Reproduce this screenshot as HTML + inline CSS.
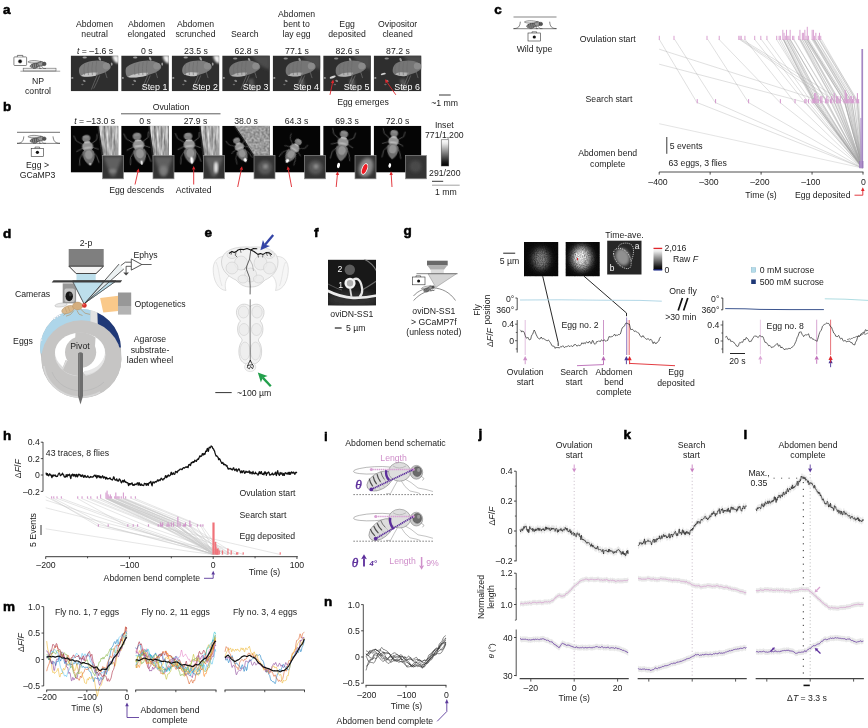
<!DOCTYPE html>
<html lang="en"><head><meta charset="utf-8"><title>Figure</title>
<style>
html,body{margin:0;padding:0;background:#fff}
svg{display:block}
text{font-family:"Liberation Sans",sans-serif;font-size:8.7px;fill:#222}
.pl{font-weight:bold;fill:#000;stroke:#000;stroke-width:0.55px}
</style></head><body>
<svg width="868" height="728" viewBox="0 0 868 728">
<rect width="868" height="728" fill="#fff"/>
<defs>
<filter id="b05" x="-20%" y="-20%" width="140%" height="140%"><feGaussianBlur stdDeviation="0.45"/></filter>
<filter id="b06" x="-20%" y="-20%" width="140%" height="140%"><feGaussianBlur stdDeviation="0.6"/></filter>
<filter id="b1" x="-20%" y="-20%" width="140%" height="140%"><feGaussianBlur stdDeviation="0.8"/></filter>
<filter id="b15" x="-30%" y="-30%" width="160%" height="160%"><feGaussianBlur stdDeviation="1.6"/></filter>
<filter id="b3" x="-50%" y="-50%" width="200%" height="200%"><feGaussianBlur stdDeviation="3"/></filter>
<filter id="noise" x="0" y="0" width="100%" height="100%" color-interpolation-filters="sRGB"><feTurbulence type="fractalNoise" baseFrequency="0.9" numOctaves="2" seed="4"/><feColorMatrix type="matrix" values="0 0 0 0 0  0 0 0 0 0  0 0 0 0 0  1.6 0 0 0 -0.45"/></filter>
<filter id="texf" x="0" y="0" width="100%" height="100%" color-interpolation-filters="sRGB"><feTurbulence type="fractalNoise" baseFrequency="0.6 0.06" numOctaves="3" seed="7"/><feColorMatrix type="matrix" values="1.0 0 0 0 0.16  1.0 0 0 0 0.16  1.0 0 0 0 0.16  0 0 0 0 1"/></filter><filter id="texf2" x="0" y="0" width="100%" height="100%" color-interpolation-filters="sRGB"><feTurbulence type="fractalNoise" baseFrequency="0.5" numOctaves="3" seed="3"/><feColorMatrix type="matrix" values="0.55 0 0 0 0.33  0.55 0 0 0 0.33  0.55 0 0 0 0.33  0 0 0 0 1"/></filter>
<pattern id="tex" patternUnits="userSpaceOnUse" x="0" y="0" width="60" height="60"><rect width="60" height="60" fill="#a8a8a8"/><rect width="60" height="60" filter="url(#texf)"/></pattern>
<pattern id="tex2" patternUnits="userSpaceOnUse" x="0" y="0" width="60" height="60"><rect width="60" height="60" fill="#999"/><rect width="60" height="60" filter="url(#texf2)"/></pattern>
<linearGradient id="gbw" x1="0" y1="0" x2="0" y2="1"><stop offset="0" stop-color="#fff"/><stop offset="0.15" stop-color="#e8e8e8"/><stop offset="0.85" stop-color="#1a1a1a"/><stop offset="1" stop-color="#000"/></linearGradient>
<clipPath id="ca"><rect x="0" y="0" width="47.7" height="35.8"/></clipPath>
<clipPath id="cb"><rect x="0" y="0" width="47.7" height="46.8"/></clipPath>
<clipPath id="ci"><rect x="0.4" y="0.4" width="20.2" height="22.5"/></clipPath>
<clipPath id="cf"><rect x="328" y="259.6" width="48" height="46"/></clipPath>
<clipPath id="cg1"><rect x="524" y="242" width="34.2" height="34.2"/></clipPath>
<clipPath id="cg2"><rect x="565.7" y="242" width="34" height="34.2"/></clipPath>
<clipPath id="cg3"><rect x="607.2" y="240.7" width="34.3" height="33.8"/></clipPath>
<clipPath id="cwL"><polygon points="30,300 90.8,300 90.2,353.6 30,353.6"/></clipPath>
<clipPath id="cwW"><polygon points="90.8,300 97,300 98,330 90.2,330"/></clipPath>
<clipPath id="cwR"><polygon points="97,300 130,300 130,347.5 110,347.5 98,330"/></clipPath>
</defs><!-- panels a,b -->
<text x="3" y="13.8" style="font-size:13.5px;" class="pl">a</text>
<text x="3" y="111" style="font-size:13.5px;" class="pl">b</text>
<text x="94.6" y="37.2" text-anchor="middle">neutral</text>
<text x="94.6" y="27.1" text-anchor="middle">Abdomen</text>
<text x="146.5" y="37.2" text-anchor="middle">elongated</text>
<text x="146.5" y="27.1" text-anchor="middle">Abdomen</text>
<text x="195.5" y="37.2" text-anchor="middle">scrunched</text>
<text x="195.5" y="27.1" text-anchor="middle">Abdomen</text>
<text x="244.8" y="37.2" text-anchor="middle">Search</text>
<text x="296.6" y="37.2" text-anchor="middle">lay egg</text>
<text x="296.6" y="27.1" text-anchor="middle">bent to</text>
<text x="296.6" y="17.0" text-anchor="middle">Abdomen</text>
<text x="347.1" y="37.2" text-anchor="middle">deposited</text>
<text x="347.1" y="27.1" text-anchor="middle">Egg</text>
<text x="397.6" y="37.2" text-anchor="middle">cleaned</text>
<text x="397.6" y="27.1" text-anchor="middle">Ovipositor</text>
<text x="95.0" y="53.6" text-anchor="middle"><tspan font-style="italic">t</tspan> = –1.6 s</text>
<text x="146.7" y="53.6" text-anchor="middle">0 s</text>
<text x="195.9" y="53.6" text-anchor="middle">23.5 s</text>
<text x="246.4" y="53.6" text-anchor="middle">62.8 s</text>
<text x="296.9" y="53.6" text-anchor="middle">77.1 s</text>
<text x="347.4" y="53.6" text-anchor="middle">82.6 s</text>
<text x="397.9" y="53.6" text-anchor="middle">87.2 s</text>
<g transform="translate(70.7 55.5)" clip-path="url(#ca)">
<rect x="0.00" y="0.00" width="47.70" height="35.80" fill="#2e2e2e"/>
<g filter="url(#b05)">
<path d="M41.5 0 H48 V8 C45 8 42 5 41.5 0 Z" fill="#f2f2f2" filter="url(#b1)"/>
<ellipse cx="14" cy="2" rx="2.2" ry="0.9" fill="#9a9a9a"/><ellipse cx="29" cy="3.4" rx="1.1" ry="2" fill="#a8a8a8" transform="rotate(-25 29 3.4)"/><ellipse cx="41" cy="8.6" rx="0.9" ry="1.6" fill="#9a9a9a"/>
<g transform="translate(0 0)">
<path d="M8.5 13 C9.3 9.5 14 6.8 21 5.4 C27 4.3 33 5 36 7 C39.6 8.6 41 11 39.4 13.2 C37 16 32 18 27 19.6 C22 21 15.3 21.599999999999998 10.3 20.4 C8.3 18.9 7.9 15.5 8.5 13 Z" fill="#7d7d7d"/>
<path d="M10.3 20.4 C13.8 17.2 20 16.8 27 17.2 L25 20.2 C20 21.4 15.3 21.7 10.3 20.4 Z" fill="#c6c6c6"/>
<path d="M14 8.2 Q12.6 13 13.7 19.6" stroke="#6b6b6b" stroke-width="0.6" fill="none"/>
<path d="M18 7.3 Q16.6 13 17.7 19.6" stroke="#6b6b6b" stroke-width="0.6" fill="none"/>
<path d="M22 6.4 Q20.6 13 21.7 19.6" stroke="#6b6b6b" stroke-width="0.6" fill="none"/>
<path d="M26 5.5 Q24.6 13 25.7 19.6" stroke="#6b6b6b" stroke-width="0.6" fill="none"/>
<ellipse cx="35.6" cy="10.6" rx="3.6" ry="3.4" fill="#8b8b8b"/>
<path d="M26.7 19.4 L23.5 27 L20.7 34 M29 20 L26 27 L23 33 M34.5 16.4 L35.6 20 L36.4 22.6" stroke="#7a7a7a" stroke-width="0.6" fill="none"/>
</g>
<ellipse cx="1.6" cy="22.4" rx="1.1" ry="0.9" fill="#9a9a9a"/><ellipse cx="13.5" cy="25.4" rx="1.5" ry="1" fill="#8a8a8a" transform="rotate(25 13.5 25.4)"/><ellipse cx="11.7" cy="29" rx="1.2" ry="0.8" fill="#6e6e6e"/>
</g>
</g>
<g transform="translate(121.2 55.5)" clip-path="url(#ca)">
<rect x="0.00" y="0.00" width="47.70" height="35.80" fill="#2e2e2e"/>
<g filter="url(#b05)">
<path d="M41.5 0 H48 V8 C45 8 42 5 41.5 0 Z" fill="#f2f2f2" filter="url(#b1)"/>
<ellipse cx="14" cy="2" rx="2.2" ry="0.9" fill="#9a9a9a"/><ellipse cx="29" cy="3.4" rx="1.1" ry="2" fill="#a8a8a8" transform="rotate(-25 29 3.4)"/><ellipse cx="41" cy="8.6" rx="0.9" ry="1.6" fill="#9a9a9a"/>
<g transform="translate(0 0)">
<path d="M4.7 13 C5.5 9.5 14 6.8 21 5.4 C27 4.3 33 5 36 7 C39.6 8.6 41 11 39.4 13.2 C37 16 32 18 27 19.6 C22 21 11.5 22.8 6.5 21.6 C4.5 20.1 4.1 15.5 4.7 13 Z" fill="#7d7d7d"/>
<path d="M6.5 21.6 C10.0 18.400000000000002 20 16.8 27 17.2 L25 20.2 C20 21.4 11.5 22.900000000000002 6.5 21.6 Z" fill="#c6c6c6"/>
<path d="M14 8.2 Q12.6 13 13.7 19.6" stroke="#6b6b6b" stroke-width="0.6" fill="none"/>
<path d="M18 7.3 Q16.6 13 17.7 19.6" stroke="#6b6b6b" stroke-width="0.6" fill="none"/>
<path d="M22 6.4 Q20.6 13 21.7 19.6" stroke="#6b6b6b" stroke-width="0.6" fill="none"/>
<path d="M26 5.5 Q24.6 13 25.7 19.6" stroke="#6b6b6b" stroke-width="0.6" fill="none"/>
<ellipse cx="35.6" cy="10.6" rx="3.6" ry="3.4" fill="#8b8b8b"/>
<path d="M26.7 19.4 L23.5 27 L20.7 34 M29 20 L26 27 L23 33 M34.5 16.4 L35.6 20 L36.4 22.6" stroke="#7a7a7a" stroke-width="0.6" fill="none"/>
</g>
<ellipse cx="1.6" cy="22.4" rx="1.1" ry="0.9" fill="#9a9a9a"/><ellipse cx="13.5" cy="25.4" rx="1.5" ry="1" fill="#8a8a8a" transform="rotate(25 13.5 25.4)"/><ellipse cx="11.7" cy="29" rx="1.2" ry="0.8" fill="#6e6e6e"/>
</g>
<text x="46.2" y="34.3" text-anchor="end" style="fill:#fff;font-size:8.9px;">Step 1</text>
</g>
<g transform="translate(171.7 55.5)" clip-path="url(#ca)">
<rect x="0.00" y="0.00" width="47.70" height="35.80" fill="#2e2e2e"/>
<g filter="url(#b05)">
<path d="M41.5 0 H48 V8 C45 8 42 5 41.5 0 Z" fill="#f2f2f2" filter="url(#b1)"/>
<ellipse cx="14" cy="2" rx="2.2" ry="0.9" fill="#9a9a9a"/><ellipse cx="29" cy="3.4" rx="1.1" ry="2" fill="#a8a8a8" transform="rotate(-25 29 3.4)"/><ellipse cx="41" cy="8.6" rx="0.9" ry="1.6" fill="#9a9a9a"/>
<g transform="translate(0 0)">
<path d="M10.7 13 C11.5 9.5 14 6.8 21 5.4 C27 4.3 33 5 36 7 C39.6 8.6 41 11 39.4 13.2 C37 16 32 18 27 19.6 C22 21 17.5 20.4 12.5 19.2 C10.5 17.7 10.1 15.5 10.7 13 Z" fill="#7d7d7d"/>
<path d="M12.5 19.2 C16.0 16.0 20 16.8 27 17.2 L25 20.2 C20 21.4 17.5 20.5 12.5 19.2 Z" fill="#c6c6c6"/>
<path d="M14 8.2 Q12.6 13 13.7 19.6" stroke="#6b6b6b" stroke-width="0.6" fill="none"/>
<path d="M18 7.3 Q16.6 13 17.7 19.6" stroke="#6b6b6b" stroke-width="0.6" fill="none"/>
<path d="M22 6.4 Q20.6 13 21.7 19.6" stroke="#6b6b6b" stroke-width="0.6" fill="none"/>
<path d="M26 5.5 Q24.6 13 25.7 19.6" stroke="#6b6b6b" stroke-width="0.6" fill="none"/>
<ellipse cx="35.6" cy="10.6" rx="3.6" ry="3.4" fill="#8b8b8b"/>
<path d="M26.7 19.4 L23.5 27 L20.7 34 M29 20 L26 27 L23 33 M34.5 16.4 L35.6 20 L36.4 22.6" stroke="#7a7a7a" stroke-width="0.6" fill="none"/>
</g>
<ellipse cx="1.6" cy="22.4" rx="1.1" ry="0.9" fill="#9a9a9a"/><ellipse cx="13.5" cy="25.4" rx="1.5" ry="1" fill="#8a8a8a" transform="rotate(25 13.5 25.4)"/><ellipse cx="11.7" cy="29" rx="1.2" ry="0.8" fill="#6e6e6e"/>
</g>
<text x="46.2" y="34.3" text-anchor="end" style="fill:#fff;font-size:8.9px;">Step 2</text>
</g>
<g transform="translate(222.2 55.5)" clip-path="url(#ca)">
<rect x="0.00" y="0.00" width="47.70" height="35.80" fill="#2e2e2e"/>
<g filter="url(#b05)">
<path d="M30 0 H48 V14 C42 13 34 8 30 0 Z" fill="#4b4b4b" filter="url(#b15)"/>
<ellipse cx="13" cy="3" rx="2.2" ry="0.9" fill="#8a8a8a"/><ellipse cx="27" cy="4.4" rx="1.1" ry="2" fill="#999" transform="rotate(-25 27 4.4)"/>
<path d="M26 24 L29 36 H33 L31 23 Z" fill="#555" filter="url(#b1)"/>
<g transform="translate(-2 0)">
<path d="M9.2 13 C10 9.5 14 6.8 21 5.4 C27 4.3 33 5 36 7 C39.6 8.6 41 11 39.4 13.2 C37 16 32 18 27 19.6 C22 21 16 21.7 11 20.5 C9 19.0 8.6 15.5 9.2 13 Z" fill="#747474"/>
<path d="M11 20.5 C14.5 17.3 20 16.8 27 17.2 L25 20.2 C20 21.4 16 21.8 11 20.5 Z" fill="#b2b2b2"/>
<path d="M14 8.2 Q12.6 13 13.7 19.6" stroke="#6b6b6b" stroke-width="0.6" fill="none"/>
<path d="M18 7.3 Q16.6 13 17.7 19.6" stroke="#6b6b6b" stroke-width="0.6" fill="none"/>
<path d="M22 6.4 Q20.6 13 21.7 19.6" stroke="#6b6b6b" stroke-width="0.6" fill="none"/>
<path d="M26 5.5 Q24.6 13 25.7 19.6" stroke="#6b6b6b" stroke-width="0.6" fill="none"/>
<ellipse cx="35.6" cy="10.6" rx="3.6" ry="3.4" fill="#8b8b8b"/>
<path d="M26.7 19.4 L23.5 27 L20.7 34 M29 20 L26 27 L23 33 M34.5 16.4 L35.6 20 L36.4 22.6" stroke="#7a7a7a" stroke-width="0.6" fill="none"/>
</g>
<ellipse cx="1.6" cy="22.4" rx="1.1" ry="0.9" fill="#9a9a9a"/><ellipse cx="13.5" cy="25.4" rx="1.5" ry="1" fill="#8a8a8a" transform="rotate(25 13.5 25.4)"/><ellipse cx="11.7" cy="29" rx="1.2" ry="0.8" fill="#6e6e6e"/>
</g>
<text x="46.2" y="34.3" text-anchor="end" style="fill:#fff;font-size:8.9px;">Step 3</text>
</g>
<g transform="translate(272.7 55.5)" clip-path="url(#ca)">
<rect x="0.00" y="0.00" width="47.70" height="35.80" fill="#2e2e2e"/>
<g filter="url(#b05)">
<path d="M30 0 H48 V14 C42 13 34 8 30 0 Z" fill="#4b4b4b" filter="url(#b15)"/>
<ellipse cx="13" cy="3" rx="2.2" ry="0.9" fill="#8a8a8a"/><ellipse cx="27" cy="4.4" rx="1.1" ry="2" fill="#999" transform="rotate(-25 27 4.4)"/>
<path d="M26 24 L29 36 H33 L31 23 Z" fill="#555" filter="url(#b1)"/>
<g transform="translate(3 0)">
<path d="M10.2 13 C11 9.5 14 6.8 21 5.4 C27 4.3 33 5 36 7 C39.6 8.6 41 11 39.4 13.2 C37 16 32 18 27 19.6 C22 21 17 21.2 12 20 C10 18.5 9.6 15.5 10.2 13 Z" fill="#747474"/>
<path d="M12 20 C15.5 16.8 20 16.8 27 17.2 L25 20.2 C20 21.4 17 21.3 12 20 Z" fill="#b2b2b2"/>
<path d="M14 8.2 Q12.6 13 13.7 19.6" stroke="#6b6b6b" stroke-width="0.6" fill="none"/>
<path d="M18 7.3 Q16.6 13 17.7 19.6" stroke="#6b6b6b" stroke-width="0.6" fill="none"/>
<path d="M22 6.4 Q20.6 13 21.7 19.6" stroke="#6b6b6b" stroke-width="0.6" fill="none"/>
<path d="M26 5.5 Q24.6 13 25.7 19.6" stroke="#6b6b6b" stroke-width="0.6" fill="none"/>
<ellipse cx="35.6" cy="10.6" rx="3.6" ry="3.4" fill="#8b8b8b"/>
<path d="M26.7 19.4 L23.5 27 L20.7 34 M29 20 L26 27 L23 33 M34.5 16.4 L35.6 20 L36.4 22.6" stroke="#7a7a7a" stroke-width="0.6" fill="none"/>
</g>
<ellipse cx="1.6" cy="22.4" rx="1.1" ry="0.9" fill="#9a9a9a"/><ellipse cx="13.5" cy="25.4" rx="1.5" ry="1" fill="#8a8a8a" transform="rotate(25 13.5 25.4)"/><ellipse cx="11.7" cy="29" rx="1.2" ry="0.8" fill="#6e6e6e"/>
</g>
<text x="46.2" y="34.3" text-anchor="end" style="fill:#fff;font-size:8.9px;">Step 4</text>
</g>
<g transform="translate(323.2 55.5)" clip-path="url(#ca)">
<rect x="0.00" y="0.00" width="47.70" height="35.80" fill="#2e2e2e"/>
<g filter="url(#b05)">
<path d="M30 0 H48 V14 C42 13 34 8 30 0 Z" fill="#4b4b4b" filter="url(#b15)"/>
<ellipse cx="13" cy="3" rx="2.2" ry="0.9" fill="#8a8a8a"/><ellipse cx="27" cy="4.4" rx="1.1" ry="2" fill="#999" transform="rotate(-25 27 4.4)"/>
<path d="M26 24 L29 36 H33 L31 23 Z" fill="#555" filter="url(#b1)"/>
<g transform="translate(3 0)">
<path d="M9.7 13 C10.5 9.5 14 6.8 21 5.4 C27 4.3 33 5 36 7 C39.6 8.6 41 11 39.4 13.2 C37 16 32 18 27 19.6 C22 21 16.5 21.7 11.5 20.5 C9.5 19.0 9.1 15.5 9.7 13 Z" fill="#747474"/>
<path d="M11.5 20.5 C15.0 17.3 20 16.8 27 17.2 L25 20.2 C20 21.4 16.5 21.8 11.5 20.5 Z" fill="#b2b2b2"/>
<path d="M14 8.2 Q12.6 13 13.7 19.6" stroke="#6b6b6b" stroke-width="0.6" fill="none"/>
<path d="M18 7.3 Q16.6 13 17.7 19.6" stroke="#6b6b6b" stroke-width="0.6" fill="none"/>
<path d="M22 6.4 Q20.6 13 21.7 19.6" stroke="#6b6b6b" stroke-width="0.6" fill="none"/>
<path d="M26 5.5 Q24.6 13 25.7 19.6" stroke="#6b6b6b" stroke-width="0.6" fill="none"/>
<ellipse cx="35.6" cy="10.6" rx="3.6" ry="3.4" fill="#8b8b8b"/>
<path d="M26.7 19.4 L23.5 27 L20.7 34 M29 20 L26 27 L23 33 M34.5 16.4 L35.6 20 L36.4 22.6" stroke="#7a7a7a" stroke-width="0.6" fill="none"/>
</g>
<ellipse cx="1.6" cy="22.4" rx="1.1" ry="0.9" fill="#9a9a9a"/><ellipse cx="13.5" cy="25.4" rx="1.5" ry="1" fill="#8a8a8a" transform="rotate(25 13.5 25.4)"/><ellipse cx="11.7" cy="29" rx="1.2" ry="0.8" fill="#6e6e6e"/>
<ellipse cx="9.5" cy="21.6" rx="3.2" ry="1.2" fill="#d4d4d4" transform="rotate(-18 9.5 21.6)"/>
</g>
<text x="46.2" y="34.3" text-anchor="end" style="fill:#fff;font-size:8.9px;">Step 5</text>
</g>
<g transform="translate(373.7 55.5)" clip-path="url(#ca)">
<rect x="0.00" y="0.00" width="47.70" height="35.80" fill="#2e2e2e"/>
<g filter="url(#b05)">
<path d="M30 0 H48 V14 C42 13 34 8 30 0 Z" fill="#4b4b4b" filter="url(#b15)"/>
<ellipse cx="13" cy="3" rx="2.2" ry="0.9" fill="#8a8a8a"/><ellipse cx="27" cy="4.4" rx="1.1" ry="2" fill="#999" transform="rotate(-25 27 4.4)"/>
<path d="M26 24 L29 36 H33 L31 23 Z" fill="#555" filter="url(#b1)"/>
<g transform="translate(8 0)">
<path d="M11.2 13 C12 9.5 14 6.8 21 5.4 C27 4.3 33 5 36 7 C39.6 8.6 41 11 39.4 13.2 C37 16 32 18 27 19.6 C22 21 18 20.2 13 19 C11 17.5 10.6 15.5 11.2 13 Z" fill="#747474"/>
<path d="M13 19 C16.5 15.8 20 16.8 27 17.2 L25 20.2 C20 21.4 18 20.3 13 19 Z" fill="#b2b2b2"/>
<path d="M14 8.2 Q12.6 13 13.7 19.6" stroke="#6b6b6b" stroke-width="0.6" fill="none"/>
<path d="M18 7.3 Q16.6 13 17.7 19.6" stroke="#6b6b6b" stroke-width="0.6" fill="none"/>
<path d="M22 6.4 Q20.6 13 21.7 19.6" stroke="#6b6b6b" stroke-width="0.6" fill="none"/>
<path d="M26 5.5 Q24.6 13 25.7 19.6" stroke="#6b6b6b" stroke-width="0.6" fill="none"/>
<ellipse cx="35.6" cy="10.6" rx="3.6" ry="3.4" fill="#8b8b8b"/>
<path d="M26.7 19.4 L23.5 27 L20.7 34 M29 20 L26 27 L23 33 M34.5 16.4 L35.6 20 L36.4 22.6" stroke="#7a7a7a" stroke-width="0.6" fill="none"/>
</g>
<ellipse cx="1.6" cy="22.4" rx="1.1" ry="0.9" fill="#9a9a9a"/><ellipse cx="13.5" cy="25.4" rx="1.5" ry="1" fill="#8a8a8a" transform="rotate(25 13.5 25.4)"/><ellipse cx="11.7" cy="29" rx="1.2" ry="0.8" fill="#6e6e6e"/>
<ellipse cx="9.6" cy="18.4" rx="2.6" ry="1" fill="#cfcfcf" transform="rotate(-15 9.6 18.4)"/>
</g>
<text x="46.2" y="34.3" text-anchor="end" style="fill:#fff;font-size:8.9px;">Step 6</text>
</g>
<line x1="330.00" y1="94.80" x2="332.46" y2="83.02" stroke="#e0262c" stroke-width="0.9"/><polygon points="333.20,79.50 334.13,83.37 332.46,83.02 330.80,82.68" fill="#e0262c"/>
<line x1="395.80" y1="94.80" x2="387.06" y2="82.25" stroke="#e0262c" stroke-width="0.9"/><polygon points="385.00,79.30 388.45,81.28 387.06,82.25 385.66,83.23" fill="#e0262c"/>
<text x="363" y="105" text-anchor="middle">Egg emerges</text>
<g stroke="#333" stroke-width="0.6" fill="none">
<rect x="13.9" y="56.9" width="12.7" height="8.6" rx="0.8" fill="#fff"/><path d="M17.4 56.9 v-1.5 h5.4 v1.5" fill="#ddd"/><circle cx="20.1" cy="61.3" r="1.9" fill="#111" stroke="#999" stroke-width="0.5"/>
<rect x="23.2" y="68.2" width="32.8" height="2.8" fill="#efefef" stroke="#666"/><path d="M20.4 71.2 H60.2" stroke="#666"/>
</g>
<g transform="translate(37.5 64.5) scale(1.0)" stroke="#333" stroke-width="0.5" fill="none"><ellipse cx="-2" cy="0.5" rx="5.6" ry="2.2" fill="#8a8a8a" transform="rotate(-10)"/><path d="M-5.5 -0.6 L-4.8 2.6 M-3.4 -1.2 L-2.8 2.600 M-1.3 -1.6 L-0.8 2.4" stroke="#333" stroke-width="0.6"/><ellipse cx="3.2" cy="-0.8" rx="2.9" ry="2.4" fill="#999"/><circle cx="6.8" cy="-0.6" r="1.8" fill="#555"/><path d="M3.5 -2.8 C-2 -4.6 -8 -4 -9.6 -2.6 C-8 -1.2 -2 -1.2 3.5 -2.4 Z" fill="#e8e8e8" fill-opacity="0.85"/><path d="M4 1.6 L6 4 H8.5 M2.5 1.8 L2 4 H4 M0.5 2 L-2 4 H-4.5"/></g>
<text x="38" y="84" text-anchor="middle">NP</text>
<text x="38" y="94.2" text-anchor="middle">control</text>
<text x="171" y="109.8" text-anchor="middle">Ovulation</text>
<line x1="121.00" y1="113.80" x2="220.50" y2="113.80" stroke="#333" stroke-width="0.8"/>
<text x="94.6" y="124.2" text-anchor="middle"><tspan font-style="italic">t</tspan> = –13.0 s</text>
<text x="145.1" y="124.2" text-anchor="middle">0 s</text>
<text x="195.5" y="124.2" text-anchor="middle">27.9 s</text>
<text x="246.0" y="124.2" text-anchor="middle">38.0 s</text>
<text x="296.6" y="124.2" text-anchor="middle">64.3 s</text>
<text x="347.1" y="124.2" text-anchor="middle">69.3 s</text>
<text x="397.6" y="124.2" text-anchor="middle">72.0 s</text>
<g transform="translate(70.7 125.8)" clip-path="url(#cb)">
<rect x="0.00" y="0.00" width="47.70" height="46.80" fill="#050505"/>
<path d="M27.3 0 H47.7 V46.8 H34 L31.5 30 Z" fill="url(#tex)"/>
<path d="M27.3 0 L31.5 30 L34 46.8" stroke="#222" stroke-width="1.6" fill="none" filter="url(#b05)"/>
<g transform="translate(17.1 22.8) rotate(-6) scale(0.9)">
<g filter="url(#b06)">
<path d="M-5 -5 L-12 -10 L-14 -16 M5 -5 L11 -9 L12 -15 M-5 -1 L-13 2 M5 -1 L12 2 M-5 3 L-10 10 L-11 18 M5 3 L9 10 L11 17" stroke="#6c6c6c" stroke-width="0.8" fill="none"/>
<ellipse cx="-0.5" cy="-11.5" rx="4.6" ry="3.8" fill="#7c7c7c"/>
<ellipse cx="-0.5" cy="-13" rx="3" ry="1.6" fill="#8a8a8a"/>
<ellipse cx="0" cy="-2.2" rx="6.2" ry="5.5" fill="#959595"/>
<path d="M-6 3 C-7.5 8 -5 15 1 19 C6 15 8 8 6 3 C3 1 -3 1 -6 3 Z" fill="#6e6e6e"/>
<ellipse cx="0.3" cy="7" rx="4.2" ry="5" fill="#949494"/>
<ellipse cx="0" cy="-7" rx="3.6" ry="1" fill="#bdbdbd"/>
<ellipse cx="0" cy="-1" rx="4.4" ry="1" fill="#b8b8b8"/>
<ellipse cx="0.8" cy="17.5" rx="1.2" ry="1.2" fill="#ddd"/>
</g>
</g>
</g>
<g transform="translate(121.2 125.8)" clip-path="url(#cb)">
<rect x="0.00" y="0.00" width="47.70" height="46.80" fill="#050505"/>
<path d="M27.7 0 H47.7 V46.8 H34 L31.5 30 Z" fill="url(#tex)"/>
<path d="M27.7 0 L31.5 30 L34 46.8" stroke="#222" stroke-width="1.6" fill="none" filter="url(#b05)"/>
<g transform="translate(17.6 21.2) rotate(-7) scale(0.95)">
<g filter="url(#b06)">
<path d="M-5 -5 L-12 -10 L-14 -16 M5 -5 L11 -9 L12 -15 M-5 -1 L-13 2 M5 -1 L12 2 M-5 3 L-10 10 L-11 18 M5 3 L9 10 L11 17" stroke="#6c6c6c" stroke-width="0.8" fill="none"/>
<ellipse cx="-0.5" cy="-11.5" rx="4.6" ry="3.8" fill="#7c7c7c"/>
<ellipse cx="-0.5" cy="-13" rx="3" ry="1.6" fill="#8a8a8a"/>
<ellipse cx="0" cy="-2.2" rx="6.2" ry="5.5" fill="#959595"/>
<path d="M-6 3 C-7.5 8 -5 15 1 19 C6 15 8 8 6 3 C3 1 -3 1 -6 3 Z" fill="#6e6e6e"/>
<ellipse cx="0.3" cy="7" rx="4.2" ry="5" fill="#949494"/>
<ellipse cx="0" cy="-7" rx="3.6" ry="1" fill="#bdbdbd"/>
<ellipse cx="0" cy="-1" rx="4.4" ry="1" fill="#b8b8b8"/>
</g>
<ellipse cx="1" cy="16.5" rx="1.1" ry="2.4" fill="#eee" filter="url(#b05)"/>
</g>
</g>
<g transform="translate(171.7 125.8)" clip-path="url(#cb)">
<rect x="0.00" y="0.00" width="47.70" height="46.80" fill="#050505"/>
<path d="M28.1 0 H47.7 V46.8 H34 L31.5 30 Z" fill="url(#tex)"/>
<path d="M28.1 0 L31.5 30 L34 46.8" stroke="#222" stroke-width="1.6" fill="none" filter="url(#b05)"/>
<g transform="translate(17.8 21) rotate(-5) scale(0.93)">
<g filter="url(#b06)">
<path d="M-5 -5 L-12 -10 L-14 -16 M5 -5 L11 -9 L12 -15 M-5 -1 L-13 2 M5 -1 L12 2 M-5 3 L-10 10 L-11 18 M5 3 L9 10 L11 17" stroke="#6c6c6c" stroke-width="0.8" fill="none"/>
<ellipse cx="-0.5" cy="-11.5" rx="4.6" ry="3.8" fill="#7c7c7c"/>
<ellipse cx="-0.5" cy="-13" rx="3" ry="1.6" fill="#8a8a8a"/>
<ellipse cx="0" cy="-2.2" rx="6.2" ry="5.5" fill="#959595"/>
<path d="M-6 3 C-7.5 8 -5 15 1 19 C6 15 8 8 6 3 C3 1 -3 1 -6 3 Z" fill="#6e6e6e"/>
<ellipse cx="0.3" cy="7" rx="4.2" ry="5" fill="#949494"/>
<ellipse cx="0" cy="-7" rx="3.6" ry="1" fill="#bdbdbd"/>
<ellipse cx="0" cy="-1" rx="4.4" ry="1" fill="#b8b8b8"/>
</g>
<ellipse cx="1.2" cy="14.5" rx="1.6" ry="3.6" fill="#fff" filter="url(#b05)"/>
</g>
</g>
<g transform="translate(222.2 125.8)" clip-path="url(#cb)">
<rect x="0.00" y="0.00" width="47.70" height="46.80" fill="#050505"/>
<path d="M12 0 H47.7 V46.8 H39 L31.4 30 Q22 14 12 0 Z" fill="url(#tex2)"/>
<path d="M12 0 Q22 14 31.4 30 L39 46.8" stroke="#222" stroke-width="1.4" fill="none" filter="url(#b05)"/>
<g transform="translate(17.9 22.8) rotate(-21) scale(0.76)">
<g filter="url(#b06)">
<path d="M-5 -5 L-12 -10 L-14 -16 M5 -5 L11 -9 L12 -15 M-5 -1 L-13 2 M5 -1 L12 2 M-5 3 L-10 10 L-11 18 M5 3 L9 10 L11 17" stroke="#6c6c6c" stroke-width="0.8" fill="none"/>
<ellipse cx="-0.5" cy="-11.5" rx="4.6" ry="3.8" fill="#7c7c7c"/>
<ellipse cx="-0.5" cy="-13" rx="3" ry="1.6" fill="#8a8a8a"/>
<ellipse cx="0" cy="-2.2" rx="6.2" ry="5.5" fill="#959595"/>
<path d="M-6 3 C-7.5 8 -5 15 1 19 C6 15 8 8 6 3 C3 1 -3 1 -6 3 Z" fill="#6e6e6e"/>
<ellipse cx="0.3" cy="7" rx="4.2" ry="5" fill="#949494"/>
<ellipse cx="0" cy="-7" rx="3.6" ry="1" fill="#bdbdbd"/>
<ellipse cx="0" cy="-1" rx="4.4" ry="1" fill="#b8b8b8"/>
</g>
<ellipse cx="1" cy="16.5" rx="2" ry="2.6" fill="#fff" filter="url(#b05)"/>
</g>
</g>
<g transform="translate(272.7 125.8)" clip-path="url(#cb)">
<rect x="0.00" y="0.00" width="47.70" height="46.80" fill="#050505"/>
<g transform="translate(21 23.9) rotate(33) scale(0.78)">
<g filter="url(#b06)">
<path d="M-5 -5 L-12 -10 L-14 -16 M5 -5 L11 -9 L12 -15 M-5 -1 L-13 2 M5 -1 L12 2 M-5 3 L-10 10 L-11 18 M5 3 L9 10 L11 17" stroke="#6c6c6c" stroke-width="0.8" fill="none"/>
<ellipse cx="-0.5" cy="-11.5" rx="4.6" ry="3.8" fill="#7c7c7c"/>
<ellipse cx="-0.5" cy="-13" rx="3" ry="1.6" fill="#8a8a8a"/>
<ellipse cx="0" cy="-2.2" rx="6.2" ry="5.5" fill="#959595"/>
<path d="M-6 3 C-7.5 8 -5 15 1 19 C6 15 8 8 6 3 C3 1 -3 1 -6 3 Z" fill="#6e6e6e"/>
<ellipse cx="0.3" cy="7" rx="4.2" ry="5" fill="#949494"/>
<ellipse cx="0" cy="-7" rx="3.6" ry="1" fill="#bdbdbd"/>
<ellipse cx="0" cy="-1" rx="4.4" ry="1" fill="#b8b8b8"/>
</g>
<ellipse cx="1" cy="16.5" rx="2" ry="2.6" fill="#fff" filter="url(#b05)"/>
</g>
</g>
<g transform="translate(323.2 125.8)" clip-path="url(#cb)">
<rect x="0.00" y="0.00" width="47.70" height="46.80" fill="#050505"/>
<g transform="translate(19.5 18.5) rotate(10) scale(0.9)">
<g filter="url(#b06)">
<path d="M-5 -5 L-12 -10 L-14 -16 M5 -5 L11 -9 L12 -15 M-5 -1 L-13 2 M5 -1 L12 2 M-5 3 L-10 10 L-11 18 M5 3 L9 10 L11 17" stroke="#6c6c6c" stroke-width="0.8" fill="none"/>
<ellipse cx="-0.5" cy="-11.5" rx="4.6" ry="3.8" fill="#7c7c7c"/>
<ellipse cx="-0.5" cy="-13" rx="3" ry="1.6" fill="#8a8a8a"/>
<ellipse cx="0" cy="-2.2" rx="6.2" ry="5.5" fill="#959595"/>
<path d="M-6 3 C-7.5 8 -5 15 1 19 C6 15 8 8 6 3 C3 1 -3 1 -6 3 Z" fill="#6e6e6e"/>
<ellipse cx="0.3" cy="7" rx="4.2" ry="5" fill="#949494"/>
<ellipse cx="0" cy="-7" rx="3.6" ry="1" fill="#bdbdbd"/>
<ellipse cx="0" cy="-1" rx="4.4" ry="1" fill="#b8b8b8"/>
</g>
</g>
<ellipse cx="15.3" cy="39.7" rx="1.5" ry="2.7" fill="#fff" transform="rotate(12 15.3 39.7)"/>
</g>
<g transform="translate(373.7 125.8)" clip-path="url(#cb)">
<rect x="0.00" y="0.00" width="47.70" height="46.80" fill="#050505"/>
<g transform="translate(19.6 17.4) rotate(7.5) scale(0.86)">
<g filter="url(#b06)">
<path d="M-5 -5 L-12 -10 L-14 -16 M5 -5 L11 -9 L12 -15 M-5 -1 L-13 2 M5 -1 L12 2 M-5 3 L-10 10 L-11 18 M5 3 L9 10 L11 17" stroke="#6c6c6c" stroke-width="0.8" fill="none"/>
<ellipse cx="-0.5" cy="-11.5" rx="4.6" ry="3.8" fill="#7c7c7c"/>
<ellipse cx="-0.5" cy="-13" rx="3" ry="1.6" fill="#8a8a8a"/>
<ellipse cx="0" cy="-2.2" rx="6.2" ry="5.5" fill="#959595"/>
<path d="M-6 3 C-7.5 8 -5 15 1 19 C6 15 8 8 6 3 C3 1 -3 1 -6 3 Z" fill="#6e6e6e"/>
<ellipse cx="0.3" cy="7" rx="4.2" ry="5" fill="#949494"/>
<ellipse cx="0" cy="-7" rx="3.6" ry="1" fill="#bdbdbd"/>
<ellipse cx="0" cy="-1" rx="4.4" ry="1" fill="#b8b8b8"/>
</g>
</g>
<ellipse cx="16.1" cy="39.7" rx="1.3" ry="2.4" fill="#fff" transform="rotate(10 16.1 39.7)"/>
</g>
<g transform="translate(102.5 155.5)">
<rect x="0.00" y="0.00" width="21.00" height="23.30" fill="#343434" stroke="#8c8c8c" stroke-width="0.7"/>
<g clip-path="url(#ci)">
<path d="M1 1 H20 L12.500 21 H8.500 Z" fill="#606060" filter="url(#b15)"/>
<ellipse cx="10.2" cy="15.500" rx="3.500" ry="2.200" fill="#7e7e7e" filter="url(#b1)"/>
</g></g>
<g transform="translate(153.0 155.5)">
<rect x="0.00" y="0.00" width="21.00" height="23.30" fill="#343434" stroke="#8c8c8c" stroke-width="0.7"/>
<g clip-path="url(#ci)">
<path d="M1 1 H20 L12.500 21 H8.500 Z" fill="#606060" filter="url(#b15)"/>
<ellipse cx="10.5" cy="15" rx="4" ry="5" fill="#7c7c7c" filter="url(#b15)"/>
</g></g>
<g transform="translate(203.5 155.5)">
<rect x="0.00" y="0.00" width="21.00" height="23.30" fill="#343434" stroke="#8c8c8c" stroke-width="0.7"/>
<g clip-path="url(#ci)">
<path d="M1 1 H20 L12.500 21 H8.500 Z" fill="#606060" filter="url(#b15)"/>
<ellipse cx="12.5" cy="12" rx="2" ry="6" fill="#e8e8e8" filter="url(#b1)"/>
</g></g>
<g transform="translate(254.0 155.5)">
<rect x="0.00" y="0.00" width="21.00" height="23.30" fill="#343434" stroke="#8c8c8c" stroke-width="0.7"/>
<g clip-path="url(#ci)">
<ellipse cx="11" cy="12" rx="7" ry="7" fill="#5a5a5a" filter="url(#b15)"/>
<ellipse cx="11.5" cy="11" rx="2.5" ry="2.5" fill="#8a8a8a" filter="url(#b1)"/>
</g></g>
<g transform="translate(304.5 155.5)">
<rect x="0.00" y="0.00" width="21.00" height="23.30" fill="#343434" stroke="#8c8c8c" stroke-width="0.7"/>
<g clip-path="url(#ci)">
<ellipse cx="11" cy="12" rx="7" ry="7" fill="#5a5a5a" filter="url(#b15)"/>
<ellipse cx="11.5" cy="11" rx="2.5" ry="2.5" fill="#8a8a8a" filter="url(#b1)"/>
</g></g>
<g transform="translate(355.0 155.5)">
<rect x="0.00" y="0.00" width="21.00" height="23.30" fill="#343434" stroke="#8c8c8c" stroke-width="0.7"/>
<g clip-path="url(#ci)">
<ellipse cx="11" cy="12" rx="7" ry="10" fill="#8a8a8a" filter="url(#b15)" transform="rotate(20 11 12)"/>
<ellipse cx="9.6" cy="13.5" rx="3" ry="6" fill="#fff" transform="rotate(22 9.6 13.5)"/>
<ellipse cx="9.6" cy="13.5" rx="2.2" ry="5.2" fill="#ee1c25" transform="rotate(22 9.6 13.5)"/>
</g></g>
<g transform="translate(405.5 155.5)">
<rect x="0.00" y="0.00" width="21.00" height="23.30" fill="#343434" stroke="#8c8c8c" stroke-width="0.7"/>
<g clip-path="url(#ci)">
<ellipse cx="10" cy="11" rx="6" ry="6" fill="#4a4a4a" filter="url(#b15)"/>
</g></g>
<line x1="135.00" y1="184.50" x2="137.89" y2="172.01" stroke="#e0262c" stroke-width="0.9"/><polygon points="138.70,168.50 139.55,172.39 137.89,172.01 136.23,171.62" fill="#e0262c"/>
<line x1="193.70" y1="184.50" x2="193.70" y2="169.60" stroke="#e0262c" stroke-width="0.9"/><polygon points="193.70,166.00 195.40,169.60 193.70,169.60 192.00,169.60" fill="#e0262c"/>
<line x1="237.70" y1="187.00" x2="241.27" y2="169.73" stroke="#e0262c" stroke-width="0.9"/><polygon points="242.00,166.20 242.94,170.07 241.27,169.73 239.61,169.38" fill="#e0262c"/>
<line x1="291.60" y1="187.00" x2="288.36" y2="169.74" stroke="#e0262c" stroke-width="0.9"/><polygon points="287.70,166.20 290.03,169.43 288.36,169.74 286.69,170.05" fill="#e0262c"/>
<line x1="336.20" y1="187.00" x2="337.36" y2="174.88" stroke="#e0262c" stroke-width="0.9"/><polygon points="337.70,171.30 339.05,175.05 337.36,174.88 335.67,174.72" fill="#e0262c"/>
<line x1="392.00" y1="187.00" x2="391.23" y2="174.89" stroke="#e0262c" stroke-width="0.9"/><polygon points="391.00,171.30 392.93,174.78 391.23,174.89 389.53,175.00" fill="#e0262c"/>
<text x="136.7" y="193" text-anchor="middle">Egg descends</text>
<text x="193.7" y="193" text-anchor="middle">Activated</text>
<line x1="17.00" y1="132.30" x2="60.00" y2="132.30" stroke="#333" stroke-width="0.7"/>
<path d="M17 143.3 C22 143.3 23.5 141 23.8 136.4 M60 143.3 C55 143.3 53.5 141 53 136.4" stroke="#333" stroke-width="0.6" fill="none"/>
<line x1="17.00" y1="143.40" x2="60.00" y2="143.40" stroke="#333" stroke-width="0.6"/>
<g transform="translate(37.5 139.3) scale(1.0)" stroke="#333" stroke-width="0.5" fill="none"><ellipse cx="-2" cy="0.5" rx="5.6" ry="2.2" fill="#8a8a8a" transform="rotate(-10)"/><path d="M-5.5 -0.6 L-4.8 2.6 M-3.4 -1.2 L-2.8 2.600 M-1.3 -1.6 L-0.8 2.4" stroke="#333" stroke-width="0.6"/><ellipse cx="3.2" cy="-0.8" rx="2.9" ry="2.4" fill="#999"/><circle cx="6.8" cy="-0.6" r="1.8" fill="#555"/><path d="M3.5 -2.8 C-2 -4.6 -8 -4 -9.6 -2.6 C-8 -1.2 -2 -1.2 3.5 -2.4 Z" fill="#e8e8e8" fill-opacity="0.85"/><path d="M4 1.6 L6 4 H8.5 M2.5 1.8 L2 4 H4 M0.5 2 L-2 4 H-4.5"/></g>
<g stroke="#333" stroke-width="0.6" fill="none"><rect x="31.2" y="148.3" width="12.4" height="8" fill="#fff"/><path d="M35 148.3 v-1.2 h4.6 v1.2"/><circle cx="37.4" cy="152.3" r="1.6" fill="#111" stroke="none"/></g>
<text x="37.5" y="168.4" text-anchor="middle">Egg &gt;</text>
<text x="37.5" y="178.4" text-anchor="middle">GCaMP3</text>
<line x1="439.00" y1="95.00" x2="450.70" y2="95.00" stroke="#222" stroke-width="0.9"/>
<text x="444.6" y="105.5" text-anchor="middle">~1 mm</text>
<text x="444.3" y="127.7" text-anchor="middle">Inset</text>
<text x="444.3" y="137.7" text-anchor="middle">771/1,200</text>
<rect x="441.20" y="139.80" width="7.60" height="26.20" fill="url(#gbw)" stroke="#444" stroke-width="0.5"/>
<text x="444.8" y="176.2" text-anchor="middle">291/200</text>
<line x1="432.00" y1="181.30" x2="443.20" y2="181.30" stroke="#222" stroke-width="0.9"/>
<line x1="432.00" y1="185.20" x2="459.70" y2="185.20" stroke="#999" stroke-width="0.9"/>
<text x="445.8" y="195" text-anchor="middle">1 mm</text>
<!-- panel c -->
<text x="494.3" y="13.8" style="font-size:13.5px;" class="pl">c</text>
<line x1="513.50" y1="17.00" x2="556.50" y2="17.00" stroke="#333" stroke-width="0.6"/>
<path d="M513.5 28.6 C518.500 28.6 520 26.300 520.300 21.700 M556.5 28.6 C551.500 28.6 550 26.300 549.700 21.700" stroke="#333" stroke-width="0.6" fill="none"/>
<line x1="513.50" y1="28.70" x2="556.50" y2="28.70" stroke="#333" stroke-width="0.6"/>
<g transform="translate(534 24.6) scale(1.0)" stroke="#333" stroke-width="0.5" fill="none"><ellipse cx="-2" cy="0.5" rx="5.6" ry="2.2" fill="#8a8a8a" transform="rotate(-10)"/><path d="M-5.5 -0.6 L-4.8 2.6 M-3.4 -1.2 L-2.8 2.600 M-1.3 -1.6 L-0.8 2.4" stroke="#333" stroke-width="0.6"/><ellipse cx="3.2" cy="-0.8" rx="2.9" ry="2.4" fill="#999"/><circle cx="6.8" cy="-0.6" r="1.8" fill="#555"/><path d="M3.5 -2.8 C-2 -4.6 -8 -4 -9.6 -2.6 C-8 -1.2 -2 -1.2 3.5 -2.4 Z" fill="#e8e8e8" fill-opacity="0.85"/><path d="M4 1.6 L6 4 H8.5 M2.5 1.8 L2 4 H4 M0.5 2 L-2 4 H-4.5"/></g>
<g stroke="#333" stroke-width="0.6" fill="none"><rect x="528" y="33" width="12.6" height="8" fill="#fff"/><path d="M532 33 v-1.2 h4.6 v1.2"/><circle cx="534.3" cy="37" r="1.6" fill="#111" stroke="none"/></g>
<text x="534.5" y="51.8" text-anchor="middle">Wild type</text>
<text x="607.7" y="42.3" text-anchor="middle">Ovulation start</text>
<text x="609" y="102.3" text-anchor="middle">Search start</text>
<text x="607.7" y="156" text-anchor="middle">Abdomen bend</text>
<text x="607.7" y="166.7" text-anchor="middle">complete</text>
<g stroke="#a0a0a0" stroke-width="0.48" fill="none" stroke-opacity="0.68">
<path d="M659.2 39.2 L696.9 102.5 L862.5 168.0"/>
<path d="M674.5 39.2 L715.2 102.5 L862.5 168.0"/>
<path d="M707.6 39.2 L748.4 102.5 L862.5 168.0"/>
<path d="M718.8 39.2 L780.0 102.5 L862.5 168.0"/>
<path d="M739.2 39.2 L831.4 102.5 L862.5 168.0"/>
<path d="M740.2 39.2 L837.5 102.5 L862.5 168.0"/>
<path d="M741.7 39.2 L844.7 102.5 L862.5 168.0"/>
<path d="M744.8 39.2 L794.7 102.5 L862.5 168.0"/>
<path d="M754.5 39.2 L804.9 102.5 L862.5 168.0"/>
<path d="M761.1 39.2 L808.5 102.5 L862.5 168.0"/>
<path d="M766.7 39.2 L812.0 102.5 L862.5 168.0"/>
<path d="M776.4 39.2 L816.1 102.5 L862.5 168.0"/>
<path d="M778.7 39.2 L813.9 102.5 L862.5 168.0"/>
<path d="M780.6 39.2 L814.2 102.5 L862.5 168.0"/>
<path d="M783.2 39.2 L814.6 102.5 L862.5 168.0"/>
<path d="M783.2 39.2 L814.3 102.5 L862.5 168.0"/>
<path d="M783.2 39.2 L815.9 102.5 L862.5 168.0"/>
<path d="M783.6 39.2 L815.6 102.5 L862.5 168.0"/>
<path d="M784.0 39.2 L817.2 102.5 L862.5 168.0"/>
<path d="M785.3 39.2 L817.3 102.5 L862.5 168.0"/>
<path d="M786.6 39.2 L818.9 102.5 L862.5 168.0"/>
<path d="M786.7 39.2 L821.0 102.5 L862.5 168.0"/>
<path d="M786.9 39.2 L820.4 102.5 L862.5 168.0"/>
<path d="M788.0 39.2 L822.0 102.5 L862.5 168.0"/>
<path d="M788.8 39.2 L821.8 102.5 L862.5 168.0"/>
<path d="M789.7 39.2 L827.2 102.5 L862.5 168.0"/>
<path d="M789.8 39.2 L827.6 102.5 L862.5 168.0"/>
<path d="M790.3 39.2 L826.5 102.5 L862.5 168.0"/>
<path d="M793.2 39.2 L832.4 102.5 L862.5 168.0"/>
<path d="M793.9 39.2 L831.0 102.5 L862.5 168.0"/>
<path d="M799.1 39.2 L834.1 102.5 L862.5 168.0"/>
<path d="M799.8 39.2 L834.7 102.5 L862.5 168.0"/>
<path d="M800.3 39.2 L834.5 102.5 L862.5 168.0"/>
<path d="M800.4 39.2 L837.2 102.5 L862.5 168.0"/>
<path d="M802.0 39.2 L836.2 102.5 L862.5 168.0"/>
<path d="M802.2 39.2 L839.5 102.5 L862.5 168.0"/>
<path d="M803.9 39.2 L840.0 102.5 L862.5 168.0"/>
<path d="M803.9 39.2 L840.5 102.5 L862.5 168.0"/>
<path d="M804.4 39.2 L838.2 102.5 L862.5 168.0"/>
<path d="M805.3 39.2 L844.5 102.5 L862.5 168.0"/>
<path d="M805.4 39.2 L845.0 102.5 L862.5 168.0"/>
<path d="M806.6 39.2 L844.8 102.5 L862.5 168.0"/>
<path d="M806.8 39.2 L845.1 102.5 L862.5 168.0"/>
<path d="M807.1 39.2 L847.0 102.5 L862.5 168.0"/>
<path d="M807.3 39.2 L847.1 102.5 L862.5 168.0"/>
<path d="M807.5 39.2 L846.4 102.5 L862.5 168.0"/>
<path d="M808.6 39.2 L848.2 102.5 L862.5 168.0"/>
<path d="M811.7 39.2 L850.0 102.5 L862.5 168.0"/>
<path d="M812.7 39.2 L850.4 102.5 L862.5 168.0"/>
<path d="M812.9 39.2 L848.9 102.5 L862.5 168.0"/>
<path d="M813.4 39.2 L851.5 102.5 L862.5 168.0"/>
<path d="M814.0 39.2 L851.9 102.5 L862.5 168.0"/>
<path d="M814.0 39.2 L852.1 102.5 L862.5 168.0"/>
<path d="M814.4 39.2 L854.1 102.5 L862.5 168.0"/>
<path d="M816.3 39.2 L854.0 102.5 L862.5 168.0"/>
<path d="M816.4 39.2 L855.9 102.5 L862.5 168.0"/>
<path d="M818.9 39.2 L857.3 102.5 L862.5 168.0"/>
<path d="M819.0 39.2 L857.2 102.5 L862.5 168.0"/>
<path d="M819.9 39.2 L858.8 102.5 L862.5 168.0"/>
<path d="M821.4 39.2 L857.9 102.5 L862.5 168.0"/>
<path d="M659.2 49.2 L825.8 102.5 L862.5 168.0"/>
<path d="M659.2 64.2 L805.9 102.5 L862.5 168.0"/>
<path d="M659.2 35 L679.6 102.5 L862.5 168.0" stroke-opacity="0"/>
<path d="M659.2 123.7 L862.5 168.0" stroke="#aaa"/>
</g>
<rect x="658.79" y="35.80" width="1.05" height="4.20" fill="#dba6d3"/><rect x="673.47" y="35.80" width="1.05" height="4.20" fill="#dba6d3"/><rect x="706.48" y="35.80" width="1.05" height="4.20" fill="#dba6d3"/><rect x="718.71" y="35.80" width="1.05" height="4.20" fill="#dba6d3"/><rect x="738.27" y="35.80" width="1.05" height="4.20" fill="#dba6d3"/><rect x="739.50" y="35.80" width="1.05" height="4.20" fill="#dba6d3"/><rect x="740.72" y="35.80" width="1.05" height="4.20" fill="#dba6d3"/><rect x="744.39" y="35.80" width="1.05" height="4.20" fill="#dba6d3"/><rect x="754.17" y="35.80" width="1.05" height="4.20" fill="#dba6d3"/><rect x="760.28" y="35.80" width="1.05" height="4.20" fill="#dba6d3"/><rect x="766.40" y="35.80" width="1.05" height="4.20" fill="#dba6d3"/><rect x="776.18" y="35.80" width="1.05" height="4.20" fill="#dba6d3"/><rect x="778.63" y="35.80" width="1.05" height="4.20" fill="#dba6d3"/><rect x="779.85" y="35.80" width="1.05" height="4.20" fill="#dba6d3"/><rect x="782.30" y="29.80" width="1.05" height="10.20" fill="#dba6d3"/><rect x="783.52" y="32.80" width="1.05" height="7.20" fill="#dba6d3"/><rect x="784.74" y="35.80" width="1.05" height="4.20" fill="#dba6d3"/><rect x="785.96" y="29.80" width="1.05" height="10.20" fill="#dba6d3"/><rect x="787.19" y="35.80" width="1.05" height="4.20" fill="#dba6d3"/><rect x="788.41" y="35.80" width="1.05" height="4.20" fill="#dba6d3"/><rect x="789.63" y="29.80" width="1.05" height="10.20" fill="#dba6d3"/><rect x="792.08" y="35.80" width="1.05" height="4.20" fill="#dba6d3"/><rect x="793.30" y="35.80" width="1.05" height="4.20" fill="#dba6d3"/><rect x="798.19" y="35.80" width="1.05" height="4.20" fill="#dba6d3"/><rect x="799.41" y="29.80" width="1.05" height="10.20" fill="#dba6d3"/><rect x="801.86" y="32.80" width="1.05" height="7.20" fill="#dba6d3"/><rect x="803.08" y="32.80" width="1.05" height="7.20" fill="#dba6d3"/><rect x="804.31" y="29.80" width="1.05" height="10.20" fill="#dba6d3"/><rect x="805.53" y="35.80" width="1.05" height="4.20" fill="#dba6d3"/><rect x="806.75" y="26.80" width="1.05" height="13.20" fill="#dba6d3"/><rect x="807.97" y="35.80" width="1.05" height="4.20" fill="#dba6d3"/><rect x="811.64" y="29.80" width="1.05" height="10.20" fill="#dba6d3"/><rect x="812.87" y="29.80" width="1.05" height="10.20" fill="#dba6d3"/><rect x="814.09" y="35.80" width="1.05" height="4.20" fill="#dba6d3"/><rect x="815.31" y="32.80" width="1.05" height="7.20" fill="#dba6d3"/><rect x="817.76" y="35.80" width="1.05" height="4.20" fill="#dba6d3"/><rect x="818.98" y="32.80" width="1.05" height="7.20" fill="#dba6d3"/><rect x="820.20" y="35.80" width="1.05" height="4.20" fill="#dba6d3"/>
<rect x="696.70" y="99.10" width="1.05" height="4.20" fill="#d59bcf"/><rect x="715.04" y="99.10" width="1.05" height="4.20" fill="#d59bcf"/><rect x="748.06" y="99.10" width="1.05" height="4.20" fill="#d59bcf"/><rect x="779.85" y="99.10" width="1.05" height="4.20" fill="#d59bcf"/><rect x="831.21" y="96.10" width="1.05" height="7.20" fill="#d59bcf"/><rect x="837.32" y="96.10" width="1.05" height="7.20" fill="#d59bcf"/><rect x="844.66" y="90.10" width="1.05" height="13.20" fill="#d59bcf"/><rect x="794.52" y="99.10" width="1.05" height="4.20" fill="#d59bcf"/><rect x="804.31" y="99.10" width="1.05" height="4.20" fill="#d59bcf"/><rect x="807.97" y="99.10" width="1.05" height="4.20" fill="#d59bcf"/><rect x="811.64" y="99.10" width="1.05" height="4.20" fill="#d59bcf"/><rect x="815.31" y="93.10" width="1.05" height="10.20" fill="#d59bcf"/><rect x="812.87" y="99.10" width="1.05" height="4.20" fill="#d59bcf"/><rect x="814.09" y="93.10" width="1.05" height="10.20" fill="#d59bcf"/><rect x="816.53" y="96.10" width="1.05" height="7.20" fill="#d59bcf"/><rect x="817.76" y="99.10" width="1.05" height="4.20" fill="#d59bcf"/><rect x="820.20" y="96.10" width="1.05" height="7.20" fill="#d59bcf"/><rect x="821.42" y="96.10" width="1.05" height="7.20" fill="#d59bcf"/><rect x="826.32" y="96.10" width="1.05" height="7.20" fill="#d59bcf"/><rect x="827.54" y="99.10" width="1.05" height="4.20" fill="#d59bcf"/><rect x="829.98" y="99.10" width="1.05" height="4.20" fill="#d59bcf"/><rect x="833.65" y="93.10" width="1.05" height="10.20" fill="#d59bcf"/><rect x="836.10" y="96.10" width="1.05" height="7.20" fill="#d59bcf"/><rect x="838.54" y="99.10" width="1.05" height="4.20" fill="#d59bcf"/><rect x="839.77" y="96.10" width="1.05" height="7.20" fill="#d59bcf"/><rect x="843.44" y="99.10" width="1.05" height="4.20" fill="#d59bcf"/><rect x="845.88" y="93.10" width="1.05" height="10.20" fill="#d59bcf"/><rect x="847.10" y="99.10" width="1.05" height="4.20" fill="#d59bcf"/><rect x="849.55" y="96.10" width="1.05" height="7.20" fill="#d59bcf"/><rect x="848.33" y="99.10" width="1.05" height="4.20" fill="#d59bcf"/><rect x="850.77" y="96.10" width="1.05" height="7.20" fill="#d59bcf"/><rect x="851.99" y="99.10" width="1.05" height="4.20" fill="#d59bcf"/><rect x="853.22" y="96.10" width="1.05" height="7.20" fill="#d59bcf"/><rect x="855.66" y="99.10" width="1.05" height="4.20" fill="#d59bcf"/><rect x="856.89" y="93.10" width="1.05" height="10.20" fill="#d59bcf"/><rect x="858.11" y="99.10" width="1.05" height="4.20" fill="#d59bcf"/><rect x="825.09" y="99.10" width="1.05" height="4.20" fill="#d59bcf"/><rect x="805.53" y="99.10" width="1.05" height="4.20" fill="#d59bcf"/>
<rect x="861.40" y="49.00" width="1.70" height="119.00" fill="#a687c4"/>
<rect x="859.20" y="161.00" width="4.20" height="7.20" fill="#9a78ba"/>
<rect x="860.40" y="118.00" width="1.20" height="50.00" fill="#b79cd0"/>
<line x1="659.20" y1="172.00" x2="863.40" y2="172.00" stroke="#222" stroke-width="0.8"/>
<line x1="659.20" y1="172.00" x2="659.20" y2="174.60" stroke="#222" stroke-width="0.8"/>
<text x="658.0" y="184.8" text-anchor="middle">–400</text>
<line x1="710.15" y1="172.00" x2="710.15" y2="174.60" stroke="#222" stroke-width="0.8"/>
<text x="708.9" y="184.8" text-anchor="middle">–300</text>
<line x1="761.10" y1="172.00" x2="761.10" y2="174.60" stroke="#222" stroke-width="0.8"/>
<text x="759.9" y="184.8" text-anchor="middle">–200</text>
<line x1="812.05" y1="172.00" x2="812.05" y2="174.60" stroke="#222" stroke-width="0.8"/>
<text x="810.8" y="184.8" text-anchor="middle">–100</text>
<line x1="863.00" y1="172.00" x2="863.00" y2="174.60" stroke="#222" stroke-width="0.8"/>
<text x="863.3" y="184.8" text-anchor="middle">0</text>
<text x="761" y="198.2" text-anchor="middle">Time (s)</text>
<text x="850.5" y="198.2" text-anchor="end">Egg deposited</text>
<path d="M854.5 195.2 H862.8 V190.5" stroke="#e0262c" stroke-width="0.9" fill="none"/><polygon points="862.8,187.3 861,191 864.6,191" fill="#e0262c"/>
<line x1="666.80" y1="137.00" x2="666.80" y2="153.80" stroke="#222" stroke-width="0.9"/>
<text x="669.8" y="148.8">5 events</text>
<text x="668.5" y="166.3">63 eggs, 3 flies</text>
<!-- panels d,e,f -->
<text x="3" y="237.6" style="font-size:13.5px;" class="pl">d</text>
<text x="86" y="245.6" text-anchor="middle">2-p</text>
<g>
<path d="M40 349 A40.5 40 0 0 1 121 349 L121.4 359 A40 39 0 0 1 41.4 359 Z" fill="#bdbdbd"/>
<g clip-path="url(#cwL)"><path d="M40 349 A40.5 40 0 0 1 121 349 L121.4 359 A40 39 0 0 1 41.4 359 Z" fill="#aed6ea"/></g>
<g clip-path="url(#cwW)"><path d="M40 349 A40.5 40 0 0 1 121 349 L121.4 359 A40 39 0 0 1 41.4 359 Z" fill="#e2e2e2"/></g>
<g clip-path="url(#cwR)"><path d="M40 349 A40.5 40 0 0 1 121 349 L121.4 359 A40 39 0 0 1 41.4 359 Z" fill="#1f3877"/></g>
<ellipse cx="81.4" cy="359.2" rx="40" ry="38.9" fill="#c6c5c4"/>
<path d="M44 366 A37 35 0 0 0 100 392" stroke="#d6d6d6" stroke-width="1.6" fill="none"/>
<path d="M52 372 A31 28 0 0 0 104 382" stroke="#b9b9b9" stroke-width="0.8" fill="none"/>
<ellipse cx="80.2" cy="354.4" rx="25.3" ry="21.9" fill="#dcdcdc"/>
<ellipse cx="80" cy="352.6" rx="25" ry="19.6" fill="#fff"/>
<path d="M84 374.5 C96 374 105 366 105.4 354 C102 364 95 370 84 371 Z" fill="#e6e6e6"/>
<circle cx="80.6" cy="352.2" r="15.6" fill="#c6c5c4"/>
<path d="M75.5 332.6 C82 331.6 90 333 95.5 337.6 L95 346 L75 341 Z" fill="#c6c5c4"/>
<path d="M65.6 360 L75 364 L86 375.8 C76 377 68 374.5 62 369.6 Z" fill="#c6c5c4"/>
<path d="M66.5 361 L62.5 369.5" stroke="#dcdcdc" stroke-width="1.2" fill="none"/>
<path d="M78 353.6 Q80.5 351 83 353.6 V396 L80.5 404.4 L78 396 Z" fill="#6d6d6d"/>
<path d="M79.2 353.6 V396" stroke="#8c8c8c" stroke-width="0.8" fill="none"/>
</g>
<ellipse cx="41.5" cy="340" rx="1.1" ry="0.8" fill="#fff" stroke="#9ab" stroke-width="0.2"/>
<ellipse cx="54.5" cy="318.5" rx="1.1" ry="0.8" fill="#fff" stroke="#9ab" stroke-width="0.2"/>
<ellipse cx="57.5" cy="316.8" rx="1.1" ry="0.8" fill="#fff" stroke="#9ab" stroke-width="0.2"/>
<ellipse cx="59.5" cy="315.5" rx="1.1" ry="0.8" fill="#fff" stroke="#9ab" stroke-width="0.2"/>
<rect x="68.70" y="249.00" width="35.00" height="17.20" fill="#7f7f7f"/>
<polygon points="68.9,266.2 103.5,266.2 96,273.6 76.2,273.6" fill="#f4f4f4" stroke="#333" stroke-width="1"/>
<rect x="76.50" y="274.00" width="19.20" height="7.00" fill="#bcdfec"/>
<polygon points="72.5,281 116,281 84,303.7" fill="#bcdfec" stroke="#333" stroke-width="0.6"/>
<rect x="62.70" y="283.40" width="13.40" height="20.00" fill="#979797"/>
<rect x="64.4" y="288.5" width="10.4" height="13.6" rx="2" fill="#c4c4c4"/>
<ellipse cx="69.2" cy="296.3" rx="3.7" ry="4.9" fill="#151515"/><ellipse cx="70.4" cy="294.6" rx="1.5" ry="2" fill="#3c3c3c"/>
<polygon points="72.5,281 116,281 84,303.7" fill="#bcdfec" fill-opacity="0.9" stroke="#333" stroke-width="0.6"/>
<polygon points="119,264.1 123.8,269 84.5,303.6" fill="#e9eef0" fill-opacity="0.85"/><path d="M119 264.1 L84.5 303.6 L123.8 269" fill="none" stroke="#2a2a2a" stroke-width="0.75" stroke-linejoin="round"/>
<line x1="105.00" y1="281.00" x2="84.50" y2="303.60" stroke="#333" stroke-width="0.5"/>
<polygon points="51.7,282.4 53.5,280.200 122.2,280.200 120.5,282.400" fill="#3e3e3e"/>
<path d="M120.8 265.6 L125.3 262.2 H131.3 M131.3 266.3 H126.1 V272.6" stroke="#2a2a2a" stroke-width="0.75" fill="none"/>
<polygon points="123.3,272.4 129,272.4 126.1,275.4" fill="#444"/>
<polygon points="131.3,258.9 131.3,270.1 141.8,264.5" fill="#fff" stroke="#2a2a2a" stroke-width="0.8"/>
<line x1="141.80" y1="264.50" x2="151.60" y2="264.50" stroke="#2a2a2a" stroke-width="0.75"/>
<text x="145.5" y="257.6" text-anchor="middle">Ephys</text>
<text x="32.5" y="296.9" text-anchor="middle">Cameras</text>
<polygon points="100.1,298.1 118.4,295.7 118.4,311 103.3,312.4" fill="#fac98a"/>
<rect x="118.00" y="292.50" width="13.20" height="13.50" fill="#989898"/>
<rect x="118.00" y="306.00" width="13.20" height="8.60" fill="#b3b3b3"/>
<text x="134.5" y="306.9">Optogenetics</text>
<g>
<ellipse cx="61" cy="305" rx="6.2" ry="1.9" fill="#e4e4e4" fill-opacity="0.85" stroke="#999" stroke-width="0.35" transform="rotate(-8 61 305)"/>
<path d="M74 310.5 L70.500 314.500 L66 316.200 M77 310.5 L79 314.2 L82.500 315.500 M80.5 309 L85 313.2 L90 314.4 M67 312.5 L63.500 315.400" stroke="#b08a58" stroke-width="0.6" fill="none"/>
<ellipse cx="68" cy="309.6" rx="6.6" ry="3.6" fill="#d9b88c" stroke="#a98558" stroke-width="0.4" transform="rotate(-22 68 309.6)"/>
<path d="M65 307.5 L67 312.6 M68 306.4 L70 311.6" stroke="#b89868" stroke-width="0.5"/>
<ellipse cx="77.6" cy="306" rx="5" ry="3.9" fill="#d4ae7e" stroke="#a98558" stroke-width="0.4"/>
<circle cx="84.4" cy="305.4" r="2.3" fill="#d8302a"/><circle cx="83.8" cy="304.800" r="0.7" fill="#f08a80"/>
</g>
<text x="80" y="348.6" text-anchor="middle">Pivot</text>
<text x="23" y="343.9" text-anchor="middle">Eggs</text>
<text x="150" y="342.2" text-anchor="middle">Agarose</text>
<text x="150" y="352.6" text-anchor="middle">substrate-</text>
<text x="150" y="362.8" text-anchor="middle">laden wheel</text>
<text x="204.5" y="237.2" style="font-size:13.5px;" class="pl">e</text>
<g filter="url(#b05)">
<path d="M229 258 C222 254 214 258 213.2 268 C212.8 280 218 290 226 290.5 C224 284 226 278 231 274 Z" fill="#f6f6f6" stroke="#d0d0d0" stroke-width="0.6"/>
<path d="M272.5 258 C279.5 254 287.5 258 288.3 268 C288.7 280 283.5 290 275.5 290.5 C277.500 284 275.500 278 270.500 274 Z" fill="#f6f6f6" stroke="#d0d0d0" stroke-width="0.6"/>
<path d="M216 262 C219 268 219 278 222 286 M285.500 262 C282.500 268 282.500 278 279.500 286" stroke="#e2e2e2" stroke-width="0.8" fill="none"/>
<path d="M221.5 262 C221.500 250 236 245.8 250.7 247.2 C265 245.8 278 250 278 262 C278 271 272 277 265 280 C260 285.500 256 287 250.7 287 C245 287 241 285.500 236 280 C229 277 221.500 271 221.500 262 Z" fill="#f2f2f2" stroke="#c2c2c2" stroke-width="0.6"/>
<ellipse cx="241" cy="263" rx="6.5" ry="7" fill="#ebebeb" fill-opacity="0.8" stroke="#c8c8c8" stroke-width="0.5"/>
<ellipse cx="260.5" cy="263" rx="6.5" ry="7" fill="#ebebeb" fill-opacity="0.8" stroke="#c8c8c8" stroke-width="0.5"/>
<ellipse cx="250.7" cy="275" rx="6" ry="7" fill="#ebebeb" fill-opacity="0.8" stroke="#c8c8c8" stroke-width="0.5"/>
<ellipse cx="232" cy="268" rx="6" ry="6" fill="#ebebeb" fill-opacity="0.8" stroke="#c8c8c8" stroke-width="0.5"/>
<ellipse cx="269.5" cy="268" rx="6" ry="6" fill="#ebebeb" fill-opacity="0.8" stroke="#c8c8c8" stroke-width="0.5"/>
<ellipse cx="232" cy="255" rx="5" ry="3.5" fill="#ebebeb" fill-opacity="0.8" stroke="#c8c8c8" stroke-width="0.5"/>
<ellipse cx="269.5" cy="255" rx="5" ry="3.5" fill="#ebebeb" fill-opacity="0.8" stroke="#c8c8c8" stroke-width="0.5"/>
<ellipse cx="243" cy="279" rx="5" ry="4" fill="#ebebeb" fill-opacity="0.8" stroke="#c8c8c8" stroke-width="0.5"/>
<ellipse cx="258.5" cy="279" rx="5" ry="4" fill="#ebebeb" fill-opacity="0.8" stroke="#c8c8c8" stroke-width="0.5"/>
<path d="M250.2 306.5 C246 302.5 238 303.500 236.6 310.500 C235.800 316 239 319.500 240.500 321 C237 324 236.600 332 239.500 336 C241 338 242.500 339 242 341 C238 346 237.800 356 241.500 361 C244 364 247.500 364.500 250.2 363.500 C253 364.500 256.500 364 259 361 C262.700 356 262.500 346 258.500 341 C258 339 259.500 338 261 336 C263.900 332 263.500 324 260 321 C261.500 319.500 264.700 316 263.900 310.500 C262.500 303.500 254.500 302.500 250.2 306.500 Z" fill="#f3f3f3" stroke="#c0c0c0" stroke-width="0.6"/>
<ellipse cx="243.5" cy="312" rx="5.2" ry="6" fill="#ececec" fill-opacity="0.8" stroke="#cacaca" stroke-width="0.5"/>
<ellipse cx="257" cy="312" rx="5.2" ry="6" fill="#ececec" fill-opacity="0.8" stroke="#cacaca" stroke-width="0.5"/>
<ellipse cx="244" cy="329.5" rx="5" ry="6" fill="#ececec" fill-opacity="0.8" stroke="#cacaca" stroke-width="0.5"/>
<ellipse cx="256.5" cy="329.5" rx="5" ry="6" fill="#ececec" fill-opacity="0.8" stroke="#cacaca" stroke-width="0.5"/>
<ellipse cx="245" cy="351" rx="5" ry="9" fill="#ececec" fill-opacity="0.8" stroke="#cacaca" stroke-width="0.5"/>
<ellipse cx="255.5" cy="351" rx="5" ry="9" fill="#ececec" fill-opacity="0.8" stroke="#cacaca" stroke-width="0.5"/>
<ellipse cx="250.2" cy="367" rx="5.6" ry="4.6" fill="#f6f6f6" stroke="#c8c8c8" stroke-width="0.5"/>
</g>
<path d="M229.4 253.2 L232 251.4 L234.2 252.6 L236.2 251.6 L238 250 L240.3 249.3 L244 249.6 L247 248.6 L250.8 250 L253.5 248.6 L256.8 248.7 M250.8 250 L254 251.5 L257.9 254.4 L260.5 253.600 L263 254.4 L266 252.600 L269.3 252.9 L271.500 254.4" stroke="#111" stroke-width="1.1" fill="none" stroke-linejoin="round" stroke-linecap="round"/>
<path d="M232 251.4 L231 254.8 M236.2 251.6 L235.200 255.200 L237.200 257.200 M240.3 249.3 L241 252.8 M263 254.400 L262.600 257.400 M266 252.600 L267.500 256 M269.3 252.9 L270.800 256.400 M257.9 254.4 L258.5 257.5" stroke="#222" stroke-width="0.6" fill="none"/>
<path d="M250.8 250 L249.6 259 L246.800 266 L246.5 269.5 L249.6 277.8 L250.2 286 L250.1 294.4" stroke="#222" stroke-width="0.7" fill="none"/>
<path d="M249.600 259 L252.500 265 L253.500 271 M246.800 266 L244 270" stroke="#666" stroke-width="0.4" fill="none"/>
<path d="M250.2 299.3 L250.1 330 L250.3 362" stroke="#333" stroke-width="0.6" fill="none"/>
<path d="M250.3 360 L248.400 364 L247.200 367.500 L249.400 368.800 L250.600 366.400 L252.500 368.800 L253.500 366 L251.800 363.500 Z M247.200 365.500 L253 364.600" stroke="#111" stroke-width="0.7" fill="none"/>
<line x1="273.20" y1="235.00" x2="265.04" y2="244.69" stroke="#3344a6" stroke-width="2.3"/><polygon points="260.40,250.20 262.94,240.05 265.04,244.69 269.97,245.97" fill="#3344a6"/>
<line x1="270.80" y1="386.20" x2="262.74" y2="377.64" stroke="#23a04c" stroke-width="2.3"/><polygon points="257.80,372.40 267.59,376.09 262.74,377.64 260.90,382.40" fill="#23a04c"/>
<line x1="215.30" y1="392.60" x2="231.70" y2="392.60" stroke="#333" stroke-width="1.0"/>
<text x="237" y="395.7">~100 µm</text>
<text x="314" y="237.2" style="font-size:13.5px;" class="pl">f</text>
<g clip-path="url(#cf)">
<rect x="328.00" y="259.60" width="48.00" height="46.00" fill="#181818"/>
<ellipse cx="352" cy="300" rx="26" ry="9" fill="#333" filter="url(#b3)"/>
<g filter="url(#b06)">
<path d="M364 259 C370 262 374 266 376.5 271" stroke="#777" stroke-width="1.2" fill="none"/>
<path d="M362 290 C368 287 372 284 376.5 281" stroke="#6a6a6a" stroke-width="1.1" fill="none"/>
<path d="M328 284 C334 287 338 289 342 290" stroke="#555" stroke-width="1" fill="none"/>
<circle cx="349.8" cy="269.8" r="5.2" fill="#5c5c5c"/>
<circle cx="350" cy="283.3" r="4.4" fill="#b0b0b0" stroke="#f4f4f4" stroke-width="2.4"/>
<path d="M353.5 279.5 C358 277 361.500 281 362.200 290 C362.400 293 361 295.500 359.500 297" stroke="#e6e6e6" stroke-width="2.2" fill="none"/>
<path d="M327 290.5 C336 295 344 297.5 353 297.8 C362 298 370 297 377 295.5" stroke="#ececec" stroke-width="2.8" fill="none"/>
<path d="M350 288 L351.5 297" stroke="#d8d8d8" stroke-width="1.8" fill="none"/>
</g></g>
<text x="339.8" y="271.8" text-anchor="middle" style="fill:#fff;">2</text>
<text x="340.6" y="288" text-anchor="middle" style="fill:#fff;">1</text>
<text x="351.8" y="316.7" text-anchor="middle">oviDN-SS1</text>
<line x1="334.80" y1="328.00" x2="341.60" y2="328.00" stroke="#222" stroke-width="1.2"/>
<text x="355.8" y="331.1" text-anchor="middle">5 µm</text>
<!-- panel g -->
<text x="403.6" y="235.4" style="font-size:13.5px;" class="pl">g</text>
<rect x="427.00" y="260.70" width="20.70" height="4.80" fill="#696969"/>
<polygon points="427.4,265.5 447.3,265.5 444,269.7 430.6,269.7" fill="#b0b0b0"/>
<rect x="430.80" y="269.70" width="13.00" height="4.00" fill="#dcdcdc"/>
<polygon points="428,273.7 456.6,273.7 435.8,287.4" fill="#d4d4d4" stroke="#888" stroke-width="0.5"/>
<line x1="416.50" y1="273.70" x2="457.60" y2="273.70" stroke="#666" stroke-width="0.8"/>
<g stroke="#333" stroke-width="0.6" fill="none"><rect x="412.6" y="277" width="12.4" height="7.8" fill="#fff"/><path d="M416 277 v-1.2 h4.6 v1.2"/><circle cx="418.6" cy="281" r="1.5" fill="#111" stroke="none"/></g>
<path d="M413.5 296 C422 285.5 444 283.5 455.5 300.5 M413.5 300.6 C421 292.5 428 290.6 434 290.4" stroke="#444" stroke-width="0.6" fill="none"/>
<g transform="rotate(-14 428.5 288.6)"><g transform="translate(428.5 288.6) scale(0.72)" stroke="#333" stroke-width="0.5" fill="none"><ellipse cx="-2" cy="0.5" rx="5.6" ry="2.2" fill="#8a8a8a" transform="rotate(-10)"/><path d="M-5.5 -0.6 L-4.8 2.6 M-3.4 -1.2 L-2.8 2.600 M-1.3 -1.6 L-0.8 2.4" stroke="#333" stroke-width="0.6"/><ellipse cx="3.2" cy="-0.8" rx="2.9" ry="2.4" fill="#999"/><circle cx="6.8" cy="-0.6" r="1.8" fill="#555"/><path d="M3.5 -2.8 C-2 -4.6 -8 -4 -9.6 -2.6 C-8 -1.2 -2 -1.2 3.5 -2.4 Z" fill="#e8e8e8" fill-opacity="0.85"/><path d="M4 1.6 L6 4 H8.5 M2.5 1.8 L2 4 H4 M0.5 2 L-2 4 H-4.5"/></g></g>
<text x="433.8" y="314.1" text-anchor="middle">oviDN-SS1</text>
<text x="433.8" y="324.5" text-anchor="middle">&gt; GCaMP7f</text>
<text x="433.8" y="334.9" text-anchor="middle">(unless noted)</text>
<line x1="503.20" y1="253.20" x2="515.20" y2="253.20" stroke="#222" stroke-width="1.0"/>
<text x="509.5" y="264.4" text-anchor="middle">5 µm</text>
<rect x="524.00" y="242.00" width="34.20" height="34.20" fill="#0b0b0b"/>
<g clip-path="url(#cg1)"><ellipse cx="541" cy="259" rx="8" ry="10.5" fill="#8a8a8a" filter="url(#b3)"/><rect x="524" y="242" width="34.2" height="34.2" filter="url(#noise)" opacity="0.55"/></g>
<rect x="565.70" y="242.00" width="34.00" height="34.20" fill="#0b0b0b"/>
<g clip-path="url(#cg2)"><ellipse cx="581.5" cy="258" rx="10" ry="12" fill="#d8d8d8" filter="url(#b3)"/><ellipse cx="580" cy="257" rx="5" ry="6" fill="#fff" filter="url(#b15)"/><rect x="565.7" y="242" width="34" height="34.2" filter="url(#noise)" opacity="0.5"/></g>
<rect x="577.00" y="258.00" width="1.00" height="2.20" fill="#e0262c"/>
<rect x="607.20" y="240.70" width="34.30" height="33.80" fill="#262626"/>
<g clip-path="url(#cg3)"><ellipse cx="622.5" cy="257" rx="7" ry="9" fill="#909090" filter="url(#b15)" transform="rotate(-20 622.5 257)"/></g>
<path d="M613.6 254 C613 248 620 246.5 625 250.5 C630 254.5 632.5 262 630.5 267 C628 271 620 267 616.5 261.5 C614.5 258.5 613.8 256 613.6 254 Z" fill="none" stroke="#fff" stroke-width="0.8" stroke-dasharray="0.9 1.1"/>
<path d="M618.5 246.5 C620 242.5 629 241.8 632.2 245.5 C634.5 249 633.5 256 631.2 261" fill="none" stroke="#fff" stroke-width="0.8" stroke-dasharray="0.9 1.1"/>
<text x="637" y="248.8" text-anchor="middle" style="fill:#fff;font-size:8.4px;">a</text>
<text x="612.2" y="271" text-anchor="middle" style="fill:#fff;font-size:8.4px;">b</text>
<text x="624.5" y="238.4" text-anchor="middle">Time-ave.</text>
<path d="M542.7 276.2 L558.2 342.5 V346" stroke="#111" stroke-width="0.9" fill="none"/>
<path d="M584 276.2 L626.5 313 V316.2" stroke="#111" stroke-width="0.9" fill="none"/>
<rect x="653.50" y="248.20" width="8.70" height="21.80" fill="url(#gbw)"/>
<line x1="653.50" y1="248.40" x2="662.20" y2="248.40" stroke="#e0262c" stroke-width="1.3"/>
<line x1="653.50" y1="269.90" x2="662.20" y2="269.90" stroke="#1c2a8a" stroke-width="1.3"/>
<text x="664.6" y="251.2">2,016</text>
<text x="673" y="261.9">Raw <tspan font-style="italic">F</tspan></text>
<text x="664.6" y="273.2">0</text>
<rect x="751.20" y="267.60" width="4.60" height="4.60" fill="#b5dcea" stroke="#7fb2c6" stroke-width="0.4"/>
<text x="759.7" y="273.1">0 mM sucrose</text>
<rect x="751.20" y="279.40" width="4.60" height="4.60" fill="#1f3877"/>
<text x="759.7" y="284.8">500 mM sucrose</text>
<text x="683" y="293.8" text-anchor="middle">One fly</text>
<text x="680.8" y="320.2" text-anchor="middle">&gt;30 min</text>
<path d="M678.2 310.6 L682.4 298 M683.6 310.6 L687.8 298" stroke="#111" stroke-width="1.7" fill="none"/>
<text x="480" y="310" text-anchor="middle" transform="rotate(-90 480 310)">Fly</text>
<text x="489.8" y="309.5" text-anchor="middle" transform="rotate(-90 489.8 309.5)">position</text>
<text x="492.6" y="337.5" text-anchor="middle" transform="rotate(-90 492.6 337.5)">Δ<tspan font-style="italic">F</tspan>/<tspan font-style="italic">F</tspan></text>
<text x="514.2" y="301.9" text-anchor="end">0°</text>
<text x="514.2" y="313.1" text-anchor="end">360°</text>
<path d="M515.4000000000001 298 H517.2 V309.8 H515.4000000000001" stroke="#222" stroke-width="0.8" fill="none"/>
<line x1="517.20" y1="320.00" x2="517.20" y2="352.60" stroke="#222" stroke-width="0.8"/>
<line x1="515.00" y1="324.20" x2="517.20" y2="324.20" stroke="#222" stroke-width="0.7"/>
<line x1="515.80" y1="332.45" x2="517.20" y2="332.45" stroke="#222" stroke-width="0.7"/>
<line x1="515.00" y1="340.70" x2="517.20" y2="340.70" stroke="#222" stroke-width="0.7"/>
<line x1="515.80" y1="348.95" x2="517.20" y2="348.95" stroke="#222" stroke-width="0.7"/>
<text x="514.2" y="327.3" text-anchor="end">0.4</text>
<text x="514.2" y="343.8" text-anchor="end">0</text>
<text x="719.4" y="301.9" text-anchor="end">0°</text>
<text x="719.4" y="313.1" text-anchor="end">360°</text>
<path d="M721.0 298 H722.8 V309.8 H721.0" stroke="#222" stroke-width="0.8" fill="none"/>
<line x1="722.80" y1="320.60" x2="722.80" y2="353.20" stroke="#222" stroke-width="0.8"/>
<line x1="720.60" y1="325.01" x2="722.80" y2="325.01" stroke="#222" stroke-width="0.7"/>
<line x1="721.40" y1="333.00" x2="722.80" y2="333.00" stroke="#222" stroke-width="0.7"/>
<line x1="720.60" y1="341.00" x2="722.80" y2="341.00" stroke="#222" stroke-width="0.7"/>
<line x1="721.40" y1="349.00" x2="722.80" y2="349.00" stroke="#222" stroke-width="0.7"/>
<text x="719.4" y="328.1" text-anchor="end">0.4</text>
<text x="719.4" y="344.1" text-anchor="end">0</text>
<path d="M520.0 300.0 L560.0 299.8 L600.0 300.2 L640.0 300.4 L661.8 301.2" stroke="#a9d3e3" stroke-width="0.9" fill="none" stroke-linejoin="round"/>
<path d="M725.2 308.6 L745.0 308.8 L760.0 309.4 L790.0 309.6 L823.9 309.6" stroke="#3d568f" stroke-width="1.0" fill="none" stroke-linejoin="round"/>
<path d="M824.8 298.8 L845.0 299.2 L868.0 300.4" stroke="#a5d8de" stroke-width="0.9" fill="none" stroke-linejoin="round"/>
<line x1="525.20" y1="320.00" x2="525.20" y2="355.00" stroke="#dfb9db" stroke-width="0.9"/>
<line x1="525.20" y1="364.20" x2="525.20" y2="360.20" stroke="#cc8ec7" stroke-width="0.9"/><polygon points="525.20,356.00 527.30,360.20 525.20,360.20 523.10,360.20" fill="#cc8ec7"/>
<line x1="603.50" y1="320.00" x2="603.50" y2="355.00" stroke="#c78ac3" stroke-width="0.9"/>
<line x1="603.50" y1="364.20" x2="603.50" y2="360.20" stroke="#b868b4" stroke-width="0.9"/><polygon points="603.50,356.00 605.60,360.20 603.50,360.20 601.40,360.20" fill="#b868b4"/>
<path d="M603.5 363.6 V364.6 L577 365.7" stroke="#b868b4" stroke-width="0.9" fill="none"/>
<rect x="626.90" y="320.00" width="2.60" height="35.00" fill="#fbe0e0"/>
<line x1="626.60" y1="317.50" x2="626.60" y2="355.00" stroke="#8e7cc4" stroke-width="0.9"/>
<line x1="629.30" y1="320.00" x2="629.30" y2="355.00" stroke="#ea7378" stroke-width="0.9"/>
<line x1="626.40" y1="364.20" x2="626.40" y2="360.20" stroke="#4a3596" stroke-width="0.9"/><polygon points="626.40,356.00 628.50,360.20 626.40,360.20 624.30,360.20" fill="#4a3596"/>
<line x1="629.60" y1="364.20" x2="629.60" y2="360.20" stroke="#e0262c" stroke-width="0.9"/><polygon points="629.60,356.00 631.70,360.20 629.60,360.20 627.50,360.20" fill="#e0262c"/>
<path d="M629.4 363.4 L675 365.7" stroke="#e0262c" stroke-width="0.9" fill="none"/>
<path d="M520.2 329.8 L520.9 330.5 L521.6 332.1 L522.3 331.1 L523.0 331.2 L523.7 331.6 L524.4 332.9 L525.1 335.3 L525.8 337.0 L526.5 338.2 L527.2 338.0 L527.9 337.3 L528.6 338.8 L529.3 339.9 L530.0 339.7 L530.7 339.3 L531.4 336.2 L532.1 334.6 L532.8 334.0 L533.5 331.7 L534.2 330.0 L534.9 331.3 L535.6 333.1 L536.3 334.9 L537.0 336.2 L537.7 337.7 L538.4 338.3 L539.1 338.5 L539.8 339.2 L540.5 338.2 L541.2 337.0 L541.9 338.1 L542.6 339.0 L543.3 338.5 L544.0 339.0 L544.7 339.3 L545.4 339.8 L546.1 340.4 L546.8 340.5 L547.5 340.8 L548.2 339.9 L548.9 340.4 L549.6 341.6 L550.3 342.5 L551.0 343.8 L551.7 345.1 L552.4 346.1 L553.1 346.2 L553.8 346.0 L554.5 347.1 L555.2 348.4 L555.9 347.2 L556.6 347.6 L557.3 347.7 L558.0 347.0 L558.7 347.9 L559.4 348.1 L560.1 347.2 L560.8 346.4 L561.5 346.8 L562.2 346.5 L562.9 345.7 L563.6 346.6 L564.3 347.6 L565.0 347.2 L565.7 346.6 L566.4 346.7 L567.1 346.4 L567.8 346.2 L568.5 345.7 L569.2 346.2 L569.9 346.6 L570.6 345.9 L571.3 345.8 L572.0 346.1 L572.7 346.6 L573.4 345.9 L574.1 344.6 L574.8 344.8 L575.5 344.5 L576.2 345.1 L576.9 346.2 L577.6 345.8 L578.3 345.1 L579.0 345.1 L579.7 345.7 L580.4 345.4 L581.1 344.4 L581.8 342.8 L582.5 343.3 L583.2 343.9 L583.9 342.6 L584.6 343.2 L585.3 343.7 L586.0 342.2 L586.7 341.8 L587.4 342.5 L588.1 343.1 L588.8 342.0 L589.5 341.2 L590.2 342.4 L590.9 343.7 L591.6 343.2 L592.3 340.6 L593.0 340.6 L593.7 342.7 L594.4 343.9 L595.1 344.4 L595.8 343.7 L596.5 341.7 L597.2 341.6 L597.9 341.6 L598.6 340.9 L599.3 340.9 L600.0 341.8 L600.7 341.2 L601.4 339.8 L602.1 340.3 L602.8 340.9 L603.5 340.4 L604.2 339.8 L604.9 340.2 L605.6 341.3 L606.3 341.1 L607.0 340.4 L607.7 340.4 L608.4 338.4 L609.1 336.4 L609.8 336.9 L610.5 336.9 L611.2 336.4 L611.9 337.0 L612.6 336.4 L613.3 335.7 L614.0 334.8 L614.7 334.1 L615.4 335.8 L616.1 335.7 L616.8 334.8 L617.5 335.4 L618.2 334.7 L618.9 334.4 L619.6 334.6 L620.3 334.0 L621.0 332.0 L621.7 329.3 L622.4 327.7 L623.1 326.9 L623.8 326.7 L624.5 325.9 L625.2 324.2 L625.9 323.1 L626.6 323.1 L627.3 323.3 L628.0 324.0 L628.7 324.0 L629.4 324.0 L630.1 327.2 L630.8 329.8 L631.5 329.5 L632.2 329.3 L632.9 329.6 L633.6 330.5 L634.3 331.5 L635.0 330.9 L635.7 331.2 L636.4 331.8 L637.1 331.9 L637.8 332.6 L638.5 332.9 L639.2 333.9 L639.9 335.3 L640.6 336.1 L641.3 337.1 L642.0 337.0 L642.7 335.7 L643.4 335.9 L644.1 337.3 L644.8 338.0 L645.5 338.5 L646.2 339.3 L646.9 339.1 L647.6 338.9 L648.3 338.6 L649.0 339.6 L649.7 340.4 L650.4 339.4 L651.1 339.4 L651.8 340.3 L652.5 342.4 L653.2 343.6 L653.9 342.0 L654.6 342.0 L655.3 343.5 L656.0 343.6 L656.7 343.2 L657.4 342.0 L658.1 341.6 L658.8 341.0 L659.5 338.4 L660.2 337.3 L660.9 337.4" stroke="#222" stroke-width="0.7" fill="none" stroke-linejoin="round"/>
<text x="580" y="328" text-anchor="middle">Egg no. 2</text>
<text x="525.2" y="374.8" text-anchor="middle">Ovulation</text>
<text x="525.2" y="384.9" text-anchor="middle">start</text>
<text x="574" y="374.8" text-anchor="middle">Search</text>
<text x="574" y="384.9" text-anchor="middle">start</text>
<text x="614" y="374.8" text-anchor="middle">Abdomen</text>
<text x="614" y="384.9" text-anchor="middle">bend</text>
<text x="614" y="395.0" text-anchor="middle">complete</text>
<text x="676" y="375.4" text-anchor="middle">Egg</text>
<text x="676" y="385.5" text-anchor="middle">deposited</text>
<line x1="760.40" y1="319.70" x2="760.40" y2="354.50" stroke="#e6c6e3" stroke-width="0.9"/>
<line x1="760.40" y1="363.80" x2="760.40" y2="359.60" stroke="#dba6d6" stroke-width="0.9"/><polygon points="760.40,355.40 762.50,359.60 760.40,359.60 758.30,359.60" fill="#dba6d6"/>
<line x1="816.70" y1="319.70" x2="816.70" y2="354.50" stroke="#d29ccd" stroke-width="0.9"/>
<line x1="816.70" y1="363.80" x2="816.70" y2="359.60" stroke="#c070ba" stroke-width="0.9"/><polygon points="816.70,355.40 818.80,359.60 816.70,359.60 814.60,359.60" fill="#c070ba"/>
<line x1="830.60" y1="319.70" x2="830.60" y2="355.00" stroke="#e4646a" stroke-width="0.9"/>
<line x1="830.60" y1="367.20" x2="830.60" y2="363.20" stroke="#4a3596" stroke-width="0.9"/><polygon points="830.60,359.00 832.70,363.20 830.60,363.20 828.50,363.20" fill="#4a3596"/>
<line x1="830.60" y1="362.50" x2="830.60" y2="360.00" stroke="#e0262c" stroke-width="0.9"/><polygon points="830.60,355.60 832.70,360.00 830.60,360.00 828.50,360.00" fill="#e0262c"/>
<path d="M725.2 337.1 L725.9 336.9 L726.6 336.3 L727.3 337.7 L728.0 339.5 L728.7 339.8 L729.4 338.8 L730.1 339.7 L730.8 341.5 L731.5 341.3 L732.2 341.5 L732.9 341.5 L733.6 342.1 L734.3 343.2 L735.0 343.6 L735.7 344.7 L736.4 346.0 L737.1 346.0 L737.8 346.6 L738.5 345.7 L739.2 343.4 L739.9 342.3 L740.6 342.8 L741.3 342.2 L742.0 341.9 L742.7 342.3 L743.4 340.5 L744.1 339.1 L744.8 340.1 L745.5 339.3 L746.2 337.4 L746.9 338.0 L747.6 338.9 L748.3 339.4 L749.0 341.4 L749.7 341.6 L750.4 341.3 L751.1 341.5 L751.8 340.1 L752.5 338.7 L753.2 337.9 L753.9 336.6 L754.6 335.9 L755.3 336.1 L756.0 336.1 L756.7 336.3 L757.4 337.1 L758.1 337.7 L758.8 336.7 L759.5 335.6 L760.2 335.9 L760.9 336.2 L761.6 336.7 L762.3 336.5 L763.0 336.8 L763.7 338.6 L764.4 340.7 L765.1 342.5 L765.8 342.4 L766.5 342.7 L767.2 343.6 L767.9 344.6 L768.6 345.8 L769.3 345.6 L770.0 345.5 L770.7 346.3 L771.4 347.6 L772.1 347.5 L772.8 346.9 L773.5 346.8 L774.2 346.3 L774.9 345.8 L775.6 345.0 L776.3 344.2 L777.0 343.4 L777.7 343.9 L778.4 346.2 L779.1 345.5 L779.8 345.1 L780.5 347.3 L781.2 348.0 L781.9 346.9 L782.6 347.9 L783.3 348.6 L784.0 349.0 L784.7 349.9 L785.4 348.9 L786.1 348.9 L786.8 349.0 L787.5 349.0 L788.2 349.0 L788.9 348.2 L789.6 348.5 L790.3 348.7 L791.0 347.9 L791.7 347.4 L792.4 347.0 L793.1 346.5 L793.8 345.6 L794.5 344.5 L795.2 342.9 L795.9 341.5 L796.6 339.4 L797.3 337.2 L798.0 336.2 L798.7 334.0 L799.4 332.1 L800.1 332.4 L800.8 331.6 L801.5 332.9 L802.2 334.5 L802.9 335.4 L803.6 336.6 L804.3 335.4 L805.0 335.3 L805.7 334.7 L806.4 334.9 L807.1 335.1 L807.8 334.4 L808.5 333.8 L809.2 335.8 L809.9 337.7 L810.6 337.9 L811.3 337.6 L812.0 338.1 L812.7 339.3 L813.4 339.2 L814.1 339.5 L814.8 340.3 L815.5 340.3 L816.2 340.6 L816.9 341.4 L817.6 339.6 L818.3 337.1 L819.0 334.6 L819.7 332.5 L820.4 331.2 L821.1 330.4 L821.8 328.7 L822.5 326.2 L823.2 325.5 L823.9 324.9 L824.6 324.2 L825.3 324.3 L826.0 323.4 L826.7 323.0 L827.4 323.4 L828.1 323.3 L828.8 323.6 L829.5 324.7 L830.2 326.3 L830.9 326.8 L831.6 327.3 L832.3 329.4 L833.0 331.1 L833.7 333.0 L834.4 333.4 L835.1 334.6 L835.8 336.3 L836.5 336.4 L837.2 336.6 L837.9 336.4 L838.6 335.4 L839.3 336.5 L840.0 338.4 L840.7 338.9 L841.4 338.4 L842.1 338.3 L842.8 340.2 L843.5 341.2 L844.2 340.8 L844.9 340.4 L845.6 340.7 L846.3 341.8 L847.0 342.0 L847.7 341.3 L848.4 341.3 L849.1 341.2 L849.8 341.3 L850.5 342.4 L851.2 342.6 L851.9 342.5 L852.6 344.1 L853.3 344.5 L854.0 344.6 L854.7 345.0 L855.4 342.7 L856.1 341.3 L856.8 340.1 L857.5 337.2 L858.2 335.7 L858.9 335.7 L859.6 336.3 L860.3 335.4 L861.0 333.7 L861.7 333.7 L862.4 333.3 L863.1 332.2 L863.8 332.4 L864.5 332.7 L865.2 330.1 L865.9 329.6 L866.6 330.9 L867.3 330.6 L868.0 330.1" stroke="#222" stroke-width="0.7" fill="none" stroke-linejoin="round"/>
<path d="M847.0 339.7 L847.7 339.4 L848.4 339.3 L849.1 338.7 L849.8 338.9 L850.5 339.2 L851.2 338.6 L851.9 338.4 L852.6 338.3 L853.3 337.6 L854.0 337.4 L854.7 337.5 L855.4 337.1 L856.1 336.8 L856.8 336.3 L857.5 336.7 L858.2 336.7 L858.9 336.3 L859.6 336.1 L860.3 335.5 L861.0 335.0 L861.7 334.7 L862.4 334.4 L863.1 333.8 L863.8 333.5 L864.5 334.0 L865.2 334.2 L865.9 334.1 L866.6 333.8 L867.3 333.1 L868.0 333.0" stroke="#222" stroke-width="0.6" fill="none" stroke-linejoin="round"/>
<text x="785.2" y="328.5" text-anchor="middle">Egg no. 8</text>
<line x1="730.00" y1="353.50" x2="745.00" y2="353.50" stroke="#222" stroke-width="1.0"/>
<text x="737.4" y="364.1" text-anchor="middle">20 s</text>
<!-- panels h,m,n -->
<text x="3" y="440.2" style="font-size:13.5px;" class="pl">h</text>
<line x1="43.00" y1="442.00" x2="43.00" y2="491.30" stroke="#222" stroke-width="0.8"/>
<line x1="40.80" y1="442.20" x2="43.00" y2="442.20" stroke="#222" stroke-width="0.8"/>
<text x="39.8" y="445.3" text-anchor="end">0.4</text>
<line x1="40.80" y1="458.60" x2="43.00" y2="458.60" stroke="#222" stroke-width="0.8"/>
<text x="39.8" y="461.7" text-anchor="end">0.2</text>
<line x1="40.80" y1="475.00" x2="43.00" y2="475.00" stroke="#222" stroke-width="0.8"/>
<text x="39.8" y="478.1" text-anchor="end">0</text>
<line x1="40.80" y1="491.40" x2="43.00" y2="491.40" stroke="#222" stroke-width="0.8"/>
<text x="39.8" y="494.5" text-anchor="end">–0.2</text>
<text x="21.2" y="468.7" text-anchor="middle" transform="rotate(-90 21.2 468.7)">Δ<tspan font-style="italic">F</tspan>/<tspan font-style="italic">F</tspan></text>
<text x="45.8" y="455.7">43 traces, 8 flies</text>
<g stroke="#cacaca" stroke-width="0.55" fill="none" stroke-opacity="0.85">
<path d="M51.6 498.5 L98.5 526.5 L237.3 554.5"/>
<path d="M54.1 498.5 L107.7 526.5 L215.1 554.5"/>
<path d="M57.4 498.5 L132.8 526.5 L213.5 554.5"/>
<path d="M61.6 498.5 L137.8 526.5 L219.0 554.5"/>
<path d="M77.5 498.5 L127.8 526.5 L213.3 554.5"/>
<path d="M81.7 498.5 L147.9 526.5 L227.6 554.5"/>
<path d="M87.6 498.5 L158.7 526.5 L280.2 554.5"/>
<path d="M90.9 498.5 L160.8 526.5 L214.3 554.5"/>
<path d="M96.8 498.5 L161.8 526.5 L215.9 554.5"/>
<path d="M100.8 498.5 L160.5 526.5 L227.7 554.5"/>
<path d="M100.9 498.5 L162.5 526.5 L243.3 554.5"/>
<path d="M105.7 498.5 L162.6 526.5 L216.5 554.5"/>
<path d="M105.9 498.5 L166.7 526.5 L218.1 554.5"/>
<path d="M105.9 498.5 L168.3 526.5 L213.6 554.5"/>
<path d="M106.9 498.5 L167.6 526.5 L214.6 554.5"/>
<path d="M107.1 498.5 L169.2 526.5 L214.0 554.5"/>
<path d="M107.3 498.5 L171.7 526.5 L213.3 554.5"/>
<path d="M107.3 498.5 L170.8 526.5 L213.9 554.5"/>
<path d="M107.6 498.5 L173.4 526.5 L217.6 554.5"/>
<path d="M108.4 498.5 L173.8 526.5 L213.7 554.5"/>
<path d="M109.4 498.5 L177.3 526.5 L222.1 554.5"/>
<path d="M110.0 498.5 L177.4 526.5 L214.0 554.5"/>
<path d="M110.0 498.5 L177.5 526.5 L218.2 554.5"/>
<path d="M111.1 498.5 L177.8 526.5 L218.9 554.5"/>
<path d="M114.4 498.5 L177.8 526.5 L214.5 554.5"/>
<path d="M115.3 498.5 L179.8 526.5 L214.2 554.5"/>
<path d="M115.3 498.5 L180.2 526.5 L214.7 554.5"/>
<path d="M116.3 498.5 L184.7 526.5 L217.1 554.5"/>
<path d="M116.4 498.5 L184.9 526.5 L213.9 554.5"/>
<path d="M118.1 498.5 L185.8 526.5 L227.4 554.5"/>
<path d="M118.6 498.5 L182.7 526.5 L231.2 554.5"/>
<path d="M120.8 498.5 L190.0 526.5 L231.2 554.5"/>
<path d="M122.9 498.5 L189.3 526.5 L216.3 554.5"/>
<path d="M123.4 498.5 L190.0 526.5 L217.4 554.5"/>
<path d="M123.9 498.5 L191.3 526.5 L236.2 554.5"/>
<path d="M125.1 498.5 L196.9 526.5 L213.8 554.5"/>
<path d="M131.5 498.5 L201.1 526.5 L216.4 554.5"/>
<path d="M135.2 498.5 L202.6 526.5 L223.0 554.5"/>
<path d="M45.7 500 L120 524 L213.5 554.5"/><path d="M45.7 507.8 L150 534 L214 554.5"/><path d="M45.7 528.8 L190 551.5 L213.5 554.5"/>
<path d="M{xs(-112):.1f} 498.5 L{xs(-26):.1f} 526.5 L297.5 548.2"/><path d="M{xs(-122):.1f} 498.5 L{xs(-41):.1f} 526.5 L297.5 551.4"/><path d="M45.7 496.5 L99 524.5 L213.8 554.5"/>
</g>
<rect x="50.98" y="496.30" width="1.19" height="2.30" fill="#d9a3d2"/><rect x="53.15" y="496.30" width="1.19" height="2.30" fill="#d9a3d2"/><rect x="56.42" y="496.30" width="1.19" height="2.30" fill="#d9a3d2"/><rect x="60.77" y="496.30" width="1.19" height="2.30" fill="#d9a3d2"/><rect x="77.11" y="496.30" width="1.19" height="2.30" fill="#d9a3d2"/><rect x="81.46" y="496.30" width="1.19" height="2.30" fill="#d9a3d2"/><rect x="86.90" y="496.30" width="1.19" height="2.30" fill="#d9a3d2"/><rect x="90.17" y="496.30" width="1.19" height="2.30" fill="#d9a3d2"/><rect x="96.70" y="496.30" width="1.19" height="2.30" fill="#d9a3d2"/><rect x="99.97" y="494.40" width="1.19" height="4.20" fill="#d9a3d2"/><rect x="105.41" y="492.50" width="1.19" height="6.10" fill="#d9a3d2"/><rect x="106.50" y="490.60" width="1.19" height="8.00" fill="#d9a3d2"/><rect x="107.59" y="494.40" width="1.19" height="4.20" fill="#d9a3d2"/><rect x="108.68" y="496.30" width="1.19" height="2.30" fill="#d9a3d2"/><rect x="109.77" y="494.40" width="1.19" height="4.20" fill="#d9a3d2"/><rect x="110.86" y="496.30" width="1.19" height="2.30" fill="#d9a3d2"/><rect x="114.12" y="496.30" width="1.19" height="2.30" fill="#d9a3d2"/><rect x="115.21" y="492.50" width="1.19" height="6.10" fill="#d9a3d2"/><rect x="116.30" y="496.30" width="1.19" height="2.30" fill="#d9a3d2"/><rect x="117.39" y="496.30" width="1.19" height="2.30" fill="#d9a3d2"/><rect x="118.48" y="496.30" width="1.19" height="2.30" fill="#d9a3d2"/><rect x="120.66" y="496.30" width="1.19" height="2.30" fill="#d9a3d2"/><rect x="122.83" y="492.50" width="1.19" height="6.10" fill="#d9a3d2"/><rect x="125.01" y="496.30" width="1.19" height="2.30" fill="#d9a3d2"/><rect x="130.45" y="496.30" width="1.19" height="2.30" fill="#d9a3d2"/><rect x="134.81" y="496.30" width="1.19" height="2.30" fill="#d9a3d2"/>
<rect x="97.79" y="524.30" width="1.19" height="2.30" fill="#d096ca"/><rect x="107.59" y="524.30" width="1.19" height="2.30" fill="#d096ca"/><rect x="132.63" y="524.30" width="1.19" height="2.30" fill="#d096ca"/><rect x="136.99" y="524.30" width="1.19" height="2.30" fill="#d096ca"/><rect x="127.19" y="524.30" width="1.19" height="2.30" fill="#d096ca"/><rect x="147.88" y="524.30" width="1.19" height="2.30" fill="#d096ca"/><rect x="157.67" y="524.30" width="1.19" height="2.30" fill="#d096ca"/><rect x="159.85" y="522.40" width="1.19" height="4.20" fill="#d096ca"/><rect x="160.94" y="524.30" width="1.19" height="2.30" fill="#d096ca"/><rect x="162.03" y="522.40" width="1.19" height="4.20" fill="#d096ca"/><rect x="166.38" y="524.30" width="1.19" height="2.30" fill="#d096ca"/><rect x="167.47" y="522.40" width="1.19" height="4.20" fill="#d096ca"/><rect x="168.56" y="524.30" width="1.19" height="2.30" fill="#d096ca"/><rect x="170.74" y="522.40" width="1.19" height="4.20" fill="#d096ca"/><rect x="172.92" y="522.40" width="1.19" height="4.20" fill="#d096ca"/><rect x="177.27" y="516.70" width="1.19" height="9.90" fill="#d096ca"/><rect x="179.45" y="522.40" width="1.19" height="4.20" fill="#d096ca"/><rect x="183.80" y="524.30" width="1.19" height="2.30" fill="#d096ca"/><rect x="184.89" y="522.40" width="1.19" height="4.20" fill="#d096ca"/><rect x="182.71" y="524.30" width="1.19" height="2.30" fill="#d096ca"/><rect x="189.25" y="520.50" width="1.19" height="6.10" fill="#d096ca"/><rect x="190.34" y="524.30" width="1.19" height="2.30" fill="#d096ca"/><rect x="196.87" y="524.30" width="1.19" height="2.30" fill="#d096ca"/><rect x="200.13" y="524.30" width="1.19" height="2.30" fill="#d096ca"/><rect x="202.31" y="524.30" width="1.19" height="2.30" fill="#d096ca"/>
<rect x="215.38" y="546.60" width="1.19" height="8.00" fill="#f0727a"/><rect x="216.47" y="550.40" width="1.19" height="4.20" fill="#f0727a"/><rect x="217.55" y="548.50" width="1.19" height="6.10" fill="#f0727a"/><rect x="218.64" y="550.40" width="1.19" height="4.20" fill="#f0727a"/><rect x="221.91" y="550.40" width="1.19" height="4.20" fill="#f0727a"/><rect x="227.35" y="548.50" width="1.19" height="6.10" fill="#f0727a"/><rect x="230.62" y="550.40" width="1.19" height="4.20" fill="#f0727a"/><rect x="236.06" y="552.30" width="1.19" height="2.30" fill="#f0727a"/><rect x="237.15" y="552.30" width="1.19" height="2.30" fill="#f0727a"/><rect x="242.60" y="552.30" width="1.19" height="2.30" fill="#f0727a"/><rect x="279.61" y="552.30" width="1.19" height="2.30" fill="#f0727a"/>
<rect x="212.40" y="522.50" width="2.20" height="32.00" fill="#f0727a"/>
<rect x="214.60" y="542.00" width="1.70" height="12.50" fill="#f0727a"/>
<rect x="216.30" y="548.50" width="1.70" height="6.00" fill="#f0727a"/>
<path d="M45.7 472.9 L46.1 473.1 L46.5 474.9 L47.0 473.8 L47.4 473.6 L47.8 475.4 L48.2 474.8 L48.6 475.9 L49.0 475.4 L49.5 473.8 L49.9 473.9 L50.3 474.8 L50.7 475.2 L51.1 475.0 L51.6 476.9 L52.0 477.6 L52.4 475.2 L52.8 476.4 L53.2 476.1 L53.7 474.9 L54.1 475.4 L54.5 475.6 L54.9 475.2 L55.3 475.0 L55.7 476.2 L56.2 476.6 L56.6 476.2 L57.0 476.0 L57.4 476.3 L57.8 475.4 L58.3 474.1 L58.7 473.6 L59.1 473.2 L59.5 473.1 L59.9 474.4 L60.4 475.7 L60.8 475.6 L61.2 474.7 L61.6 474.7 L62.0 474.3 L62.4 473.1 L62.9 474.2 L63.3 474.8 L63.7 474.9 L64.1 476.5 L64.5 477.1 L65.0 476.7 L65.4 477.1 L65.8 476.7 L66.2 474.6 L66.6 475.6 L67.1 476.8 L67.5 475.1 L67.9 474.5 L68.3 475.3 L68.7 475.5 L69.1 474.9 L69.6 474.2 L70.0 475.7 L70.4 477.4 L70.8 478.6 L71.2 476.3 L71.7 474.8 L72.1 474.6 L72.5 474.1 L72.9 475.7 L73.3 476.0 L73.8 474.4 L74.2 475.2 L74.6 475.9 L75.0 474.5 L75.4 475.1 L75.8 476.9 L76.3 475.2 L76.7 474.4 L77.1 475.7 L77.5 476.9 L77.9 476.0 L78.4 474.5 L78.8 474.1 L79.2 474.9 L79.6 474.5 L80.0 474.6 L80.5 476.2 L80.9 475.2 L81.3 475.3 L81.7 476.6 L82.1 475.8 L82.5 474.9 L83.0 475.5 L83.4 476.6 L83.8 477.4 L84.2 477.0 L84.6 475.5 L85.1 475.4 L85.5 476.5 L85.9 477.0 L86.3 476.9 L86.7 477.3 L87.2 476.8 L87.6 475.8 L88.0 476.0 L88.4 476.9 L88.8 477.1 L89.2 477.7 L89.7 477.6 L90.1 477.3 L90.5 476.5 L90.9 477.0 L91.3 477.0 L91.8 476.8 L92.2 477.2 L92.6 476.8 L93.0 477.0 L93.4 476.8 L93.9 475.9 L94.3 475.2 L94.7 475.3 L95.1 475.6 L95.5 476.6 L95.9 475.1 L96.4 476.2 L96.8 478.0 L97.2 477.4 L97.6 475.7 L98.0 476.2 L98.5 476.8 L98.9 475.6 L99.3 476.4 L99.7 477.6 L100.1 476.4 L100.6 476.6 L101.0 478.1 L101.4 477.2 L101.8 476.8 L102.2 476.5 L102.6 475.7 L103.1 477.6 L103.5 478.0 L103.9 476.9 L104.3 477.5 L104.7 476.8 L105.2 477.6 L105.6 479.2 L106.0 478.6 L106.4 477.3 L106.8 478.0 L107.3 479.0 L107.7 478.3 L108.1 478.9 L108.5 478.7 L108.9 478.6 L109.3 478.6 L109.8 477.8 L110.2 478.1 L110.6 479.1 L111.0 479.3 L111.4 479.4 L111.9 479.8 L112.3 480.1 L112.7 479.0 L113.1 479.0 L113.5 476.8 L114.0 477.0 L114.4 478.9 L114.8 479.5 L115.2 480.2 L115.6 479.8 L116.0 480.1 L116.5 478.9 L116.9 479.0 L117.3 480.9 L117.7 480.7 L118.1 480.7 L118.6 481.1 L119.0 479.5 L119.4 479.0 L119.8 479.5 L120.2 480.0 L120.7 480.9 L121.1 482.4 L121.5 482.8 L121.9 482.2 L122.3 481.3 L122.7 480.4 L123.2 480.8 L123.6 482.0 L124.0 481.2 L124.4 479.8 L124.8 481.3 L125.3 482.3 L125.7 481.8 L126.1 482.0 L126.5 482.7 L126.9 482.5 L127.4 482.6 L127.8 483.0 L128.2 484.3 L128.6 485.7 L129.0 483.5 L129.4 483.6 L129.9 484.7 L130.3 483.6 L130.7 483.6 L131.1 484.2 L131.5 483.6 L132.0 482.8 L132.4 483.9 L132.8 485.3 L133.2 485.3 L133.6 484.6 L134.1 485.3 L134.5 485.1 L134.9 484.0 L135.3 484.1 L135.7 484.3 L136.1 484.7 L136.6 484.1 L137.0 483.4 L137.4 482.8 L137.8 482.9 L138.2 485.2 L138.7 484.8 L139.1 482.7 L139.5 483.1 L139.9 484.8 L140.3 485.4 L140.8 484.2 L141.2 484.0 L141.6 485.2 L142.0 484.5 L142.4 485.2 L142.8 485.4 L143.3 485.5 L143.7 485.6 L144.1 484.3 L144.5 483.3 L144.9 483.7 L145.4 483.8 L145.8 483.7 L146.2 485.4 L146.6 484.7 L147.0 483.5 L147.5 483.6 L147.9 485.2 L148.3 485.3 L148.7 483.2 L149.1 483.1 L149.5 482.5 L150.0 482.8 L150.4 482.2 L150.8 481.4 L151.2 482.5 L151.6 484.5 L152.1 485.9 L152.5 483.3 L152.9 481.8 L153.3 482.0 L153.7 482.4 L154.2 483.0 L154.6 482.1 L155.0 482.1 L155.4 481.5 L155.8 481.6 L156.2 482.1 L156.7 481.3 L157.1 481.0 L157.5 479.9 L157.9 480.6 L158.3 481.0 L158.8 480.2 L159.2 479.8 L159.6 479.8 L160.0 480.6 L160.4 480.0 L160.9 478.7 L161.3 478.2 L161.7 478.9 L162.1 478.9 L162.5 479.8 L162.9 480.1 L163.4 479.0 L163.8 478.6 L164.2 478.9 L164.6 478.2 L165.0 477.3 L165.5 475.7 L165.9 476.2 L166.3 477.7 L166.7 476.6 L167.1 475.9 L167.6 476.9 L168.0 475.4 L168.4 474.9 L168.8 475.8 L169.2 475.8 L169.6 476.0 L170.1 475.3 L170.5 475.0 L170.9 473.1 L171.3 472.2 L171.7 474.1 L172.2 474.6 L172.6 474.3 L173.0 473.0 L173.4 472.8 L173.8 474.0 L174.3 474.2 L174.7 474.3 L175.1 473.2 L175.5 471.3 L175.9 471.9 L176.3 471.7 L176.8 472.4 L177.2 472.6 L177.6 471.2 L178.0 470.8 L178.4 470.8 L178.9 470.2 L179.3 470.1 L179.7 469.7 L180.1 469.0 L180.5 469.0 L181.0 469.1 L181.4 469.1 L181.8 469.6 L182.2 469.6 L182.6 468.5 L183.0 468.1 L183.5 467.6 L183.9 467.8 L184.3 468.2 L184.7 468.0 L185.1 467.4 L185.6 467.0 L186.0 467.1 L186.4 466.8 L186.8 467.4 L187.2 466.7 L187.7 467.2 L188.1 467.7 L188.5 465.4 L188.9 464.6 L189.3 464.6 L189.8 464.3 L190.2 465.6 L190.6 465.3 L191.0 463.2 L191.4 462.7 L191.8 463.0 L192.3 462.0 L192.7 462.3 L193.1 462.5 L193.5 461.6 L193.9 462.3 L194.4 461.6 L194.8 460.1 L195.2 460.6 L195.6 461.2 L196.0 460.9 L196.4 461.4 L196.9 460.0 L197.3 459.5 L197.7 459.6 L198.1 458.7 L198.5 459.3 L199.0 458.1 L199.4 456.9 L199.8 455.9 L200.2 455.8 L200.6 456.6 L201.1 456.2 L201.5 456.2 L201.9 455.1 L202.3 453.6 L202.7 453.6 L203.1 455.1 L203.6 454.6 L204.0 453.5 L204.4 453.8 L204.8 454.5 L205.2 453.3 L205.7 451.2 L206.1 451.1 L206.5 451.4 L206.9 449.6 L207.3 448.4 L207.8 449.0 L208.2 451.4 L208.6 450.4 L209.0 447.8 L209.4 447.2 L209.8 447.4 L210.3 447.9 L210.7 447.0 L211.1 445.9 L211.5 446.5 L211.9 446.5 L212.4 447.1 L212.8 448.6 L213.2 448.7 L213.6 449.0 L214.0 450.4 L214.5 450.8 L214.9 452.5 L215.3 453.8 L215.7 455.0 L216.1 456.1 L216.5 455.7 L217.0 456.0 L217.4 456.8 L217.8 457.1 L218.2 457.7 L218.6 459.7 L219.1 459.3 L219.5 458.7 L219.9 459.3 L220.3 460.1 L220.7 461.3 L221.2 461.9 L221.6 463.2 L222.0 463.4 L222.4 463.2 L222.8 462.3 L223.2 463.4 L223.7 464.7 L224.1 464.0 L224.5 464.3 L224.9 464.8 L225.3 464.8 L225.8 464.7 L226.2 465.9 L226.6 466.2 L227.0 465.6 L227.4 467.0 L227.9 468.5 L228.3 469.2 L228.7 468.3 L229.1 468.3 L229.5 468.8 L229.9 468.9 L230.4 468.4 L230.8 468.6 L231.2 469.5 L231.6 469.6 L232.0 469.2 L232.5 469.9 L232.9 469.1 L233.3 467.9 L233.7 467.8 L234.1 468.9 L234.6 470.1 L235.0 470.6 L235.4 469.7 L235.8 469.6 L236.2 468.9 L236.6 470.0 L237.1 471.6 L237.5 469.8 L237.9 469.9 L238.3 470.0 L238.7 468.8 L239.2 469.3 L239.6 470.3 L240.0 470.8 L240.4 472.3 L240.8 472.9 L241.3 471.6 L241.7 470.9 L242.1 472.4 L242.5 472.6 L242.9 471.3 L243.3 471.1 L243.8 470.6 L244.2 472.1 L244.6 473.3 L245.0 473.1 L245.4 472.6 L245.9 471.1 L246.3 471.6 L246.7 472.3 L247.1 471.6 L247.5 472.1 L248.0 472.3 L248.4 472.2 L248.8 471.8 L249.2 470.8 L249.6 472.4 L250.0 473.6 L250.5 472.0 L250.9 472.1 L251.3 472.9 L251.7 472.6 L252.1 474.0 L252.6 472.6 L253.0 471.4 L253.4 473.1 L253.8 473.6 L254.2 473.3 L254.7 473.9 L255.1 473.4 L255.5 472.2 L255.9 473.2 L256.3 473.6 L256.8 473.7 L257.2 474.0 L257.6 474.1 L258.0 475.2 L258.4 474.5 L258.8 473.0 L259.3 471.7 L259.7 472.7 L260.1 473.7 L260.5 473.6 L260.9 471.8 L261.4 471.6 L261.8 473.5 L262.2 474.2 L262.6 474.4 L263.0 473.9 L263.4 473.2 L263.9 474.8 L264.3 473.8 L264.7 471.8 L265.1 473.3 L265.5 472.0 L266.0 473.0 L266.4 475.4 L266.8 473.8 L267.2 473.0 L267.6 473.2 L268.1 472.4 L268.5 472.0 L268.9 472.2 L269.3 473.6 L269.7 475.2 L270.1 474.8 L270.6 474.7 L271.0 474.8 L271.4 474.1 L271.8 474.2 L272.2 473.1 L272.7 473.4 L273.1 474.9 L273.5 474.8 L273.9 474.4 L274.3 474.2 L274.8 473.8 L275.2 472.7 L275.6 472.2 L276.0 474.9 L276.4 475.5 L276.8 474.1 L277.3 471.7 L277.7 470.7 L278.1 473.0 L278.5 474.0 L278.9 474.4 L279.4 475.4 L279.8 474.0 L280.2 472.5 L280.6 473.3 L281.0 474.2 L281.5 473.6 L281.9 472.7 L282.3 473.9 L282.7 475.3 L283.1 474.4 L283.6 473.5 L284.0 475.4 L284.4 475.3 L284.8 473.7 L285.2 472.7 L285.6 472.9 L286.1 473.1 L286.5 473.8 L286.9 473.5 L287.3 474.0 L287.7 473.7 L288.2 472.3 L288.6 473.8 L289.0 474.3 L289.4 472.4 L289.8 472.4 L290.2 474.4 L290.7 473.9 L291.1 472.7 L291.5 471.9 L291.9 472.2 L292.3 473.0 L292.8 473.2 L293.2 472.1 L293.6 472.1 L294.0 472.5 L294.4 473.7 L294.9 474.3 L295.3 473.3 L295.7 472.4 L296.1 472.2 L296.5 472.7 L296.9 472.2" stroke="#111" stroke-width="1.25" fill="none" stroke-linejoin="round"/>
<line x1="45.50" y1="556.70" x2="297.80" y2="556.70" stroke="#222" stroke-width="0.9"/>
<line x1="45.70" y1="556.70" x2="45.70" y2="559.00" stroke="#222" stroke-width="0.8"/>
<line x1="87.57" y1="556.70" x2="87.57" y2="558.30" stroke="#222" stroke-width="0.8"/>
<line x1="129.45" y1="556.70" x2="129.45" y2="559.00" stroke="#222" stroke-width="0.8"/>
<line x1="171.32" y1="556.70" x2="171.32" y2="558.30" stroke="#222" stroke-width="0.8"/>
<line x1="213.20" y1="556.70" x2="213.20" y2="559.00" stroke="#222" stroke-width="0.8"/>
<line x1="255.07" y1="556.70" x2="255.07" y2="558.30" stroke="#222" stroke-width="0.8"/>
<line x1="296.95" y1="556.70" x2="296.95" y2="559.00" stroke="#222" stroke-width="0.8"/>
<text x="46.0" y="568.1" text-anchor="middle">–200</text>
<text x="129.8" y="568.1" text-anchor="middle">–100</text>
<text x="213.2" y="568.1" text-anchor="middle">0</text>
<text x="296.9" y="568.1" text-anchor="middle">100</text>
<text x="264.5" y="574.9" text-anchor="middle">Time (s)</text>
<text x="200.2" y="580.7" text-anchor="end">Abdomen bend complete</text>
<path d="M204 578.3 H213.2 V574.2" stroke="#5b3a9b" stroke-width="0.9" fill="none"/><polygon points="213.2,570.8 211.4,574.6 215,574.6" fill="#5b3a9b"/>
<text x="35.6" y="530" text-anchor="middle" transform="rotate(-90 35.6 530)">5 Events</text>
<line x1="41.00" y1="525.00" x2="41.00" y2="535.00" stroke="#222" stroke-width="0.9"/>
<text x="239.5" y="495.7">Ovulation start</text>
<text x="239.5" y="517.7">Search start</text>
<text x="239.5" y="539.4">Egg deposited</text>
<text x="3" y="611.2" style="font-size:13.5px;" class="pl">m</text>
<line x1="43.70" y1="606.70" x2="43.70" y2="686.00" stroke="#222" stroke-width="0.8"/>
<line x1="41.50" y1="606.60" x2="43.70" y2="606.60" stroke="#222" stroke-width="0.8"/>
<text x="40.2" y="609.7" text-anchor="end">1.0</text>
<line x1="41.50" y1="633.05" x2="43.70" y2="633.05" stroke="#222" stroke-width="0.8"/>
<text x="40.2" y="636.1" text-anchor="end">0.5</text>
<line x1="41.50" y1="659.50" x2="43.70" y2="659.50" stroke="#222" stroke-width="0.8"/>
<text x="40.2" y="662.6" text-anchor="end">0</text>
<line x1="41.50" y1="685.95" x2="43.70" y2="685.95" stroke="#222" stroke-width="0.8"/>
<text x="40.2" y="689.1" text-anchor="end">–0.5</text>
<text x="24.2" y="642.5" text-anchor="middle" transform="rotate(-90 24.2 642.5)">Δ<tspan font-style="italic">F</tspan>/<tspan font-style="italic">F</tspan></text>
<path d="M46.7 656.3 L47.3 656.8 L47.9 657.6 L48.5 659.5 L49.1 660.1 L49.7 658.5 L50.3 659.7 L50.9 661.4 L51.5 662.3 L52.1 664.1 L52.7 663.9 L53.3 661.9 L53.9 661.5 L54.5 662.4 L55.1 663.8 L55.7 665.6 L56.3 663.9 L56.9 661.0 L57.5 661.2 L58.1 661.8 L58.7 658.5 L59.3 656.1 L59.9 659.2 L60.6 661.1 L61.2 659.3 L61.8 658.3 L62.4 658.6 L63.0 656.9 L63.6 657.5 L64.2 661.6 L64.8 663.6 L65.4 661.5 L66.0 661.3 L66.6 664.0 L67.2 665.0 L67.8 664.8 L68.4 665.2 L69.0 664.4 L69.6 663.5 L70.2 664.5 L70.8 664.1 L71.4 664.0 L72.0 665.2 L72.6 665.3 L73.2 663.4 L73.8 663.0 L74.4 663.5 L75.0 662.1 L75.6 661.7 L76.2 663.5 L76.8 665.2 L77.4 664.0 L78.0 662.4 L78.6 662.5 L79.2 664.3 L79.8 665.1 L80.4 664.6 L81.0 664.3 L81.6 665.5 L82.2 667.5 L82.8 666.8 L83.4 666.1 L84.0 667.1 L84.6 668.0 L85.2 667.8 L85.8 666.9 L86.4 667.2 L87.1 667.9 L87.7 666.8 L88.3 668.2 L88.9 670.5 L89.5 671.4 L90.1 671.7 L90.7 672.0 L91.3 674.2 L91.9 676.5 L92.5 677.6 L93.1 679.7 L93.7 681.6 L94.3 679.8 L94.9 677.5 L95.5 677.9 L96.1 678.2 L96.7 678.6 L97.3 678.6 L97.9 677.7 L98.5 678.0 L99.1 680.3 L99.7 680.7 L100.3 678.7 L100.9 677.3 L101.5 678.2 L102.1 679.5 L102.7 679.4 L103.3 679.0 L103.9 677.2 L104.5 673.8 L105.1 671.5 L105.7 672.5 L106.3 674.4 L106.9 671.9 L107.5 667.3 L108.1 664.5 L108.7 660.2 L109.3 657.3 L109.9 655.6 L110.5 652.2 L111.1 649.4 L111.7 647.4 L112.3 646.9 L112.9 646.0 L113.5 644.2 L114.2 642.2 L114.8 641.5 L115.4 643.6 L116.0 643.5 L116.6 640.5 L117.2 639.5 L117.8 641.1 L118.4 643.2 L119.0 644.4 L119.6 643.4 L120.2 641.8 L120.8 641.7 L121.4 641.0 L122.0 638.0 L122.6 634.4 L123.2 633.7 L123.8 633.8 L124.4 632.9 L125.0 632.1 L125.6 631.8 L126.2 631.4 L126.8 634.1" stroke="#0072bd" stroke-width="0.6" fill="none" stroke-linejoin="round" stroke-opacity="0.9"/>
<path d="M46.7 671.2 L47.3 668.6 L47.9 666.8 L48.5 665.0 L49.1 663.9 L49.7 661.1 L50.3 657.6 L50.9 655.0 L51.5 653.5 L52.1 654.0 L52.7 652.9 L53.3 650.9 L53.9 648.8 L54.5 647.6 L55.1 647.6 L55.7 647.1 L56.3 645.9 L56.9 645.9 L57.5 647.3 L58.1 649.6 L58.7 652.3 L59.3 655.4 L59.9 656.7 L60.6 655.6 L61.2 654.2 L61.8 654.0 L62.4 655.0 L63.0 656.1 L63.6 657.2 L64.2 657.5 L64.8 657.2 L65.4 659.0 L66.0 659.7 L66.6 657.8 L67.2 656.6 L67.8 655.0 L68.4 655.5 L69.0 658.1 L69.6 661.4 L70.2 663.9 L70.8 664.5 L71.4 663.9 L72.0 665.4 L72.6 667.5 L73.2 669.7 L73.8 671.4 L74.4 672.0 L75.0 673.7 L75.6 676.1 L76.2 678.3 L76.8 678.2 L77.4 678.5 L78.0 678.8 L78.6 678.9 L79.2 680.4 L79.8 678.8 L80.4 676.0 L81.0 677.3 L81.6 677.4 L82.2 674.5 L82.8 672.8 L83.4 672.9 L84.0 672.3 L84.6 670.2 L85.2 669.0 L85.8 668.7 L86.4 669.2 L87.1 670.0 L87.7 668.8 L88.3 668.4 L88.9 668.0 L89.5 667.4 L90.1 668.5 L90.7 668.2 L91.3 667.0 L91.9 665.0 L92.5 664.4 L93.1 665.6 L93.7 667.9 L94.3 668.3 L94.9 666.4 L95.5 668.5 L96.1 670.7 L96.7 668.0 L97.3 667.4 L97.9 670.2 L98.5 671.9 L99.1 671.0 L99.7 670.0 L100.3 671.0 L100.9 672.1 L101.5 671.1 L102.1 668.9 L102.7 666.5 L103.3 666.9 L103.9 668.3 L104.5 667.6 L105.1 667.4 L105.7 669.0 L106.3 669.2 L106.9 665.6 L107.5 662.9 L108.1 661.4 L108.7 659.8 L109.3 659.2 L109.9 657.7 L110.5 656.1 L111.1 656.6 L111.7 657.7 L112.3 656.2 L112.9 652.6 L113.5 650.9 L114.2 649.6 L114.8 647.7 L115.4 646.3 L116.0 645.4 L116.6 645.8 L117.2 645.1 L117.8 644.7 L118.4 646.4 L119.0 645.5 L119.6 643.4 L120.2 641.2 L120.8 638.9 L121.4 639.9 L122.0 640.9 L122.6 639.8 L123.2 637.5 L123.8 636.2 L124.4 634.3 L125.0 629.6 L125.6 626.7 L126.2 628.2 L126.8 631.6" stroke="#d95319" stroke-width="0.6" fill="none" stroke-linejoin="round" stroke-opacity="0.9"/>
<path d="M46.7 641.1 L47.3 646.1 L47.9 650.0 L48.5 651.0 L49.1 653.9 L49.7 656.6 L50.3 658.1 L50.9 661.0 L51.5 664.0 L52.1 669.2 L52.7 672.4 L53.3 672.5 L53.9 671.7 L54.5 673.5 L55.1 672.8 L55.7 672.1 L56.3 671.5 L56.9 671.2 L57.5 669.2 L58.1 668.3 L58.7 671.8 L59.3 675.6 L59.9 677.1 L60.6 674.5 L61.2 673.0 L61.8 674.0 L62.4 673.4 L63.0 668.9 L63.6 668.4 L64.2 669.8 L64.8 669.6 L65.4 667.2 L66.0 665.5 L66.6 664.1 L67.2 664.0 L67.8 664.0 L68.4 663.0 L69.0 661.1 L69.6 659.2 L70.2 658.5 L70.8 659.2 L71.4 660.3 L72.0 662.4 L72.6 664.7 L73.2 666.2 L73.8 668.5 L74.4 670.4 L75.0 670.6 L75.6 669.3 L76.2 666.3 L76.8 663.6 L77.4 666.9 L78.0 670.1 L78.6 672.0 L79.2 672.9 L79.8 673.8 L80.4 672.5 L81.0 671.7 L81.6 671.9 L82.2 673.3 L82.8 676.8 L83.4 678.2 L84.0 679.2 L84.6 682.6 L85.2 683.0 L85.8 683.4 L86.4 683.6 L87.1 679.5 L87.7 678.7 L88.3 680.1 L88.9 678.2 L89.5 677.1 L90.1 678.5 L90.7 679.1 L91.3 678.4 L91.9 676.5 L92.5 676.8 L93.1 677.3 L93.7 679.2 L94.3 679.8 L94.9 683.1 L95.5 687.6 L96.1 689.9 L96.7 693.2 L97.3 696.3 L97.9 694.1 L98.5 689.8 L99.1 688.6 L99.7 686.9 L100.3 686.3 L100.9 685.6 L101.5 684.6 L102.1 681.8 L102.7 680.4 L103.3 678.6 L103.9 676.8 L104.5 675.4 L105.1 673.4 L105.7 671.0 L106.3 668.7 L106.9 668.4 L107.5 667.8 L108.1 669.6 L108.7 670.7 L109.3 667.6 L109.9 663.3 L110.5 662.7 L111.1 663.4 L111.7 662.8 L112.3 664.1 L112.9 663.7 L113.5 662.0 L114.2 664.2 L114.8 666.3 L115.4 664.9 L116.0 661.8 L116.6 658.4 L117.2 655.2 L117.8 653.1 L118.4 651.7 L119.0 652.0 L119.6 651.1 L120.2 649.9 L120.8 650.8 L121.4 650.2 L122.0 645.8 L122.6 639.8 L123.2 636.1 L123.8 633.1 L124.4 632.3 L125.0 633.1 L125.6 633.7 L126.2 633.2 L126.8 634.3" stroke="#edb120" stroke-width="0.6" fill="none" stroke-linejoin="round" stroke-opacity="0.9"/>
<path d="M46.7 650.5 L47.3 652.0 L47.9 651.9 L48.5 654.4 L49.1 658.9 L49.7 659.4 L50.3 659.3 L50.9 662.1 L51.5 663.7 L52.1 661.2 L52.7 661.0 L53.3 665.9 L53.9 670.4 L54.5 670.3 L55.1 666.8 L55.7 663.1 L56.3 660.4 L56.9 658.9 L57.5 659.3 L58.1 659.3 L58.7 657.7 L59.3 657.7 L59.9 657.1 L60.6 654.1 L61.2 652.2 L61.8 652.2 L62.4 652.1 L63.0 652.9 L63.6 656.0 L64.2 658.9 L64.8 660.8 L65.4 662.4 L66.0 664.2 L66.6 667.0 L67.2 667.6 L67.8 667.5 L68.4 671.9 L69.0 673.6 L69.6 672.4 L70.2 673.5 L70.8 677.3 L71.4 680.7 L72.0 680.6 L72.6 677.5 L73.2 677.7 L73.8 680.0 L74.4 679.5 L75.0 677.9 L75.6 677.5 L76.2 677.7 L76.8 678.3 L77.4 677.2 L78.0 672.5 L78.6 670.6 L79.2 668.4 L79.8 665.2 L80.4 664.4 L81.0 663.0 L81.6 659.6 L82.2 658.2 L82.8 658.2 L83.4 660.0 L84.0 660.2 L84.6 658.4 L85.2 656.7 L85.8 655.7 L86.4 656.1 L87.1 655.7 L87.7 655.7 L88.3 655.2 L88.9 655.8 L89.5 656.7 L90.1 656.8 L90.7 656.7 L91.3 658.7 L91.9 661.0 L92.5 662.8 L93.1 665.8 L93.7 668.6 L94.3 669.7 L94.9 672.3 L95.5 673.3 L96.1 672.9 L96.7 673.9 L97.3 676.7 L97.9 679.5 L98.5 680.9 L99.1 683.9 L99.7 685.3 L100.3 684.0 L100.9 682.2 L101.5 680.7 L102.1 678.7 L102.7 677.8 L103.3 676.6 L103.9 674.5 L104.5 671.5 L105.1 670.8 L105.7 671.7 L106.3 672.4 L106.9 671.8 L107.5 668.1 L108.1 665.5 L108.7 663.7 L109.3 662.3 L109.9 661.7 L110.5 661.4 L111.1 663.3 L111.7 664.1 L112.3 663.0 L112.9 660.6 L113.5 656.7 L114.2 654.6 L114.8 655.1 L115.4 655.0 L116.0 655.5 L116.6 655.8 L117.2 655.4 L117.8 656.0 L118.4 656.8 L119.0 655.2 L119.6 652.8 L120.2 651.2 L120.8 649.0 L121.4 648.1 L122.0 648.6 L122.6 645.8 L123.2 644.0 L123.8 644.3 L124.4 642.5 L125.0 640.0 L125.6 636.9 L126.2 635.3 L126.8 635.6" stroke="#7e2f8e" stroke-width="0.6" fill="none" stroke-linejoin="round" stroke-opacity="0.9"/>
<path d="M46.7 654.5 L47.3 654.5 L47.9 655.9 L48.5 659.3 L49.1 659.4 L49.7 657.5 L50.3 657.3 L50.9 656.5 L51.5 654.9 L52.1 653.3 L52.7 652.1 L53.3 652.0 L53.9 652.8 L54.5 652.7 L55.1 653.4 L55.7 654.2 L56.3 652.5 L56.9 650.6 L57.5 650.6 L58.1 650.7 L58.7 650.3 L59.3 651.1 L59.9 652.2 L60.6 651.6 L61.2 652.0 L61.8 655.5 L62.4 656.8 L63.0 654.6 L63.6 652.9 L64.2 652.6 L64.8 653.1 L65.4 654.7 L66.0 654.7 L66.6 654.5 L67.2 656.6 L67.8 660.1 L68.4 662.0 L69.0 662.5 L69.6 663.5 L70.2 666.4 L70.8 668.0 L71.4 666.8 L72.0 666.1 L72.6 667.6 L73.2 671.5 L73.8 673.5 L74.4 674.3 L75.0 676.5 L75.6 677.7 L76.2 675.8 L76.8 673.0 L77.4 672.4 L78.0 673.6 L78.6 673.5 L79.2 671.0 L79.8 668.4 L80.4 666.5 L81.0 665.7 L81.6 664.5 L82.2 663.2 L82.8 664.0 L83.4 663.3 L84.0 662.2 L84.6 662.3 L85.2 661.8 L85.8 661.4 L86.4 660.8 L87.1 659.7 L87.7 661.4 L88.3 664.5 L88.9 666.2 L89.5 667.1 L90.1 667.8 L90.7 667.0 L91.3 667.2 L91.9 670.0 L92.5 671.6 L93.1 673.2 L93.7 673.6 L94.3 674.8 L94.9 675.8 L95.5 673.0 L96.1 671.0 L96.7 670.4 L97.3 667.9 L97.9 666.3 L98.5 664.8 L99.1 661.9 L99.7 661.9 L100.3 661.6 L100.9 658.7 L101.5 658.0 L102.1 659.2 L102.7 657.4 L103.3 657.3 L103.9 659.1 L104.5 657.1 L105.1 656.6 L105.7 656.4 L106.3 654.5 L106.9 655.6 L107.5 655.8 L108.1 653.2 L108.7 652.3 L109.3 650.9 L109.9 649.0 L110.5 648.6 L111.1 649.2 L111.7 650.1 L112.3 649.4 L112.9 648.7 L113.5 648.7 L114.2 650.1 L114.8 651.9 L115.4 653.0 L116.0 653.1 L116.6 651.8 L117.2 650.0 L117.8 650.9 L118.4 651.6 L119.0 650.0 L119.6 648.0 L120.2 647.1 L120.8 647.3 L121.4 647.3 L122.0 646.3 L122.6 644.5 L123.2 644.6 L123.8 644.9 L124.4 641.3 L125.0 636.6 L125.6 634.9 L126.2 635.2 L126.8 636.5" stroke="#77ac30" stroke-width="0.6" fill="none" stroke-linejoin="round" stroke-opacity="0.9"/>
<path d="M46.7 657.7 L47.3 656.1 L47.9 657.6 L48.5 656.9 L49.1 655.1 L49.7 654.4 L50.3 654.0 L50.9 653.0 L51.5 651.1 L52.1 650.7 L52.7 652.1 L53.3 652.4 L53.9 650.2 L54.5 649.2 L55.1 649.9 L55.7 650.5 L56.3 651.9 L56.9 652.8 L57.5 652.6 L58.1 653.7 L58.7 657.0 L59.3 660.9 L59.9 664.6 L60.6 667.6 L61.2 668.9 L61.8 670.6 L62.4 672.0 L63.0 672.0 L63.6 673.2 L64.2 675.6 L64.8 676.1 L65.4 675.1 L66.0 676.1 L66.6 676.8 L67.2 674.4 L67.8 672.2 L68.4 671.2 L69.0 670.1 L69.6 668.9 L70.2 667.7 L70.8 664.6 L71.4 661.3 L72.0 660.7 L72.6 659.5 L73.2 657.9 L73.8 657.6 L74.4 657.7 L75.0 657.0 L75.6 655.1 L76.2 653.6 L76.8 653.3 L77.4 653.9 L78.0 654.9 L78.6 655.6 L79.2 658.2 L79.8 659.7 L80.4 659.0 L81.0 658.2 L81.6 655.2 L82.2 653.4 L82.8 654.8 L83.4 656.5 L84.0 655.7 L84.6 654.2 L85.2 653.8 L85.8 654.9 L86.4 656.0 L87.1 655.5 L87.7 653.8 L88.3 653.4 L88.9 654.8 L89.5 657.2 L90.1 660.3 L90.7 662.1 L91.3 662.5 L91.9 663.5 L92.5 664.6 L93.1 663.9 L93.7 664.5 L94.3 666.2 L94.9 667.3 L95.5 670.8 L96.1 673.3 L96.7 671.6 L97.3 672.1 L97.9 674.3 L98.5 674.4 L99.1 675.7 L99.7 675.8 L100.3 674.7 L100.9 674.1 L101.5 672.2 L102.1 672.4 L102.7 673.2 L103.3 672.1 L103.9 670.8 L104.5 670.7 L105.1 669.1 L105.7 668.2 L106.3 669.1 L106.9 670.3 L107.5 670.7 L108.1 669.7 L108.7 668.7 L109.3 666.6 L109.9 663.7 L110.5 662.9 L111.1 664.4 L111.7 663.6 L112.3 660.9 L112.9 658.8 L113.5 658.8 L114.2 657.9 L114.8 653.4 L115.4 651.1 L116.0 649.5 L116.6 645.7 L117.2 644.2 L117.8 643.2 L118.4 640.0 L119.0 637.7 L119.6 637.0 L120.2 636.4 L120.8 635.7 L121.4 635.2 L122.0 634.6 L122.6 633.6 L123.2 634.9 L123.8 637.5 L124.4 637.2 L125.0 636.3 L125.6 635.5 L126.2 633.7 L126.8 634.1" stroke="#4dbeee" stroke-width="0.6" fill="none" stroke-linejoin="round" stroke-opacity="0.9"/>
<path d="M46.7 658.2 L47.3 656.7 L47.9 656.5 L48.5 656.4 L49.1 655.5 L49.7 655.0 L50.3 652.7 L50.9 649.9 L51.5 650.5 L52.1 647.9 L52.7 644.5 L53.3 644.5 L53.9 644.9 L54.5 646.4 L55.1 647.6 L55.7 645.2 L56.3 643.5 L56.9 643.9 L57.5 646.8 L58.1 648.8 L58.7 649.2 L59.3 649.8 L59.9 649.5 L60.6 651.5 L61.2 654.8 L61.8 657.6 L62.4 657.4 L63.0 655.3 L63.6 653.8 L64.2 656.3 L64.8 658.3 L65.4 660.0 L66.0 662.2 L66.6 661.8 L67.2 658.9 L67.8 658.7 L68.4 659.1 L69.0 658.0 L69.6 659.0 L70.2 660.8 L70.8 659.7 L71.4 657.6 L72.0 658.1 L72.6 657.0 L73.2 655.1 L73.8 655.0 L74.4 656.6 L75.0 657.7 L75.6 657.4 L76.2 656.7 L76.8 656.0 L77.4 656.3 L78.0 656.9 L78.6 655.2 L79.2 657.0 L79.8 659.3 L80.4 657.8 L81.0 657.7 L81.6 659.4 L82.2 658.9 L82.8 656.4 L83.4 655.8 L84.0 658.5 L84.6 660.7 L85.2 661.1 L85.8 660.0 L86.4 657.8 L87.1 655.8 L87.7 654.1 L88.3 653.1 L88.9 651.9 L89.5 651.3 L90.1 653.9 L90.7 656.4 L91.3 654.9 L91.9 654.2 L92.5 658.0 L93.1 661.4 L93.7 663.0 L94.3 664.5 L94.9 666.9 L95.5 669.9 L96.1 672.1 L96.7 673.0 L97.3 672.2 L97.9 672.9 L98.5 675.5 L99.1 674.4 L99.7 672.6 L100.3 673.3 L100.9 673.9 L101.5 675.2 L102.1 676.8 L102.7 676.3 L103.3 675.4 L103.9 675.1 L104.5 675.4 L105.1 675.8 L105.7 675.9 L106.3 677.2 L106.9 680.1 L107.5 681.2 L108.1 678.6 L108.7 679.4 L109.3 681.4 L109.9 680.6 L110.5 679.4 L111.1 677.9 L111.7 675.1 L112.3 672.1 L112.9 670.6 L113.5 669.5 L114.2 667.5 L114.8 662.7 L115.4 659.5 L116.0 657.6 L116.6 655.5 L117.2 653.6 L117.8 649.5 L118.4 645.5 L119.0 644.9 L119.6 644.8 L120.2 643.3 L120.8 640.9 L121.4 638.3 L122.0 636.3 L122.6 634.9 L123.2 634.8 L123.8 633.2 L124.4 633.1 L125.0 632.9 L125.6 629.5 L126.2 627.2 L126.8 628.8" stroke="#a2142f" stroke-width="0.6" fill="none" stroke-linejoin="round" stroke-opacity="0.9"/>
<path d="M46.7 656.6 L47.3 656.8 L47.9 656.9 L48.5 656.7 L49.1 656.4 L49.7 656.5 L50.3 656.6 L50.9 656.7 L51.5 656.9 L52.1 656.7 L52.7 656.3 L53.3 656.5 L53.9 656.8 L54.5 656.8 L55.1 657.3 L55.7 657.0 L56.3 656.7 L56.9 656.7 L57.5 656.3 L58.1 656.4 L58.7 656.2 L59.3 656.2 L59.9 656.5 L60.6 656.8 L61.2 657.4 L61.8 657.8 L62.4 658.0 L63.0 658.0 L63.6 657.8 L64.2 657.9 L64.8 658.4 L65.4 658.5 L66.0 658.5 L66.6 658.3 L67.2 657.9 L67.8 658.3 L68.4 658.8 L69.0 659.4 L69.6 660.0 L70.2 660.2 L70.8 660.2 L71.4 660.2 L72.0 659.9 L72.6 659.9 L73.2 660.1 L73.8 660.5 L74.4 661.1 L75.0 661.2 L75.6 661.2 L76.2 660.9 L76.8 660.8 L77.4 661.0 L78.0 661.1 L78.6 661.3 L79.2 661.7 L79.8 662.1 L80.4 662.6 L81.0 663.1 L81.6 663.3 L82.2 662.9 L82.8 662.6 L83.4 662.5 L84.0 662.6 L84.6 662.9 L85.2 663.3 L85.8 663.5 L86.4 663.5 L87.1 663.7 L87.7 663.8 L88.3 663.9 L88.9 664.2 L89.5 664.7 L90.1 665.0 L90.7 665.6 L91.3 666.1 L91.9 666.2 L92.5 666.7 L93.1 667.1 L93.7 667.6 L94.3 667.9 L94.9 667.7 L95.5 667.3 L96.1 666.9 L96.7 667.0 L97.3 667.6 L97.9 668.5 L98.5 669.5 L99.1 670.2 L99.7 670.4 L100.3 670.3 L100.9 670.2 L101.5 669.6 L102.1 669.2 L102.7 669.2 L103.3 669.1 L103.9 669.1 L104.5 669.3 L105.1 669.4 L105.7 669.6 L106.3 669.4 L106.9 668.4 L107.5 667.6 L108.1 666.5 L108.7 665.7 L109.3 665.3 L109.9 664.5 L110.5 664.1 L111.1 663.3 L111.7 662.0 L112.3 660.9 L112.9 659.2 L113.5 658.2 L114.2 657.5 L114.8 656.7 L115.4 656.2 L116.0 655.5 L116.6 654.7 L117.2 654.0 L117.8 653.1 L118.4 652.1 L119.0 650.9 L119.6 649.7 L120.2 648.8 L120.8 647.7 L121.4 646.8 L122.0 645.8 L122.6 644.6 L123.2 643.4 L123.8 642.0 L124.4 640.9 L125.0 639.9 L125.6 638.8 L126.2 637.4 L126.8 638.3" stroke="#111" stroke-width="1.2" fill="none" stroke-linejoin="round"/>
<line x1="46.30" y1="690.00" x2="127.40" y2="690.00" stroke="#222" stroke-width="0.9"/>
<line x1="46.70" y1="690.00" x2="46.70" y2="692.20" stroke="#222" stroke-width="0.8"/>
<line x1="86.85" y1="690.00" x2="86.85" y2="692.20" stroke="#222" stroke-width="0.8"/>
<line x1="127.00" y1="690.00" x2="127.00" y2="692.20" stroke="#222" stroke-width="0.8"/>
<text x="87" y="614.8" text-anchor="middle">Fly no. 1, 7 eggs</text>
<path d="M135.7 647.5 L136.3 648.9 L136.9 649.0 L137.5 647.8 L138.1 646.2 L138.7 645.2 L139.3 645.3 L139.9 644.6 L140.5 645.6 L141.1 649.1 L141.7 652.5 L142.3 654.5 L142.9 654.5 L143.5 653.9 L144.1 654.0 L144.7 653.3 L145.3 654.3 L145.9 656.1 L146.5 656.4 L147.1 656.9 L147.7 656.7 L148.3 656.6 L148.9 655.8 L149.6 653.8 L150.2 654.2 L150.8 656.3 L151.4 655.4 L152.0 655.6 L152.6 658.0 L153.2 657.3 L153.8 655.0 L154.4 654.9 L155.0 654.1 L155.6 652.9 L156.2 654.7 L156.8 655.6 L157.4 655.9 L158.0 656.6 L158.6 656.3 L159.2 658.7 L159.8 662.6 L160.4 661.6 L161.0 661.3 L161.6 664.7 L162.2 667.3 L162.8 667.2 L163.4 667.1 L164.0 668.1 L164.6 669.0 L165.2 670.5 L165.8 671.6 L166.4 671.4 L167.0 670.0 L167.6 668.8 L168.2 667.6 L168.8 668.4 L169.4 669.9 L170.0 669.3 L170.6 666.8 L171.2 666.8 L171.8 666.9 L172.4 665.5 L173.0 663.8 L173.6 660.4 L174.2 658.5 L174.8 658.0 L175.4 658.9 L176.1 660.1 L176.7 660.8 L177.3 660.7 L177.9 662.1 L178.5 663.1 L179.1 662.5 L179.7 663.6 L180.3 666.7 L180.9 665.8 L181.5 664.2 L182.1 665.1 L182.7 665.7 L183.3 667.9 L183.9 669.5 L184.5 668.4 L185.1 667.2 L185.7 667.1 L186.3 668.1 L186.9 668.6 L187.5 667.2 L188.1 667.9 L188.7 670.0 L189.3 672.0 L189.9 672.0 L190.5 669.0 L191.1 667.3 L191.7 669.8 L192.3 672.1 L192.9 673.2 L193.5 673.3 L194.1 673.1 L194.7 674.2 L195.3 675.4 L195.9 674.7 L196.5 672.7 L197.1 673.3 L197.7 674.5 L198.3 673.8 L198.9 673.3 L199.5 674.1 L200.1 672.4 L200.7 670.1 L201.3 669.5 L201.9 669.7 L202.5 668.1 L203.2 665.0 L203.8 663.1 L204.4 662.2 L205.0 661.8 L205.6 659.4 L206.2 657.4 L206.8 657.2 L207.4 656.9 L208.0 655.9 L208.6 653.6 L209.2 652.1 L209.8 653.2 L210.4 651.4 L211.0 647.5 L211.6 645.0 L212.2 642.4 L212.8 639.9 L213.4 639.8 L214.0 641.0 L214.6 640.0 L215.2 636.2 L215.8 635.7" stroke="#0072bd" stroke-width="0.6" fill="none" stroke-linejoin="round" stroke-opacity="0.9"/>
<path d="M135.7 665.3 L136.3 664.7 L136.9 665.0 L137.5 663.8 L138.1 662.7 L138.7 661.9 L139.3 659.3 L139.9 655.9 L140.5 653.7 L141.1 650.6 L141.7 650.1 L142.3 650.1 L142.9 649.7 L143.5 652.5 L144.1 655.0 L144.7 654.4 L145.3 652.2 L145.9 652.3 L146.5 655.9 L147.1 657.8 L147.7 656.3 L148.3 655.3 L148.9 657.7 L149.6 660.5 L150.2 660.8 L150.8 661.2 L151.4 662.4 L152.0 663.7 L152.6 664.4 L153.2 663.8 L153.8 662.3 L154.4 661.3 L155.0 662.1 L155.6 661.7 L156.2 659.4 L156.8 661.5 L157.4 663.5 L158.0 664.6 L158.6 668.2 L159.2 668.9 L159.8 666.7 L160.4 670.3 L161.0 673.7 L161.6 673.0 L162.2 673.0 L162.8 673.7 L163.4 673.8 L164.0 673.8 L164.6 672.6 L165.2 668.8 L165.8 669.0 L166.4 670.5 L167.0 669.1 L167.6 667.3 L168.2 667.3 L168.8 666.3 L169.4 666.5 L170.0 668.3 L170.6 667.0 L171.2 664.1 L171.8 664.5 L172.4 666.3 L173.0 665.8 L173.6 665.1 L174.2 665.2 L174.8 666.1 L175.4 668.3 L176.1 669.5 L176.7 666.8 L177.3 665.1 L177.9 666.0 L178.5 667.1 L179.1 668.1 L179.7 667.7 L180.3 667.8 L180.9 668.8 L181.5 669.5 L182.1 671.2 L182.7 671.3 L183.3 671.0 L183.9 671.2 L184.5 671.2 L185.1 672.5 L185.7 675.0 L186.3 675.8 L186.9 676.2 L187.5 678.4 L188.1 680.1 L188.7 682.7 L189.3 684.0 L189.9 682.3 L190.5 681.2 L191.1 680.1 L191.7 679.6 L192.3 682.1 L192.9 683.1 L193.5 680.5 L194.1 680.6 L194.7 680.8 L195.3 677.9 L195.9 674.6 L196.5 673.3 L197.1 671.8 L197.7 670.7 L198.3 670.9 L198.9 670.7 L199.5 670.6 L200.1 668.8 L200.7 666.2 L201.3 664.3 L201.9 662.8 L202.5 660.6 L203.2 660.8 L203.8 662.2 L204.4 662.5 L205.0 663.3 L205.6 664.1 L206.2 661.3 L206.8 657.8 L207.4 659.8 L208.0 661.4 L208.6 658.5 L209.2 656.5 L209.8 656.6 L210.4 655.3 L211.0 652.9 L211.6 649.5 L212.2 647.8 L212.8 649.3 L213.4 646.8 L214.0 642.3 L214.6 641.6 L215.2 641.0 L215.8 641.4" stroke="#d95319" stroke-width="0.6" fill="none" stroke-linejoin="round" stroke-opacity="0.9"/>
<path d="M135.7 661.5 L136.3 662.5 L136.9 661.4 L137.5 658.0 L138.1 656.2 L138.7 653.9 L139.3 650.6 L139.9 651.1 L140.5 653.5 L141.1 653.8 L141.7 652.0 L142.3 649.4 L142.9 649.0 L143.5 649.7 L144.1 650.6 L144.7 650.8 L145.3 650.1 L145.9 649.9 L146.5 651.4 L147.1 652.3 L147.7 652.7 L148.3 654.0 L148.9 654.9 L149.6 655.9 L150.2 657.5 L150.8 659.4 L151.4 659.7 L152.0 660.3 L152.6 662.7 L153.2 663.4 L153.8 664.5 L154.4 666.5 L155.0 667.8 L155.6 667.1 L156.2 665.6 L156.8 665.5 L157.4 666.9 L158.0 668.8 L158.6 669.1 L159.2 667.4 L159.8 667.0 L160.4 668.9 L161.0 667.6 L161.6 665.2 L162.2 665.0 L162.8 664.6 L163.4 662.0 L164.0 659.6 L164.6 660.0 L165.2 659.9 L165.8 657.4 L166.4 656.9 L167.0 657.5 L167.6 658.7 L168.2 658.8 L168.8 656.9 L169.4 655.5 L170.0 655.1 L170.6 657.0 L171.2 657.7 L171.8 656.5 L172.4 657.8 L173.0 659.5 L173.6 659.6 L174.2 659.9 L174.8 658.8 L175.4 659.3 L176.1 661.8 L176.7 663.4 L177.3 664.2 L177.9 665.2 L178.5 665.6 L179.1 667.0 L179.7 669.0 L180.3 668.1 L180.9 668.2 L181.5 669.2 L182.1 669.5 L182.7 668.1 L183.3 668.4 L183.9 674.1 L184.5 676.4 L185.1 673.9 L185.7 673.8 L186.3 673.8 L186.9 673.0 L187.5 674.2 L188.1 673.8 L188.7 671.9 L189.3 670.9 L189.9 668.8 L190.5 667.7 L191.1 668.1 L191.7 667.4 L192.3 667.2 L192.9 669.0 L193.5 670.8 L194.1 672.4 L194.7 672.0 L195.3 669.5 L195.9 670.3 L196.5 673.8 L197.1 673.9 L197.7 674.0 L198.3 675.4 L198.9 674.2 L199.5 670.8 L200.1 668.4 L200.7 667.3 L201.3 666.2 L201.9 666.1 L202.5 664.8 L203.2 660.9 L203.8 657.9 L204.4 657.1 L205.0 656.7 L205.6 654.6 L206.2 651.5 L206.8 649.2 L207.4 648.1 L208.0 646.2 L208.6 644.7 L209.2 645.8 L209.8 648.0 L210.4 647.9 L211.0 645.1 L211.6 643.0 L212.2 642.2 L212.8 643.1 L213.4 643.2 L214.0 641.7 L214.6 641.1 L215.2 638.0 L215.8 637.3" stroke="#edb120" stroke-width="0.6" fill="none" stroke-linejoin="round" stroke-opacity="0.9"/>
<path d="M135.7 653.0 L136.3 653.2 L136.9 651.5 L137.5 652.7 L138.1 653.6 L138.7 654.3 L139.3 656.8 L139.9 658.1 L140.5 657.3 L141.1 655.7 L141.7 654.1 L142.3 651.8 L142.9 652.4 L143.5 655.4 L144.1 656.4 L144.7 655.4 L145.3 655.0 L145.9 658.1 L146.5 661.4 L147.1 659.6 L147.7 658.4 L148.3 662.1 L148.9 667.8 L149.6 671.0 L150.2 670.9 L150.8 670.2 L151.4 671.1 L152.0 669.8 L152.6 667.2 L153.2 668.0 L153.8 669.3 L154.4 668.2 L155.0 667.2 L155.6 667.0 L156.2 663.4 L156.8 658.9 L157.4 656.7 L158.0 656.1 L158.6 655.7 L159.2 654.7 L159.8 655.7 L160.4 656.4 L161.0 654.2 L161.6 653.6 L162.2 655.6 L162.8 659.1 L163.4 660.5 L164.0 659.6 L164.6 658.8 L165.2 660.3 L165.8 662.3 L166.4 661.9 L167.0 662.6 L167.6 662.7 L168.2 661.7 L168.8 660.8 L169.4 660.3 L170.0 661.6 L170.6 662.3 L171.2 661.0 L171.8 661.7 L172.4 661.5 L173.0 658.5 L173.6 657.8 L174.2 659.7 L174.8 659.7 L175.4 656.6 L176.1 656.0 L176.7 657.7 L177.3 658.5 L177.9 660.0 L178.5 660.4 L179.1 659.4 L179.7 660.1 L180.3 661.7 L180.9 664.0 L181.5 665.4 L182.1 665.8 L182.7 668.7 L183.3 669.6 L183.9 669.4 L184.5 672.2 L185.1 674.9 L185.7 675.3 L186.3 674.9 L186.9 674.6 L187.5 673.9 L188.1 673.2 L188.7 674.7 L189.3 675.6 L189.9 675.5 L190.5 675.8 L191.1 675.6 L191.7 676.4 L192.3 677.6 L192.9 674.9 L193.5 670.9 L194.1 669.3 L194.7 668.3 L195.3 668.0 L195.9 667.2 L196.5 665.6 L197.1 662.3 L197.7 659.6 L198.3 657.1 L198.9 655.7 L199.5 659.0 L200.1 659.7 L200.7 657.7 L201.3 657.3 L201.9 655.7 L202.5 655.4 L203.2 657.6 L203.8 658.7 L204.4 657.9 L205.0 657.6 L205.6 657.7 L206.2 659.0 L206.8 661.6 L207.4 662.4 L208.0 661.0 L208.6 659.1 L209.2 658.5 L209.8 658.8 L210.4 658.7 L211.0 659.5 L211.6 658.4 L212.2 655.9 L212.8 656.4 L213.4 656.6 L214.0 652.8 L214.6 646.9 L215.2 644.5 L215.8 646.0" stroke="#7e2f8e" stroke-width="0.6" fill="none" stroke-linejoin="round" stroke-opacity="0.9"/>
<path d="M135.7 668.0 L136.3 667.3 L136.9 663.7 L137.5 661.1 L138.1 660.6 L138.7 660.4 L139.3 661.3 L139.9 660.1 L140.5 658.3 L141.1 660.7 L141.7 664.0 L142.3 663.5 L142.9 662.1 L143.5 662.4 L144.1 661.1 L144.7 659.1 L145.3 657.8 L145.9 658.2 L146.5 659.5 L147.1 661.1 L147.7 662.7 L148.3 662.9 L148.9 661.3 L149.6 660.4 L150.2 659.2 L150.8 657.0 L151.4 656.1 L152.0 657.9 L152.6 659.3 L153.2 659.1 L153.8 658.2 L154.4 656.1 L155.0 654.8 L155.6 654.2 L156.2 654.9 L156.8 656.8 L157.4 658.3 L158.0 660.8 L158.6 663.2 L159.2 666.0 L159.8 667.7 L160.4 667.1 L161.0 667.3 L161.6 668.5 L162.2 668.5 L162.8 668.8 L163.4 669.9 L164.0 669.5 L164.6 669.7 L165.2 669.9 L165.8 669.1 L166.4 666.4 L167.0 663.7 L167.6 662.5 L168.2 661.1 L168.8 661.6 L169.4 663.4 L170.0 661.9 L170.6 659.6 L171.2 659.9 L171.8 659.7 L172.4 658.9 L173.0 657.8 L173.6 659.6 L174.2 662.4 L174.8 663.7 L175.4 664.5 L176.1 663.7 L176.7 663.9 L177.3 665.4 L177.9 667.0 L178.5 669.4 L179.1 671.1 L179.7 672.6 L180.3 675.4 L180.9 675.8 L181.5 674.6 L182.1 674.1 L182.7 675.1 L183.3 675.6 L183.9 674.9 L184.5 672.9 L185.1 672.4 L185.7 672.0 L186.3 669.7 L186.9 669.3 L187.5 669.4 L188.1 668.9 L188.7 667.0 L189.3 665.3 L189.9 665.3 L190.5 665.5 L191.1 664.1 L191.7 662.2 L192.3 661.1 L192.9 659.8 L193.5 659.5 L194.1 660.7 L194.7 659.4 L195.3 658.5 L195.9 658.5 L196.5 657.6 L197.1 658.4 L197.7 660.5 L198.3 661.4 L198.9 660.8 L199.5 661.1 L200.1 664.1 L200.7 666.0 L201.3 665.4 L201.9 665.2 L202.5 665.0 L203.2 666.7 L203.8 669.9 L204.4 671.3 L205.0 671.4 L205.6 671.4 L206.2 670.9 L206.8 670.5 L207.4 669.8 L208.0 667.8 L208.6 667.6 L209.2 667.6 L209.8 664.7 L210.4 659.9 L211.0 654.9 L211.6 651.8 L212.2 649.3 L212.8 647.9 L213.4 645.3 L214.0 639.8 L214.6 636.5 L215.2 635.0 L215.8 635.2" stroke="#77ac30" stroke-width="0.6" fill="none" stroke-linejoin="round" stroke-opacity="0.9"/>
<path d="M135.7 664.8 L136.3 663.8 L136.9 661.1 L137.5 660.5 L138.1 661.4 L138.7 661.0 L139.3 659.5 L139.9 657.7 L140.5 655.3 L141.1 653.1 L141.7 653.1 L142.3 653.4 L142.9 652.2 L143.5 650.8 L144.1 650.3 L144.7 649.0 L145.3 650.6 L145.9 652.1 L146.5 650.8 L147.1 650.1 L147.7 651.2 L148.3 654.1 L148.9 657.5 L149.6 657.2 L150.2 654.1 L150.8 656.4 L151.4 661.8 L152.0 663.8 L152.6 663.8 L153.2 663.4 L153.8 662.9 L154.4 662.9 L155.0 661.8 L155.6 660.1 L156.2 658.8 L156.8 659.4 L157.4 658.8 L158.0 656.6 L158.6 655.7 L159.2 655.6 L159.8 654.3 L160.4 654.0 L161.0 655.2 L161.6 654.4 L162.2 653.1 L162.8 655.4 L163.4 658.5 L164.0 659.4 L164.6 658.8 L165.2 660.1 L165.8 664.2 L166.4 666.5 L167.0 666.8 L167.6 667.0 L168.2 667.8 L168.8 669.4 L169.4 669.5 L170.0 667.4 L170.6 664.3 L171.2 662.8 L171.8 661.7 L172.4 658.4 L173.0 657.6 L173.6 658.8 L174.2 658.3 L174.8 658.2 L175.4 657.5 L176.1 656.8 L176.7 657.6 L177.3 656.8 L177.9 657.5 L178.5 658.9 L179.1 659.7 L179.7 661.6 L180.3 663.9 L180.9 665.8 L181.5 666.6 L182.1 667.1 L182.7 666.8 L183.3 667.4 L183.9 670.0 L184.5 670.2 L185.1 668.2 L185.7 668.5 L186.3 670.6 L186.9 671.1 L187.5 672.3 L188.1 674.2 L188.7 673.6 L189.3 671.1 L189.9 670.1 L190.5 670.6 L191.1 669.6 L191.7 670.4 L192.3 672.2 L192.9 671.7 L193.5 671.9 L194.1 671.3 L194.7 668.5 L195.3 667.8 L195.9 666.9 L196.5 666.3 L197.1 667.9 L197.7 669.3 L198.3 669.3 L198.9 669.8 L199.5 669.9 L200.1 667.9 L200.7 666.9 L201.3 667.1 L201.9 666.4 L202.5 666.2 L203.2 666.8 L203.8 664.8 L204.4 664.9 L205.0 668.4 L205.6 670.4 L206.2 667.2 L206.8 664.4 L207.4 666.4 L208.0 666.6 L208.6 665.3 L209.2 662.2 L209.8 658.9 L210.4 660.4 L211.0 663.0 L211.6 664.0 L212.2 664.1 L212.8 660.6 L213.4 658.7 L214.0 657.7 L214.6 652.5 L215.2 649.3 L215.8 651.6" stroke="#4dbeee" stroke-width="0.6" fill="none" stroke-linejoin="round" stroke-opacity="0.9"/>
<path d="M135.7 651.2 L136.3 651.5 L136.9 650.6 L137.5 648.5 L138.1 645.2 L138.7 642.9 L139.3 641.7 L139.9 643.6 L140.5 644.9 L141.1 643.7 L141.7 645.1 L142.3 648.4 L142.9 650.7 L143.5 653.2 L144.1 655.2 L144.7 656.3 L145.3 658.0 L145.9 661.0 L146.5 662.8 L147.1 664.3 L147.7 667.0 L148.3 668.2 L148.9 668.5 L149.6 667.3 L150.2 666.5 L150.8 665.4 L151.4 662.4 L152.0 661.3 L152.6 662.5 L153.2 661.3 L153.8 658.6 L154.4 658.2 L155.0 658.9 L155.6 658.8 L156.2 657.8 L156.8 657.8 L157.4 657.8 L158.0 656.9 L158.6 655.4 L159.2 654.3 L159.8 654.4 L160.4 654.1 L161.0 654.2 L161.6 655.9 L162.2 654.2 L162.8 651.6 L163.4 652.4 L164.0 653.9 L164.6 655.2 L165.2 653.8 L165.8 651.2 L166.4 652.1 L167.0 656.0 L167.6 656.5 L168.2 654.9 L168.8 655.0 L169.4 655.7 L170.0 655.7 L170.6 655.7 L171.2 655.8 L171.8 657.1 L172.4 658.7 L173.0 658.8 L173.6 658.7 L174.2 659.6 L174.8 661.5 L175.4 663.4 L176.1 665.1 L176.7 666.6 L177.3 668.5 L177.9 667.9 L178.5 667.4 L179.1 669.0 L179.7 668.4 L180.3 666.1 L180.9 666.9 L181.5 667.3 L182.1 666.7 L182.7 666.2 L183.3 666.6 L183.9 667.1 L184.5 666.0 L185.1 664.7 L185.7 662.5 L186.3 661.2 L186.9 663.8 L187.5 666.1 L188.1 665.2 L188.7 665.0 L189.3 664.7 L189.9 665.6 L190.5 666.4 L191.1 666.5 L191.7 666.7 L192.3 666.9 L192.9 665.8 L193.5 664.9 L194.1 665.7 L194.7 664.2 L195.3 663.4 L195.9 664.7 L196.5 661.7 L197.1 656.3 L197.7 656.0 L198.3 656.0 L198.9 652.7 L199.5 651.4 L200.1 652.9 L200.7 654.1 L201.3 653.9 L201.9 654.0 L202.5 653.2 L203.2 651.0 L203.8 650.2 L204.4 651.5 L205.0 652.5 L205.6 653.8 L206.2 657.6 L206.8 659.8 L207.4 657.5 L208.0 656.3 L208.6 657.6 L209.2 657.4 L209.8 656.2 L210.4 656.4 L211.0 656.0 L211.6 654.6 L212.2 654.7 L212.8 652.8 L213.4 649.4 L214.0 645.2 L214.6 643.3 L215.2 643.3 L215.8 643.5" stroke="#a2142f" stroke-width="0.6" fill="none" stroke-linejoin="round" stroke-opacity="0.9"/>
<path d="M135.7 647.9 L136.3 648.5 L136.9 651.4 L137.5 652.5 L138.1 652.3 L138.7 653.8 L139.3 654.4 L139.9 654.1 L140.5 653.9 L141.1 653.3 L141.7 652.1 L142.3 650.1 L142.9 648.4 L143.5 648.9 L144.1 649.6 L144.7 650.8 L145.3 652.2 L145.9 651.1 L146.5 648.7 L147.1 650.8 L147.7 655.4 L148.3 656.8 L148.9 656.0 L149.6 656.4 L150.2 658.1 L150.8 659.9 L151.4 661.9 L152.0 663.5 L152.6 663.6 L153.2 664.7 L153.8 666.0 L154.4 665.6 L155.0 666.3 L155.6 667.5 L156.2 667.4 L156.8 667.7 L157.4 669.1 L158.0 670.1 L158.6 670.0 L159.2 670.6 L159.8 671.4 L160.4 670.6 L161.0 670.5 L161.6 670.2 L162.2 670.4 L162.8 672.3 L163.4 672.8 L164.0 673.1 L164.6 673.6 L165.2 671.9 L165.8 671.2 L166.4 669.6 L167.0 667.2 L167.6 666.6 L168.2 665.5 L168.8 665.3 L169.4 664.6 L170.0 662.0 L170.6 659.6 L171.2 658.6 L171.8 660.4 L172.4 662.3 L173.0 660.5 L173.6 659.0 L174.2 659.2 L174.8 658.3 L175.4 657.8 L176.1 658.2 L176.7 658.4 L177.3 658.9 L177.9 658.0 L178.5 657.5 L179.1 657.4 L179.7 657.0 L180.3 655.6 L180.9 652.3 L181.5 650.0 L182.1 652.0 L182.7 655.9 L183.3 656.8 L183.9 655.7 L184.5 655.3 L185.1 654.5 L185.7 654.2 L186.3 655.5 L186.9 656.5 L187.5 657.5 L188.1 659.1 L188.7 659.6 L189.3 659.1 L189.9 660.9 L190.5 662.0 L191.1 660.9 L191.7 660.0 L192.3 659.4 L192.9 660.3 L193.5 662.0 L194.1 662.0 L194.7 661.6 L195.3 661.1 L195.9 660.5 L196.5 660.9 L197.1 660.3 L197.7 660.4 L198.3 661.1 L198.9 660.2 L199.5 658.5 L200.1 658.3 L200.7 659.2 L201.3 658.2 L201.9 657.7 L202.5 658.4 L203.2 657.0 L203.8 655.4 L204.4 656.5 L205.0 658.4 L205.6 657.9 L206.2 656.4 L206.8 656.3 L207.4 655.7 L208.0 654.6 L208.6 652.6 L209.2 649.7 L209.8 649.4 L210.4 650.4 L211.0 649.4 L211.6 647.4 L212.2 645.7 L212.8 643.9 L213.4 642.2 L214.0 640.9 L214.6 641.4 L215.2 641.7 L215.8 641.7" stroke="#e377c2" stroke-width="0.6" fill="none" stroke-linejoin="round" stroke-opacity="0.9"/>
<path d="M135.7 655.6 L136.3 655.3 L136.9 656.4 L137.5 655.8 L138.1 656.3 L138.7 656.1 L139.3 654.2 L139.9 654.9 L140.5 657.0 L141.1 656.1 L141.7 654.0 L142.3 653.2 L142.9 652.5 L143.5 652.2 L144.1 651.5 L144.7 651.3 L145.3 651.2 L145.9 650.4 L146.5 651.6 L147.1 651.0 L147.7 649.1 L148.3 649.3 L148.9 651.3 L149.6 653.8 L150.2 655.4 L150.8 655.8 L151.4 658.4 L152.0 661.0 L152.6 661.4 L153.2 662.1 L153.8 662.8 L154.4 663.2 L155.0 664.1 L155.6 666.1 L156.2 666.5 L156.8 667.1 L157.4 669.1 L158.0 668.7 L158.6 668.0 L159.2 669.4 L159.8 669.9 L160.4 671.0 L161.0 671.1 L161.6 671.2 L162.2 670.7 L162.8 670.7 L163.4 672.9 L164.0 672.5 L164.6 670.7 L165.2 669.4 L165.8 669.4 L166.4 669.9 L167.0 671.5 L167.6 670.9 L168.2 667.9 L168.8 668.8 L169.4 671.2 L170.0 669.2 L170.6 667.5 L171.2 667.3 L171.8 666.8 L172.4 666.1 L173.0 665.2 L173.6 664.7 L174.2 664.2 L174.8 665.8 L175.4 666.7 L176.1 665.7 L176.7 666.6 L177.3 668.5 L177.9 667.9 L178.5 666.1 L179.1 665.0 L179.7 663.4 L180.3 662.6 L180.9 663.9 L181.5 666.2 L182.1 666.3 L182.7 666.0 L183.3 668.3 L183.9 670.5 L184.5 671.0 L185.1 670.9 L185.7 671.7 L186.3 671.4 L186.9 669.6 L187.5 668.9 L188.1 669.4 L188.7 670.7 L189.3 671.3 L189.9 673.5 L190.5 675.5 L191.1 673.7 L191.7 672.3 L192.3 671.7 L192.9 670.9 L193.5 670.7 L194.1 669.7 L194.7 668.4 L195.3 668.4 L195.9 669.2 L196.5 669.6 L197.1 670.4 L197.7 671.9 L198.3 670.4 L198.9 667.5 L199.5 664.9 L200.1 664.1 L200.7 665.8 L201.3 665.3 L201.9 663.5 L202.5 662.9 L203.2 660.1 L203.8 655.8 L204.4 653.8 L205.0 654.3 L205.6 654.9 L206.2 653.6 L206.8 649.7 L207.4 647.7 L208.0 648.3 L208.6 647.3 L209.2 645.6 L209.8 644.8 L210.4 644.1 L211.0 643.3 L211.6 642.7 L212.2 642.1 L212.8 640.1 L213.4 636.8 L214.0 633.4 L214.6 631.9 L215.2 632.8 L215.8 634.2" stroke="#17becf" stroke-width="0.6" fill="none" stroke-linejoin="round" stroke-opacity="0.9"/>
<path d="M135.7 660.2 L136.3 661.9 L136.9 659.6 L137.5 656.8 L138.1 656.3 L138.7 657.0 L139.3 657.4 L139.9 657.3 L140.5 656.7 L141.1 654.7 L141.7 654.1 L142.3 655.8 L142.9 653.8 L143.5 650.5 L144.1 651.4 L144.7 653.1 L145.3 653.7 L145.9 653.3 L146.5 654.6 L147.1 657.3 L147.7 658.0 L148.3 659.3 L148.9 660.5 L149.6 660.2 L150.2 662.2 L150.8 664.0 L151.4 663.2 L152.0 663.4 L152.6 664.1 L153.2 665.0 L153.8 666.0 L154.4 665.6 L155.0 664.6 L155.6 662.9 L156.2 662.3 L156.8 662.9 L157.4 661.9 L158.0 661.7 L158.6 666.6 L159.2 670.6 L159.8 670.2 L160.4 669.9 L161.0 669.7 L161.6 669.1 L162.2 671.7 L162.8 674.4 L163.4 673.3 L164.0 673.4 L164.6 673.9 L165.2 674.7 L165.8 677.5 L166.4 679.3 L167.0 677.1 L167.6 674.2 L168.2 673.8 L168.8 674.0 L169.4 673.0 L170.0 671.7 L170.6 671.4 L171.2 669.5 L171.8 667.3 L172.4 665.8 L173.0 664.3 L173.6 664.1 L174.2 664.6 L174.8 663.6 L175.4 661.7 L176.1 661.6 L176.7 662.2 L177.3 663.2 L177.9 664.6 L178.5 665.3 L179.1 664.9 L179.7 664.4 L180.3 665.3 L180.9 667.9 L181.5 669.6 L182.1 669.2 L182.7 670.4 L183.3 670.3 L183.9 670.0 L184.5 670.5 L185.1 669.7 L185.7 669.2 L186.3 670.5 L186.9 670.1 L187.5 666.1 L188.1 665.1 L188.7 665.5 L189.3 664.6 L189.9 664.5 L190.5 665.0 L191.1 663.1 L191.7 660.7 L192.3 659.8 L192.9 656.7 L193.5 654.3 L194.1 656.6 L194.7 659.8 L195.3 661.1 L195.9 660.4 L196.5 659.8 L197.1 661.1 L197.7 659.4 L198.3 657.4 L198.9 659.2 L199.5 661.9 L200.1 662.9 L200.7 662.3 L201.3 661.2 L201.9 660.6 L202.5 660.7 L203.2 661.7 L203.8 662.9 L204.4 662.6 L205.0 661.1 L205.6 660.6 L206.2 660.1 L206.8 659.3 L207.4 660.4 L208.0 660.0 L208.6 656.5 L209.2 653.4 L209.8 651.6 L210.4 649.9 L211.0 648.9 L211.6 649.8 L212.2 649.1 L212.8 646.4 L213.4 645.7 L214.0 645.1 L214.6 641.5 L215.2 637.8 L215.8 638.4" stroke="#bcbd22" stroke-width="0.6" fill="none" stroke-linejoin="round" stroke-opacity="0.9"/>
<path d="M135.7 665.5 L136.3 667.0 L136.9 668.0 L137.5 666.4 L138.1 664.8 L138.7 666.5 L139.3 667.5 L139.9 665.5 L140.5 660.8 L141.1 656.9 L141.7 657.8 L142.3 660.0 L142.9 660.1 L143.5 659.8 L144.1 659.2 L144.7 658.7 L145.3 659.4 L145.9 661.1 L146.5 663.3 L147.1 664.0 L147.7 662.6 L148.3 662.6 L148.9 663.8 L149.6 663.2 L150.2 662.2 L150.8 661.1 L151.4 661.2 L152.0 661.4 L152.6 658.8 L153.2 658.8 L153.8 660.2 L154.4 659.6 L155.0 659.0 L155.6 659.3 L156.2 660.1 L156.8 658.4 L157.4 656.0 L158.0 656.7 L158.6 658.3 L159.2 658.0 L159.8 656.3 L160.4 655.2 L161.0 655.1 L161.6 654.6 L162.2 652.9 L162.8 652.3 L163.4 651.9 L164.0 651.4 L164.6 652.4 L165.2 651.7 L165.8 650.8 L166.4 653.0 L167.0 654.6 L167.6 652.9 L168.2 655.0 L168.8 657.9 L169.4 660.0 L170.0 662.2 L170.6 663.5 L171.2 664.1 L171.8 664.4 L172.4 664.7 L173.0 666.2 L173.6 667.0 L174.2 664.9 L174.8 665.4 L175.4 665.8 L176.1 664.9 L176.7 665.0 L177.3 664.8 L177.9 662.7 L178.5 660.4 L179.1 659.8 L179.7 660.8 L180.3 662.4 L180.9 662.7 L181.5 663.5 L182.1 665.9 L182.7 665.9 L183.3 666.3 L183.9 668.4 L184.5 669.7 L185.1 670.0 L185.7 670.5 L186.3 671.7 L186.9 672.7 L187.5 672.1 L188.1 670.6 L188.7 671.5 L189.3 673.4 L189.9 673.3 L190.5 671.5 L191.1 671.1 L191.7 670.3 L192.3 669.8 L192.9 670.2 L193.5 669.3 L194.1 667.8 L194.7 667.1 L195.3 665.0 L195.9 663.8 L196.5 665.8 L197.1 669.0 L197.7 669.7 L198.3 668.2 L198.9 666.8 L199.5 665.2 L200.1 665.4 L200.7 667.0 L201.3 669.3 L201.9 669.9 L202.5 668.7 L203.2 670.0 L203.8 675.3 L204.4 676.5 L205.0 673.7 L205.6 673.6 L206.2 673.7 L206.8 671.0 L207.4 667.6 L208.0 666.1 L208.6 663.7 L209.2 662.3 L209.8 661.0 L210.4 658.2 L211.0 655.0 L211.6 653.3 L212.2 653.0 L212.8 650.7 L213.4 646.8 L214.0 644.5 L214.6 642.3 L215.2 639.6 L215.8 641.6" stroke="#ff7f0e" stroke-width="0.6" fill="none" stroke-linejoin="round" stroke-opacity="0.9"/>
<path d="M135.7 660.1 L136.3 660.0 L136.9 659.7 L137.5 659.9 L138.1 660.3 L138.7 660.3 L139.3 660.5 L139.9 660.2 L140.5 659.8 L141.1 659.5 L141.7 659.1 L142.3 659.0 L142.9 658.6 L143.5 658.2 L144.1 658.2 L144.7 658.1 L145.3 658.3 L145.9 658.6 L146.5 658.7 L147.1 659.0 L147.7 659.2 L148.3 659.5 L148.9 659.7 L149.6 659.6 L150.2 659.4 L150.8 659.3 L151.4 659.5 L152.0 659.8 L152.6 660.2 L153.2 660.3 L153.8 660.0 L154.4 659.7 L155.0 659.4 L155.6 659.4 L156.2 659.7 L156.8 659.6 L157.4 659.9 L158.0 660.1 L158.6 660.1 L159.2 660.5 L159.8 660.7 L160.4 660.9 L161.0 661.1 L161.6 661.4 L162.2 661.4 L162.8 661.4 L163.4 661.4 L164.0 661.2 L164.6 661.2 L165.2 661.3 L165.8 661.5 L166.4 661.8 L167.0 662.0 L167.6 662.0 L168.2 661.9 L168.8 662.0 L169.4 662.3 L170.0 662.6 L170.6 663.2 L171.2 663.3 L171.8 663.1 L172.4 663.0 L173.0 662.5 L173.6 662.5 L174.2 662.3 L174.8 662.2 L175.4 662.1 L176.1 661.9 L176.7 662.0 L177.3 662.1 L177.9 662.4 L178.5 662.8 L179.1 663.2 L179.7 663.8 L180.3 664.3 L180.9 664.8 L181.5 665.0 L182.1 665.0 L182.7 664.9 L183.3 664.8 L183.9 664.7 L184.5 664.6 L185.1 664.6 L185.7 664.7 L186.3 664.9 L186.9 665.3 L187.5 665.4 L188.1 665.6 L188.7 665.7 L189.3 665.7 L189.9 665.9 L190.5 665.9 L191.1 666.0 L191.7 666.4 L192.3 666.5 L192.9 666.6 L193.5 666.4 L194.1 665.8 L194.7 665.3 L195.3 664.7 L195.9 664.5 L196.5 664.7 L197.1 664.7 L197.7 665.0 L198.3 664.9 L198.9 664.4 L199.5 663.8 L200.1 663.2 L200.7 662.2 L201.3 661.4 L201.9 660.8 L202.5 660.3 L203.2 659.7 L203.8 659.2 L204.4 658.8 L205.0 658.3 L205.6 658.4 L206.2 657.9 L206.8 657.1 L207.4 656.3 L208.0 655.3 L208.6 654.4 L209.2 653.4 L209.8 652.2 L210.4 651.0 L211.0 649.5 L211.6 647.9 L212.2 646.5 L212.8 645.0 L213.4 644.0 L214.0 643.1 L214.6 642.0 L215.2 641.2 L215.8 642.2" stroke="#111" stroke-width="1.2" fill="none" stroke-linejoin="round"/>
<line x1="135.30" y1="690.00" x2="216.40" y2="690.00" stroke="#222" stroke-width="0.9"/>
<line x1="135.70" y1="690.00" x2="135.70" y2="692.20" stroke="#222" stroke-width="0.8"/>
<line x1="175.85" y1="690.00" x2="175.85" y2="692.20" stroke="#222" stroke-width="0.8"/>
<line x1="216.00" y1="690.00" x2="216.00" y2="692.20" stroke="#222" stroke-width="0.8"/>
<text x="175.7" y="614.8" text-anchor="middle">Fly no. 2, 11 eggs</text>
<path d="M225.0 656.3 L225.6 657.9 L226.2 660.3 L226.8 659.7 L227.4 658.8 L228.0 660.8 L228.6 662.7 L229.2 661.6 L229.8 658.9 L230.4 658.0 L231.0 658.0 L231.6 656.6 L232.2 655.7 L232.8 658.2 L233.3 661.2 L233.9 662.3 L234.5 663.1 L235.1 664.3 L235.7 663.9 L236.3 662.8 L236.9 663.1 L237.5 664.2 L238.1 665.3 L238.7 665.3 L239.3 665.7 L239.9 667.0 L240.5 668.9 L241.1 668.4 L241.7 666.0 L242.3 664.7 L242.9 666.0 L243.5 669.0 L244.1 671.4 L244.7 670.1 L245.3 666.6 L245.9 667.2 L246.5 670.6 L247.1 669.0 L247.7 664.6 L248.3 662.3 L248.8 662.2 L249.4 661.9 L250.0 660.0 L250.6 660.3 L251.2 660.5 L251.8 659.4 L252.4 658.8 L253.0 658.0 L253.6 658.2 L254.2 658.2 L254.8 657.9 L255.4 657.5 L256.0 655.1 L256.6 654.7 L257.2 655.0 L257.8 655.2 L258.4 655.3 L259.0 655.0 L259.6 654.5 L260.2 655.2 L260.8 657.2 L261.4 659.6 L262.0 660.0 L262.6 660.2 L263.2 661.2 L263.8 663.0 L264.4 666.2 L264.9 666.6 L265.5 667.6 L266.1 670.5 L266.7 672.4 L267.3 671.0 L267.9 671.0 L268.5 673.5 L269.1 674.9 L269.7 675.5 L270.3 678.2 L270.9 680.4 L271.5 680.5 L272.1 681.1 L272.7 681.8 L273.3 682.0 L273.9 681.6 L274.5 682.7 L275.1 683.7 L275.7 682.3 L276.3 678.5 L276.9 675.7 L277.5 673.8 L278.1 673.5 L278.7 672.7 L279.3 669.6 L279.9 669.2 L280.5 670.7 L281.0 670.0 L281.6 668.2 L282.2 667.0 L282.8 664.7 L283.4 664.4 L284.0 665.7 L284.6 667.1 L285.2 667.4 L285.8 667.3 L286.4 666.5 L287.0 667.3 L287.6 669.9 L288.2 669.9 L288.8 669.8 L289.4 669.1 L290.0 666.1 L290.6 663.4 L291.2 661.7 L291.8 659.0 L292.4 657.1 L293.0 656.1 L293.6 656.1 L294.2 655.8 L294.8 654.9 L295.4 653.0 L296.0 651.2 L296.6 651.2 L297.1 651.5 L297.7 651.6 L298.3 652.6 L298.9 650.8 L299.5 649.0 L300.1 649.6 L300.7 651.8 L301.3 651.0 L301.9 647.7 L302.5 646.6 L303.1 645.1 L303.7 643.1 L304.3 640.0" stroke="#0072bd" stroke-width="0.6" fill="none" stroke-linejoin="round" stroke-opacity="0.9"/>
<path d="M225.0 651.8 L225.6 648.8 L226.2 646.6 L226.8 647.5 L227.4 648.3 L228.0 647.7 L228.6 649.8 L229.2 652.8 L229.8 653.5 L230.4 654.1 L231.0 656.8 L231.6 658.0 L232.2 657.2 L232.8 658.7 L233.3 660.3 L233.9 660.8 L234.5 662.2 L235.1 664.3 L235.7 666.2 L236.3 667.4 L236.9 667.1 L237.5 667.6 L238.1 669.7 L238.7 668.8 L239.3 664.2 L239.9 661.9 L240.5 661.2 L241.1 660.3 L241.7 659.5 L242.3 659.6 L242.9 660.5 L243.5 661.1 L244.1 660.1 L244.7 659.1 L245.3 659.1 L245.9 659.3 L246.5 658.6 L247.1 656.5 L247.7 654.4 L248.3 653.3 L248.8 653.2 L249.4 653.4 L250.0 653.4 L250.6 655.2 L251.2 656.7 L251.8 655.7 L252.4 653.8 L253.0 653.6 L253.6 656.8 L254.2 658.2 L254.8 655.9 L255.4 655.5 L256.0 657.9 L256.6 659.2 L257.2 659.4 L257.8 659.6 L258.4 660.3 L259.0 661.4 L259.6 662.5 L260.2 663.2 L260.8 664.8 L261.4 666.0 L262.0 666.3 L262.6 667.3 L263.2 668.5 L263.8 668.1 L264.4 668.3 L264.9 667.3 L265.5 666.9 L266.1 669.8 L266.7 670.1 L267.3 668.6 L267.9 668.9 L268.5 672.3 L269.1 673.7 L269.7 672.6 L270.3 671.9 L270.9 672.1 L271.5 671.8 L272.1 671.9 L272.7 672.9 L273.3 674.8 L273.9 676.5 L274.5 676.0 L275.1 674.8 L275.7 676.1 L276.3 678.5 L276.9 678.8 L277.5 678.9 L278.1 680.7 L278.7 681.5 L279.3 680.1 L279.9 680.6 L280.5 681.4 L281.0 680.8 L281.6 680.1 L282.2 679.6 L282.8 678.4 L283.4 675.8 L284.0 672.6 L284.6 671.5 L285.2 670.0 L285.8 670.8 L286.4 671.1 L287.0 667.3 L287.6 664.8 L288.2 663.0 L288.8 660.9 L289.4 660.1 L290.0 660.8 L290.6 660.7 L291.2 659.0 L291.8 655.5 L292.4 653.1 L293.0 652.8 L293.6 652.7 L294.2 652.1 L294.8 651.9 L295.4 649.3 L296.0 643.8 L296.6 640.6 L297.1 640.6 L297.7 639.9 L298.3 639.1 L298.9 638.9 L299.5 636.2 L300.1 633.8 L300.7 635.5 L301.3 638.1 L301.9 636.5 L302.5 634.0 L303.1 633.1 L303.7 632.5 L304.3 632.2" stroke="#d95319" stroke-width="0.6" fill="none" stroke-linejoin="round" stroke-opacity="0.9"/>
<path d="M225.0 656.9 L225.6 654.8 L226.2 653.0 L226.8 651.8 L227.4 650.5 L228.0 648.7 L228.6 648.9 L229.2 649.8 L229.8 649.3 L230.4 647.9 L231.0 649.1 L231.6 651.8 L232.2 650.9 L232.8 648.8 L233.3 649.5 L233.9 650.8 L234.5 651.3 L235.1 650.2 L235.7 649.0 L236.3 650.2 L236.9 650.4 L237.5 649.1 L238.1 649.4 L238.7 650.7 L239.3 651.2 L239.9 651.4 L240.5 650.0 L241.1 647.8 L241.7 648.6 L242.3 649.8 L242.9 648.0 L243.5 648.6 L244.1 651.4 L244.7 651.8 L245.3 649.0 L245.9 647.8 L246.5 649.0 L247.1 649.7 L247.7 648.6 L248.3 648.0 L248.8 647.0 L249.4 646.3 L250.0 648.7 L250.6 651.4 L251.2 652.5 L251.8 653.6 L252.4 654.8 L253.0 653.7 L253.6 652.7 L254.2 651.8 L254.8 653.7 L255.4 656.6 L256.0 656.2 L256.6 654.7 L257.2 655.3 L257.8 658.2 L258.4 661.0 L259.0 661.7 L259.6 661.3 L260.2 662.2 L260.8 663.6 L261.4 665.3 L262.0 665.4 L262.6 664.5 L263.2 666.6 L263.8 670.2 L264.4 669.8 L264.9 668.7 L265.5 669.8 L266.1 671.1 L266.7 671.8 L267.3 671.6 L267.9 671.4 L268.5 670.9 L269.1 669.9 L269.7 669.0 L270.3 670.2 L270.9 671.3 L271.5 669.5 L272.1 667.4 L272.7 667.1 L273.3 666.0 L273.9 665.7 L274.5 667.7 L275.1 668.0 L275.7 667.3 L276.3 666.9 L276.9 668.6 L277.5 671.6 L278.1 673.1 L278.7 674.2 L279.3 675.1 L279.9 675.3 L280.5 674.3 L281.0 674.8 L281.6 679.0 L282.2 683.0 L282.8 682.5 L283.4 680.3 L284.0 680.4 L284.6 681.0 L285.2 680.5 L285.8 680.6 L286.4 680.0 L287.0 676.2 L287.6 675.5 L288.2 675.8 L288.8 671.6 L289.4 668.6 L290.0 666.4 L290.6 661.6 L291.2 658.2 L291.8 656.1 L292.4 654.5 L293.0 654.4 L293.6 652.8 L294.2 650.9 L294.8 649.2 L295.4 649.0 L296.0 649.0 L296.6 647.0 L297.1 645.3 L297.7 643.6 L298.3 642.6 L298.9 642.1 L299.5 640.6 L300.1 640.6 L300.7 641.5 L301.3 642.4 L301.9 644.8 L302.5 644.9 L303.1 641.0 L303.7 638.4 L304.3 639.1" stroke="#edb120" stroke-width="0.6" fill="none" stroke-linejoin="round" stroke-opacity="0.9"/>
<path d="M225.0 659.5 L225.6 659.4 L226.2 656.7 L226.8 655.9 L227.4 658.1 L228.0 658.2 L228.6 656.9 L229.2 658.1 L229.8 659.6 L230.4 660.4 L231.0 662.2 L231.6 665.8 L232.2 667.5 L232.8 666.0 L233.3 665.2 L233.9 665.6 L234.5 665.8 L235.1 668.1 L235.7 672.1 L236.3 674.8 L236.9 674.2 L237.5 672.1 L238.1 671.5 L238.7 670.9 L239.3 670.1 L239.9 670.3 L240.5 670.8 L241.1 670.1 L241.7 668.2 L242.3 667.7 L242.9 668.5 L243.5 667.9 L244.1 667.2 L244.7 665.9 L245.3 662.5 L245.9 660.8 L246.5 661.1 L247.1 661.7 L247.7 662.0 L248.3 662.2 L248.8 661.8 L249.4 660.1 L250.0 659.5 L250.6 660.5 L251.2 662.0 L251.8 664.4 L252.4 665.4 L253.0 665.0 L253.6 663.3 L254.2 662.2 L254.8 662.4 L255.4 663.9 L256.0 665.2 L256.6 664.6 L257.2 663.5 L257.8 662.4 L258.4 662.5 L259.0 664.2 L259.6 664.3 L260.2 663.9 L260.8 665.5 L261.4 666.0 L262.0 665.2 L262.6 665.6 L263.2 666.6 L263.8 666.8 L264.4 666.5 L264.9 668.5 L265.5 671.7 L266.1 671.8 L266.7 670.3 L267.3 670.7 L267.9 670.1 L268.5 668.8 L269.1 670.4 L269.7 672.2 L270.3 671.8 L270.9 670.9 L271.5 668.6 L272.1 666.0 L272.7 665.4 L273.3 664.2 L273.9 663.4 L274.5 664.6 L275.1 663.8 L275.7 662.4 L276.3 664.1 L276.9 665.4 L277.5 666.2 L278.1 666.4 L278.7 664.8 L279.3 663.3 L279.9 663.5 L280.5 665.4 L281.0 666.3 L281.6 665.3 L282.2 665.2 L282.8 666.7 L283.4 667.5 L284.0 667.1 L284.6 666.1 L285.2 664.1 L285.8 662.5 L286.4 664.2 L287.0 664.7 L287.6 664.6 L288.2 664.4 L288.8 663.7 L289.4 664.2 L290.0 663.8 L290.6 662.5 L291.2 660.8 L291.8 659.9 L292.4 659.4 L293.0 657.7 L293.6 656.9 L294.2 657.1 L294.8 655.6 L295.4 653.3 L296.0 652.3 L296.6 650.5 L297.1 648.1 L297.7 647.4 L298.3 648.7 L298.9 649.3 L299.5 646.6 L300.1 642.3 L300.7 640.0 L301.3 640.9 L301.9 640.3 L302.5 637.8 L303.1 637.0 L303.7 637.8 L304.3 637.2" stroke="#7e2f8e" stroke-width="0.6" fill="none" stroke-linejoin="round" stroke-opacity="0.9"/>
<path d="M225.0 657.9 L225.6 657.2 L226.2 656.5 L226.8 656.0 L227.4 655.6 L228.0 655.1 L228.6 655.5 L229.2 656.3 L229.8 656.9 L230.4 657.8 L231.0 658.6 L231.6 659.2 L232.2 659.8 L232.8 660.0 L233.3 660.5 L233.9 660.7 L234.5 661.4 L235.1 661.7 L235.7 661.1 L236.3 660.9 L236.9 660.4 L237.5 660.1 L238.1 659.9 L238.7 659.5 L239.3 659.2 L239.9 658.6 L240.5 658.1 L241.1 657.5 L241.7 656.8 L242.3 656.6 L242.9 656.3 L243.5 656.1 L244.1 655.9 L244.7 655.8 L245.3 656.0 L245.9 656.2 L246.5 656.4 L247.1 656.5 L247.7 656.4 L248.3 655.9 L248.8 655.4 L249.4 655.4 L250.0 655.5 L250.6 656.0 L251.2 656.3 L251.8 656.7 L252.4 657.0 L253.0 657.1 L253.6 657.4 L254.2 657.7 L254.8 658.1 L255.4 658.7 L256.0 659.3 L256.6 660.1 L257.2 661.1 L257.8 661.9 L258.4 662.8 L259.0 663.3 L259.6 663.5 L260.2 663.8 L260.8 664.2 L261.4 664.8 L262.0 665.7 L262.6 666.4 L263.2 666.9 L263.8 667.2 L264.4 667.3 L264.9 667.4 L265.5 667.5 L266.1 667.9 L266.7 668.2 L267.3 668.4 L267.9 668.4 L268.5 668.5 L269.1 668.7 L269.7 669.1 L270.3 669.4 L270.9 669.8 L271.5 670.0 L272.1 670.4 L272.7 670.6 L273.3 670.8 L273.9 670.8 L274.5 670.7 L275.1 670.9 L275.7 670.8 L276.3 670.8 L276.9 670.9 L277.5 670.7 L278.1 670.8 L278.7 670.9 L279.3 671.3 L279.9 671.6 L280.5 671.8 L281.0 671.5 L281.6 670.9 L282.2 670.6 L282.8 670.5 L283.4 670.6 L284.0 670.6 L284.6 670.2 L285.2 669.5 L285.8 669.0 L286.4 668.5 L287.0 668.0 L287.6 667.3 L288.2 666.5 L288.8 665.8 L289.4 664.7 L290.0 663.6 L290.6 662.6 L291.2 661.4 L291.8 660.4 L292.4 659.6 L293.0 658.4 L293.6 657.4 L294.2 656.5 L294.8 655.6 L295.4 654.9 L296.0 654.0 L296.6 653.1 L297.1 652.0 L297.7 650.7 L298.3 649.6 L298.9 648.7 L299.5 647.6 L300.1 646.7 L300.7 645.8 L301.3 644.9 L301.9 644.3 L302.5 643.5 L303.1 642.4 L303.7 640.6 L304.3 638.8" stroke="#111" stroke-width="1.2" fill="none" stroke-linejoin="round"/>
<line x1="224.60" y1="690.00" x2="304.90" y2="690.00" stroke="#222" stroke-width="0.9"/>
<line x1="225.00" y1="690.00" x2="225.00" y2="692.20" stroke="#222" stroke-width="0.8"/>
<line x1="264.75" y1="690.00" x2="264.75" y2="692.20" stroke="#222" stroke-width="0.8"/>
<line x1="304.50" y1="690.00" x2="304.50" y2="692.20" stroke="#222" stroke-width="0.8"/>
<text x="265" y="614.8" text-anchor="middle">Fly no. 3, 4 eggs</text>
<text x="47.2" y="699.9" text-anchor="middle">–200</text>
<text x="87.3" y="699.9" text-anchor="middle">–100</text>
<text x="127.0" y="699.9" text-anchor="middle">0</text>
<text x="87" y="710.7" text-anchor="middle">Time (s)</text>
<path d="M127 706 V717.5 H139" stroke="#5b3a9b" stroke-width="0.9" fill="none"/><polygon points="127,702.4 125.2,706.2 128.8,706.2" fill="#5b3a9b"/>
<text x="170" y="712.6" text-anchor="middle">Abdomen bend</text>
<text x="170" y="722.6" text-anchor="middle">complete</text>
<text x="324" y="605.8" style="font-size:13.5px;" class="pl">n</text>
<line x1="363.30" y1="604.50" x2="363.30" y2="683.40" stroke="#222" stroke-width="0.8"/>
<line x1="361.10" y1="604.60" x2="363.30" y2="604.60" stroke="#222" stroke-width="0.8"/>
<text x="359.8" y="607.7" text-anchor="end">1.0</text>
<line x1="361.10" y1="630.80" x2="363.30" y2="630.80" stroke="#222" stroke-width="0.8"/>
<text x="359.8" y="633.9" text-anchor="end">0.5</text>
<line x1="361.10" y1="657.00" x2="363.30" y2="657.00" stroke="#222" stroke-width="0.8"/>
<text x="359.8" y="660.1" text-anchor="end">0</text>
<line x1="361.10" y1="683.20" x2="363.30" y2="683.20" stroke="#222" stroke-width="0.8"/>
<text x="359.8" y="686.3" text-anchor="end">–0.5</text>
<path d="M366.0 665.6 L366.6 666.1 L367.2 665.8 L367.8 665.0 L368.4 664.0 L369.0 663.6 L369.6 662.4 L370.2 660.9 L370.8 659.9 L371.4 659.4 L372.0 658.8 L372.6 657.4 L373.2 656.1 L373.8 654.6 L374.4 653.9 L375.0 653.4 L375.6 653.3 L376.2 653.3 L376.8 653.2 L377.4 653.4 L378.0 653.4 L378.6 653.6 L379.2 654.6 L379.8 654.9 L380.4 654.8 L381.0 653.8 L381.6 653.0 L382.2 652.6 L382.8 652.5 L383.4 652.3 L384.0 652.7 L384.6 652.8 L385.2 653.1 L385.8 652.7 L386.4 652.5 L387.0 652.6 L387.6 652.8 L388.2 653.1 L388.8 653.2 L389.4 653.5 L390.0 654.3 L390.6 656.0 L391.2 657.1 L391.8 657.9 L392.4 657.9 L393.0 658.5 L393.6 659.5 L394.2 660.0 L394.8 660.5 L395.4 660.4 L396.0 660.4 L396.6 660.1 L397.2 660.5 L397.8 660.7 L398.4 660.8 L399.0 660.2 L399.6 659.8 L400.2 659.4 L400.8 659.1 L401.4 659.4 L402.0 659.5 L402.6 659.5 L403.2 659.2 L403.8 658.5 L404.4 658.1 L405.0 657.2 L405.6 657.4 L406.2 657.8 L406.8 658.0 L407.4 657.3 L408.0 656.4 L408.6 656.1 L409.2 656.4 L409.8 657.6 L410.4 658.4 L411.0 659.5 L411.6 659.7 L412.2 660.2 L412.8 660.3 L413.4 660.9 L414.0 661.6 L414.6 662.2 L415.2 662.3 L415.8 662.2 L416.4 662.4 L417.0 662.8 L417.6 663.4 L418.2 663.7 L418.8 664.0 L419.4 664.1 L420.0 664.4 L420.6 665.1 L421.2 666.0 L421.8 666.8 L422.4 666.6 L423.0 666.6 L423.6 666.8 L424.2 666.9 L424.8 666.6 L425.4 665.7 L426.0 664.8 L426.6 663.9 L427.2 663.3 L427.8 662.6 L428.4 661.8 L429.0 660.8 L429.6 659.4 L430.2 657.9 L430.8 656.6 L431.4 655.7 L432.0 655.0 L432.6 653.6 L433.2 652.4 L433.8 651.1 L434.4 650.1 L435.0 649.4 L435.6 648.7 L436.2 648.0 L436.8 647.9 L437.4 648.4 L438.0 648.5 L438.6 648.0 L439.2 646.8 L439.8 645.4 L440.4 644.3 L441.0 643.5 L441.6 643.6 L442.2 643.6 L442.8 644.0 L443.4 643.8 L444.0 643.2 L444.6 641.8 L445.2 640.9 L445.8 640.1" stroke="#222" stroke-width="0.55" fill="none" stroke-linejoin="round"/>
<path d="M366.0 656.3 L366.6 657.2 L367.2 658.4 L367.8 660.0 L368.4 661.0 L369.0 661.4 L369.6 662.0 L370.2 662.3 L370.8 662.4 L371.4 662.5 L372.0 662.5 L372.6 662.7 L373.2 663.0 L373.8 662.9 L374.4 662.4 L375.0 661.3 L375.6 659.9 L376.2 658.1 L376.8 656.7 L377.4 655.5 L378.0 654.4 L378.6 653.5 L379.2 652.6 L379.8 651.4 L380.4 649.7 L381.0 648.2 L381.6 647.5 L382.2 647.8 L382.8 648.7 L383.4 649.5 L384.0 649.7 L384.6 649.7 L385.2 650.0 L385.8 650.6 L386.4 650.7 L387.0 651.1 L387.6 651.5 L388.2 652.7 L388.8 653.3 L389.4 654.0 L390.0 654.4 L390.6 655.1 L391.2 655.8 L391.8 656.7 L392.4 657.2 L393.0 657.1 L393.6 657.2 L394.2 657.4 L394.8 657.2 L395.4 657.4 L396.0 657.4 L396.6 657.9 L397.2 657.9 L397.8 657.9 L398.4 657.5 L399.0 656.9 L399.6 655.7 L400.2 655.0 L400.8 654.6 L401.4 654.8 L402.0 655.5 L402.6 656.5 L403.2 657.2 L403.8 657.5 L404.4 658.1 L405.0 659.0 L405.6 659.9 L406.2 660.3 L406.8 661.2 L407.4 662.0 L408.0 662.9 L408.6 663.3 L409.2 663.8 L409.8 664.3 L410.4 664.7 L411.0 665.3 L411.6 665.9 L412.2 666.3 L412.8 666.3 L413.4 666.0 L414.0 665.5 L414.6 664.4 L415.2 663.3 L415.8 662.7 L416.4 662.1 L417.0 661.6 L417.6 660.8 L418.2 659.9 L418.8 659.5 L419.4 659.5 L420.0 659.9 L420.6 660.3 L421.2 661.1 L421.8 661.3 L422.4 661.6 L423.0 661.1 L423.6 660.6 L424.2 660.1 L424.8 660.1 L425.4 660.5 L426.0 660.4 L426.6 660.3 L427.2 660.1 L427.8 659.6 L428.4 658.4 L429.0 657.5 L429.6 656.4 L430.2 655.7 L430.8 655.0 L431.4 654.0 L432.0 653.0 L432.6 652.0 L433.2 651.3 L433.8 651.0 L434.4 650.2 L435.0 649.6 L435.6 649.0 L436.2 648.7 L436.8 648.7 L437.4 648.8 L438.0 647.8 L438.6 646.3 L439.2 644.3 L439.8 643.3 L440.4 642.8 L441.0 642.5 L441.6 641.8 L442.2 640.7 L442.8 639.1 L443.4 637.8 L444.0 636.9 L444.6 636.3 L445.2 635.9 L445.8 635.6" stroke="#222" stroke-width="0.55" fill="none" stroke-linejoin="round"/>
<path d="M366.0 670.4 L366.6 668.4 L367.2 666.2 L367.8 664.1 L368.4 662.1 L369.0 661.0 L369.6 660.0 L370.2 659.4 L370.8 659.3 L371.4 660.0 L372.0 659.7 L372.6 659.5 L373.2 658.9 L373.8 658.2 L374.4 657.8 L375.0 658.0 L375.6 658.5 L376.2 658.8 L376.8 658.0 L377.4 657.5 L378.0 656.6 L378.6 655.8 L379.2 655.5 L379.8 655.3 L380.4 655.8 L381.0 656.0 L381.6 655.7 L382.2 655.1 L382.8 654.7 L383.4 653.0 L384.0 652.8 L384.6 652.6 L385.2 653.1 L385.8 653.3 L386.4 653.7 L387.0 653.8 L387.6 653.5 L388.2 652.8 L388.8 653.4 L389.4 653.6 L390.0 654.4 L390.6 655.9 L391.2 656.6 L391.8 656.8 L392.4 657.8 L393.0 659.2 L393.6 660.4 L394.2 660.7 L394.8 661.1 L395.4 661.0 L396.0 660.8 L396.6 660.8 L397.2 660.7 L397.8 660.1 L398.4 660.3 L399.0 661.1 L399.6 661.1 L400.2 661.4 L400.8 661.7 L401.4 661.9 L402.0 661.7 L402.6 662.5 L403.2 662.7 L403.8 663.3 L404.4 664.1 L405.0 664.7 L405.6 665.3 L406.2 665.6 L406.8 666.9 L407.4 667.0 L408.0 666.7 L408.6 666.9 L409.2 666.7 L409.8 666.7 L410.4 666.4 L411.0 666.5 L411.6 665.8 L412.2 666.1 L412.8 666.5 L413.4 667.2 L414.0 666.9 L414.6 666.5 L415.2 665.8 L415.8 665.0 L416.4 665.3 L417.0 666.2 L417.6 666.8 L418.2 666.4 L418.8 666.3 L419.4 666.5 L420.0 666.4 L420.6 666.8 L421.2 667.3 L421.8 668.0 L422.4 668.0 L423.0 667.6 L423.6 666.8 L424.2 665.4 L424.8 664.1 L425.4 663.6 L426.0 662.6 L426.6 661.9 L427.2 661.6 L427.8 661.1 L428.4 660.6 L429.0 659.9 L429.6 659.2 L430.2 658.8 L430.8 658.1 L431.4 657.9 L432.0 657.6 L432.6 657.2 L433.2 656.3 L433.8 654.9 L434.4 653.3 L435.0 652.0 L435.6 651.2 L436.2 650.4 L436.8 650.2 L437.4 649.4 L438.0 648.9 L438.6 648.5 L439.2 648.1 L439.8 648.6 L440.4 649.3 L441.0 649.9 L441.6 649.9 L442.2 649.9 L442.8 649.2 L443.4 648.7 L444.0 647.4 L444.6 646.6 L445.2 645.0 L445.8 642.7" stroke="#222" stroke-width="0.55" fill="none" stroke-linejoin="round"/>
<path d="M366.0 656.0 L366.6 655.9 L367.2 655.8 L367.8 655.2 L368.4 655.4 L369.0 654.9 L369.6 654.3 L370.2 653.0 L370.8 652.0 L371.4 651.3 L372.0 650.6 L372.6 650.2 L373.2 649.8 L373.8 649.8 L374.4 649.8 L375.0 649.8 L375.6 649.5 L376.2 649.6 L376.8 650.0 L377.4 650.5 L378.0 651.0 L378.6 651.4 L379.2 652.2 L379.8 653.1 L380.4 653.7 L381.0 654.7 L381.6 655.7 L382.2 656.7 L382.8 657.0 L383.4 657.4 L384.0 658.5 L384.6 659.6 L385.2 660.5 L385.8 661.3 L386.4 661.9 L387.0 662.4 L387.6 663.0 L388.2 663.3 L388.8 663.4 L389.4 662.8 L390.0 662.6 L390.6 662.1 L391.2 661.3 L391.8 660.3 L392.4 659.1 L393.0 657.9 L393.6 656.6 L394.2 655.9 L394.8 655.4 L395.4 655.2 L396.0 654.7 L396.6 654.6 L397.2 654.8 L397.8 655.1 L398.4 655.6 L399.0 655.8 L399.6 655.7 L400.2 656.1 L400.8 656.9 L401.4 659.0 L402.0 660.5 L402.6 661.5 L403.2 661.9 L403.8 662.0 L404.4 662.5 L405.0 663.4 L405.6 664.7 L406.2 665.6 L406.8 666.2 L407.4 666.1 L408.0 665.8 L408.6 665.1 L409.2 664.5 L409.8 664.3 L410.4 664.4 L411.0 665.4 L411.6 665.7 L412.2 665.5 L412.8 664.4 L413.4 663.6 L414.0 662.8 L414.6 662.2 L415.2 661.8 L415.8 662.1 L416.4 662.4 L417.0 662.8 L417.6 663.0 L418.2 663.1 L418.8 662.6 L419.4 662.3 L420.0 662.7 L420.6 663.0 L421.2 663.8 L421.8 664.5 L422.4 664.7 L423.0 664.8 L423.6 664.6 L424.2 664.7 L424.8 664.1 L425.4 663.7 L426.0 663.5 L426.6 663.5 L427.2 662.7 L427.8 661.3 L428.4 660.1 L429.0 659.3 L429.6 659.1 L430.2 659.1 L430.8 658.8 L431.4 658.3 L432.0 657.2 L432.6 656.0 L433.2 655.0 L433.8 654.5 L434.4 654.0 L435.0 652.7 L435.6 651.5 L436.2 651.1 L436.8 651.1 L437.4 651.0 L438.0 649.8 L438.6 648.6 L439.2 647.0 L439.8 646.0 L440.4 645.4 L441.0 645.2 L441.6 644.7 L442.2 644.1 L442.8 643.4 L443.4 642.5 L444.0 641.8 L444.6 640.5 L445.2 639.5 L445.8 638.1" stroke="#222" stroke-width="0.55" fill="none" stroke-linejoin="round"/>
<path d="M366.0 654.9 L366.6 654.6 L367.2 654.3 L367.8 654.0 L368.4 653.5 L369.0 652.3 L369.6 651.4 L370.2 651.7 L370.8 651.8 L371.4 651.7 L372.0 651.8 L372.6 651.7 L373.2 651.5 L373.8 650.9 L374.4 650.3 L375.0 649.8 L375.6 649.3 L376.2 649.8 L376.8 650.6 L377.4 650.5 L378.0 650.3 L378.6 650.2 L379.2 649.9 L379.8 649.9 L380.4 650.1 L381.0 650.6 L381.6 651.3 L382.2 651.7 L382.8 652.0 L383.4 652.2 L384.0 652.5 L384.6 653.9 L385.2 655.7 L385.8 657.4 L386.4 659.0 L387.0 659.4 L387.6 659.7 L388.2 659.6 L388.8 660.0 L389.4 660.7 L390.0 661.7 L390.6 662.0 L391.2 662.1 L391.8 662.0 L392.4 661.6 L393.0 661.3 L393.6 660.8 L394.2 660.5 L394.8 659.6 L395.4 659.5 L396.0 659.4 L396.6 659.6 L397.2 659.4 L397.8 659.4 L398.4 659.3 L399.0 659.5 L399.6 659.5 L400.2 658.7 L400.8 657.4 L401.4 656.2 L402.0 656.2 L402.6 656.5 L403.2 657.5 L403.8 658.5 L404.4 659.3 L405.0 659.7 L405.6 659.7 L406.2 659.9 L406.8 660.0 L407.4 660.5 L408.0 661.2 L408.6 661.7 L409.2 662.4 L409.8 663.3 L410.4 664.6 L411.0 665.3 L411.6 665.1 L412.2 664.7 L412.8 665.1 L413.4 665.3 L414.0 666.1 L414.6 666.4 L415.2 666.6 L415.8 666.4 L416.4 665.9 L417.0 665.7 L417.6 665.6 L418.2 665.7 L418.8 665.7 L419.4 665.7 L420.0 665.7 L420.6 666.2 L421.2 666.4 L421.8 666.2 L422.4 665.4 L423.0 664.4 L423.6 663.8 L424.2 663.1 L424.8 662.3 L425.4 661.6 L426.0 661.3 L426.6 660.8 L427.2 659.6 L427.8 657.9 L428.4 656.0 L429.0 654.8 L429.6 654.5 L430.2 654.4 L430.8 653.9 L431.4 653.0 L432.0 652.4 L432.6 652.0 L433.2 651.7 L433.8 650.9 L434.4 650.3 L435.0 649.9 L435.6 649.9 L436.2 650.0 L436.8 649.9 L437.4 649.7 L438.0 649.1 L438.6 648.6 L439.2 647.9 L439.8 647.9 L440.4 647.0 L441.0 646.0 L441.6 644.6 L442.2 643.4 L442.8 642.6 L443.4 642.3 L444.0 642.8 L444.6 643.1 L445.2 642.8 L445.8 642.0" stroke="#222" stroke-width="0.55" fill="none" stroke-linejoin="round"/>
<path d="M366.0 653.6 L366.6 654.6 L367.2 655.0 L367.8 654.8 L368.4 655.1 L369.0 656.3 L369.6 657.3 L370.2 657.7 L370.8 657.7 L371.4 657.8 L372.0 658.6 L372.6 658.8 L373.2 658.2 L373.8 656.3 L374.4 654.8 L375.0 654.6 L375.6 655.0 L376.2 655.2 L376.8 655.4 L377.4 654.8 L378.0 654.3 L378.6 654.0 L379.2 654.4 L379.8 655.1 L380.4 655.9 L381.0 656.8 L381.6 657.9 L382.2 658.7 L382.8 659.2 L383.4 659.0 L384.0 658.3 L384.6 658.0 L385.2 658.4 L385.8 659.0 L386.4 659.4 L387.0 659.2 L387.6 658.5 L388.2 657.8 L388.8 657.2 L389.4 657.1 L390.0 657.0 L390.6 656.9 L391.2 656.8 L391.8 656.8 L392.4 656.1 L393.0 655.6 L393.6 655.4 L394.2 656.0 L394.8 656.8 L395.4 657.0 L396.0 656.7 L396.6 656.4 L397.2 656.4 L397.8 656.7 L398.4 656.9 L399.0 657.0 L399.6 656.9 L400.2 656.5 L400.8 656.4 L401.4 656.8 L402.0 656.9 L402.6 656.9 L403.2 657.2 L403.8 657.0 L404.4 656.9 L405.0 656.6 L405.6 657.6 L406.2 658.7 L406.8 659.5 L407.4 659.4 L408.0 659.2 L408.6 658.9 L409.2 658.8 L409.8 658.1 L410.4 657.5 L411.0 657.7 L411.6 659.0 L412.2 660.2 L412.8 661.1 L413.4 660.8 L414.0 660.6 L414.6 659.7 L415.2 660.1 L415.8 659.8 L416.4 659.5 L417.0 659.2 L417.6 659.6 L418.2 660.7 L418.8 660.8 L419.4 660.9 L420.0 660.7 L420.6 661.1 L421.2 661.2 L421.8 661.4 L422.4 661.1 L423.0 660.8 L423.6 660.5 L424.2 660.6 L424.8 660.2 L425.4 660.3 L426.0 660.1 L426.6 659.6 L427.2 658.7 L427.8 658.4 L428.4 658.1 L429.0 658.0 L429.6 657.5 L430.2 657.0 L430.8 656.1 L431.4 655.3 L432.0 654.6 L432.6 654.3 L433.2 654.0 L433.8 654.1 L434.4 654.1 L435.0 654.0 L435.6 654.1 L436.2 653.9 L436.8 653.8 L437.4 653.5 L438.0 653.7 L438.6 653.7 L439.2 653.7 L439.8 653.5 L440.4 653.3 L441.0 653.1 L441.6 652.4 L442.2 651.5 L442.8 650.4 L443.4 649.4 L444.0 648.4 L444.6 646.9 L445.2 645.5 L445.8 644.0" stroke="#222" stroke-width="0.55" fill="none" stroke-linejoin="round"/>
<path d="M366.0 655.1 L366.6 654.3 L367.2 654.0 L367.8 654.0 L368.4 653.3 L369.0 652.0 L369.6 650.7 L370.2 650.5 L370.8 650.7 L371.4 650.5 L372.0 650.6 L372.6 650.3 L373.2 650.3 L373.8 649.9 L374.4 649.5 L375.0 649.3 L375.6 649.4 L376.2 650.2 L376.8 650.4 L377.4 650.8 L378.0 650.9 L378.6 651.6 L379.2 652.1 L379.8 652.7 L380.4 653.3 L381.0 653.6 L381.6 654.4 L382.2 654.9 L382.8 655.6 L383.4 655.9 L384.0 656.4 L384.6 656.8 L385.2 657.1 L385.8 657.2 L386.4 657.5 L387.0 657.8 L387.6 658.5 L388.2 659.0 L388.8 659.5 L389.4 659.8 L390.0 660.4 L390.6 660.0 L391.2 660.0 L391.8 659.1 L392.4 658.5 L393.0 658.1 L393.6 658.3 L394.2 659.2 L394.8 659.9 L395.4 660.5 L396.0 661.2 L396.6 661.3 L397.2 661.4 L397.8 661.6 L398.4 662.1 L399.0 662.1 L399.6 662.0 L400.2 661.7 L400.8 661.5 L401.4 661.4 L402.0 661.5 L402.6 661.9 L403.2 661.8 L403.8 661.5 L404.4 661.5 L405.0 661.6 L405.6 661.9 L406.2 662.3 L406.8 662.4 L407.4 662.7 L408.0 662.9 L408.6 663.5 L409.2 663.3 L409.8 664.1 L410.4 665.0 L411.0 666.3 L411.6 667.0 L412.2 667.0 L412.8 666.4 L413.4 665.6 L414.0 665.4 L414.6 665.0 L415.2 664.4 L415.8 663.9 L416.4 664.2 L417.0 664.5 L417.6 664.9 L418.2 664.9 L418.8 665.0 L419.4 664.8 L420.0 664.6 L420.6 664.7 L421.2 665.6 L421.8 666.8 L422.4 667.7 L423.0 667.5 L423.6 666.6 L424.2 665.5 L424.8 664.7 L425.4 663.9 L426.0 663.2 L426.6 663.0 L427.2 663.0 L427.8 663.3 L428.4 662.7 L429.0 661.7 L429.6 660.8 L430.2 660.4 L430.8 660.0 L431.4 659.8 L432.0 659.0 L432.6 658.1 L433.2 656.5 L433.8 655.9 L434.4 655.2 L435.0 655.4 L435.6 655.1 L436.2 654.5 L436.8 653.0 L437.4 651.2 L438.0 649.9 L438.6 648.7 L439.2 647.6 L439.8 646.5 L440.4 645.1 L441.0 644.1 L441.6 643.1 L442.2 642.5 L442.8 641.6 L443.4 640.6 L444.0 639.7 L444.6 639.0 L445.2 638.4 L445.8 637.9" stroke="#222" stroke-width="0.55" fill="none" stroke-linejoin="round"/>
<path d="M366.0 650.7 L366.6 651.0 L367.2 651.3 L367.8 651.6 L368.4 652.1 L369.0 652.7 L369.6 653.2 L370.2 653.1 L370.8 652.7 L371.4 652.6 L372.0 653.1 L372.6 653.1 L373.2 652.9 L373.8 652.5 L374.4 652.0 L375.0 651.6 L375.6 651.7 L376.2 652.5 L376.8 653.5 L377.4 654.6 L378.0 656.2 L378.6 656.8 L379.2 657.6 L379.8 658.3 L380.4 659.1 L381.0 659.4 L381.6 660.2 L382.2 660.8 L382.8 661.5 L383.4 661.2 L384.0 660.9 L384.6 660.3 L385.2 659.9 L385.8 659.8 L386.4 660.1 L387.0 659.6 L387.6 659.4 L388.2 658.7 L388.8 657.9 L389.4 656.8 L390.0 655.9 L390.6 655.4 L391.2 655.0 L391.8 654.5 L392.4 653.9 L393.0 653.2 L393.6 653.1 L394.2 652.8 L394.8 652.9 L395.4 653.1 L396.0 653.7 L396.6 654.1 L397.2 654.5 L397.8 654.6 L398.4 655.1 L399.0 655.8 L399.6 657.1 L400.2 658.0 L400.8 658.7 L401.4 659.0 L402.0 659.0 L402.6 659.6 L403.2 660.4 L403.8 660.8 L404.4 660.7 L405.0 660.4 L405.6 660.3 L406.2 660.2 L406.8 660.1 L407.4 659.8 L408.0 659.7 L408.6 659.6 L409.2 659.9 L409.8 659.5 L410.4 659.3 L411.0 659.0 L411.6 659.3 L412.2 659.3 L412.8 659.3 L413.4 659.0 L414.0 658.7 L414.6 658.3 L415.2 658.0 L415.8 657.5 L416.4 657.4 L417.0 657.8 L417.6 658.8 L418.2 659.6 L418.8 660.3 L419.4 660.2 L420.0 660.2 L420.6 660.6 L421.2 661.4 L421.8 662.4 L422.4 662.6 L423.0 662.7 L423.6 662.7 L424.2 662.9 L424.8 663.1 L425.4 663.2 L426.0 663.0 L426.6 662.6 L427.2 662.0 L427.8 661.2 L428.4 660.6 L429.0 660.3 L429.6 660.1 L430.2 659.4 L430.8 658.4 L431.4 657.5 L432.0 656.7 L432.6 655.5 L433.2 654.9 L433.8 654.7 L434.4 655.0 L435.0 654.8 L435.6 654.0 L436.2 652.7 L436.8 651.8 L437.4 652.0 L438.0 652.0 L438.6 651.5 L439.2 650.6 L439.8 650.2 L440.4 649.9 L441.0 649.7 L441.6 649.2 L442.2 648.4 L442.8 647.5 L443.4 646.9 L444.0 646.1 L444.6 644.7 L445.2 643.3 L445.8 642.0" stroke="#222" stroke-width="0.55" fill="none" stroke-linejoin="round"/>
<line x1="365.60" y1="685.30" x2="446.40" y2="685.30" stroke="#222" stroke-width="0.9"/>
<line x1="366.00" y1="685.30" x2="366.00" y2="687.50" stroke="#222" stroke-width="0.8"/>
<line x1="406.00" y1="685.30" x2="406.00" y2="687.50" stroke="#222" stroke-width="0.8"/>
<line x1="446.00" y1="685.30" x2="446.00" y2="687.50" stroke="#222" stroke-width="0.8"/>
<text x="366.8" y="698.2" text-anchor="middle">–200</text>
<text x="406.8" y="698.2" text-anchor="middle">–100</text>
<text x="446.4" y="698.2" text-anchor="middle">0</text>
<text x="406.5" y="708.9" text-anchor="middle">Time (s)</text>
<text x="336.6" y="723.6">Abdomen bend complete</text>
<path d="M437.2 721.3 L446.8 711.5 V703" stroke="#5b3a9b" stroke-width="0.9" fill="none"/><polygon points="446.8,699 445,703.2 448.6,703.2" fill="#5b3a9b"/>
<!-- panel i -->
<text x="324" y="441" style="font-size:13.5px;stroke-width:0.4px;" class="pl">i</text>
<text x="395.5" y="446.3" text-anchor="middle">Abdomen bend schematic</text>
<text x="393.6" y="461.2" text-anchor="middle" style="fill:#cf8fca;">Length</text>
<g transform="translate(0 0)" stroke="#6f6f6f" stroke-width="0.5" fill="none"><path d="M398 480 L394 487 L390.5 493.6 H386 M401 480.5 L405 486.5 L410 491 L417 492.5 L420 493.6 M404 478.5 L411 482.5 L418 488 L426 489.5 L433 491.5" stroke="#8a8a8a"/><ellipse cx="374.5" cy="470.3" rx="21" ry="3.6" fill="#fdfdfd" fill-opacity="0.7" stroke="#777" transform="rotate(-3 374.5 470.3)"/><g transform="rotate(-30 392 474)"><ellipse cx="378" cy="474" rx="14.2" ry="8.2" fill="#dddddd"/><path d="M370 466.6 Q368.6 470.5 369.2 475" stroke="#4f4f4f" stroke-width="1.2"/><path d="M369.2 475 Q369.4 478.5 370 481.4" stroke="#a4a4a4" stroke-width="0.5"/><path d="M374.5 466.6 Q373.1 470.5 373.7 475" stroke="#4f4f4f" stroke-width="1.2"/><path d="M373.7 475 Q373.9 478.5 374.5 481.4" stroke="#a4a4a4" stroke-width="0.5"/><path d="M379 466.6 Q377.6 470.5 378.2 475" stroke="#4f4f4f" stroke-width="1.2"/><path d="M378.2 475 Q378.4 478.5 379 481.4" stroke="#a4a4a4" stroke-width="0.5"/><path d="M383.5 466.6 Q382.1 470.5 382.7 475" stroke="#4f4f4f" stroke-width="0.7"/><path d="M382.7 475 Q382.9 478.5 383.5 481.4" stroke="#a4a4a4" stroke-width="0.5"/></g><ellipse cx="399.6" cy="471.8" rx="11" ry="9.4" fill="#dedede"/><path d="M393 466 Q399 470 406 466" stroke="#999"/><ellipse cx="416.4" cy="472.3" rx="6.3" ry="6.9" fill="#c9c9c9"/><ellipse cx="417.2" cy="471.6" rx="4.3" ry="4.9" fill="#6b6b6b" stroke="#444"/><ellipse cx="418.6" cy="470" rx="1.6" ry="2" fill="#999" stroke="none"/><path d="M421 476 L424 478.5 L422.5 480.5" stroke="#777"/></g>
<g transform="translate(0 46.8)" stroke="#6f6f6f" stroke-width="0.5" fill="none"><path d="M398 480 L394 487 L390.5 493.6 H386 M401 480.5 L405 486.5 L410 491 L417 492.5 L420 493.6 M404 478.5 L411 482.5 L418 488 L426 489.5 L433 491.5" stroke="#8a8a8a"/><ellipse cx="374.5" cy="470.3" rx="21" ry="3.6" fill="#fdfdfd" fill-opacity="0.7" stroke="#777" transform="rotate(-3 374.5 470.3)"/><g transform="rotate(-39 392 474)"><ellipse cx="378" cy="474" rx="14.2" ry="8.2" fill="#dddddd"/><path d="M370 466.6 Q368.6 470.5 369.2 475" stroke="#4f4f4f" stroke-width="1.2"/><path d="M369.2 475 Q369.4 478.5 370 481.4" stroke="#a4a4a4" stroke-width="0.5"/><path d="M374.5 466.6 Q373.1 470.5 373.7 475" stroke="#4f4f4f" stroke-width="1.2"/><path d="M373.7 475 Q373.9 478.5 374.5 481.4" stroke="#a4a4a4" stroke-width="0.5"/><path d="M379 466.6 Q377.6 470.5 378.2 475" stroke="#4f4f4f" stroke-width="1.2"/><path d="M378.2 475 Q378.4 478.5 379 481.4" stroke="#a4a4a4" stroke-width="0.5"/><path d="M383.5 466.6 Q382.1 470.5 382.7 475" stroke="#4f4f4f" stroke-width="0.7"/><path d="M382.7 475 Q382.9 478.5 383.5 481.4" stroke="#a4a4a4" stroke-width="0.5"/></g><ellipse cx="399.6" cy="471.8" rx="11" ry="9.4" fill="#dedede"/><path d="M393 466 Q399 470 406 466" stroke="#999"/><ellipse cx="416.4" cy="472.3" rx="6.3" ry="6.9" fill="#c9c9c9"/><ellipse cx="417.2" cy="471.6" rx="4.3" ry="4.9" fill="#6b6b6b" stroke="#444"/><ellipse cx="418.6" cy="470" rx="1.6" ry="2" fill="#999" stroke="none"/><path d="M421 476 L424 478.5 L422.5 480.5" stroke="#777"/></g>
<line x1="371.30" y1="469.60" x2="413.20" y2="469.60" stroke="#d89fd3" stroke-width="1.5" stroke-dasharray="1.3 0.6"/>
<circle cx="371.3" cy="469.6" r="1.5" fill="#d89fd3"/><circle cx="413.2" cy="469.6" r="1.5" fill="#d89fd3"/>
<line x1="371.30" y1="489.40" x2="413.20" y2="469.60" stroke="#5b2d9b" stroke-width="1.7" stroke-dasharray="1.3 0.6"/>
<circle cx="371.3" cy="489.4" r="1.9" fill="#5b2d9b"/>
<line x1="375.70" y1="516.60" x2="413.20" y2="516.60" stroke="#d89fd3" stroke-width="1.5" stroke-dasharray="1.3 0.6"/>
<circle cx="375.7" cy="516.6" r="1.5" fill="#d89fd3"/><circle cx="413.2" cy="516.6" r="1.5" fill="#d89fd3"/>
<line x1="375.70" y1="538.60" x2="413.20" y2="516.60" stroke="#5b2d9b" stroke-width="1.7" stroke-dasharray="1.3 0.6"/>
<circle cx="375.7" cy="538.6" r="1.9" fill="#5b2d9b"/>
<path d="M386.3 470.2 Q385.2 476 389.2 480.2" stroke="#5b2d9b" stroke-width="2.4" fill="none"/>
<path d="M390.2 517.8 Q389.2 524 393.6 529.2" stroke="#5b2d9b" stroke-width="2.4" fill="none"/>
<line x1="353.40" y1="494.60" x2="434.00" y2="494.60" stroke="#444" stroke-width="0.7" stroke-dasharray="1.5 1.5"/>
<line x1="353.40" y1="541.20" x2="434.00" y2="541.20" stroke="#444" stroke-width="0.7" stroke-dasharray="1.5 1.5"/>
<text x="358.6" y="489" text-anchor="middle" style="fill:#5b2d9b;font-size:13.5px;font-family:'Liberation Serif',serif;font-style:italic;stroke:#5b2d9b;stroke-width:0.35px;">θ</text>
<text x="355" y="566.6" text-anchor="middle" style="fill:#5b2d9b;font-size:13.5px;font-family:'Liberation Serif',serif;font-style:italic;stroke:#5b2d9b;stroke-width:0.35px;">θ</text>
<line x1="364.00" y1="566.40" x2="364.00" y2="558.20" stroke="#5b2d9b" stroke-width="1.8"/><polygon points="364.00,554.20 366.90,559.20 364.00,558.20 361.10,559.20" fill="#5b2d9b"/>
<text x="373.2" y="566.3" text-anchor="middle" style="fill:#5b2d9b;font-size:7.6px;font-weight:bold;font-style:italic;">4°</text>
<text x="402.6" y="563.8" text-anchor="middle" style="fill:#cf8fca;">Length</text>
<line x1="421.60" y1="557.00" x2="421.60" y2="566.20" stroke="#cf8fca" stroke-width="1.5"/><polygon points="421.60,569.80 419.00,565.20 421.60,566.20 424.20,565.20" fill="#cf8fca"/>
<text x="432.5" y="565.6" text-anchor="middle" style="fill:#cf8fca;">9%</text>
<!-- panels j,k,l -->
<text x="478.6" y="437.6" style="font-size:13.5px;" class="pl">j</text>
<text x="623.6" y="438.8" style="font-size:13.5px;" class="pl">k</text>
<text x="743.6" y="438.8" style="font-size:13.5px;" class="pl">l</text>
<line x1="516.20" y1="471.20" x2="516.20" y2="561.30" stroke="#222" stroke-width="0.8"/>
<line x1="514.00" y1="471.20" x2="516.20" y2="471.20" stroke="#222" stroke-width="0.8"/>
<text x="512.6" y="474.3" text-anchor="end">0.4</text>
<line x1="514.00" y1="501.10" x2="516.20" y2="501.10" stroke="#222" stroke-width="0.8"/>
<text x="512.6" y="504.2" text-anchor="end">0.2</text>
<line x1="514.00" y1="531.00" x2="516.20" y2="531.00" stroke="#222" stroke-width="0.8"/>
<text x="512.6" y="534.1" text-anchor="end">0</text>
<line x1="514.00" y1="560.90" x2="516.20" y2="560.90" stroke="#222" stroke-width="0.8"/>
<text x="512.6" y="564.0" text-anchor="end">–0.2</text>
<line x1="514.90" y1="486.15" x2="516.20" y2="486.15" stroke="#222" stroke-width="0.7"/>
<line x1="514.90" y1="516.05" x2="516.20" y2="516.05" stroke="#222" stroke-width="0.7"/>
<line x1="514.90" y1="545.95" x2="516.20" y2="545.95" stroke="#222" stroke-width="0.7"/>
<text x="495" y="516" text-anchor="middle" transform="rotate(-90 495 516)">Δ<tspan font-style="italic">F</tspan>/<tspan font-style="italic">F</tspan></text>
<line x1="516.20" y1="573.20" x2="516.20" y2="620.00" stroke="#222" stroke-width="0.8"/>
<line x1="514.00" y1="573.20" x2="516.20" y2="573.20" stroke="#222" stroke-width="0.8"/>
<text x="512.6" y="576.3" text-anchor="end">1.2</text>
<line x1="514.00" y1="604.50" x2="516.20" y2="604.50" stroke="#222" stroke-width="0.8"/>
<text x="512.6" y="607.6" text-anchor="end">1.0</text>
<line x1="514.90" y1="588.85" x2="516.20" y2="588.85" stroke="#222" stroke-width="0.7"/>
<line x1="514.90" y1="620.15" x2="516.20" y2="620.15" stroke="#222" stroke-width="0.7"/>
<text x="484" y="597" text-anchor="middle" transform="rotate(-90 484 597)">Normalized</text>
<text x="494" y="597" text-anchor="middle" transform="rotate(-90 494 597)">length</text>
<line x1="516.20" y1="629.50" x2="516.20" y2="676.20" stroke="#222" stroke-width="0.8"/>
<line x1="514.00" y1="637.50" x2="516.20" y2="637.50" stroke="#222" stroke-width="0.8"/>
<text x="512.6" y="640.6" text-anchor="end">40</text>
<line x1="514.00" y1="675.50" x2="516.20" y2="675.50" stroke="#222" stroke-width="0.8"/>
<text x="512.6" y="678.6" text-anchor="end">30</text>
<text x="494" y="651" text-anchor="middle" transform="rotate(-90 494 651)" style="font-size:8px;"><tspan font-style="italic">θ</tspan> (°)</text>
<line x1="574.20" y1="474.00" x2="574.20" y2="678.00" stroke="#b9a9b9" stroke-width="0.8" stroke-dasharray="1 2.4"/>
<path d="M520.0 526.1 L520.3 527.3 L520.6 528.6 L520.9 527.4 L521.3 526.3 L521.6 526.9 L521.9 526.2 L522.2 525.4 L522.6 527.4 L522.9 526.6 L523.2 526.3 L523.5 525.7 L523.9 523.1 L524.2 525.1 L524.5 524.0 L524.8 523.1 L525.2 523.4 L525.5 523.4 L525.8 523.2 L526.1 522.6 L526.5 524.8 L526.8 527.0 L527.1 526.3 L527.4 526.1 L527.8 528.5 L528.1 526.2 L528.4 526.0 L528.7 529.5 L529.1 528.3 L529.4 525.9 L529.7 523.2 L530.0 523.7 L530.4 525.7 L530.7 525.7 L531.0 525.7 L531.3 525.7 L531.7 526.3 L532.0 525.8 L532.3 524.9 L532.6 527.6 L533.0 528.1 L533.3 525.7 L533.6 525.6 L533.9 526.3 L534.3 528.3 L534.6 528.1 L534.9 526.5 L535.2 526.0 L535.6 527.6 L535.9 525.5 L536.2 525.8 L536.6 527.1 L536.9 526.6 L537.2 525.6 L537.5 524.6 L537.9 525.0 L538.2 527.2 L538.5 526.4 L538.8 524.6 L539.2 526.0 L539.5 527.2 L539.8 525.3 L540.1 525.1 L540.5 525.6 L540.8 526.4 L541.1 527.4 L541.4 527.8 L541.8 525.9 L542.1 526.6 L542.4 526.2 L542.7 526.3 L543.1 525.0 L543.4 525.5 L543.7 526.8 L544.0 526.1 L544.4 527.4 L544.7 526.6 L545.0 527.1 L545.3 524.6 L545.7 523.6 L546.0 526.4 L546.3 525.9 L546.6 523.8 L547.0 525.9 L547.3 525.8 L547.6 524.6 L547.9 524.7 L548.3 524.5 L548.6 525.2 L548.9 526.3 L549.2 525.0 L549.6 524.6 L549.9 526.9 L550.2 527.5 L550.5 526.8 L550.9 526.6 L551.2 524.5 L551.5 524.9 L551.8 526.5 L552.2 524.7 L552.5 525.0 L552.8 525.7 L553.2 524.9 L553.5 525.0 L553.8 526.0 L554.1 525.7 L554.5 525.5 L554.8 526.2 L555.1 528.1 L555.4 527.4 L555.8 525.2 L556.1 525.1 L556.4 525.4 L556.7 525.1 L557.1 526.5 L557.4 529.1 L557.7 528.7 L558.0 526.5 L558.4 528.6 L558.7 527.9 L559.0 526.2 L559.3 526.4 L559.7 526.8 L560.0 526.9 L560.3 527.0 L560.6 525.7 L561.0 525.1 L561.3 527.3 L561.6 527.4 L561.9 526.4 L562.3 526.9 L562.6 528.1 L562.9 527.2 L563.2 526.3 L563.6 525.8 L563.9 525.6 L564.2 527.0 L564.5 526.5 L564.9 526.5 L565.2 524.0 L565.5 525.0 L565.8 525.6 L566.2 524.8 L566.5 526.9 L566.8 526.1 L567.1 525.0 L567.5 525.6 L567.8 527.7 L568.1 528.3 L568.4 527.6 L568.8 528.5 L569.1 528.4 L569.4 528.0 L569.8 526.2 L570.1 526.2 L570.4 529.8 L570.7 528.9 L571.1 527.5 L571.4 528.9 L571.7 531.1 L572.0 531.3 L572.4 530.0 L572.7 529.5 L573.0 529.1 L573.3 529.1 L573.7 529.8 L574.0 532.4 L574.3 531.6 L574.6 529.8 L575.0 530.8 L575.3 531.3 L575.6 532.0 L575.9 533.3 L576.3 533.5 L576.6 531.9 L576.9 529.7 L577.2 529.4 L577.6 529.9 L577.9 531.3 L578.2 531.9 L578.5 531.7 L578.9 531.7 L579.2 530.2 L579.5 531.8 L579.8 533.3 L580.2 532.5 L580.5 533.6 L580.8 536.5 L581.1 535.3 L581.5 531.9 L581.8 534.5 L582.1 536.3 L582.4 535.9 L582.8 536.5 L583.1 536.7 L583.4 536.1 L583.7 535.8 L584.1 537.2 L584.4 537.5 L584.7 537.2 L585.0 536.9 L585.4 538.4 L585.7 538.0 L586.0 539.2 L586.4 539.1 L586.7 539.7 L587.0 540.2 L587.3 538.9 L587.7 539.1 L588.0 539.2 L588.3 539.7 L588.6 539.4 L589.0 539.2 L589.3 540.1 L589.6 540.9 L589.9 541.5 L590.3 541.8 L590.6 541.6 L590.9 543.3 L591.2 541.6 L591.6 540.4 L591.9 542.6 L592.2 541.8 L592.5 543.3 L592.9 544.0 L593.2 542.1 L593.5 542.7 L593.8 543.4 L594.2 543.9 L594.5 544.8 L594.8 544.6 L595.1 544.5 L595.5 545.5 L595.8 545.4 L596.1 544.3 L596.4 545.0 L596.8 545.8 L597.1 545.1 L597.4 543.8 L597.7 542.8 L598.1 544.7 L598.4 546.5 L598.7 546.6 L599.0 546.3 L599.4 546.2 L599.7 546.4 L600.0 546.0 L600.3 546.1 L600.7 546.5 L601.0 546.4 L601.3 547.4 L601.7 548.1 L602.0 547.7 L602.3 548.1 L602.6 546.6 L603.0 546.0 L603.3 549.7 L603.6 550.7 L603.9 548.2 L604.3 547.4 L604.6 547.6 L604.9 547.8 L605.2 547.4 L605.6 547.5 L605.9 546.7 L606.2 546.5 L606.5 547.6 L606.9 548.1 L607.2 547.7 L607.5 548.2 L607.8 548.8 L608.2 547.5 L608.5 546.0 L608.8 548.9 L609.1 547.6 L609.5 546.0 L609.8 547.5 L610.1 548.0 L610.4 548.1 L610.8 546.8 L611.1 547.5 L611.4 547.7 L611.7 548.1 L612.1 547.5 L612.4 548.1 L612.7 549.1 L613.0 548.9 L613.4 550.2 L613.7 549.6 L614.0 548.0 L614.3 548.4 L614.7 549.6 L615.0 549.4 L615.3 548.5 L615.6 548.2 L616.0 548.1 L616.3 549.3 L616.6 548.3 L616.9 546.7 L617.3 546.9 L617.6 547.0 L617.9 546.4 L618.3 546.2 L618.6 546.2 L618.9 546.5 L619.2 547.4 L619.6 547.0 L619.9 547.9 L620.2 548.9 L620.5 548.2 L620.9 548.6 L621.2 551.0 L621.5 551.1 L621.8 550.0 L622.2 548.5 L622.5 549.4 L622.8 550.8 L623.1 548.1 L623.5 549.7 L623.8 551.1 L624.1 549.7 L624.4 551.5 L624.8 551.0 L625.1 550.2 L625.4 552.6 L625.7 552.4 L626.1 551.0 L626.4 549.1 L626.7 547.6 L627.0 550.0 L627.4 549.9 L627.7 546.9 L628.0 547.8 L628.3 550.5 L628.3 557.0 L628.0 554.3 L627.7 553.5 L627.4 556.5 L627.0 556.6 L626.7 554.2 L626.4 555.7 L626.1 557.6 L625.7 559.0 L625.4 559.2 L625.1 556.7 L624.8 557.5 L624.4 558.1 L624.1 556.3 L623.8 557.7 L623.5 556.2 L623.1 554.7 L622.8 557.4 L622.5 556.0 L622.2 555.0 L621.8 556.5 L621.5 557.7 L621.2 557.6 L620.9 555.1 L620.5 554.7 L620.2 555.5 L619.9 554.5 L619.6 553.6 L619.2 554.0 L618.9 553.1 L618.6 552.8 L618.3 552.8 L617.9 552.9 L617.6 553.6 L617.3 553.5 L616.9 553.3 L616.6 554.9 L616.3 555.9 L616.0 554.7 L615.6 554.8 L615.3 555.1 L615.0 556.0 L614.7 556.2 L614.3 555.0 L614.0 554.5 L613.7 556.1 L613.4 556.8 L613.0 555.5 L612.7 555.7 L612.4 554.7 L612.1 554.1 L611.7 554.7 L611.4 554.3 L611.1 554.1 L610.8 553.4 L610.4 554.7 L610.1 554.6 L609.8 554.0 L609.5 552.6 L609.1 554.2 L608.8 555.5 L608.5 552.6 L608.2 554.0 L607.8 555.4 L607.5 554.8 L607.2 554.3 L606.9 554.7 L606.5 554.1 L606.2 553.1 L605.9 553.3 L605.6 554.1 L605.2 553.9 L604.9 554.4 L604.6 554.2 L604.3 553.9 L603.9 554.8 L603.6 557.3 L603.3 556.3 L603.0 552.6 L602.6 553.2 L602.3 554.7 L602.0 554.3 L601.7 554.7 L601.3 553.9 L601.0 553.0 L600.7 553.0 L600.3 552.7 L600.0 552.6 L599.7 553.0 L599.4 552.8 L599.0 552.9 L598.7 553.2 L598.4 553.1 L598.1 551.3 L597.7 549.4 L597.4 550.3 L597.1 551.7 L596.8 552.4 L596.4 551.6 L596.1 550.9 L595.8 552.0 L595.5 552.1 L595.1 551.1 L594.8 551.2 L594.5 551.3 L594.2 550.5 L593.8 549.9 L593.5 549.3 L593.2 548.7 L592.9 550.5 L592.5 549.8 L592.2 548.3 L591.9 549.2 L591.6 547.0 L591.2 548.2 L590.9 549.9 L590.6 548.2 L590.3 548.4 L589.9 548.1 L589.6 547.5 L589.3 546.7 L589.0 545.8 L588.6 546.0 L588.3 546.3 L588.0 545.7 L587.7 545.7 L587.3 545.5 L587.0 546.8 L586.7 546.3 L586.4 545.7 L586.0 545.8 L585.7 544.6 L585.4 545.0 L585.0 543.5 L584.7 543.8 L584.4 544.1 L584.1 543.8 L583.7 542.4 L583.4 542.7 L583.1 543.3 L582.8 543.1 L582.4 542.4 L582.1 542.9 L581.8 541.0 L581.5 538.5 L581.1 541.9 L580.8 543.1 L580.5 540.2 L580.2 539.1 L579.8 539.9 L579.5 538.4 L579.2 536.8 L578.9 538.3 L578.5 538.3 L578.2 538.5 L577.9 537.9 L577.6 536.5 L577.2 536.0 L576.9 536.3 L576.6 538.5 L576.3 540.1 L575.9 539.9 L575.6 538.6 L575.3 537.9 L575.0 537.4 L574.6 536.4 L574.3 538.2 L574.0 539.0 L573.7 536.3 L573.3 535.7 L573.0 535.7 L572.7 536.1 L572.4 536.5 L572.0 537.9 L571.7 537.7 L571.4 535.5 L571.1 534.1 L570.7 535.5 L570.4 536.4 L570.1 532.8 L569.8 532.8 L569.4 534.6 L569.1 535.0 L568.8 535.0 L568.4 534.1 L568.1 534.8 L567.8 534.3 L567.5 532.2 L567.1 531.5 L566.8 532.7 L566.5 533.5 L566.2 531.4 L565.8 532.1 L565.5 531.6 L565.2 530.6 L564.9 533.0 L564.5 533.1 L564.2 533.6 L563.9 532.1 L563.6 532.3 L563.2 532.9 L562.9 533.8 L562.6 534.7 L562.3 533.5 L561.9 533.0 L561.6 534.0 L561.3 533.9 L561.0 531.7 L560.6 532.3 L560.3 533.6 L560.0 533.5 L559.7 533.4 L559.3 533.0 L559.0 532.8 L558.7 534.4 L558.4 535.2 L558.0 533.1 L557.7 535.3 L557.4 535.7 L557.1 533.1 L556.7 531.7 L556.4 532.0 L556.1 531.7 L555.8 531.8 L555.4 534.0 L555.1 534.7 L554.8 532.8 L554.5 532.1 L554.1 532.3 L553.8 532.6 L553.5 531.5 L553.2 531.5 L552.8 532.3 L552.5 531.6 L552.2 531.2 L551.8 533.1 L551.5 531.4 L551.2 531.1 L550.9 533.2 L550.5 533.3 L550.2 534.1 L549.9 533.5 L549.6 531.2 L549.2 531.6 L548.9 532.8 L548.6 531.8 L548.3 531.1 L547.9 531.3 L547.6 531.2 L547.3 532.3 L547.0 532.5 L546.6 530.4 L546.3 532.5 L546.0 533.0 L545.7 530.1 L545.3 531.2 L545.0 533.7 L544.7 533.2 L544.4 534.0 L544.0 532.7 L543.7 533.4 L543.4 532.1 L543.1 531.6 L542.7 532.9 L542.4 532.8 L542.1 533.2 L541.8 532.5 L541.4 534.4 L541.1 534.0 L540.8 533.0 L540.5 532.2 L540.1 531.7 L539.8 531.9 L539.5 533.7 L539.2 532.5 L538.8 531.2 L538.5 533.0 L538.2 533.8 L537.9 531.6 L537.5 531.2 L537.2 532.2 L536.9 533.1 L536.6 533.7 L536.2 532.4 L535.9 532.1 L535.6 534.2 L535.2 532.6 L534.9 533.1 L534.6 534.7 L534.3 534.9 L533.9 532.9 L533.6 532.1 L533.3 532.3 L533.0 534.7 L532.6 534.2 L532.3 531.5 L532.0 532.4 L531.7 532.9 L531.3 532.3 L531.0 532.3 L530.7 532.2 L530.4 532.2 L530.0 530.3 L529.7 529.8 L529.4 532.5 L529.1 534.9 L528.7 536.1 L528.4 532.5 L528.1 532.7 L527.8 535.0 L527.4 532.7 L527.1 532.9 L526.8 533.6 L526.5 531.4 L526.1 529.2 L525.8 529.8 L525.5 529.9 L525.2 530.0 L524.8 529.7 L524.5 530.6 L524.2 531.6 L523.9 529.7 L523.5 532.3 L523.2 532.9 L522.9 533.2 L522.6 534.0 L522.2 531.9 L521.9 532.8 L521.6 533.5 L521.3 532.8 L520.9 534.0 L520.6 535.1 L520.3 533.9 L520.0 532.7 Z" fill="#e9e9e9" stroke="none"/>
<path d="M520.0 529.4 L520.3 530.6 L520.6 531.9 L520.9 530.7 L521.3 529.6 L521.6 530.2 L521.9 529.5 L522.2 528.6 L522.6 530.7 L522.9 529.9 L523.2 529.6 L523.5 529.0 L523.9 526.4 L524.2 528.4 L524.5 527.3 L524.8 526.4 L525.2 526.7 L525.5 526.7 L525.8 526.5 L526.1 525.9 L526.5 528.1 L526.8 530.3 L527.1 529.6 L527.4 529.4 L527.8 531.8 L528.1 529.5 L528.4 529.2 L528.7 532.8 L529.1 531.6 L529.4 529.2 L529.7 526.5 L530.0 527.0 L530.4 528.9 L530.7 528.9 L531.0 529.0 L531.3 529.0 L531.7 529.6 L532.0 529.1 L532.3 528.2 L532.6 530.9 L533.0 531.4 L533.3 529.0 L533.6 528.8 L533.9 529.6 L534.3 531.6 L534.6 531.4 L534.9 529.8 L535.2 529.3 L535.6 530.9 L535.9 528.8 L536.2 529.1 L536.6 530.4 L536.9 529.9 L537.2 528.9 L537.5 527.9 L537.9 528.3 L538.2 530.5 L538.5 529.7 L538.8 527.9 L539.2 529.2 L539.5 530.5 L539.8 528.6 L540.1 528.4 L540.5 528.9 L540.8 529.7 L541.1 530.7 L541.4 531.1 L541.8 529.2 L542.1 529.9 L542.4 529.5 L542.7 529.6 L543.1 528.3 L543.4 528.8 L543.7 530.1 L544.0 529.4 L544.4 530.7 L544.7 529.9 L545.0 530.4 L545.3 527.9 L545.7 526.8 L546.0 529.7 L546.3 529.2 L546.6 527.1 L547.0 529.2 L547.3 529.1 L547.6 527.9 L547.9 528.0 L548.3 527.8 L548.6 528.5 L548.9 529.5 L549.2 528.3 L549.6 527.9 L549.9 530.2 L550.2 530.8 L550.5 530.1 L550.9 529.9 L551.2 527.8 L551.5 528.2 L551.8 529.8 L552.2 528.0 L552.5 528.3 L552.8 529.0 L553.2 528.2 L553.5 528.2 L553.8 529.3 L554.1 529.0 L554.5 528.8 L554.8 529.5 L555.1 531.4 L555.4 530.7 L555.8 528.5 L556.1 528.4 L556.4 528.7 L556.7 528.4 L557.1 529.8 L557.4 532.4 L557.7 532.0 L558.0 529.8 L558.4 531.9 L558.7 531.2 L559.0 529.5 L559.3 529.7 L559.7 530.1 L560.0 530.2 L560.3 530.3 L560.6 529.0 L561.0 528.4 L561.3 530.6 L561.6 530.7 L561.9 529.7 L562.3 530.2 L562.6 531.4 L562.9 530.5 L563.2 529.6 L563.6 529.0 L563.9 528.9 L564.2 530.3 L564.5 529.8 L564.9 529.7 L565.2 527.3 L565.5 528.3 L565.8 528.8 L566.2 528.1 L566.5 530.2 L566.8 529.4 L567.1 528.2 L567.5 528.9 L567.8 531.0 L568.1 531.6 L568.4 530.9 L568.8 531.8 L569.1 531.7 L569.4 531.3 L569.8 529.5 L570.1 529.5 L570.4 533.1 L570.7 532.2 L571.1 530.8 L571.4 532.2 L571.7 534.4 L572.0 534.6 L572.4 533.3 L572.7 532.8 L573.0 532.4 L573.3 532.4 L573.7 533.1 L574.0 535.7 L574.3 534.9 L574.6 533.1 L575.0 534.1 L575.3 534.6 L575.6 535.3 L575.9 536.6 L576.3 536.8 L576.6 535.2 L576.9 533.0 L577.2 532.7 L577.6 533.2 L577.9 534.6 L578.2 535.2 L578.5 535.0 L578.9 535.0 L579.2 533.5 L579.5 535.1 L579.8 536.6 L580.2 535.8 L580.5 536.9 L580.8 539.8 L581.1 538.6 L581.5 535.2 L581.8 537.7 L582.1 539.6 L582.4 539.1 L582.8 539.8 L583.1 540.0 L583.4 539.4 L583.7 539.1 L584.1 540.5 L584.4 540.8 L584.7 540.5 L585.0 540.2 L585.4 541.7 L585.7 541.3 L586.0 542.5 L586.4 542.4 L586.7 543.0 L587.0 543.5 L587.3 542.2 L587.7 542.4 L588.0 542.5 L588.3 543.0 L588.6 542.7 L589.0 542.5 L589.3 543.4 L589.6 544.2 L589.9 544.8 L590.3 545.1 L590.6 544.9 L590.9 546.6 L591.2 544.9 L591.6 543.7 L591.9 545.9 L592.2 545.0 L592.5 546.5 L592.9 547.2 L593.2 545.4 L593.5 546.0 L593.8 546.7 L594.2 547.2 L594.5 548.0 L594.8 547.9 L595.1 547.8 L595.5 548.8 L595.8 548.7 L596.1 547.6 L596.4 548.3 L596.8 549.1 L597.1 548.4 L597.4 547.1 L597.7 546.1 L598.1 548.0 L598.4 549.8 L598.7 549.9 L599.0 549.6 L599.4 549.5 L599.7 549.7 L600.0 549.3 L600.3 549.4 L600.7 549.8 L601.0 549.7 L601.3 550.7 L601.7 551.4 L602.0 551.0 L602.3 551.4 L602.6 549.9 L603.0 549.3 L603.3 553.0 L603.6 554.0 L603.9 551.5 L604.3 550.6 L604.6 550.9 L604.9 551.1 L605.2 550.7 L605.6 550.8 L605.9 550.0 L606.2 549.8 L606.5 550.8 L606.9 551.4 L607.2 551.0 L607.5 551.5 L607.8 552.1 L608.2 550.7 L608.5 549.3 L608.8 552.2 L609.1 550.9 L609.5 549.3 L609.8 550.7 L610.1 551.3 L610.4 551.4 L610.8 550.1 L611.1 550.8 L611.4 551.0 L611.7 551.4 L612.1 550.8 L612.4 551.4 L612.7 552.4 L613.0 552.2 L613.4 553.5 L613.7 552.8 L614.0 551.3 L614.3 551.7 L614.7 552.9 L615.0 552.7 L615.3 551.8 L615.6 551.5 L616.0 551.4 L616.3 552.6 L616.6 551.6 L616.9 550.0 L617.3 550.2 L617.6 550.3 L617.9 549.7 L618.3 549.5 L618.6 549.5 L618.9 549.8 L619.2 550.7 L619.6 550.3 L619.9 551.2 L620.2 552.2 L620.5 551.5 L620.9 551.8 L621.2 554.3 L621.5 554.4 L621.8 553.3 L622.2 551.7 L622.5 552.7 L622.8 554.1 L623.1 551.4 L623.5 552.9 L623.8 554.4 L624.1 553.0 L624.4 554.8 L624.8 554.3 L625.1 553.4 L625.4 555.9 L625.7 555.7 L626.1 554.3 L626.4 552.4 L626.7 550.9 L627.0 553.3 L627.4 553.2 L627.7 550.2 L628.0 551.1 L628.3 553.8" stroke="#222" stroke-width="0.7" fill="none" stroke-linejoin="round"/>
<path d="M520.0 601.4 L520.3 601.6 L520.6 601.4 L520.9 600.9 L521.3 600.6 L521.6 601.0 L521.9 601.0 L522.2 601.3 L522.6 601.3 L522.9 601.4 L523.2 601.6 L523.5 601.4 L523.9 601.3 L524.2 601.0 L524.5 600.8 L524.8 600.7 L525.2 600.7 L525.5 600.5 L525.8 600.7 L526.1 600.7 L526.5 601.0 L526.8 601.0 L527.1 600.9 L527.4 600.7 L527.8 600.2 L528.1 600.4 L528.4 600.6 L528.7 600.9 L529.1 600.6 L529.4 600.0 L529.7 600.2 L530.0 600.4 L530.4 600.8 L530.7 600.6 L531.0 600.8 L531.3 600.7 L531.7 600.7 L532.0 600.4 L532.3 600.1 L532.6 599.7 L533.0 599.9 L533.3 599.9 L533.6 599.8 L533.9 599.8 L534.3 599.7 L534.6 599.9 L534.9 599.7 L535.2 599.8 L535.6 599.9 L535.9 599.8 L536.2 600.3 L536.6 600.5 L536.9 600.3 L537.2 600.1 L537.5 599.9 L537.9 600.3 L538.2 600.1 L538.5 600.1 L538.8 599.6 L539.2 599.6 L539.5 599.7 L539.8 600.0 L540.1 599.9 L540.5 599.5 L540.8 599.7 L541.1 599.8 L541.4 600.5 L541.8 600.4 L542.1 600.3 L542.4 599.8 L542.7 600.3 L543.1 600.4 L543.4 600.2 L543.7 599.6 L544.0 599.2 L544.4 599.5 L544.7 599.3 L545.0 599.5 L545.3 599.4 L545.7 599.4 L546.0 599.1 L546.3 599.2 L546.6 599.5 L547.0 599.9 L547.3 599.8 L547.6 599.6 L547.9 599.3 L548.3 599.2 L548.6 599.0 L548.9 599.3 L549.2 599.4 L549.6 599.6 L549.9 599.5 L550.2 599.3 L550.5 599.2 L550.9 598.7 L551.2 598.5 L551.5 598.3 L551.8 598.0 L552.2 597.8 L552.5 598.2 L552.8 598.4 L553.2 598.1 L553.5 597.4 L553.8 596.9 L554.1 596.6 L554.5 596.4 L554.8 596.0 L555.1 595.9 L555.4 595.0 L555.8 594.5 L556.1 594.6 L556.4 594.7 L556.7 594.6 L557.1 594.0 L557.4 593.4 L557.7 593.3 L558.0 593.0 L558.4 593.3 L558.7 593.0 L559.0 592.8 L559.3 592.7 L559.7 592.6 L560.0 592.9 L560.3 593.1 L560.6 593.6 L561.0 593.5 L561.3 593.6 L561.6 593.6 L561.9 593.7 L562.3 593.7 L562.6 593.6 L562.9 593.4 L563.2 593.5 L563.6 593.2 L563.9 593.3 L564.2 593.0 L564.5 593.3 L564.9 593.0 L565.2 592.8 L565.5 591.9 L565.8 591.2 L566.2 590.8 L566.5 591.0 L566.8 591.0 L567.1 591.0 L567.5 590.7 L567.8 590.4 L568.1 590.1 L568.4 589.7 L568.8 589.6 L569.1 589.1 L569.4 588.7 L569.8 588.3 L570.1 588.4 L570.4 587.9 L570.7 587.5 L571.1 587.0 L571.4 586.9 L571.7 586.2 L572.0 586.2 L572.4 585.9 L572.7 585.5 L573.0 584.8 L573.3 584.4 L573.7 584.2 L574.0 583.7 L574.3 583.5 L574.6 583.4 L575.0 583.2 L575.3 582.9 L575.6 582.6 L575.9 582.3 L576.3 581.9 L576.6 582.0 L576.9 581.5 L577.2 581.3 L577.6 580.8 L577.9 581.1 L578.2 580.9 L578.5 580.6 L578.9 579.8 L579.2 579.1 L579.5 578.9 L579.8 579.0 L580.2 578.9 L580.5 578.3 L580.8 578.1 L581.1 578.2 L581.5 578.0 L581.8 577.8 L582.1 577.5 L582.4 577.6 L582.8 577.5 L583.1 577.6 L583.4 577.4 L583.7 577.4 L584.1 577.1 L584.4 577.2 L584.7 577.0 L585.0 576.7 L585.4 576.7 L585.7 576.5 L586.0 576.6 L586.4 576.3 L586.7 576.8 L587.0 576.7 L587.3 576.9 L587.7 576.6 L588.0 577.4 L588.3 577.4 L588.6 577.6 L589.0 577.3 L589.3 577.3 L589.6 577.1 L589.9 577.1 L590.3 576.8 L590.6 577.1 L590.9 576.6 L591.2 576.8 L591.6 576.7 L591.9 576.9 L592.2 576.6 L592.5 576.5 L592.9 576.9 L593.2 577.4 L593.5 577.2 L593.8 577.1 L594.2 577.0 L594.5 577.2 L594.8 577.3 L595.1 577.2 L595.5 577.3 L595.8 577.0 L596.1 576.7 L596.4 577.1 L596.8 577.0 L597.1 577.1 L597.4 576.5 L597.7 576.5 L598.1 576.4 L598.4 576.4 L598.7 576.7 L599.0 577.0 L599.4 577.4 L599.7 577.4 L600.0 577.4 L600.3 577.5 L600.7 577.6 L601.0 577.2 L601.3 577.2 L601.7 577.4 L602.0 577.8 L602.3 577.7 L602.6 577.7 L603.0 577.6 L603.3 577.4 L603.6 577.5 L603.9 577.9 L604.3 577.7 L604.6 577.2 L604.9 577.0 L605.2 577.5 L605.6 577.8 L605.9 577.3 L606.2 577.0 L606.5 576.8 L606.9 577.0 L607.2 577.0 L607.5 577.2 L607.8 577.9 L608.2 577.7 L608.5 578.3 L608.8 578.2 L609.1 578.5 L609.5 578.3 L609.8 578.2 L610.1 577.7 L610.4 577.4 L610.8 577.6 L611.1 578.0 L611.4 578.2 L611.7 578.4 L612.1 577.9 L612.4 577.8 L612.7 577.3 L613.0 577.9 L613.4 578.1 L613.7 578.5 L614.0 578.2 L614.3 578.0 L614.7 578.2 L615.0 578.7 L615.3 579.1 L615.6 578.7 L616.0 578.4 L616.3 578.7 L616.6 578.5 L616.9 578.6 L617.3 578.2 L617.6 578.3 L617.9 578.3 L618.3 578.2 L618.6 578.1 L618.9 578.0 L619.2 578.3 L619.6 578.6 L619.9 578.7 L620.2 578.6 L620.5 578.3 L620.9 578.4 L621.2 578.4 L621.5 578.4 L621.8 578.3 L622.2 578.3 L622.5 578.4 L622.8 578.4 L623.1 578.4 L623.5 578.1 L623.8 578.2 L624.1 577.9 L624.4 578.0 L624.8 577.8 L625.1 577.9 L625.4 578.1 L625.7 578.1 L626.1 578.2 L626.4 577.9 L626.7 577.9 L627.0 577.7 L627.4 577.8 L627.7 577.6 L628.0 577.6 L628.3 577.2 L628.3 582.2 L628.0 582.6 L627.7 582.7 L627.4 582.8 L627.0 582.7 L626.7 582.9 L626.4 582.9 L626.1 583.2 L625.7 583.1 L625.4 583.1 L625.1 582.9 L624.8 582.8 L624.4 583.0 L624.1 582.9 L623.8 583.2 L623.5 583.1 L623.1 583.4 L622.8 583.4 L622.5 583.4 L622.2 583.3 L621.8 583.3 L621.5 583.4 L621.2 583.4 L620.9 583.4 L620.5 583.3 L620.2 583.6 L619.9 583.7 L619.6 583.6 L619.2 583.3 L618.9 583.0 L618.6 583.2 L618.3 583.2 L617.9 583.3 L617.6 583.3 L617.3 583.2 L616.9 583.6 L616.6 583.5 L616.3 583.7 L616.0 583.4 L615.6 583.7 L615.3 584.2 L615.0 583.7 L614.7 583.2 L614.3 583.0 L614.0 583.2 L613.7 583.5 L613.4 583.1 L613.0 582.9 L612.7 582.3 L612.4 582.8 L612.1 582.9 L611.7 583.4 L611.4 583.2 L611.1 583.1 L610.8 582.6 L610.4 582.4 L610.1 582.7 L609.8 583.2 L609.5 583.3 L609.1 583.5 L608.8 583.2 L608.5 583.3 L608.2 582.7 L607.8 582.9 L607.5 582.2 L607.2 582.0 L606.9 582.0 L606.5 581.8 L606.2 582.0 L605.9 582.3 L605.6 582.8 L605.2 582.5 L604.9 582.0 L604.6 582.2 L604.3 582.7 L603.9 582.9 L603.6 582.5 L603.3 582.4 L603.0 582.6 L602.6 582.7 L602.3 582.8 L602.0 582.8 L601.7 582.4 L601.3 582.2 L601.0 582.2 L600.7 582.6 L600.3 582.6 L600.0 582.4 L599.7 582.4 L599.4 582.5 L599.0 582.1 L598.7 581.7 L598.4 581.4 L598.1 581.4 L597.7 581.5 L597.4 581.5 L597.1 582.1 L596.8 582.0 L596.4 582.1 L596.1 581.7 L595.8 582.0 L595.5 582.3 L595.1 582.3 L594.8 582.3 L594.5 582.2 L594.2 582.0 L593.8 582.1 L593.5 582.2 L593.2 582.4 L592.9 581.9 L592.5 581.5 L592.2 581.7 L591.9 581.9 L591.6 581.7 L591.2 581.8 L590.9 581.6 L590.6 582.1 L590.3 581.8 L589.9 582.1 L589.6 582.1 L589.3 582.3 L589.0 582.3 L588.6 582.6 L588.3 582.4 L588.0 582.4 L587.7 581.6 L587.3 581.9 L587.0 581.7 L586.7 581.8 L586.4 581.4 L586.0 581.6 L585.7 581.5 L585.4 581.7 L585.0 581.7 L584.7 582.0 L584.4 582.2 L584.1 582.1 L583.7 582.4 L583.4 582.4 L583.1 582.6 L582.8 582.5 L582.4 582.6 L582.1 582.5 L581.8 582.8 L581.5 583.0 L581.1 583.2 L580.8 583.1 L580.5 583.3 L580.2 584.0 L579.8 584.0 L579.5 583.9 L579.2 584.1 L578.9 584.8 L578.5 585.6 L578.2 585.9 L577.9 586.1 L577.6 585.8 L577.2 586.3 L576.9 586.5 L576.6 587.0 L576.3 586.9 L575.9 587.3 L575.6 587.6 L575.3 587.9 L575.0 588.2 L574.6 588.4 L574.3 588.5 L574.0 588.7 L573.7 589.2 L573.3 589.4 L573.0 589.8 L572.7 590.5 L572.4 590.9 L572.0 591.2 L571.7 591.2 L571.4 591.9 L571.1 592.0 L570.7 592.5 L570.4 592.9 L570.1 593.4 L569.8 593.3 L569.4 593.7 L569.1 594.1 L568.8 594.6 L568.4 594.7 L568.1 595.1 L567.8 595.4 L567.5 595.7 L567.1 596.0 L566.8 596.0 L566.5 596.0 L566.2 595.8 L565.8 596.3 L565.5 596.9 L565.2 597.8 L564.9 598.0 L564.5 598.3 L564.2 598.0 L563.9 598.3 L563.6 598.3 L563.2 598.5 L562.9 598.4 L562.6 598.6 L562.3 598.8 L561.9 598.7 L561.6 598.6 L561.3 598.6 L561.0 598.5 L560.6 598.6 L560.3 598.1 L560.0 597.9 L559.7 597.6 L559.3 597.7 L559.0 597.8 L558.7 598.0 L558.4 598.3 L558.0 598.0 L557.7 598.3 L557.4 598.4 L557.1 599.0 L556.7 599.6 L556.4 599.7 L556.1 599.6 L555.8 599.6 L555.4 600.0 L555.1 600.9 L554.8 601.0 L554.5 601.4 L554.1 601.6 L553.8 601.9 L553.5 602.4 L553.2 603.1 L552.8 603.4 L552.5 603.2 L552.2 602.8 L551.8 603.0 L551.5 603.3 L551.2 603.6 L550.9 603.7 L550.5 604.2 L550.2 604.3 L549.9 604.5 L549.6 604.6 L549.2 604.4 L548.9 604.3 L548.6 604.0 L548.3 604.2 L547.9 604.3 L547.6 604.6 L547.3 604.8 L547.0 604.9 L546.6 604.5 L546.3 604.2 L546.0 604.2 L545.7 604.5 L545.3 604.4 L545.0 604.5 L544.7 604.3 L544.4 604.5 L544.0 604.2 L543.7 604.6 L543.4 605.2 L543.1 605.4 L542.7 605.3 L542.4 604.8 L542.1 605.3 L541.8 605.4 L541.4 605.5 L541.1 604.8 L540.8 604.7 L540.5 604.5 L540.1 604.9 L539.8 605.0 L539.5 604.7 L539.2 604.6 L538.8 604.6 L538.5 605.1 L538.2 605.1 L537.9 605.3 L537.5 604.9 L537.2 605.1 L536.9 605.3 L536.6 605.5 L536.2 605.3 L535.9 604.8 L535.6 604.9 L535.2 604.8 L534.9 604.7 L534.6 604.9 L534.3 604.7 L533.9 604.8 L533.6 604.8 L533.3 604.9 L533.0 605.0 L532.6 604.7 L532.3 605.2 L532.0 605.4 L531.7 605.7 L531.3 605.7 L531.0 605.8 L530.7 605.6 L530.4 605.8 L530.0 605.4 L529.7 605.2 L529.4 605.0 L529.1 605.6 L528.7 605.9 L528.4 605.6 L528.1 605.4 L527.8 605.2 L527.4 605.7 L527.1 605.9 L526.8 606.0 L526.5 606.0 L526.1 605.7 L525.8 605.7 L525.5 605.5 L525.2 605.7 L524.8 605.7 L524.5 605.8 L524.2 606.0 L523.9 606.3 L523.5 606.4 L523.2 606.6 L522.9 606.4 L522.6 606.3 L522.2 606.3 L521.9 606.0 L521.6 606.0 L521.3 605.6 L520.9 605.9 L520.6 606.4 L520.3 606.6 L520.0 606.4 Z" fill="#e9e9e9" stroke="none"/>
<path d="M520.0 603.9 L520.3 604.1 L520.6 603.9 L520.9 603.4 L521.3 603.1 L521.6 603.5 L521.9 603.5 L522.2 603.8 L522.6 603.8 L522.9 603.9 L523.2 604.1 L523.5 603.9 L523.9 603.8 L524.2 603.5 L524.5 603.3 L524.8 603.2 L525.2 603.2 L525.5 603.0 L525.8 603.2 L526.1 603.2 L526.5 603.5 L526.8 603.5 L527.1 603.4 L527.4 603.2 L527.8 602.7 L528.1 602.9 L528.4 603.1 L528.7 603.4 L529.1 603.1 L529.4 602.5 L529.7 602.7 L530.0 602.9 L530.4 603.3 L530.7 603.1 L531.0 603.3 L531.3 603.2 L531.7 603.2 L532.0 602.9 L532.3 602.7 L532.6 602.2 L533.0 602.4 L533.3 602.4 L533.6 602.3 L533.9 602.3 L534.3 602.2 L534.6 602.4 L534.9 602.2 L535.2 602.3 L535.6 602.4 L535.9 602.3 L536.2 602.8 L536.6 603.0 L536.9 602.8 L537.2 602.6 L537.5 602.4 L537.9 602.8 L538.2 602.6 L538.5 602.6 L538.8 602.1 L539.2 602.1 L539.5 602.2 L539.8 602.5 L540.1 602.4 L540.5 602.0 L540.8 602.2 L541.1 602.3 L541.4 603.0 L541.8 602.9 L542.1 602.8 L542.4 602.3 L542.7 602.8 L543.1 602.9 L543.4 602.7 L543.7 602.1 L544.0 601.7 L544.4 602.0 L544.7 601.8 L545.0 602.0 L545.3 601.9 L545.7 602.0 L546.0 601.7 L546.3 601.7 L546.6 602.0 L547.0 602.4 L547.3 602.3 L547.6 602.1 L547.9 601.8 L548.3 601.7 L548.6 601.5 L548.9 601.8 L549.2 601.9 L549.6 602.1 L549.9 602.0 L550.2 601.8 L550.5 601.7 L550.9 601.2 L551.2 601.0 L551.5 600.8 L551.8 600.5 L552.2 600.3 L552.5 600.7 L552.8 600.9 L553.2 600.6 L553.5 599.9 L553.8 599.4 L554.1 599.1 L554.5 598.9 L554.8 598.5 L555.1 598.4 L555.4 597.5 L555.8 597.0 L556.1 597.1 L556.4 597.2 L556.7 597.1 L557.1 596.5 L557.4 595.9 L557.7 595.8 L558.0 595.5 L558.4 595.8 L558.7 595.5 L559.0 595.3 L559.3 595.2 L559.7 595.1 L560.0 595.4 L560.3 595.6 L560.6 596.1 L561.0 596.0 L561.3 596.1 L561.6 596.1 L561.9 596.2 L562.3 596.3 L562.6 596.1 L562.9 595.9 L563.2 596.0 L563.6 595.7 L563.9 595.8 L564.2 595.5 L564.5 595.8 L564.9 595.5 L565.2 595.3 L565.5 594.4 L565.8 593.8 L566.2 593.3 L566.5 593.5 L566.8 593.5 L567.1 593.5 L567.5 593.2 L567.8 592.9 L568.1 592.6 L568.4 592.2 L568.8 592.1 L569.1 591.6 L569.4 591.2 L569.8 590.8 L570.1 590.9 L570.4 590.4 L570.7 590.0 L571.1 589.5 L571.4 589.4 L571.7 588.7 L572.0 588.7 L572.4 588.4 L572.7 588.0 L573.0 587.3 L573.3 586.9 L573.7 586.7 L574.0 586.2 L574.3 586.0 L574.6 585.9 L575.0 585.7 L575.3 585.4 L575.6 585.1 L575.9 584.8 L576.3 584.4 L576.6 584.5 L576.9 584.0 L577.2 583.8 L577.6 583.3 L577.9 583.6 L578.2 583.4 L578.5 583.1 L578.9 582.3 L579.2 581.6 L579.5 581.4 L579.8 581.5 L580.2 581.4 L580.5 580.8 L580.8 580.6 L581.1 580.7 L581.5 580.5 L581.8 580.3 L582.1 580.0 L582.4 580.1 L582.8 580.0 L583.1 580.1 L583.4 579.9 L583.7 579.9 L584.1 579.6 L584.4 579.7 L584.7 579.5 L585.0 579.2 L585.4 579.2 L585.7 579.0 L586.0 579.1 L586.4 578.9 L586.7 579.3 L587.0 579.2 L587.3 579.4 L587.7 579.1 L588.0 579.9 L588.3 579.9 L588.6 580.1 L589.0 579.8 L589.3 579.8 L589.6 579.6 L589.9 579.6 L590.3 579.3 L590.6 579.6 L590.9 579.1 L591.2 579.3 L591.6 579.2 L591.9 579.4 L592.2 579.1 L592.5 579.0 L592.9 579.4 L593.2 579.9 L593.5 579.7 L593.8 579.6 L594.2 579.5 L594.5 579.7 L594.8 579.8 L595.1 579.7 L595.5 579.8 L595.8 579.5 L596.1 579.2 L596.4 579.6 L596.8 579.5 L597.1 579.6 L597.4 579.0 L597.7 579.0 L598.1 578.9 L598.4 578.9 L598.7 579.2 L599.0 579.6 L599.4 579.9 L599.7 579.9 L600.0 579.9 L600.3 580.1 L600.7 580.1 L601.0 579.7 L601.3 579.7 L601.7 579.9 L602.0 580.3 L602.3 580.3 L602.6 580.2 L603.0 580.1 L603.3 579.9 L603.6 580.0 L603.9 580.4 L604.3 580.2 L604.6 579.7 L604.9 579.5 L605.2 580.0 L605.6 580.3 L605.9 579.8 L606.2 579.5 L606.5 579.3 L606.9 579.5 L607.2 579.5 L607.5 579.7 L607.8 580.4 L608.2 580.2 L608.5 580.8 L608.8 580.7 L609.1 581.0 L609.5 580.8 L609.8 580.7 L610.1 580.2 L610.4 579.9 L610.8 580.1 L611.1 580.5 L611.4 580.7 L611.7 580.9 L612.1 580.4 L612.4 580.3 L612.7 579.8 L613.0 580.4 L613.4 580.6 L613.7 581.0 L614.0 580.7 L614.3 580.5 L614.7 580.7 L615.0 581.2 L615.3 581.6 L615.6 581.2 L616.0 580.9 L616.3 581.2 L616.6 581.0 L616.9 581.1 L617.3 580.7 L617.6 580.8 L617.9 580.8 L618.3 580.7 L618.6 580.7 L618.9 580.5 L619.2 580.8 L619.6 581.1 L619.9 581.2 L620.2 581.1 L620.5 580.8 L620.9 580.9 L621.2 580.9 L621.5 580.9 L621.8 580.8 L622.2 580.8 L622.5 580.9 L622.8 580.9 L623.1 580.9 L623.5 580.6 L623.8 580.7 L624.1 580.4 L624.4 580.5 L624.8 580.3 L625.1 580.4 L625.4 580.6 L625.7 580.6 L626.1 580.7 L626.4 580.4 L626.7 580.4 L627.0 580.2 L627.4 580.3 L627.7 580.2 L628.0 580.1 L628.3 579.7" stroke="#d6a3cf" stroke-width="0.9" fill="none" stroke-linejoin="round"/>
<path d="M520.0 636.0 L520.3 635.9 L520.6 635.9 L520.9 635.9 L521.3 636.6 L521.6 637.0 L521.9 636.7 L522.2 636.6 L522.6 636.3 L522.9 636.5 L523.2 636.3 L523.5 636.5 L523.9 636.4 L524.2 636.4 L524.5 636.3 L524.8 636.6 L525.2 636.3 L525.5 636.4 L525.8 636.6 L526.1 636.7 L526.5 636.3 L526.8 636.6 L527.1 636.6 L527.4 636.8 L527.8 636.6 L528.1 636.9 L528.4 637.2 L528.7 637.1 L529.1 637.0 L529.4 636.9 L529.7 636.7 L530.0 637.0 L530.4 637.2 L530.7 637.0 L531.0 637.0 L531.3 636.9 L531.7 636.9 L532.0 636.9 L532.3 636.9 L532.6 636.9 L533.0 636.3 L533.3 636.3 L533.6 636.4 L533.9 636.9 L534.3 637.0 L534.6 636.8 L534.9 636.3 L535.2 636.3 L535.6 636.3 L535.9 636.4 L536.2 636.4 L536.6 636.7 L536.9 636.6 L537.2 636.2 L537.5 636.3 L537.9 636.4 L538.2 636.6 L538.5 636.6 L538.8 636.8 L539.2 636.8 L539.5 636.9 L539.8 636.4 L540.1 636.2 L540.5 636.1 L540.8 636.6 L541.1 636.5 L541.4 636.3 L541.8 636.0 L542.1 636.0 L542.4 635.9 L542.7 635.8 L543.1 636.0 L543.4 636.0 L543.7 636.0 L544.0 636.1 L544.4 636.2 L544.7 636.7 L545.0 636.7 L545.3 637.0 L545.7 636.9 L546.0 637.1 L546.3 637.4 L546.6 637.5 L547.0 637.3 L547.3 637.0 L547.6 637.2 L547.9 637.7 L548.3 637.6 L548.6 637.7 L548.9 637.8 L549.2 638.4 L549.6 638.9 L549.9 638.8 L550.2 639.1 L550.5 638.8 L550.9 639.4 L551.2 639.3 L551.5 639.0 L551.8 638.7 L552.2 639.1 L552.5 639.8 L552.8 640.0 L553.2 640.4 L553.5 640.5 L553.8 641.1 L554.1 641.1 L554.5 641.7 L554.8 641.7 L555.1 641.7 L555.4 641.9 L555.8 642.1 L556.1 642.6 L556.4 642.7 L556.7 643.3 L557.1 643.2 L557.4 643.6 L557.7 643.7 L558.0 643.9 L558.4 644.2 L558.7 644.5 L559.0 645.0 L559.3 644.5 L559.7 644.1 L560.0 643.6 L560.3 643.1 L560.6 642.6 L561.0 642.1 L561.3 641.7 L561.6 641.3 L561.9 640.8 L562.3 640.3 L562.6 640.2 L562.9 640.5 L563.2 640.7 L563.6 641.0 L563.9 641.4 L564.2 641.4 L564.5 641.3 L564.9 641.1 L565.2 641.4 L565.5 641.9 L565.8 642.3 L566.2 642.6 L566.5 642.6 L566.8 642.6 L567.1 642.4 L567.5 642.2 L567.8 642.1 L568.1 642.4 L568.4 642.2 L568.8 642.0 L569.1 642.0 L569.4 642.4 L569.8 642.9 L570.1 643.2 L570.4 643.1 L570.7 642.9 L571.1 643.1 L571.4 643.5 L571.7 643.5 L572.0 643.5 L572.4 643.7 L572.7 644.1 L573.0 644.2 L573.3 644.1 L573.7 644.3 L574.0 644.5 L574.3 644.7 L574.6 644.9 L575.0 644.6 L575.3 644.6 L575.6 644.5 L575.9 644.6 L576.3 644.4 L576.6 643.9 L576.9 644.2 L577.2 644.7 L577.6 644.9 L577.9 644.9 L578.2 644.5 L578.5 644.8 L578.9 644.8 L579.2 644.9 L579.5 645.1 L579.8 644.9 L580.2 645.1 L580.5 644.8 L580.8 644.6 L581.1 644.6 L581.5 644.8 L581.8 644.8 L582.1 644.5 L582.4 644.4 L582.8 644.6 L583.1 644.8 L583.4 644.8 L583.7 645.0 L584.1 645.0 L584.4 645.1 L584.7 644.7 L585.0 644.4 L585.4 644.5 L585.7 644.8 L586.0 645.2 L586.4 645.0 L586.7 644.8 L587.0 644.7 L587.3 645.0 L587.7 644.8 L588.0 644.6 L588.3 644.4 L588.6 644.7 L589.0 644.6 L589.3 644.6 L589.6 644.4 L589.9 644.4 L590.3 644.6 L590.6 644.8 L590.9 644.9 L591.2 644.9 L591.6 644.7 L591.9 644.8 L592.2 644.6 L592.5 645.0 L592.9 644.8 L593.2 644.7 L593.5 644.4 L593.8 644.4 L594.2 644.5 L594.5 644.4 L594.8 644.5 L595.1 644.3 L595.5 644.1 L595.8 643.8 L596.1 643.8 L596.4 643.7 L596.8 643.7 L597.1 643.6 L597.4 643.7 L597.7 644.1 L598.1 644.5 L598.4 644.6 L598.7 644.3 L599.0 644.4 L599.4 644.2 L599.7 644.4 L600.0 644.4 L600.3 644.6 L600.7 644.8 L601.0 644.1 L601.3 644.0 L601.7 643.7 L602.0 644.0 L602.3 644.0 L602.6 644.1 L603.0 644.5 L603.3 644.7 L603.6 645.1 L603.9 644.8 L604.3 644.6 L604.6 644.6 L604.9 644.9 L605.2 645.0 L605.6 644.7 L605.9 644.4 L606.2 644.6 L606.5 644.8 L606.9 644.8 L607.2 644.8 L607.5 644.3 L607.8 644.1 L608.2 644.1 L608.5 644.5 L608.8 644.7 L609.1 645.0 L609.5 645.4 L609.8 645.1 L610.1 645.0 L610.4 645.0 L610.8 645.3 L611.1 645.2 L611.4 645.0 L611.7 644.8 L612.1 645.1 L612.4 645.0 L612.7 645.0 L613.0 644.9 L613.4 645.0 L613.7 645.1 L614.0 645.4 L614.3 645.4 L614.7 645.7 L615.0 645.2 L615.3 645.1 L615.6 644.8 L616.0 645.0 L616.3 645.0 L616.6 645.3 L616.9 645.7 L617.3 646.0 L617.6 645.5 L617.9 645.2 L618.3 645.5 L618.6 645.8 L618.9 646.0 L619.2 645.8 L619.6 646.1 L619.9 646.4 L620.2 646.3 L620.5 646.6 L620.9 646.6 L621.2 646.8 L621.5 646.7 L621.8 647.1 L622.2 647.4 L622.5 647.5 L622.8 647.3 L623.1 647.7 L623.5 647.5 L623.8 647.4 L624.1 647.6 L624.4 647.9 L624.8 648.2 L625.1 648.2 L625.4 648.2 L625.7 648.6 L626.1 649.0 L626.4 648.8 L626.7 649.0 L627.0 649.0 L627.4 649.8 L627.7 649.7 L628.0 649.8 L628.3 650.2 L628.3 655.9 L628.0 655.5 L627.7 655.4 L627.4 655.5 L627.0 654.7 L626.7 654.7 L626.4 654.5 L626.1 654.7 L625.7 654.3 L625.4 653.9 L625.1 653.9 L624.8 653.9 L624.4 653.6 L624.1 653.3 L623.8 653.1 L623.5 653.2 L623.1 653.4 L622.8 653.0 L622.5 653.2 L622.2 653.1 L621.8 652.8 L621.5 652.4 L621.2 652.5 L620.9 652.3 L620.5 652.3 L620.2 652.0 L619.9 652.1 L619.6 651.8 L619.2 651.5 L618.9 651.7 L618.6 651.5 L618.3 651.2 L617.9 650.9 L617.6 651.2 L617.3 651.7 L616.9 651.4 L616.6 651.0 L616.3 650.7 L616.0 650.7 L615.6 650.5 L615.3 650.8 L615.0 650.9 L614.7 651.4 L614.3 651.1 L614.0 651.1 L613.7 650.8 L613.4 650.7 L613.0 650.6 L612.7 650.7 L612.4 650.7 L612.1 650.8 L611.7 650.5 L611.4 650.7 L611.1 650.9 L610.8 651.0 L610.4 650.7 L610.1 650.7 L609.8 650.8 L609.5 651.1 L609.1 650.7 L608.8 650.4 L608.5 650.2 L608.2 649.8 L607.8 649.8 L607.5 650.0 L607.2 650.5 L606.9 650.5 L606.5 650.5 L606.2 650.3 L605.9 650.1 L605.6 650.4 L605.2 650.7 L604.9 650.6 L604.6 650.3 L604.3 650.3 L603.9 650.5 L603.6 650.8 L603.3 650.4 L603.0 650.2 L602.6 649.8 L602.3 649.7 L602.0 649.7 L601.7 649.4 L601.3 649.7 L601.0 649.8 L600.7 650.5 L600.3 650.3 L600.0 650.1 L599.7 650.1 L599.4 649.9 L599.0 650.1 L598.7 650.0 L598.4 650.3 L598.1 650.2 L597.7 649.8 L597.4 649.4 L597.1 649.3 L596.8 649.4 L596.4 649.4 L596.1 649.5 L595.8 649.5 L595.5 649.8 L595.1 650.0 L594.8 650.2 L594.5 650.1 L594.2 650.2 L593.8 650.1 L593.5 650.1 L593.2 650.4 L592.9 650.5 L592.5 650.7 L592.2 650.3 L591.9 650.5 L591.6 650.4 L591.2 650.6 L590.9 650.6 L590.6 650.5 L590.3 650.3 L589.9 650.1 L589.6 650.1 L589.3 650.3 L589.0 650.3 L588.6 650.4 L588.3 650.1 L588.0 650.3 L587.7 650.5 L587.3 650.7 L587.0 650.4 L586.7 650.5 L586.4 650.7 L586.0 650.9 L585.7 650.5 L585.4 650.2 L585.0 650.1 L584.7 650.4 L584.4 650.8 L584.1 650.7 L583.7 650.7 L583.4 650.5 L583.1 650.5 L582.8 650.3 L582.4 650.1 L582.1 650.2 L581.8 650.5 L581.5 650.5 L581.1 650.3 L580.8 650.3 L580.5 650.5 L580.2 650.8 L579.8 650.6 L579.5 650.8 L579.2 650.6 L578.9 650.5 L578.5 650.5 L578.2 650.2 L577.9 650.6 L577.6 650.6 L577.2 650.4 L576.9 649.9 L576.6 649.6 L576.3 650.1 L575.9 650.3 L575.6 650.2 L575.3 650.3 L575.0 650.3 L574.6 650.6 L574.3 650.4 L574.0 650.2 L573.7 650.0 L573.3 649.8 L573.0 649.9 L572.7 649.8 L572.4 649.4 L572.0 649.2 L571.7 649.2 L571.4 649.2 L571.1 648.8 L570.7 648.6 L570.4 648.8 L570.1 648.9 L569.8 648.6 L569.4 648.1 L569.1 647.7 L568.8 647.7 L568.4 647.9 L568.1 648.1 L567.8 647.8 L567.5 647.9 L567.1 648.1 L566.8 648.3 L566.5 648.3 L566.2 648.3 L565.8 648.0 L565.5 647.6 L565.2 647.1 L564.9 646.8 L564.5 647.0 L564.2 647.1 L563.9 647.1 L563.6 646.7 L563.2 646.4 L562.9 646.2 L562.6 645.9 L562.3 646.0 L561.9 646.5 L561.6 647.0 L561.3 647.4 L561.0 647.8 L560.6 648.3 L560.3 648.8 L560.0 649.3 L559.7 649.8 L559.3 650.2 L559.0 650.7 L558.7 650.2 L558.4 649.9 L558.0 649.6 L557.7 649.4 L557.4 649.3 L557.1 648.9 L556.7 649.0 L556.4 648.4 L556.1 648.3 L555.8 647.8 L555.4 647.6 L555.1 647.4 L554.8 647.4 L554.5 647.4 L554.1 646.8 L553.8 646.8 L553.5 646.2 L553.2 646.1 L552.8 645.7 L552.5 645.5 L552.2 644.8 L551.8 644.4 L551.5 644.7 L551.2 645.0 L550.9 645.1 L550.5 644.5 L550.2 644.8 L549.9 644.5 L549.6 644.6 L549.2 644.1 L548.9 643.5 L548.6 643.4 L548.3 643.3 L547.9 643.4 L547.6 642.9 L547.3 642.7 L547.0 643.0 L546.6 643.2 L546.3 643.1 L546.0 642.8 L545.7 642.6 L545.3 642.7 L545.0 642.4 L544.7 642.4 L544.4 641.9 L544.0 641.8 L543.7 641.7 L543.4 641.7 L543.1 641.7 L542.7 641.5 L542.4 641.6 L542.1 641.7 L541.8 641.7 L541.4 642.0 L541.1 642.2 L540.8 642.3 L540.5 641.8 L540.1 641.9 L539.8 642.1 L539.5 642.6 L539.2 642.5 L538.8 642.5 L538.5 642.3 L538.2 642.3 L537.9 642.1 L537.5 642.0 L537.2 641.9 L536.9 642.3 L536.6 642.4 L536.2 642.1 L535.9 642.1 L535.6 642.0 L535.2 642.0 L534.9 642.0 L534.6 642.5 L534.3 642.7 L533.9 642.6 L533.6 642.1 L533.3 642.0 L533.0 642.0 L532.6 642.6 L532.3 642.6 L532.0 642.6 L531.7 642.6 L531.3 642.6 L531.0 642.7 L530.7 642.7 L530.4 642.9 L530.0 642.7 L529.7 642.4 L529.4 642.6 L529.1 642.7 L528.7 642.8 L528.4 642.9 L528.1 642.6 L527.8 642.3 L527.4 642.5 L527.1 642.3 L526.8 642.3 L526.5 642.0 L526.1 642.4 L525.8 642.3 L525.5 642.1 L525.2 642.0 L524.8 642.3 L524.5 642.0 L524.2 642.1 L523.9 642.1 L523.5 642.2 L523.2 642.0 L522.9 642.2 L522.6 642.0 L522.2 642.3 L521.9 642.4 L521.6 642.7 L521.3 642.3 L520.9 641.6 L520.6 641.6 L520.3 641.6 L520.0 641.7 Z" fill="#e9e9e9" stroke="none"/>
<path d="M520.0 638.8 L520.3 638.7 L520.6 638.7 L520.9 638.7 L521.3 639.4 L521.6 639.9 L521.9 639.6 L522.2 639.4 L522.6 639.2 L522.9 639.4 L523.2 639.2 L523.5 639.4 L523.9 639.2 L524.2 639.3 L524.5 639.2 L524.8 639.4 L525.2 639.2 L525.5 639.2 L525.8 639.4 L526.1 639.6 L526.5 639.2 L526.8 639.5 L527.1 639.5 L527.4 639.7 L527.8 639.5 L528.1 639.7 L528.4 640.0 L528.7 640.0 L529.1 639.9 L529.4 639.8 L529.7 639.6 L530.0 639.8 L530.4 640.1 L530.7 639.8 L531.0 639.8 L531.3 639.8 L531.7 639.8 L532.0 639.8 L532.3 639.7 L532.6 639.8 L533.0 639.2 L533.3 639.1 L533.6 639.3 L533.9 639.8 L534.3 639.9 L534.6 639.7 L534.9 639.2 L535.2 639.2 L535.6 639.1 L535.9 639.2 L536.2 639.3 L536.6 639.5 L536.9 639.4 L537.2 639.1 L537.5 639.1 L537.9 639.3 L538.2 639.5 L538.5 639.5 L538.8 639.6 L539.2 639.7 L539.5 639.7 L539.8 639.3 L540.1 639.1 L540.5 638.9 L540.8 639.4 L541.1 639.4 L541.4 639.2 L541.8 638.8 L542.1 638.8 L542.4 638.8 L542.7 638.7 L543.1 638.8 L543.4 638.9 L543.7 638.8 L544.0 639.0 L544.4 639.1 L544.7 639.6 L545.0 639.5 L545.3 639.8 L545.7 639.7 L546.0 640.0 L546.3 640.2 L546.6 640.3 L547.0 640.2 L547.3 639.9 L547.6 640.1 L547.9 640.5 L548.3 640.5 L548.6 640.6 L548.9 640.7 L549.2 641.3 L549.6 641.7 L549.9 641.7 L550.2 642.0 L550.5 641.7 L550.9 642.2 L551.2 642.1 L551.5 641.9 L551.8 641.6 L552.2 641.9 L552.5 642.6 L552.8 642.8 L553.2 643.2 L553.5 643.4 L553.8 644.0 L554.1 643.9 L554.5 644.5 L554.8 644.5 L555.1 644.6 L555.4 644.7 L555.8 645.0 L556.1 645.5 L556.4 645.5 L556.7 646.1 L557.1 646.0 L557.4 646.4 L557.7 646.5 L558.0 646.8 L558.4 647.1 L558.7 647.3 L559.0 647.8 L559.3 647.3 L559.7 647.0 L560.0 646.4 L560.3 645.9 L560.6 645.5 L561.0 644.9 L561.3 644.5 L561.6 644.2 L561.9 643.7 L562.3 643.2 L562.6 643.0 L562.9 643.4 L563.2 643.5 L563.6 643.9 L563.9 644.2 L564.2 644.3 L564.5 644.2 L564.9 644.0 L565.2 644.2 L565.5 644.8 L565.8 645.2 L566.2 645.4 L566.5 645.4 L566.8 645.5 L567.1 645.2 L567.5 645.0 L567.8 644.9 L568.1 645.3 L568.4 645.0 L568.8 644.9 L569.1 644.8 L569.4 645.3 L569.8 645.8 L570.1 646.0 L570.4 646.0 L570.7 645.8 L571.1 646.0 L571.4 646.3 L571.7 646.3 L572.0 646.4 L572.4 646.5 L572.7 647.0 L573.0 647.0 L573.3 647.0 L573.7 647.1 L574.0 647.3 L574.3 647.5 L574.6 647.8 L575.0 647.4 L575.3 647.4 L575.6 647.4 L575.9 647.5 L576.3 647.2 L576.6 646.7 L576.9 647.1 L577.2 647.6 L577.6 647.7 L577.9 647.7 L578.2 647.4 L578.5 647.7 L578.9 647.7 L579.2 647.7 L579.5 647.9 L579.8 647.8 L580.2 647.9 L580.5 647.6 L580.8 647.4 L581.1 647.5 L581.5 647.7 L581.8 647.6 L582.1 647.4 L582.4 647.2 L582.8 647.5 L583.1 647.7 L583.4 647.7 L583.7 647.9 L584.1 647.9 L584.4 648.0 L584.7 647.6 L585.0 647.3 L585.4 647.3 L585.7 647.7 L586.0 648.1 L586.4 647.8 L586.7 647.7 L587.0 647.6 L587.3 647.8 L587.7 647.6 L588.0 647.5 L588.3 647.2 L588.6 647.6 L589.0 647.5 L589.3 647.5 L589.6 647.3 L589.9 647.3 L590.3 647.5 L590.6 647.7 L590.9 647.7 L591.2 647.8 L591.6 647.6 L591.9 647.6 L592.2 647.4 L592.5 647.9 L592.9 647.7 L593.2 647.5 L593.5 647.2 L593.8 647.3 L594.2 647.3 L594.5 647.3 L594.8 647.4 L595.1 647.2 L595.5 647.0 L595.8 646.6 L596.1 646.7 L596.4 646.6 L596.8 646.6 L597.1 646.5 L597.4 646.6 L597.7 646.9 L598.1 647.3 L598.4 647.4 L598.7 647.1 L599.0 647.2 L599.4 647.1 L599.7 647.3 L600.0 647.3 L600.3 647.4 L600.7 647.6 L601.0 647.0 L601.3 646.9 L601.7 646.5 L602.0 646.9 L602.3 646.9 L602.6 647.0 L603.0 647.4 L603.3 647.5 L603.6 647.9 L603.9 647.7 L604.3 647.4 L604.6 647.5 L604.9 647.8 L605.2 647.9 L605.6 647.6 L605.9 647.3 L606.2 647.5 L606.5 647.6 L606.9 647.7 L607.2 647.6 L607.5 647.1 L607.8 647.0 L608.2 646.9 L608.5 647.4 L608.8 647.5 L609.1 647.8 L609.5 648.3 L609.8 648.0 L610.1 647.8 L610.4 647.8 L610.8 648.2 L611.1 648.0 L611.4 647.8 L611.7 647.6 L612.1 648.0 L612.4 647.8 L612.7 647.8 L613.0 647.8 L613.4 647.9 L613.7 647.9 L614.0 648.2 L614.3 648.3 L614.7 648.6 L615.0 648.1 L615.3 647.9 L615.6 647.7 L616.0 647.8 L616.3 647.8 L616.6 648.2 L616.9 648.5 L617.3 648.8 L617.6 648.3 L617.9 648.1 L618.3 648.3 L618.6 648.7 L618.9 648.8 L619.2 648.6 L619.6 648.9 L619.9 649.2 L620.2 649.2 L620.5 649.5 L620.9 649.5 L621.2 649.6 L621.5 649.6 L621.8 650.0 L622.2 650.3 L622.5 650.3 L622.8 650.1 L623.1 650.5 L623.5 650.4 L623.8 650.2 L624.1 650.4 L624.4 650.7 L624.8 651.1 L625.1 651.0 L625.4 651.0 L625.7 651.5 L626.1 651.9 L626.4 651.6 L626.7 651.9 L627.0 651.8 L627.4 652.6 L627.7 652.5 L628.0 652.7 L628.3 653.0" stroke="#6a3fa0" stroke-width="0.9" fill="none" stroke-linejoin="round"/>
<line x1="519.65" y1="678.70" x2="628.75" y2="678.70" stroke="#444" stroke-width="1.3"/>
<line x1="530.80" y1="678.70" x2="530.80" y2="681.60" stroke="#444" stroke-width="0.9"/>
<line x1="574.20" y1="678.70" x2="574.20" y2="681.60" stroke="#444" stroke-width="0.9"/>
<line x1="617.60" y1="678.70" x2="617.60" y2="681.60" stroke="#444" stroke-width="0.9"/>
<text x="574.2" y="448.2" text-anchor="middle">Ovulation</text>
<text x="574.2" y="458.2" text-anchor="middle">start</text>
<line x1="574.20" y1="464.50" x2="574.20" y2="468.40" stroke="#cf8fca" stroke-width="0.9"/><polygon points="574.20,472.40 572.10,468.40 574.20,468.40 576.30,468.40" fill="#cf8fca"/>
<line x1="692.20" y1="474.00" x2="692.20" y2="678.00" stroke="#b9a9b9" stroke-width="0.8" stroke-dasharray="1 2.4"/>
<path d="M638.0 541.9 L638.3 542.3 L638.6 542.1 L638.9 541.9 L639.3 541.5 L639.6 539.5 L639.9 539.1 L640.2 540.2 L640.6 539.9 L640.9 539.2 L641.2 539.3 L641.5 539.6 L641.9 541.2 L642.2 540.8 L642.5 539.7 L642.8 540.5 L643.2 539.3 L643.5 538.3 L643.8 539.4 L644.1 537.9 L644.5 535.6 L644.8 537.9 L645.1 541.1 L645.4 539.9 L645.8 537.9 L646.1 538.5 L646.4 538.4 L646.7 538.5 L647.1 538.4 L647.4 538.2 L647.7 537.6 L648.0 536.5 L648.4 537.6 L648.7 538.4 L649.0 537.8 L649.3 538.1 L649.7 537.8 L650.0 538.0 L650.3 537.8 L650.6 538.5 L651.0 539.4 L651.3 540.6 L651.6 541.7 L651.9 539.4 L652.3 538.3 L652.6 538.2 L652.9 536.8 L653.2 536.5 L653.6 535.7 L653.9 537.3 L654.2 539.3 L654.6 536.2 L654.9 536.2 L655.2 535.9 L655.5 537.2 L655.9 538.9 L656.2 538.1 L656.5 535.8 L656.8 535.2 L657.2 536.8 L657.5 536.5 L657.8 535.2 L658.1 535.7 L658.5 535.1 L658.8 535.8 L659.1 535.2 L659.4 532.5 L659.8 534.5 L660.1 535.7 L660.4 535.9 L660.7 535.8 L661.1 533.9 L661.4 532.3 L661.7 533.4 L662.0 535.3 L662.4 534.0 L662.7 533.2 L663.0 533.0 L663.3 531.4 L663.7 531.0 L664.0 533.6 L664.3 532.3 L664.6 532.2 L665.0 533.4 L665.3 532.1 L665.6 532.2 L665.9 532.3 L666.3 532.5 L666.6 534.5 L666.9 534.6 L667.2 533.5 L667.6 534.4 L667.9 533.7 L668.2 532.9 L668.5 533.2 L668.9 531.5 L669.2 530.3 L669.5 533.8 L669.8 534.9 L670.2 533.8 L670.5 534.0 L670.8 531.5 L671.2 530.8 L671.5 531.4 L671.8 530.7 L672.1 532.5 L672.5 533.8 L672.8 532.3 L673.1 530.9 L673.4 531.2 L673.8 531.1 L674.1 530.0 L674.4 530.0 L674.7 529.0 L675.1 528.7 L675.4 528.0 L675.7 529.2 L676.0 530.8 L676.4 532.3 L676.7 532.5 L677.0 530.1 L677.3 530.9 L677.7 532.4 L678.0 530.1 L678.3 529.6 L678.6 529.3 L679.0 526.8 L679.3 525.6 L679.6 529.1 L679.9 530.2 L680.3 528.9 L680.6 529.1 L680.9 529.7 L681.2 529.5 L681.6 531.4 L681.9 529.9 L682.2 527.5 L682.5 526.4 L682.9 528.9 L683.2 529.9 L683.5 527.3 L683.8 527.4 L684.2 529.7 L684.5 531.1 L684.8 529.3 L685.1 529.3 L685.5 531.3 L685.8 528.6 L686.1 529.2 L686.4 530.0 L686.8 527.8 L687.1 528.7 L687.4 528.7 L687.8 529.9 L688.1 530.6 L688.4 529.0 L688.7 529.0 L689.1 529.6 L689.4 531.3 L689.7 531.5 L690.0 528.5 L690.4 526.6 L690.7 526.7 L691.0 527.2 L691.3 526.7 L691.7 525.7 L692.0 527.3 L692.3 527.1 L692.6 524.7 L693.0 526.1 L693.3 525.0 L693.6 524.2 L693.9 523.7 L694.3 521.8 L694.6 521.9 L694.9 523.0 L695.2 521.8 L695.6 520.9 L695.9 521.7 L696.2 520.0 L696.5 520.0 L696.9 520.3 L697.2 518.0 L697.5 518.4 L697.8 520.2 L698.2 518.9 L698.5 518.1 L698.8 517.9 L699.1 518.2 L699.5 518.8 L699.8 519.9 L700.1 520.2 L700.4 518.2 L700.8 517.1 L701.1 516.8 L701.4 515.7 L701.7 516.5 L702.1 517.1 L702.4 516.4 L702.7 515.9 L703.0 515.8 L703.4 515.5 L703.7 515.3 L704.0 515.4 L704.4 513.9 L704.7 513.3 L705.0 512.9 L705.3 513.0 L705.7 513.3 L706.0 514.9 L706.3 515.6 L706.6 514.7 L707.0 514.5 L707.3 515.4 L707.6 516.7 L707.9 516.3 L708.3 515.1 L708.6 515.5 L708.9 514.0 L709.2 513.9 L709.6 514.3 L709.9 512.3 L710.2 513.0 L710.5 513.8 L710.9 513.4 L711.2 511.4 L711.5 510.2 L711.8 510.9 L712.2 511.6 L712.5 509.5 L712.8 509.9 L713.1 510.7 L713.5 509.2 L713.8 508.1 L714.1 509.8 L714.4 510.4 L714.8 510.0 L715.1 511.7 L715.4 512.9 L715.7 510.5 L716.1 509.9 L716.4 510.5 L716.7 511.3 L717.0 511.0 L717.4 509.2 L717.7 507.6 L718.0 507.3 L718.3 507.4 L718.7 507.9 L719.0 506.4 L719.3 505.3 L719.7 509.2 L720.0 510.5 L720.3 508.5 L720.6 508.4 L721.0 507.3 L721.3 505.8 L721.6 506.4 L721.9 507.0 L722.3 505.3 L722.6 505.3 L722.9 507.9 L723.2 509.7 L723.6 508.2 L723.9 506.9 L724.2 508.1 L724.5 507.7 L724.9 506.7 L725.2 508.0 L725.5 507.2 L725.8 507.3 L726.2 507.2 L726.5 507.5 L726.8 508.3 L727.1 505.9 L727.5 506.3 L727.8 508.2 L728.1 504.8 L728.4 504.8 L728.8 507.4 L729.1 508.4 L729.4 506.9 L729.7 507.4 L730.1 509.3 L730.4 507.9 L730.7 505.5 L731.0 503.5 L731.4 503.7 L731.7 505.2 L732.0 506.3 L732.3 506.0 L732.7 503.8 L733.0 504.3 L733.3 504.4 L733.6 505.7 L734.0 506.5 L734.3 506.1 L734.6 505.5 L734.9 505.8 L735.3 506.5 L735.6 506.2 L735.9 506.0 L736.3 506.8 L736.6 508.1 L736.9 505.9 L737.2 505.4 L737.6 507.1 L737.9 505.2 L738.2 503.4 L738.5 503.8 L738.9 505.1 L739.2 504.5 L739.5 503.8 L739.8 502.7 L740.2 503.8 L740.5 505.2 L740.8 506.3 L741.1 507.5 L741.5 507.5 L741.8 507.9 L742.1 506.1 L742.4 504.7 L742.8 505.7 L743.1 503.4 L743.4 502.5 L743.7 503.3 L744.1 502.9 L744.4 504.4 L744.7 505.6 L745.0 504.3 L745.4 503.8 L745.7 503.0 L746.0 502.3 L746.3 503.2 L746.3 509.8 L746.0 508.9 L745.7 509.5 L745.4 510.4 L745.0 510.9 L744.7 512.2 L744.4 511.0 L744.1 509.5 L743.7 509.9 L743.4 509.1 L743.1 510.0 L742.8 512.3 L742.4 511.3 L742.1 512.7 L741.8 514.5 L741.5 514.1 L741.1 514.1 L740.8 512.9 L740.5 511.8 L740.2 510.4 L739.8 509.3 L739.5 510.4 L739.2 511.1 L738.9 511.7 L738.5 510.3 L738.2 509.9 L737.9 511.8 L737.6 513.7 L737.2 511.9 L736.9 512.5 L736.6 514.6 L736.3 513.4 L735.9 512.6 L735.6 512.8 L735.3 513.1 L734.9 512.4 L734.6 512.0 L734.3 512.7 L734.0 513.1 L733.6 512.3 L733.3 510.9 L733.0 510.9 L732.7 510.4 L732.3 512.6 L732.0 512.9 L731.7 511.7 L731.4 510.2 L731.0 510.1 L730.7 512.0 L730.4 514.5 L730.1 515.9 L729.7 514.0 L729.4 513.5 L729.1 515.0 L728.8 514.0 L728.4 511.4 L728.1 511.4 L727.8 514.8 L727.5 512.9 L727.1 512.4 L726.8 514.8 L726.5 514.1 L726.2 513.8 L725.8 513.9 L725.5 513.8 L725.2 514.6 L724.9 513.3 L724.5 514.3 L724.2 514.7 L723.9 513.5 L723.6 514.8 L723.2 516.3 L722.9 514.4 L722.6 511.9 L722.3 511.9 L721.9 513.6 L721.6 513.0 L721.3 512.4 L721.0 513.9 L720.6 514.9 L720.3 515.1 L720.0 517.0 L719.7 515.7 L719.3 511.9 L719.0 513.0 L718.7 514.5 L718.3 514.0 L718.0 513.9 L717.7 514.2 L717.4 515.8 L717.0 517.5 L716.7 517.9 L716.4 517.1 L716.1 516.5 L715.7 517.1 L715.4 519.5 L715.1 518.2 L714.8 516.6 L714.4 517.0 L714.1 516.4 L713.8 514.7 L713.5 515.8 L713.1 517.3 L712.8 516.5 L712.5 516.1 L712.2 518.2 L711.8 517.5 L711.5 516.8 L711.2 518.0 L710.9 520.0 L710.5 520.4 L710.2 519.6 L709.9 518.9 L709.6 520.9 L709.2 520.4 L708.9 520.6 L708.6 522.1 L708.3 521.7 L707.9 522.9 L707.6 523.3 L707.3 522.0 L707.0 521.1 L706.6 521.3 L706.3 522.2 L706.0 521.5 L705.7 519.9 L705.3 519.6 L705.0 519.5 L704.7 519.8 L704.4 520.5 L704.0 522.0 L703.7 521.8 L703.4 522.1 L703.0 522.3 L702.7 522.5 L702.4 523.0 L702.1 523.7 L701.7 523.0 L701.4 522.3 L701.1 523.3 L700.8 523.7 L700.4 524.8 L700.1 526.8 L699.8 526.5 L699.5 525.4 L699.1 524.7 L698.8 524.4 L698.5 524.6 L698.2 525.5 L697.8 526.8 L697.5 524.9 L697.2 524.5 L696.9 526.9 L696.5 526.6 L696.2 526.6 L695.9 528.3 L695.6 527.5 L695.2 528.4 L694.9 529.6 L694.6 528.5 L694.3 528.4 L693.9 530.2 L693.6 530.7 L693.3 531.5 L693.0 532.6 L692.6 531.3 L692.3 533.6 L692.0 533.9 L691.7 532.3 L691.3 533.3 L691.0 533.7 L690.7 533.3 L690.4 533.1 L690.0 535.1 L689.7 538.1 L689.4 537.9 L689.1 536.2 L688.7 535.5 L688.4 535.6 L688.1 537.2 L687.8 536.5 L687.4 535.3 L687.1 535.2 L686.8 534.4 L686.4 536.6 L686.1 535.8 L685.8 535.2 L685.5 537.9 L685.1 535.9 L684.8 535.9 L684.5 537.7 L684.2 536.3 L683.8 534.0 L683.5 533.9 L683.2 536.5 L682.9 535.5 L682.5 533.0 L682.2 534.1 L681.9 536.4 L681.6 537.9 L681.2 536.0 L680.9 536.3 L680.6 535.7 L680.3 535.5 L679.9 536.8 L679.6 535.6 L679.3 532.2 L679.0 533.4 L678.6 535.9 L678.3 536.1 L678.0 536.7 L677.7 539.0 L677.3 537.4 L677.0 536.7 L676.7 539.1 L676.4 538.9 L676.0 537.3 L675.7 535.8 L675.4 534.6 L675.1 535.3 L674.7 535.6 L674.4 536.6 L674.1 536.6 L673.8 537.7 L673.4 537.8 L673.1 537.5 L672.8 538.9 L672.5 540.4 L672.1 539.1 L671.8 537.3 L671.5 538.0 L671.2 537.4 L670.8 538.0 L670.5 540.6 L670.2 540.3 L669.8 541.5 L669.5 540.4 L669.2 536.9 L668.9 538.0 L668.5 539.8 L668.2 539.4 L667.9 540.3 L667.6 541.0 L667.2 540.0 L666.9 541.2 L666.6 541.1 L666.3 539.1 L665.9 538.9 L665.6 538.8 L665.3 538.7 L665.0 540.0 L664.6 538.8 L664.3 538.9 L664.0 540.2 L663.7 537.6 L663.3 538.0 L663.0 539.6 L662.7 539.7 L662.4 540.6 L662.0 541.9 L661.7 540.0 L661.4 538.9 L661.1 540.4 L660.7 542.4 L660.4 542.5 L660.1 542.3 L659.8 541.1 L659.4 539.0 L659.1 541.8 L658.8 542.3 L658.5 541.7 L658.1 542.3 L657.8 541.8 L657.5 543.1 L657.2 543.3 L656.8 541.8 L656.5 542.4 L656.2 544.7 L655.9 545.5 L655.5 543.8 L655.2 542.5 L654.9 542.7 L654.6 542.8 L654.2 545.9 L653.9 543.8 L653.6 542.3 L653.2 543.1 L652.9 543.4 L652.6 544.8 L652.3 544.9 L651.9 546.0 L651.6 548.2 L651.3 547.1 L651.0 546.0 L650.6 545.1 L650.3 544.4 L650.0 544.6 L649.7 544.4 L649.3 544.6 L649.0 544.4 L648.7 544.9 L648.4 544.2 L648.0 543.1 L647.7 544.2 L647.4 544.8 L647.1 545.0 L646.7 545.0 L646.4 545.0 L646.1 545.0 L645.8 544.5 L645.4 546.5 L645.1 547.7 L644.8 544.5 L644.5 542.2 L644.1 544.5 L643.8 546.0 L643.5 544.9 L643.2 545.9 L642.8 547.1 L642.5 546.3 L642.2 547.3 L641.9 547.8 L641.5 546.2 L641.2 545.9 L640.9 545.8 L640.6 546.5 L640.2 546.8 L639.9 545.7 L639.6 546.1 L639.3 548.1 L638.9 548.5 L638.6 548.7 L638.3 548.9 L638.0 548.5 Z" fill="#e9e9e9" stroke="none"/>
<path d="M638.0 545.2 L638.3 545.6 L638.6 545.4 L638.9 545.2 L639.3 544.8 L639.6 542.8 L639.9 542.4 L640.2 543.5 L640.6 543.2 L640.9 542.5 L641.2 542.6 L641.5 542.9 L641.9 544.5 L642.2 544.0 L642.5 543.0 L642.8 543.8 L643.2 542.6 L643.5 541.6 L643.8 542.7 L644.1 541.2 L644.5 538.9 L644.8 541.2 L645.1 544.4 L645.4 543.2 L645.8 541.2 L646.1 541.8 L646.4 541.7 L646.7 541.8 L647.1 541.7 L647.4 541.5 L647.7 540.9 L648.0 539.8 L648.4 540.9 L648.7 541.6 L649.0 541.1 L649.3 541.4 L649.7 541.1 L650.0 541.3 L650.3 541.1 L650.6 541.8 L651.0 542.7 L651.3 543.9 L651.6 544.9 L651.9 542.7 L652.3 541.6 L652.6 541.5 L652.9 540.1 L653.2 539.8 L653.6 539.0 L653.9 540.6 L654.2 542.6 L654.6 539.5 L654.9 539.5 L655.2 539.2 L655.5 540.5 L655.9 542.2 L656.2 541.4 L656.5 539.1 L656.8 538.5 L657.2 540.1 L657.5 539.8 L657.8 538.5 L658.1 539.0 L658.5 538.4 L658.8 539.0 L659.1 538.5 L659.4 535.8 L659.8 537.8 L660.1 539.0 L660.4 539.2 L660.7 539.1 L661.1 537.1 L661.4 535.6 L661.7 536.7 L662.0 538.6 L662.4 537.3 L662.7 536.4 L663.0 536.3 L663.3 534.7 L663.7 534.3 L664.0 536.9 L664.3 535.6 L664.6 535.5 L665.0 536.7 L665.3 535.4 L665.6 535.5 L665.9 535.6 L666.3 535.8 L666.6 537.8 L666.9 537.9 L667.2 536.8 L667.6 537.7 L667.9 537.0 L668.2 536.2 L668.5 536.5 L668.9 534.7 L669.2 533.6 L669.5 537.1 L669.8 538.2 L670.2 537.0 L670.5 537.3 L670.8 534.7 L671.2 534.1 L671.5 534.7 L671.8 534.0 L672.1 535.8 L672.5 537.1 L672.8 535.6 L673.1 534.2 L673.4 534.5 L673.8 534.4 L674.1 533.3 L674.4 533.3 L674.7 532.3 L675.1 532.0 L675.4 531.3 L675.7 532.5 L676.0 534.1 L676.4 535.6 L676.7 535.8 L677.0 533.4 L677.3 534.2 L677.7 535.7 L678.0 533.4 L678.3 532.8 L678.6 532.6 L679.0 530.1 L679.3 528.9 L679.6 532.3 L679.9 533.5 L680.3 532.2 L680.6 532.4 L680.9 533.0 L681.2 532.7 L681.6 534.7 L681.9 533.1 L682.2 530.8 L682.5 529.7 L682.9 532.2 L683.2 533.2 L683.5 530.6 L683.8 530.7 L684.2 533.0 L684.5 534.4 L684.8 532.6 L685.1 532.6 L685.5 534.6 L685.8 531.9 L686.1 532.5 L686.4 533.3 L686.8 531.1 L687.1 531.9 L687.4 532.0 L687.8 533.2 L688.1 533.9 L688.4 532.3 L688.7 532.2 L689.1 532.9 L689.4 534.6 L689.7 534.8 L690.0 531.8 L690.4 529.9 L690.7 530.0 L691.0 530.4 L691.3 530.0 L691.7 529.0 L692.0 530.6 L692.3 530.3 L692.6 528.0 L693.0 529.3 L693.3 528.2 L693.6 527.4 L693.9 526.9 L694.3 525.1 L694.6 525.2 L694.9 526.3 L695.2 525.1 L695.6 524.2 L695.9 525.0 L696.2 523.3 L696.5 523.3 L696.9 523.6 L697.2 521.3 L697.5 521.6 L697.8 523.5 L698.2 522.2 L698.5 521.4 L698.8 521.1 L699.1 521.4 L699.5 522.1 L699.8 523.2 L700.1 523.5 L700.4 521.5 L700.8 520.4 L701.1 520.1 L701.4 519.0 L701.7 519.8 L702.1 520.4 L702.4 519.7 L702.7 519.2 L703.0 519.0 L703.4 518.8 L703.7 518.6 L704.0 518.7 L704.4 517.2 L704.7 516.5 L705.0 516.2 L705.3 516.3 L705.7 516.6 L706.0 518.2 L706.3 518.9 L706.6 518.0 L707.0 517.8 L707.3 518.7 L707.6 520.0 L707.9 519.6 L708.3 518.4 L708.6 518.8 L708.9 517.3 L709.2 517.2 L709.6 517.6 L709.9 515.6 L710.2 516.3 L710.5 517.1 L710.9 516.7 L711.2 514.7 L711.5 513.5 L711.8 514.2 L712.2 514.9 L712.5 512.8 L712.8 513.2 L713.1 514.0 L713.5 512.5 L713.8 511.4 L714.1 513.1 L714.4 513.7 L714.8 513.3 L715.1 514.9 L715.4 516.2 L715.7 513.8 L716.1 513.2 L716.4 513.8 L716.7 514.6 L717.0 514.2 L717.4 512.5 L717.7 510.9 L718.0 510.6 L718.3 510.7 L718.7 511.2 L719.0 509.7 L719.3 508.6 L719.7 512.5 L720.0 513.8 L720.3 511.8 L720.6 511.6 L721.0 510.6 L721.3 509.1 L721.6 509.7 L721.9 510.3 L722.3 508.6 L722.6 508.6 L722.9 511.2 L723.2 513.0 L723.6 511.5 L723.9 510.2 L724.2 511.4 L724.5 511.0 L724.9 510.0 L725.2 511.3 L725.5 510.5 L725.8 510.6 L726.2 510.5 L726.5 510.8 L726.8 511.5 L727.1 509.2 L727.5 509.6 L727.8 511.5 L728.1 508.1 L728.4 508.1 L728.8 510.7 L729.1 511.7 L729.4 510.2 L729.7 510.7 L730.1 512.6 L730.4 511.2 L730.7 508.8 L731.0 506.8 L731.4 507.0 L731.7 508.5 L732.0 509.6 L732.3 509.3 L732.7 507.1 L733.0 507.6 L733.3 507.7 L733.6 509.0 L734.0 509.8 L734.3 509.4 L734.6 508.7 L734.9 509.1 L735.3 509.8 L735.6 509.5 L735.9 509.3 L736.3 510.1 L736.6 511.4 L736.9 509.2 L737.2 508.7 L737.6 510.4 L737.9 508.5 L738.2 506.6 L738.5 507.0 L738.9 508.4 L739.2 507.8 L739.5 507.1 L739.8 506.0 L740.2 507.1 L740.5 508.5 L740.8 509.6 L741.1 510.8 L741.5 510.8 L741.8 511.2 L742.1 509.4 L742.4 508.0 L742.8 509.0 L743.1 506.7 L743.4 505.8 L743.7 506.6 L744.1 506.2 L744.4 507.7 L744.7 508.9 L745.0 507.6 L745.4 507.1 L745.7 506.3 L746.0 505.6 L746.3 506.5" stroke="#222" stroke-width="0.7" fill="none" stroke-linejoin="round"/>
<path d="M638.0 575.9 L638.3 575.8 L638.6 575.8 L638.9 576.2 L639.3 576.2 L639.6 576.3 L639.9 576.6 L640.2 576.1 L640.6 576.3 L640.9 576.4 L641.2 576.5 L641.5 576.7 L641.9 576.7 L642.2 576.9 L642.5 576.4 L642.8 576.5 L643.2 576.9 L643.5 576.7 L643.8 576.3 L644.1 576.4 L644.5 576.6 L644.8 576.9 L645.1 576.4 L645.4 576.6 L645.8 576.6 L646.1 576.9 L646.4 576.6 L646.7 576.3 L647.1 576.1 L647.4 575.9 L647.7 575.5 L648.0 575.7 L648.4 575.8 L648.7 575.9 L649.0 575.6 L649.3 575.9 L649.7 576.5 L650.0 576.6 L650.3 576.6 L650.6 576.5 L651.0 576.7 L651.3 576.7 L651.6 576.4 L651.9 577.0 L652.3 576.8 L652.6 576.7 L652.9 576.2 L653.2 576.3 L653.6 576.2 L653.9 576.4 L654.2 576.8 L654.6 577.3 L654.9 577.1 L655.2 576.6 L655.5 576.7 L655.9 576.9 L656.2 577.4 L656.5 577.3 L656.8 577.1 L657.2 577.0 L657.5 577.2 L657.8 577.4 L658.1 577.2 L658.5 576.8 L658.8 577.1 L659.1 577.3 L659.4 577.2 L659.8 576.6 L660.1 576.1 L660.4 576.2 L660.7 576.2 L661.1 576.5 L661.4 576.3 L661.7 576.2 L662.0 576.3 L662.4 576.5 L662.7 576.6 L663.0 576.5 L663.3 576.4 L663.7 576.6 L664.0 576.8 L664.3 576.9 L664.6 576.6 L665.0 576.1 L665.3 576.3 L665.6 576.7 L665.9 577.2 L666.3 577.0 L666.6 576.9 L666.9 576.8 L667.2 576.9 L667.6 577.0 L667.9 577.1 L668.2 577.3 L668.5 577.4 L668.9 577.6 L669.2 577.5 L669.5 577.3 L669.8 577.1 L670.2 577.2 L670.5 577.6 L670.8 577.8 L671.2 577.7 L671.5 577.6 L671.8 577.6 L672.1 577.9 L672.5 578.4 L672.8 578.2 L673.1 578.2 L673.4 577.3 L673.8 577.4 L674.1 577.4 L674.4 577.7 L674.7 577.9 L675.1 577.9 L675.4 577.6 L675.7 577.6 L676.0 577.7 L676.4 577.8 L676.7 577.9 L677.0 578.2 L677.3 578.3 L677.7 578.0 L678.0 577.8 L678.3 577.7 L678.6 577.9 L679.0 577.9 L679.3 577.8 L679.6 578.1 L679.9 578.2 L680.3 578.5 L680.6 578.8 L680.9 578.9 L681.2 579.1 L681.6 578.8 L681.9 578.7 L682.2 578.9 L682.5 578.8 L682.9 578.9 L683.2 578.7 L683.5 579.0 L683.8 579.2 L684.2 579.0 L684.5 579.2 L684.8 579.2 L685.1 579.8 L685.5 579.6 L685.8 579.4 L686.1 578.7 L686.4 578.9 L686.8 579.4 L687.1 579.9 L687.4 580.2 L687.8 580.2 L688.1 580.3 L688.4 580.4 L688.7 580.5 L689.1 580.6 L689.4 580.5 L689.7 580.6 L690.0 580.6 L690.4 581.1 L690.7 581.2 L691.0 581.8 L691.3 581.8 L691.7 582.3 L692.0 582.2 L692.3 582.4 L692.6 582.4 L693.0 582.5 L693.3 582.5 L693.6 582.9 L693.9 582.7 L694.3 583.0 L694.6 582.8 L694.9 583.3 L695.2 583.2 L695.6 583.7 L695.9 583.5 L696.2 583.5 L696.5 583.2 L696.9 583.4 L697.2 583.6 L697.5 583.4 L697.8 583.5 L698.2 583.3 L698.5 583.2 L698.8 582.9 L699.1 583.4 L699.5 583.3 L699.8 583.9 L700.1 583.9 L700.4 584.4 L700.8 584.6 L701.1 584.7 L701.4 584.6 L701.7 584.2 L702.1 584.0 L702.4 584.1 L702.7 584.1 L703.0 583.8 L703.4 583.8 L703.7 583.7 L704.0 584.0 L704.4 583.6 L704.7 583.5 L705.0 583.7 L705.3 583.8 L705.7 583.8 L706.0 583.4 L706.3 583.5 L706.6 583.5 L707.0 583.3 L707.3 583.1 L707.6 582.9 L707.9 583.0 L708.3 583.1 L708.6 583.1 L708.9 583.2 L709.2 583.3 L709.6 583.3 L709.9 583.1 L710.2 583.2 L710.5 583.4 L710.9 583.2 L711.2 583.3 L711.5 583.4 L711.8 584.0 L712.2 584.1 L712.5 583.9 L712.8 583.6 L713.1 583.4 L713.5 583.6 L713.8 583.6 L714.1 583.9 L714.4 583.7 L714.8 583.4 L715.1 583.3 L715.4 583.4 L715.7 583.9 L716.1 583.5 L716.4 583.1 L716.7 583.0 L717.0 583.0 L717.4 583.3 L717.7 583.1 L718.0 583.4 L718.3 583.3 L718.7 583.9 L719.0 584.1 L719.3 584.4 L719.7 584.3 L720.0 584.4 L720.3 583.9 L720.6 583.7 L721.0 583.7 L721.3 584.1 L721.6 584.1 L721.9 584.3 L722.3 584.4 L722.6 584.3 L722.9 584.4 L723.2 584.6 L723.6 585.0 L723.9 585.1 L724.2 585.0 L724.5 585.0 L724.9 584.9 L725.2 585.0 L725.5 584.5 L725.8 584.5 L726.2 584.3 L726.5 584.7 L726.8 584.7 L727.1 585.0 L727.5 584.7 L727.8 585.1 L728.1 585.1 L728.4 585.9 L728.8 585.8 L729.1 585.9 L729.4 585.7 L729.7 585.4 L730.1 585.4 L730.4 585.6 L730.7 586.1 L731.0 586.6 L731.4 586.8 L731.7 586.5 L732.0 586.4 L732.3 586.3 L732.7 586.7 L733.0 586.7 L733.3 586.9 L733.6 586.9 L734.0 586.7 L734.3 586.4 L734.6 586.7 L734.9 587.0 L735.3 587.0 L735.6 587.1 L735.9 587.2 L736.3 587.2 L736.6 587.4 L736.9 587.5 L737.2 587.8 L737.6 587.5 L737.9 587.6 L738.2 587.9 L738.5 588.0 L738.9 588.4 L739.2 588.7 L739.5 588.6 L739.8 588.4 L740.2 588.4 L740.5 589.0 L740.8 589.3 L741.1 589.2 L741.5 589.0 L741.8 588.7 L742.1 588.9 L742.4 589.1 L742.8 589.3 L743.1 589.2 L743.4 589.6 L743.7 589.3 L744.1 589.9 L744.4 590.0 L744.7 590.5 L745.0 590.5 L745.4 590.3 L745.7 590.2 L746.0 590.1 L746.3 590.5 L746.3 595.5 L746.0 595.1 L745.7 595.2 L745.4 595.3 L745.0 595.5 L744.7 595.5 L744.4 595.0 L744.1 594.9 L743.7 594.4 L743.4 594.6 L743.1 594.2 L742.8 594.3 L742.4 594.1 L742.1 593.9 L741.8 593.7 L741.5 594.0 L741.1 594.2 L740.8 594.3 L740.5 594.0 L740.2 593.4 L739.8 593.4 L739.5 593.6 L739.2 593.7 L738.9 593.4 L738.5 593.0 L738.2 592.9 L737.9 592.6 L737.6 592.5 L737.2 592.8 L736.9 592.5 L736.6 592.4 L736.3 592.2 L735.9 592.2 L735.6 592.1 L735.3 592.0 L734.9 592.0 L734.6 591.8 L734.3 591.5 L734.0 591.7 L733.6 591.9 L733.3 591.9 L733.0 591.7 L732.7 591.7 L732.3 591.3 L732.0 591.4 L731.7 591.5 L731.4 591.8 L731.0 591.6 L730.7 591.1 L730.4 590.6 L730.1 590.4 L729.7 590.4 L729.4 590.7 L729.1 590.9 L728.8 590.8 L728.4 590.9 L728.1 590.1 L727.8 590.1 L727.5 589.7 L727.1 590.0 L726.8 589.7 L726.5 589.7 L726.2 589.4 L725.8 589.5 L725.5 589.5 L725.2 590.0 L724.9 590.0 L724.5 590.0 L724.2 590.0 L723.9 590.1 L723.6 590.0 L723.2 589.6 L722.9 589.4 L722.6 589.4 L722.3 589.5 L721.9 589.3 L721.6 589.1 L721.3 589.1 L721.0 588.8 L720.6 588.7 L720.3 589.0 L720.0 589.4 L719.7 589.3 L719.3 589.5 L719.0 589.1 L718.7 588.9 L718.3 588.3 L718.0 588.4 L717.7 588.1 L717.4 588.3 L717.0 588.0 L716.7 588.0 L716.4 588.1 L716.1 588.5 L715.7 588.9 L715.4 588.4 L715.1 588.3 L714.8 588.4 L714.4 588.7 L714.1 588.9 L713.8 588.6 L713.5 588.6 L713.1 588.4 L712.8 588.7 L712.5 588.9 L712.2 589.1 L711.8 589.0 L711.5 588.5 L711.2 588.3 L710.9 588.3 L710.5 588.4 L710.2 588.2 L709.9 588.2 L709.6 588.3 L709.2 588.3 L708.9 588.2 L708.6 588.1 L708.3 588.1 L707.9 588.0 L707.6 587.9 L707.3 588.1 L707.0 588.3 L706.6 588.5 L706.3 588.5 L706.0 588.4 L705.7 588.8 L705.3 588.8 L705.0 588.7 L704.7 588.5 L704.4 588.6 L704.0 589.0 L703.7 588.7 L703.4 588.8 L703.0 588.8 L702.7 589.1 L702.4 589.1 L702.1 589.0 L701.7 589.2 L701.4 589.6 L701.1 589.8 L700.8 589.6 L700.4 589.4 L700.1 588.9 L699.8 588.9 L699.5 588.3 L699.1 588.4 L698.8 587.9 L698.5 588.2 L698.2 588.3 L697.8 588.5 L697.5 588.4 L697.2 588.6 L696.9 588.5 L696.5 588.2 L696.2 588.5 L695.9 588.5 L695.6 588.7 L695.2 588.2 L694.9 588.3 L694.6 587.8 L694.3 588.0 L693.9 587.8 L693.6 587.9 L693.3 587.5 L693.0 587.5 L692.6 587.4 L692.3 587.4 L692.0 587.2 L691.7 587.3 L691.3 586.8 L691.0 586.8 L690.7 586.3 L690.4 586.1 L690.0 585.6 L689.7 585.6 L689.4 585.5 L689.1 585.6 L688.7 585.5 L688.4 585.4 L688.1 585.3 L687.8 585.2 L687.4 585.2 L687.1 584.9 L686.8 584.4 L686.4 583.9 L686.1 583.7 L685.8 584.4 L685.5 584.6 L685.1 584.9 L684.8 584.2 L684.5 584.2 L684.2 584.0 L683.8 584.2 L683.5 584.0 L683.2 583.7 L682.9 583.9 L682.5 583.8 L682.2 583.9 L681.9 583.7 L681.6 583.8 L681.2 584.1 L680.9 583.9 L680.6 583.8 L680.3 583.5 L679.9 583.2 L679.6 583.1 L679.3 582.8 L679.0 582.9 L678.6 582.9 L678.3 582.8 L678.0 582.8 L677.7 583.0 L677.3 583.4 L677.0 583.2 L676.7 582.9 L676.4 582.8 L676.0 582.7 L675.7 582.6 L675.4 582.6 L675.1 582.9 L674.7 582.9 L674.4 582.7 L674.1 582.4 L673.8 582.4 L673.4 582.3 L673.1 583.2 L672.8 583.2 L672.5 583.4 L672.1 582.9 L671.8 582.6 L671.5 582.6 L671.2 582.7 L670.8 582.8 L670.5 582.6 L670.2 582.2 L669.8 582.1 L669.5 582.3 L669.2 582.5 L668.9 582.6 L668.5 582.4 L668.2 582.3 L667.9 582.1 L667.6 582.0 L667.2 581.9 L666.9 581.8 L666.6 581.9 L666.3 582.0 L665.9 582.2 L665.6 581.7 L665.3 581.3 L665.0 581.1 L664.6 581.6 L664.3 581.9 L664.0 581.8 L663.7 581.6 L663.3 581.4 L663.0 581.5 L662.7 581.6 L662.4 581.5 L662.0 581.3 L661.7 581.2 L661.4 581.3 L661.1 581.5 L660.7 581.2 L660.4 581.2 L660.1 581.1 L659.8 581.6 L659.4 582.2 L659.1 582.3 L658.8 582.1 L658.5 581.8 L658.1 582.2 L657.8 582.4 L657.5 582.2 L657.2 582.0 L656.8 582.1 L656.5 582.3 L656.2 582.5 L655.9 581.9 L655.5 581.7 L655.2 581.6 L654.9 582.1 L654.6 582.3 L654.2 581.8 L653.9 581.4 L653.6 581.2 L653.2 581.3 L652.9 581.2 L652.6 581.7 L652.3 581.8 L651.9 582.0 L651.6 581.4 L651.3 581.7 L651.0 581.7 L650.6 581.5 L650.3 581.6 L650.0 581.6 L649.7 581.5 L649.3 580.9 L649.0 580.6 L648.7 580.9 L648.4 580.8 L648.0 580.7 L647.7 580.6 L647.4 580.9 L647.1 581.1 L646.7 581.3 L646.4 581.6 L646.1 581.9 L645.8 581.6 L645.4 581.6 L645.1 581.4 L644.8 581.9 L644.5 581.6 L644.1 581.4 L643.8 581.3 L643.5 581.7 L643.2 581.9 L642.8 581.5 L642.5 581.5 L642.2 581.9 L641.9 581.7 L641.5 581.7 L641.2 581.5 L640.9 581.4 L640.6 581.3 L640.2 581.1 L639.9 581.6 L639.6 581.3 L639.3 581.2 L638.9 581.2 L638.6 580.8 L638.3 580.8 L638.0 580.9 Z" fill="#e9e9e9" stroke="none"/>
<path d="M638.0 578.4 L638.3 578.3 L638.6 578.3 L638.9 578.7 L639.3 578.7 L639.6 578.8 L639.9 579.1 L640.2 578.6 L640.6 578.8 L640.9 578.9 L641.2 579.0 L641.5 579.2 L641.9 579.2 L642.2 579.4 L642.5 578.9 L642.8 579.0 L643.2 579.4 L643.5 579.2 L643.8 578.8 L644.1 578.9 L644.5 579.1 L644.8 579.4 L645.1 578.9 L645.4 579.1 L645.8 579.1 L646.1 579.4 L646.4 579.1 L646.7 578.8 L647.1 578.6 L647.4 578.4 L647.7 578.0 L648.0 578.2 L648.4 578.3 L648.7 578.4 L649.0 578.1 L649.3 578.4 L649.7 579.0 L650.0 579.1 L650.3 579.1 L650.6 579.0 L651.0 579.2 L651.3 579.2 L651.6 578.9 L651.9 579.5 L652.3 579.3 L652.6 579.2 L652.9 578.7 L653.2 578.8 L653.6 578.7 L653.9 578.9 L654.2 579.3 L654.6 579.8 L654.9 579.6 L655.2 579.1 L655.5 579.2 L655.9 579.4 L656.2 579.9 L656.5 579.8 L656.8 579.6 L657.2 579.5 L657.5 579.7 L657.8 579.9 L658.1 579.7 L658.5 579.3 L658.8 579.6 L659.1 579.8 L659.4 579.7 L659.8 579.1 L660.1 578.6 L660.4 578.7 L660.7 578.7 L661.1 579.0 L661.4 578.8 L661.7 578.7 L662.0 578.8 L662.4 579.0 L662.7 579.1 L663.0 579.0 L663.3 578.9 L663.7 579.1 L664.0 579.3 L664.3 579.4 L664.6 579.1 L665.0 578.6 L665.3 578.8 L665.6 579.2 L665.9 579.7 L666.3 579.5 L666.6 579.4 L666.9 579.3 L667.2 579.4 L667.6 579.5 L667.9 579.6 L668.2 579.8 L668.5 579.9 L668.9 580.1 L669.2 580.0 L669.5 579.8 L669.8 579.6 L670.2 579.7 L670.5 580.1 L670.8 580.3 L671.2 580.2 L671.5 580.1 L671.8 580.1 L672.1 580.4 L672.5 580.9 L672.8 580.7 L673.1 580.7 L673.4 579.8 L673.8 579.9 L674.1 579.9 L674.4 580.2 L674.7 580.4 L675.1 580.4 L675.4 580.1 L675.7 580.1 L676.0 580.2 L676.4 580.3 L676.7 580.4 L677.0 580.7 L677.3 580.8 L677.7 580.5 L678.0 580.3 L678.3 580.2 L678.6 580.4 L679.0 580.4 L679.3 580.3 L679.6 580.6 L679.9 580.7 L680.3 581.0 L680.6 581.3 L680.9 581.4 L681.2 581.6 L681.6 581.3 L681.9 581.2 L682.2 581.4 L682.5 581.3 L682.9 581.4 L683.2 581.2 L683.5 581.5 L683.8 581.7 L684.2 581.5 L684.5 581.7 L684.8 581.7 L685.1 582.4 L685.5 582.1 L685.8 581.9 L686.1 581.2 L686.4 581.4 L686.8 581.9 L687.1 582.4 L687.4 582.7 L687.8 582.7 L688.1 582.8 L688.4 582.9 L688.7 583.0 L689.1 583.1 L689.4 583.0 L689.7 583.1 L690.0 583.1 L690.4 583.6 L690.7 583.7 L691.0 584.3 L691.3 584.3 L691.7 584.8 L692.0 584.7 L692.3 584.9 L692.6 584.9 L693.0 585.0 L693.3 585.0 L693.6 585.4 L693.9 585.2 L694.3 585.5 L694.6 585.3 L694.9 585.8 L695.2 585.7 L695.6 586.2 L695.9 586.0 L696.2 586.0 L696.5 585.7 L696.9 586.0 L697.2 586.1 L697.5 585.9 L697.8 586.0 L698.2 585.8 L698.5 585.7 L698.8 585.4 L699.1 585.9 L699.5 585.8 L699.8 586.4 L700.1 586.4 L700.4 586.9 L700.8 587.1 L701.1 587.3 L701.4 587.1 L701.7 586.7 L702.1 586.5 L702.4 586.6 L702.7 586.6 L703.0 586.3 L703.4 586.3 L703.7 586.2 L704.0 586.5 L704.4 586.1 L704.7 586.0 L705.0 586.2 L705.3 586.3 L705.7 586.3 L706.0 585.9 L706.3 586.0 L706.6 586.0 L707.0 585.8 L707.3 585.6 L707.6 585.4 L707.9 585.5 L708.3 585.6 L708.6 585.6 L708.9 585.7 L709.2 585.8 L709.6 585.8 L709.9 585.7 L710.2 585.7 L710.5 585.9 L710.9 585.8 L711.2 585.8 L711.5 586.0 L711.8 586.5 L712.2 586.6 L712.5 586.4 L712.8 586.1 L713.1 585.9 L713.5 586.1 L713.8 586.1 L714.1 586.4 L714.4 586.2 L714.8 585.9 L715.1 585.8 L715.4 585.9 L715.7 586.4 L716.1 586.0 L716.4 585.6 L716.7 585.5 L717.0 585.5 L717.4 585.8 L717.7 585.6 L718.0 585.9 L718.3 585.8 L718.7 586.4 L719.0 586.6 L719.3 587.0 L719.7 586.8 L720.0 586.9 L720.3 586.5 L720.6 586.2 L721.0 586.2 L721.3 586.6 L721.6 586.6 L721.9 586.8 L722.3 586.9 L722.6 586.9 L722.9 586.9 L723.2 587.1 L723.6 587.5 L723.9 587.6 L724.2 587.5 L724.5 587.5 L724.9 587.4 L725.2 587.5 L725.5 587.0 L725.8 587.0 L726.2 586.8 L726.5 587.2 L726.8 587.2 L727.1 587.5 L727.5 587.2 L727.8 587.6 L728.1 587.6 L728.4 588.4 L728.8 588.3 L729.1 588.4 L729.4 588.2 L729.7 587.9 L730.1 587.9 L730.4 588.1 L730.7 588.6 L731.0 589.1 L731.4 589.3 L731.7 589.0 L732.0 588.9 L732.3 588.8 L732.7 589.2 L733.0 589.2 L733.3 589.4 L733.6 589.4 L734.0 589.2 L734.3 588.9 L734.6 589.3 L734.9 589.5 L735.3 589.5 L735.6 589.6 L735.9 589.7 L736.3 589.7 L736.6 589.9 L736.9 590.0 L737.2 590.3 L737.6 590.0 L737.9 590.1 L738.2 590.4 L738.5 590.5 L738.9 590.9 L739.2 591.2 L739.5 591.1 L739.8 590.9 L740.2 590.9 L740.5 591.5 L740.8 591.8 L741.1 591.7 L741.5 591.5 L741.8 591.2 L742.1 591.4 L742.4 591.6 L742.8 591.8 L743.1 591.7 L743.4 592.1 L743.7 591.9 L744.1 592.4 L744.4 592.5 L744.7 593.0 L745.0 593.0 L745.4 592.8 L745.7 592.7 L746.0 592.6 L746.3 593.0" stroke="#d6a3cf" stroke-width="0.9" fill="none" stroke-linejoin="round"/>
<path d="M638.0 665.6 L638.3 665.7 L638.6 666.0 L638.9 666.2 L639.3 666.2 L639.6 666.4 L639.9 666.4 L640.2 666.3 L640.6 666.3 L640.9 666.2 L641.2 666.5 L641.5 666.6 L641.9 666.8 L642.2 666.5 L642.5 666.2 L642.8 666.3 L643.2 666.4 L643.5 666.2 L643.8 666.0 L644.1 665.9 L644.5 666.1 L644.8 666.1 L645.1 666.3 L645.4 666.6 L645.8 666.9 L646.1 666.7 L646.4 666.6 L646.7 666.7 L647.1 667.0 L647.4 666.8 L647.7 667.2 L648.0 666.8 L648.4 666.9 L648.7 666.7 L649.0 666.6 L649.3 667.0 L649.7 666.8 L650.0 667.4 L650.3 667.4 L650.6 667.5 L651.0 667.6 L651.3 667.3 L651.6 667.3 L651.9 667.1 L652.3 666.9 L652.6 667.0 L652.9 666.8 L653.2 666.8 L653.6 666.7 L653.9 666.5 L654.2 666.2 L654.6 665.9 L654.9 665.5 L655.2 665.4 L655.5 664.9 L655.9 665.4 L656.2 665.4 L656.5 665.6 L656.8 665.7 L657.2 665.8 L657.5 665.9 L657.8 665.7 L658.1 665.3 L658.5 665.1 L658.8 664.6 L659.1 664.7 L659.4 664.9 L659.8 665.1 L660.1 664.9 L660.4 664.4 L660.7 664.4 L661.1 664.5 L661.4 664.4 L661.7 664.3 L662.0 663.9 L662.4 663.7 L662.7 663.5 L663.0 663.5 L663.3 663.6 L663.7 663.6 L664.0 663.1 L664.3 663.0 L664.6 663.0 L665.0 663.3 L665.3 663.2 L665.6 662.7 L665.9 662.8 L666.3 662.8 L666.6 662.9 L666.9 663.1 L667.2 662.8 L667.6 662.5 L667.9 662.3 L668.2 662.3 L668.5 662.4 L668.9 661.9 L669.2 661.6 L669.5 661.7 L669.8 661.7 L670.2 661.5 L670.5 661.3 L670.8 661.1 L671.2 660.9 L671.5 660.6 L671.8 660.8 L672.1 660.9 L672.5 660.9 L672.8 660.6 L673.1 660.4 L673.4 660.2 L673.8 660.5 L674.1 660.6 L674.4 660.6 L674.7 660.1 L675.1 660.2 L675.4 660.2 L675.7 660.5 L676.0 660.0 L676.4 659.7 L676.7 659.5 L677.0 659.3 L677.3 659.4 L677.7 659.2 L678.0 659.4 L678.3 659.1 L678.6 659.1 L679.0 659.1 L679.3 659.0 L679.6 659.1 L679.9 658.8 L680.3 658.8 L680.6 658.3 L680.9 658.3 L681.2 658.3 L681.6 658.5 L681.9 658.3 L682.2 658.1 L682.5 657.9 L682.9 658.0 L683.2 657.6 L683.5 657.6 L683.8 657.2 L684.2 657.4 L684.5 657.0 L684.8 656.9 L685.1 656.6 L685.5 656.9 L685.8 656.8 L686.1 656.1 L686.4 656.1 L686.8 655.9 L687.1 656.1 L687.4 655.9 L687.8 655.5 L688.1 655.3 L688.4 655.5 L688.7 655.5 L689.1 655.5 L689.4 655.2 L689.7 655.4 L690.0 655.3 L690.4 654.7 L690.7 654.5 L691.0 654.6 L691.3 654.3 L691.7 654.0 L692.0 653.8 L692.3 653.7 L692.6 653.5 L693.0 653.4 L693.3 653.3 L693.6 653.3 L693.9 653.1 L694.3 652.9 L694.6 652.8 L694.9 652.2 L695.2 651.9 L695.6 651.4 L695.9 651.5 L696.2 651.8 L696.5 652.1 L696.9 652.2 L697.2 651.9 L697.5 651.8 L697.8 651.5 L698.2 651.7 L698.5 651.6 L698.8 652.1 L699.1 652.3 L699.5 652.7 L699.8 652.5 L700.1 652.3 L700.4 652.1 L700.8 652.4 L701.1 652.1 L701.4 652.4 L701.7 652.3 L702.1 652.1 L702.4 651.6 L702.7 651.7 L703.0 651.8 L703.4 652.1 L703.7 652.0 L704.0 652.1 L704.4 652.1 L704.7 651.5 L705.0 651.3 L705.3 651.2 L705.7 651.6 L706.0 651.4 L706.3 651.6 L706.6 651.2 L707.0 651.2 L707.3 651.3 L707.6 651.7 L707.9 652.0 L708.3 651.9 L708.6 651.7 L708.9 651.7 L709.2 651.5 L709.6 651.5 L709.9 651.4 L710.2 651.3 L710.5 651.3 L710.9 651.3 L711.2 651.6 L711.5 651.8 L711.8 651.9 L712.2 651.8 L712.5 651.6 L712.8 651.4 L713.1 651.2 L713.5 650.8 L713.8 650.8 L714.1 651.0 L714.4 651.1 L714.8 650.9 L715.1 650.7 L715.4 650.6 L715.7 650.6 L716.1 650.6 L716.4 650.9 L716.7 650.8 L717.0 650.7 L717.4 650.9 L717.7 651.1 L718.0 651.1 L718.3 650.6 L718.7 650.1 L719.0 649.9 L719.3 649.8 L719.7 650.0 L720.0 650.2 L720.3 650.4 L720.6 650.3 L721.0 650.1 L721.3 650.0 L721.6 650.5 L721.9 650.5 L722.3 650.5 L722.6 650.3 L722.9 650.2 L723.2 650.1 L723.6 650.1 L723.9 650.0 L724.2 650.3 L724.5 649.9 L724.9 649.7 L725.2 649.4 L725.5 649.1 L725.8 649.1 L726.2 649.1 L726.5 649.3 L726.8 649.0 L727.1 648.7 L727.5 648.5 L727.8 648.8 L728.1 648.6 L728.4 648.6 L728.8 648.2 L729.1 648.0 L729.4 647.8 L729.7 648.0 L730.1 647.8 L730.4 648.2 L730.7 648.0 L731.0 647.7 L731.4 647.5 L731.7 647.7 L732.0 647.9 L732.3 647.5 L732.7 647.4 L733.0 647.2 L733.3 647.1 L733.6 646.7 L734.0 646.7 L734.3 646.7 L734.6 646.7 L734.9 646.4 L735.3 646.4 L735.6 646.2 L735.9 646.5 L736.3 646.5 L736.6 646.3 L736.9 646.0 L737.2 646.1 L737.6 646.1 L737.9 646.3 L738.2 646.1 L738.5 646.1 L738.9 646.2 L739.2 645.8 L739.5 646.0 L739.8 645.6 L740.2 645.2 L740.5 645.3 L740.8 645.4 L741.1 645.7 L741.5 645.5 L741.8 645.6 L742.1 645.8 L742.4 645.6 L742.8 645.5 L743.1 645.1 L743.4 645.0 L743.7 644.8 L744.1 644.7 L744.4 644.6 L744.7 644.9 L745.0 645.2 L745.4 645.4 L745.7 645.3 L746.0 644.7 L746.3 644.3 L746.3 650.0 L746.0 650.4 L745.7 651.0 L745.4 651.1 L745.0 650.9 L744.7 650.6 L744.4 650.3 L744.1 650.4 L743.7 650.5 L743.4 650.7 L743.1 650.8 L742.8 651.2 L742.4 651.3 L742.1 651.5 L741.8 651.3 L741.5 651.2 L741.1 651.4 L740.8 651.1 L740.5 651.0 L740.2 650.9 L739.8 651.3 L739.5 651.7 L739.2 651.5 L738.9 651.9 L738.5 651.8 L738.2 651.8 L737.9 652.0 L737.6 651.8 L737.2 651.8 L736.9 651.7 L736.6 652.0 L736.3 652.2 L735.9 652.2 L735.6 651.9 L735.3 652.1 L734.9 652.1 L734.6 652.4 L734.3 652.4 L734.0 652.4 L733.6 652.4 L733.3 652.8 L733.0 652.9 L732.7 653.1 L732.3 653.2 L732.0 653.6 L731.7 653.4 L731.4 653.2 L731.0 653.4 L730.7 653.7 L730.4 653.9 L730.1 653.5 L729.7 653.7 L729.4 653.5 L729.1 653.7 L728.8 653.9 L728.4 654.3 L728.1 654.3 L727.8 654.5 L727.5 654.2 L727.1 654.4 L726.8 654.7 L726.5 655.0 L726.2 654.8 L725.8 654.8 L725.5 654.8 L725.2 655.1 L724.9 655.4 L724.5 655.6 L724.2 656.0 L723.9 655.7 L723.6 655.8 L723.2 655.8 L722.9 655.9 L722.6 656.0 L722.3 656.2 L721.9 656.2 L721.6 656.2 L721.3 655.7 L721.0 655.8 L720.6 656.0 L720.3 656.1 L720.0 655.9 L719.7 655.7 L719.3 655.5 L719.0 655.6 L718.7 655.8 L718.3 656.3 L718.0 656.8 L717.7 656.8 L717.4 656.6 L717.0 656.4 L716.7 656.5 L716.4 656.6 L716.1 656.3 L715.7 656.3 L715.4 656.3 L715.1 656.4 L714.8 656.6 L714.4 656.8 L714.1 656.7 L713.8 656.5 L713.5 656.5 L713.1 656.9 L712.8 657.1 L712.5 657.3 L712.2 657.5 L711.8 657.6 L711.5 657.5 L711.2 657.3 L710.9 657.0 L710.5 657.0 L710.2 657.0 L709.9 657.1 L709.6 657.2 L709.2 657.2 L708.9 657.4 L708.6 657.4 L708.3 657.6 L707.9 657.7 L707.6 657.4 L707.3 657.0 L707.0 656.9 L706.6 656.9 L706.3 657.3 L706.0 657.1 L705.7 657.3 L705.3 656.9 L705.0 657.0 L704.7 657.2 L704.4 657.8 L704.0 657.8 L703.7 657.7 L703.4 657.8 L703.0 657.5 L702.7 657.4 L702.4 657.3 L702.1 657.8 L701.7 658.0 L701.4 658.1 L701.1 657.8 L700.8 658.1 L700.4 657.8 L700.1 658.0 L699.8 658.2 L699.5 658.4 L699.1 658.0 L698.8 657.8 L698.5 657.3 L698.2 657.4 L697.8 657.2 L697.5 657.5 L697.2 657.6 L696.9 657.9 L696.5 657.8 L696.2 657.5 L695.9 657.2 L695.6 657.1 L695.2 657.6 L694.9 657.9 L694.6 658.5 L694.3 658.6 L693.9 658.8 L693.6 659.0 L693.3 659.0 L693.0 659.1 L692.6 659.2 L692.3 659.4 L692.0 659.5 L691.7 659.7 L691.3 660.0 L691.0 660.3 L690.7 660.2 L690.4 660.4 L690.0 661.0 L689.7 661.1 L689.4 660.9 L689.1 661.2 L688.7 661.2 L688.4 661.2 L688.1 661.0 L687.8 661.2 L687.4 661.6 L687.1 661.8 L686.8 661.6 L686.4 661.8 L686.1 661.8 L685.8 662.5 L685.5 662.6 L685.1 662.3 L684.8 662.6 L684.5 662.7 L684.2 663.1 L683.8 662.9 L683.5 663.3 L683.2 663.3 L682.9 663.7 L682.5 663.6 L682.2 663.8 L681.9 664.0 L681.6 664.2 L681.2 664.0 L680.9 664.0 L680.6 664.0 L680.3 664.5 L679.9 664.5 L679.6 664.8 L679.3 664.7 L679.0 664.8 L678.6 664.8 L678.3 664.8 L678.0 665.1 L677.7 664.9 L677.3 665.1 L677.0 665.0 L676.7 665.2 L676.4 665.4 L676.0 665.7 L675.7 666.2 L675.4 665.9 L675.1 665.9 L674.7 665.8 L674.4 666.3 L674.1 666.3 L673.8 666.2 L673.4 665.9 L673.1 666.1 L672.8 666.3 L672.5 666.6 L672.1 666.6 L671.8 666.5 L671.5 666.3 L671.2 666.6 L670.8 666.8 L670.5 667.0 L670.2 667.2 L669.8 667.4 L669.5 667.4 L669.2 667.3 L668.9 667.6 L668.5 668.1 L668.2 668.0 L667.9 668.0 L667.6 668.2 L667.2 668.5 L666.9 668.8 L666.6 668.6 L666.3 668.5 L665.9 668.5 L665.6 668.4 L665.3 668.9 L665.0 669.0 L664.6 668.7 L664.3 668.7 L664.0 668.8 L663.7 669.3 L663.3 669.3 L663.0 669.2 L662.7 669.2 L662.4 669.4 L662.0 669.6 L661.7 670.0 L661.4 670.1 L661.1 670.2 L660.7 670.1 L660.4 670.1 L660.1 670.6 L659.8 670.8 L659.4 670.6 L659.1 670.4 L658.8 670.3 L658.5 670.8 L658.1 671.0 L657.8 671.4 L657.5 671.6 L657.2 671.5 L656.8 671.4 L656.5 671.3 L656.2 671.1 L655.9 671.1 L655.5 670.6 L655.2 671.1 L654.9 671.2 L654.6 671.6 L654.2 671.9 L653.9 672.2 L653.6 672.4 L653.2 672.5 L652.9 672.5 L652.6 672.7 L652.3 672.6 L651.9 672.8 L651.6 673.0 L651.3 673.0 L651.0 673.3 L650.6 673.2 L650.3 673.1 L650.0 673.1 L649.7 672.5 L649.3 672.7 L649.0 672.3 L648.7 672.4 L648.4 672.6 L648.0 672.5 L647.7 672.9 L647.4 672.5 L647.1 672.7 L646.7 672.4 L646.4 672.3 L646.1 672.4 L645.8 672.6 L645.4 672.3 L645.1 672.0 L644.8 671.8 L644.5 671.8 L644.1 671.6 L643.8 671.7 L643.5 671.9 L643.2 672.1 L642.8 672.0 L642.5 671.9 L642.2 672.2 L641.9 672.5 L641.5 672.3 L641.2 672.2 L640.9 671.9 L640.6 672.0 L640.2 672.0 L639.9 672.1 L639.6 672.1 L639.3 671.9 L638.9 671.9 L638.6 671.7 L638.3 671.4 L638.0 671.3 Z" fill="#e9e9e9" stroke="none"/>
<path d="M638.0 668.5 L638.3 668.6 L638.6 668.9 L638.9 669.1 L639.3 669.0 L639.6 669.3 L639.9 669.3 L640.2 669.2 L640.6 669.1 L640.9 669.0 L641.2 669.4 L641.5 669.4 L641.9 669.6 L642.2 669.4 L642.5 669.1 L642.8 669.2 L643.2 669.3 L643.5 669.1 L643.8 668.9 L644.1 668.8 L644.5 669.0 L644.8 669.0 L645.1 669.1 L645.4 669.5 L645.8 669.8 L646.1 669.6 L646.4 669.4 L646.7 669.5 L647.1 669.8 L647.4 669.6 L647.7 670.0 L648.0 669.6 L648.4 669.8 L648.7 669.5 L649.0 669.4 L649.3 669.9 L649.7 669.7 L650.0 670.2 L650.3 670.3 L650.6 670.4 L651.0 670.5 L651.3 670.2 L651.6 670.1 L651.9 669.9 L652.3 669.7 L652.6 669.8 L652.9 669.7 L653.2 669.7 L653.6 669.5 L653.9 669.3 L654.2 669.0 L654.6 668.8 L654.9 668.3 L655.2 668.3 L655.5 667.7 L655.9 668.2 L656.2 668.2 L656.5 668.5 L656.8 668.6 L657.2 668.7 L657.5 668.7 L657.8 668.5 L658.1 668.2 L658.5 667.9 L658.8 667.4 L659.1 667.5 L659.4 667.7 L659.8 668.0 L660.1 667.8 L660.4 667.3 L660.7 667.3 L661.1 667.3 L661.4 667.2 L661.7 667.1 L662.0 666.7 L662.4 666.6 L662.7 666.3 L663.0 666.3 L663.3 666.5 L663.7 666.4 L664.0 666.0 L664.3 665.9 L664.6 665.9 L665.0 666.1 L665.3 666.0 L665.6 665.6 L665.9 665.6 L666.3 665.7 L666.6 665.7 L666.9 665.9 L667.2 665.6 L667.6 665.4 L667.9 665.1 L668.2 665.2 L668.5 665.2 L668.9 664.8 L669.2 664.5 L669.5 664.6 L669.8 664.5 L670.2 664.3 L670.5 664.1 L670.8 664.0 L671.2 663.7 L671.5 663.5 L671.8 663.6 L672.1 663.7 L672.5 663.8 L672.8 663.5 L673.1 663.3 L673.4 663.1 L673.8 663.4 L674.1 663.5 L674.4 663.4 L674.7 662.9 L675.1 663.0 L675.4 663.1 L675.7 663.3 L676.0 662.9 L676.4 662.5 L676.7 662.3 L677.0 662.1 L677.3 662.2 L677.7 662.0 L678.0 662.3 L678.3 662.0 L678.6 662.0 L679.0 662.0 L679.3 661.9 L679.6 662.0 L679.9 661.6 L680.3 661.6 L680.6 661.1 L680.9 661.2 L681.2 661.2 L681.6 661.3 L681.9 661.1 L682.2 660.9 L682.5 660.8 L682.9 660.8 L683.2 660.5 L683.5 660.4 L683.8 660.1 L684.2 660.2 L684.5 659.8 L684.8 659.7 L685.1 659.5 L685.5 659.8 L685.8 659.6 L686.1 659.0 L686.4 658.9 L686.8 658.8 L687.1 659.0 L687.4 658.8 L687.8 658.4 L688.1 658.1 L688.4 658.4 L688.7 658.4 L689.1 658.4 L689.4 658.1 L689.7 658.2 L690.0 658.2 L690.4 657.6 L690.7 657.4 L691.0 657.5 L691.3 657.1 L691.7 656.8 L692.0 656.6 L692.3 656.6 L692.6 656.3 L693.0 656.3 L693.3 656.1 L693.6 656.1 L693.9 656.0 L694.3 655.8 L694.6 655.7 L694.9 655.0 L695.2 654.8 L695.6 654.3 L695.9 654.3 L696.2 654.6 L696.5 654.9 L696.9 655.0 L697.2 654.8 L697.5 654.6 L697.8 654.4 L698.2 654.6 L698.5 654.5 L698.8 655.0 L699.1 655.2 L699.5 655.5 L699.8 655.3 L700.1 655.2 L700.4 655.0 L700.8 655.2 L701.1 655.0 L701.4 655.2 L701.7 655.2 L702.1 655.0 L702.4 654.5 L702.7 654.5 L703.0 654.7 L703.4 654.9 L703.7 654.8 L704.0 655.0 L704.4 654.9 L704.7 654.3 L705.0 654.1 L705.3 654.1 L705.7 654.4 L706.0 654.3 L706.3 654.4 L706.6 654.1 L707.0 654.0 L707.3 654.2 L707.6 654.6 L707.9 654.8 L708.3 654.7 L708.6 654.6 L708.9 654.6 L709.2 654.4 L709.6 654.4 L709.9 654.2 L710.2 654.2 L710.5 654.2 L710.9 654.1 L711.2 654.5 L711.5 654.6 L711.8 654.8 L712.2 654.7 L712.5 654.5 L712.8 654.3 L713.1 654.0 L713.5 653.7 L713.8 653.7 L714.1 653.8 L714.4 653.9 L714.8 653.8 L715.1 653.6 L715.4 653.4 L715.7 653.4 L716.1 653.5 L716.4 653.8 L716.7 653.6 L717.0 653.6 L717.4 653.7 L717.7 653.9 L718.0 654.0 L718.3 653.5 L718.7 652.9 L719.0 652.7 L719.3 652.7 L719.7 652.9 L720.0 653.1 L720.3 653.3 L720.6 653.2 L721.0 653.0 L721.3 652.8 L721.6 653.3 L721.9 653.3 L722.3 653.3 L722.6 653.2 L722.9 653.1 L723.2 653.0 L723.6 652.9 L723.9 652.9 L724.2 653.1 L724.5 652.8 L724.9 652.5 L725.2 652.2 L725.5 652.0 L725.8 652.0 L726.2 651.9 L726.5 652.1 L726.8 651.9 L727.1 651.6 L727.5 651.3 L727.8 651.6 L728.1 651.5 L728.4 651.4 L728.8 651.0 L729.1 650.9 L729.4 650.6 L729.7 650.8 L730.1 650.7 L730.4 651.1 L730.7 650.8 L731.0 650.6 L731.4 650.4 L731.7 650.5 L732.0 650.8 L732.3 650.3 L732.7 650.2 L733.0 650.0 L733.3 650.0 L733.6 649.6 L734.0 649.5 L734.3 649.5 L734.6 649.5 L734.9 649.3 L735.3 649.2 L735.6 649.0 L735.9 649.3 L736.3 649.4 L736.6 649.1 L736.9 648.8 L737.2 648.9 L737.6 648.9 L737.9 649.1 L738.2 648.9 L738.5 649.0 L738.9 649.0 L739.2 648.7 L739.5 648.9 L739.8 648.4 L740.2 648.0 L740.5 648.1 L740.8 648.2 L741.1 648.6 L741.5 648.3 L741.8 648.4 L742.1 648.7 L742.4 648.4 L742.8 648.3 L743.1 647.9 L743.4 647.9 L743.7 647.7 L744.1 647.6 L744.4 647.5 L744.7 647.7 L745.0 648.1 L745.4 648.3 L745.7 648.1 L746.0 647.6 L746.3 647.2" stroke="#6a3fa0" stroke-width="0.9" fill="none" stroke-linejoin="round"/>
<line x1="637.65" y1="678.70" x2="746.75" y2="678.70" stroke="#444" stroke-width="1.3"/>
<line x1="648.80" y1="678.70" x2="648.80" y2="681.60" stroke="#444" stroke-width="0.9"/>
<line x1="692.20" y1="678.70" x2="692.20" y2="681.60" stroke="#444" stroke-width="0.9"/>
<line x1="735.60" y1="678.70" x2="735.60" y2="681.60" stroke="#444" stroke-width="0.9"/>
<text x="691.5" y="448.2" text-anchor="middle">Search</text>
<text x="691.5" y="458.2" text-anchor="middle">start</text>
<line x1="692.20" y1="464.50" x2="692.20" y2="468.40" stroke="#c77dc0" stroke-width="0.9"/><polygon points="692.20,472.40 690.10,468.40 692.20,468.40 694.30,468.40" fill="#c77dc0"/>
<line x1="803.30" y1="482.00" x2="803.30" y2="678.00" stroke="#333" stroke-width="1.0" stroke-dasharray="1.2 5.6"/>
<line x1="810.20" y1="474.00" x2="810.20" y2="678.00" stroke="#aaa" stroke-width="0.8" stroke-dasharray="1 2.4"/>
<path d="M756.0 505.5 L756.3 506.5 L756.6 507.4 L756.9 506.5 L757.3 504.5 L757.6 504.4 L757.9 505.7 L758.2 504.5 L758.6 504.6 L758.9 504.0 L759.2 504.1 L759.5 504.2 L759.9 504.0 L760.2 504.4 L760.5 505.5 L760.8 505.5 L761.2 503.4 L761.5 500.9 L761.8 500.5 L762.1 500.5 L762.5 502.3 L762.8 502.9 L763.1 502.1 L763.4 503.6 L763.8 503.6 L764.1 500.3 L764.4 501.0 L764.7 502.2 L765.1 500.0 L765.4 498.5 L765.7 498.9 L766.0 499.7 L766.4 500.8 L766.7 500.5 L767.0 500.7 L767.3 499.9 L767.7 497.8 L768.0 497.8 L768.3 499.4 L768.6 500.3 L769.0 498.8 L769.3 497.5 L769.6 498.4 L769.9 499.6 L770.3 500.0 L770.6 499.5 L770.9 498.5 L771.2 498.9 L771.6 497.8 L771.9 497.4 L772.2 498.8 L772.6 498.0 L772.9 497.0 L773.2 496.7 L773.5 498.0 L773.9 496.9 L774.2 493.4 L774.5 493.5 L774.8 496.3 L775.2 496.3 L775.5 494.0 L775.8 497.1 L776.1 499.2 L776.5 496.0 L776.8 495.4 L777.1 497.1 L777.4 495.2 L777.8 493.8 L778.1 494.6 L778.4 492.5 L778.7 492.1 L779.1 492.1 L779.4 491.8 L779.7 493.8 L780.0 494.4 L780.4 494.6 L780.7 492.4 L781.0 491.5 L781.3 492.1 L781.7 492.0 L782.0 491.6 L782.3 493.4 L782.6 492.2 L783.0 489.9 L783.3 488.9 L783.6 488.7 L783.9 491.4 L784.3 491.8 L784.6 491.1 L784.9 491.1 L785.2 489.3 L785.6 488.4 L785.9 489.1 L786.2 490.6 L786.5 489.4 L786.9 487.1 L787.2 486.0 L787.5 485.1 L787.8 486.8 L788.2 488.7 L788.5 487.5 L788.8 486.6 L789.2 486.3 L789.5 485.0 L789.8 485.8 L790.1 486.7 L790.5 486.4 L790.8 485.9 L791.1 485.3 L791.4 483.4 L791.8 484.7 L792.1 485.7 L792.4 481.7 L792.7 482.4 L793.1 485.1 L793.4 483.8 L793.7 483.8 L794.0 484.7 L794.4 483.2 L794.7 483.2 L795.0 483.6 L795.3 482.9 L795.7 482.3 L796.0 482.3 L796.3 481.3 L796.6 480.4 L797.0 479.6 L797.3 477.9 L797.6 479.4 L797.9 482.4 L798.3 481.0 L798.6 479.4 L798.9 477.6 L799.2 478.0 L799.6 478.9 L799.9 477.6 L800.2 476.3 L800.5 477.4 L800.9 475.7 L801.2 472.7 L801.5 473.4 L801.8 474.0 L802.2 473.7 L802.5 473.6 L802.8 473.5 L803.1 475.6 L803.5 474.9 L803.8 473.5 L804.1 473.9 L804.4 475.0 L804.8 475.8 L805.1 474.2 L805.4 475.8 L805.8 477.2 L806.1 476.2 L806.4 476.0 L806.7 476.3 L807.1 477.0 L807.4 477.4 L807.7 479.1 L808.0 478.9 L808.4 477.5 L808.7 479.9 L809.0 481.5 L809.3 480.5 L809.7 479.5 L810.0 479.8 L810.3 479.2 L810.6 479.6 L811.0 480.8 L811.3 480.4 L811.6 479.6 L811.9 479.7 L812.3 480.4 L812.6 481.9 L812.9 482.1 L813.2 482.3 L813.6 482.6 L813.9 484.8 L814.2 484.8 L814.5 481.9 L814.9 482.6 L815.2 484.1 L815.5 485.3 L815.8 485.7 L816.2 486.7 L816.5 486.8 L816.8 487.0 L817.1 488.4 L817.5 487.9 L817.8 488.2 L818.1 489.9 L818.4 488.8 L818.8 490.0 L819.1 490.6 L819.4 489.1 L819.7 489.4 L820.1 491.8 L820.4 492.7 L820.7 491.5 L821.0 491.9 L821.4 493.9 L821.7 494.0 L822.0 495.3 L822.4 496.9 L822.7 496.4 L823.0 495.4 L823.3 495.6 L823.7 497.5 L824.0 497.5 L824.3 498.6 L824.6 500.1 L825.0 500.6 L825.3 499.8 L825.6 499.8 L825.9 501.1 L826.3 500.4 L826.6 500.4 L826.9 499.6 L827.2 498.0 L827.6 498.2 L827.9 499.1 L828.2 502.0 L828.5 503.8 L828.9 501.7 L829.2 501.2 L829.5 501.6 L829.8 503.6 L830.2 503.2 L830.5 499.9 L830.8 501.4 L831.1 504.5 L831.5 504.1 L831.8 503.7 L832.1 504.4 L832.4 504.0 L832.8 505.2 L833.1 505.0 L833.4 505.1 L833.7 507.3 L834.1 504.8 L834.4 502.4 L834.7 503.4 L835.0 503.9 L835.4 503.4 L835.7 503.3 L836.0 505.3 L836.3 505.7 L836.7 506.3 L837.0 506.9 L837.3 508.2 L837.7 508.2 L838.0 506.5 L838.3 506.9 L838.6 508.4 L839.0 510.1 L839.3 508.5 L839.6 507.4 L839.9 508.0 L840.3 507.6 L840.6 509.2 L840.9 511.0 L841.2 510.1 L841.6 507.9 L841.9 509.3 L842.2 510.3 L842.5 511.5 L842.9 511.6 L843.2 509.2 L843.5 508.1 L843.8 508.2 L844.2 507.9 L844.5 509.9 L844.8 510.1 L845.1 511.3 L845.5 510.6 L845.8 509.4 L846.1 510.8 L846.4 510.7 L846.8 510.5 L847.1 511.1 L847.4 511.4 L847.7 512.0 L848.1 512.1 L848.4 513.0 L848.7 512.4 L849.0 512.6 L849.4 512.4 L849.7 512.0 L850.0 513.5 L850.3 515.1 L850.7 515.0 L851.0 514.1 L851.3 514.0 L851.6 513.1 L852.0 513.6 L852.3 513.2 L852.6 513.7 L852.9 514.9 L853.3 515.4 L853.6 515.6 L853.9 515.6 L854.3 514.8 L854.6 514.4 L854.9 515.6 L855.2 516.9 L855.6 516.9 L855.9 515.4 L856.2 515.3 L856.5 516.0 L856.9 516.6 L857.2 515.3 L857.5 514.4 L857.8 515.8 L858.2 514.5 L858.5 516.2 L858.8 517.7 L859.1 515.6 L859.5 516.4 L859.8 518.3 L860.1 517.1 L860.4 516.8 L860.8 517.3 L861.1 517.1 L861.4 517.7 L861.7 518.5 L862.1 517.6 L862.4 517.6 L862.7 516.5 L863.0 516.1 L863.4 517.4 L863.4 524.0 L863.0 522.6 L862.7 523.1 L862.4 524.2 L862.1 524.2 L861.7 525.1 L861.4 524.3 L861.1 523.7 L860.8 523.9 L860.4 523.4 L860.1 523.6 L859.8 524.8 L859.5 523.0 L859.1 522.1 L858.8 524.2 L858.5 522.7 L858.2 521.0 L857.8 522.3 L857.5 520.9 L857.2 521.9 L856.9 523.2 L856.5 522.6 L856.2 521.9 L855.9 522.0 L855.6 523.5 L855.2 523.5 L854.9 522.1 L854.6 520.9 L854.3 521.3 L853.9 522.2 L853.6 522.2 L853.3 522.0 L852.9 521.5 L852.6 520.3 L852.3 519.7 L852.0 520.2 L851.6 519.7 L851.3 520.6 L851.0 520.6 L850.7 521.6 L850.3 521.7 L850.0 520.0 L849.7 518.6 L849.4 518.9 L849.0 519.1 L848.7 519.0 L848.4 519.6 L848.1 518.7 L847.7 518.6 L847.4 517.9 L847.1 517.7 L846.8 517.0 L846.4 517.3 L846.1 517.4 L845.8 516.0 L845.5 517.2 L845.1 517.9 L844.8 516.7 L844.5 516.4 L844.2 514.5 L843.8 514.8 L843.5 514.7 L843.2 515.7 L842.9 518.1 L842.5 518.1 L842.2 516.8 L841.9 515.9 L841.6 514.5 L841.2 516.7 L840.9 517.6 L840.6 515.8 L840.3 514.2 L839.9 514.6 L839.6 514.0 L839.3 515.1 L839.0 516.7 L838.6 515.0 L838.3 513.5 L838.0 513.1 L837.7 514.8 L837.3 514.7 L837.0 513.5 L836.7 512.9 L836.3 512.3 L836.0 511.8 L835.7 509.9 L835.4 510.0 L835.0 510.5 L834.7 510.0 L834.4 508.9 L834.1 511.3 L833.7 513.9 L833.4 511.7 L833.1 511.5 L832.8 511.8 L832.4 510.6 L832.1 511.0 L831.8 510.2 L831.5 510.7 L831.1 511.1 L830.8 508.0 L830.5 506.5 L830.2 509.7 L829.8 510.2 L829.5 508.2 L829.2 507.7 L828.9 508.3 L828.5 510.4 L828.2 508.5 L827.9 505.7 L827.6 504.8 L827.2 504.5 L826.9 506.2 L826.6 507.0 L826.3 507.0 L825.9 507.7 L825.6 506.4 L825.3 506.4 L825.0 507.2 L824.6 506.7 L824.3 505.2 L824.0 504.1 L823.7 504.1 L823.3 502.2 L823.0 502.0 L822.7 503.0 L822.4 503.5 L822.0 501.9 L821.7 500.6 L821.4 500.5 L821.0 498.4 L820.7 498.0 L820.4 499.3 L820.1 498.4 L819.7 496.0 L819.4 495.7 L819.1 497.2 L818.8 496.6 L818.4 495.4 L818.1 496.5 L817.8 494.8 L817.5 494.5 L817.1 495.0 L816.8 493.6 L816.5 493.3 L816.2 493.3 L815.8 492.3 L815.5 491.8 L815.2 490.7 L814.9 489.2 L814.5 488.5 L814.2 491.4 L813.9 491.3 L813.6 489.1 L813.2 488.9 L812.9 488.6 L812.6 488.5 L812.3 487.0 L811.9 486.3 L811.6 486.1 L811.3 487.0 L811.0 487.4 L810.6 486.2 L810.3 485.8 L810.0 486.3 L809.7 486.1 L809.3 487.1 L809.0 488.1 L808.7 486.5 L808.4 484.1 L808.0 485.5 L807.7 485.7 L807.4 483.9 L807.1 483.6 L806.7 482.9 L806.4 482.6 L806.1 482.8 L805.8 483.7 L805.4 482.3 L805.1 480.8 L804.8 482.4 L804.4 481.6 L804.1 480.4 L803.8 480.1 L803.5 481.4 L803.1 482.2 L802.8 480.1 L802.5 480.2 L802.2 480.3 L801.8 480.6 L801.5 480.0 L801.2 479.3 L800.9 482.3 L800.5 484.0 L800.2 482.8 L799.9 484.2 L799.6 485.4 L799.2 484.6 L798.9 484.2 L798.6 485.9 L798.3 487.6 L797.9 489.0 L797.6 485.9 L797.3 484.5 L797.0 486.2 L796.6 487.0 L796.3 487.9 L796.0 488.8 L795.7 488.9 L795.3 489.5 L795.0 490.1 L794.7 489.8 L794.4 489.8 L794.0 491.3 L793.7 490.4 L793.4 490.3 L793.1 491.7 L792.7 489.0 L792.4 488.2 L792.1 492.3 L791.8 491.3 L791.4 490.0 L791.1 491.8 L790.8 492.4 L790.5 493.0 L790.1 493.3 L789.8 492.4 L789.5 491.6 L789.2 492.9 L788.8 493.1 L788.5 494.1 L788.2 495.3 L787.8 493.4 L787.5 491.7 L787.2 492.6 L786.9 493.7 L786.5 495.9 L786.2 497.2 L785.9 495.7 L785.6 495.0 L785.2 495.9 L784.9 497.6 L784.6 497.7 L784.3 498.4 L783.9 498.0 L783.6 495.3 L783.3 495.5 L783.0 496.4 L782.6 498.8 L782.3 499.9 L782.0 498.2 L781.7 498.6 L781.3 498.7 L781.0 498.0 L780.7 499.0 L780.4 501.1 L780.0 501.0 L779.7 500.3 L779.4 498.3 L779.1 498.7 L778.7 498.6 L778.4 499.1 L778.1 501.1 L777.8 500.4 L777.4 501.8 L777.1 503.6 L776.8 502.0 L776.5 502.6 L776.1 505.8 L775.8 503.6 L775.5 500.6 L775.2 502.9 L774.8 502.9 L774.5 500.1 L774.2 500.0 L773.9 503.5 L773.5 504.6 L773.2 503.3 L772.9 503.5 L772.6 504.6 L772.2 505.4 L771.9 504.0 L771.6 504.4 L771.2 505.5 L770.9 505.1 L770.6 506.0 L770.3 506.6 L769.9 506.2 L769.6 504.9 L769.3 504.1 L769.0 505.4 L768.6 506.9 L768.3 506.0 L768.0 504.4 L767.7 504.4 L767.3 506.5 L767.0 507.3 L766.7 507.1 L766.4 507.4 L766.0 506.3 L765.7 505.4 L765.4 505.1 L765.1 506.5 L764.7 508.8 L764.4 507.6 L764.1 506.8 L763.8 510.2 L763.4 510.2 L763.1 508.7 L762.8 509.5 L762.5 508.9 L762.1 507.1 L761.8 507.1 L761.5 507.5 L761.2 510.0 L760.8 512.1 L760.5 512.1 L760.2 511.0 L759.9 510.6 L759.5 510.8 L759.2 510.7 L758.9 510.6 L758.6 511.1 L758.2 511.1 L757.9 512.3 L757.6 510.9 L757.3 511.1 L756.9 513.0 L756.6 514.0 L756.3 513.1 L756.0 512.0 Z" fill="#e9e9e9" stroke="none"/>
<path d="M756.0 508.8 L756.3 509.8 L756.6 510.7 L756.9 509.8 L757.3 507.8 L757.6 507.6 L757.9 509.0 L758.2 507.8 L758.6 507.8 L758.9 507.3 L759.2 507.4 L759.5 507.5 L759.9 507.3 L760.2 507.7 L760.5 508.8 L760.8 508.8 L761.2 506.7 L761.5 504.2 L761.8 503.8 L762.1 503.8 L762.5 505.6 L762.8 506.2 L763.1 505.4 L763.4 506.9 L763.8 506.9 L764.1 503.5 L764.4 504.3 L764.7 505.5 L765.1 503.3 L765.4 501.8 L765.7 502.2 L766.0 503.0 L766.4 504.1 L766.7 503.8 L767.0 504.0 L767.3 503.2 L767.7 501.1 L768.0 501.1 L768.3 502.7 L768.6 503.6 L769.0 502.1 L769.3 500.8 L769.6 501.7 L769.9 502.9 L770.3 503.3 L770.6 502.8 L770.9 501.8 L771.2 502.2 L771.6 501.1 L771.9 500.7 L772.2 502.1 L772.6 501.3 L772.9 500.2 L773.2 500.0 L773.5 501.3 L773.9 500.2 L774.2 496.7 L774.5 496.8 L774.8 499.6 L775.2 499.6 L775.5 497.3 L775.8 500.3 L776.1 502.5 L776.5 499.3 L776.8 498.7 L777.1 500.3 L777.4 498.5 L777.8 497.1 L778.1 497.9 L778.4 495.8 L778.7 495.4 L779.1 495.4 L779.4 495.0 L779.7 497.0 L780.0 497.7 L780.4 497.8 L780.7 495.7 L781.0 494.8 L781.3 495.4 L781.7 495.3 L782.0 494.9 L782.3 496.7 L782.6 495.5 L783.0 493.1 L783.3 492.2 L783.6 492.0 L783.9 494.7 L784.3 495.1 L784.6 494.4 L784.9 494.4 L785.2 492.6 L785.6 491.7 L785.9 492.4 L786.2 493.9 L786.5 492.7 L786.9 490.4 L787.2 489.3 L787.5 488.4 L787.8 490.1 L788.2 492.0 L788.5 490.8 L788.8 489.9 L789.2 489.6 L789.5 488.3 L789.8 489.1 L790.1 490.0 L790.5 489.7 L790.8 489.2 L791.1 488.6 L791.4 486.7 L791.8 488.0 L792.1 489.0 L792.4 484.9 L792.7 485.7 L793.1 488.4 L793.4 487.1 L793.7 487.1 L794.0 488.0 L794.4 486.5 L794.7 486.5 L795.0 486.9 L795.3 486.2 L795.7 485.6 L796.0 485.5 L796.3 484.6 L796.6 483.7 L797.0 482.9 L797.3 481.2 L797.6 482.6 L797.9 485.7 L798.3 484.3 L798.6 482.6 L798.9 480.9 L799.2 481.3 L799.6 482.1 L799.9 480.9 L800.2 479.5 L800.5 480.7 L800.9 479.0 L801.2 476.0 L801.5 476.7 L801.8 477.3 L802.2 477.0 L802.5 476.9 L802.8 476.8 L803.1 478.9 L803.5 478.1 L803.8 476.8 L804.1 477.1 L804.4 478.3 L804.8 479.1 L805.1 477.5 L805.4 479.0 L805.8 480.4 L806.1 479.5 L806.4 479.3 L806.7 479.6 L807.1 480.3 L807.4 480.6 L807.7 482.4 L808.0 482.2 L808.4 480.8 L808.7 483.2 L809.0 484.8 L809.3 483.8 L809.7 482.8 L810.0 483.0 L810.3 482.5 L810.6 482.9 L811.0 484.1 L811.3 483.7 L811.6 482.8 L811.9 483.0 L812.3 483.7 L812.6 485.2 L812.9 485.4 L813.2 485.6 L813.6 485.9 L813.9 488.1 L814.2 488.1 L814.5 485.2 L814.9 485.9 L815.2 487.4 L815.5 488.6 L815.8 489.0 L816.2 490.0 L816.5 490.1 L816.8 490.3 L817.1 491.7 L817.5 491.2 L817.8 491.5 L818.1 493.2 L818.4 492.1 L818.8 493.3 L819.1 493.9 L819.4 492.4 L819.7 492.7 L820.1 495.1 L820.4 496.0 L820.7 494.8 L821.0 495.1 L821.4 497.2 L821.7 497.3 L822.0 498.6 L822.4 500.2 L822.7 499.7 L823.0 498.7 L823.3 498.9 L823.7 500.8 L824.0 500.8 L824.3 501.9 L824.6 503.4 L825.0 503.9 L825.3 503.1 L825.6 503.1 L825.9 504.4 L826.3 503.7 L826.6 503.7 L826.9 502.9 L827.2 501.2 L827.6 501.5 L827.9 502.4 L828.2 505.3 L828.5 507.1 L828.9 505.0 L829.2 504.5 L829.5 504.9 L829.8 506.9 L830.2 506.4 L830.5 503.2 L830.8 504.7 L831.1 507.8 L831.5 507.4 L831.8 506.9 L832.1 507.7 L832.4 507.3 L832.8 508.5 L833.1 508.2 L833.4 508.4 L833.7 510.6 L834.1 508.0 L834.4 505.6 L834.7 506.7 L835.0 507.2 L835.4 506.7 L835.7 506.6 L836.0 508.5 L836.3 509.0 L836.7 509.6 L837.0 510.2 L837.3 511.5 L837.7 511.5 L838.0 509.8 L838.3 510.2 L838.6 511.7 L839.0 513.4 L839.3 511.8 L839.6 510.7 L839.9 511.3 L840.3 510.9 L840.6 512.5 L840.9 514.3 L841.2 513.4 L841.6 511.2 L841.9 512.6 L842.2 513.6 L842.5 514.8 L842.9 514.9 L843.2 512.4 L843.5 511.4 L843.8 511.5 L844.2 511.2 L844.5 513.1 L844.8 513.4 L845.1 514.6 L845.5 513.9 L845.8 512.7 L846.1 514.1 L846.4 514.0 L846.8 513.8 L847.1 514.4 L847.4 514.7 L847.7 515.3 L848.1 515.4 L848.4 516.3 L848.7 515.7 L849.0 515.9 L849.4 515.7 L849.7 515.3 L850.0 516.8 L850.3 518.4 L850.7 518.3 L851.0 517.3 L851.3 517.3 L851.6 516.4 L852.0 516.9 L852.3 516.4 L852.6 517.0 L852.9 518.2 L853.3 518.7 L853.6 518.9 L853.9 518.9 L854.3 518.1 L854.6 517.6 L854.9 518.9 L855.2 520.2 L855.6 520.2 L855.9 518.7 L856.2 518.6 L856.5 519.3 L856.9 519.9 L857.2 518.6 L857.5 517.7 L857.8 519.0 L858.2 517.7 L858.5 519.5 L858.8 521.0 L859.1 518.9 L859.5 519.7 L859.8 521.5 L860.1 520.4 L860.4 520.1 L860.8 520.6 L861.1 520.4 L861.4 521.0 L861.7 521.8 L862.1 520.9 L862.4 520.9 L862.7 519.8 L863.0 519.3 L863.4 520.7" stroke="#222" stroke-width="0.7" fill="none" stroke-linejoin="round"/>
<path d="M756.0 587.7 L756.3 588.2 L756.6 588.2 L756.9 588.3 L757.3 588.1 L757.6 588.6 L757.9 588.5 L758.2 588.5 L758.6 588.1 L758.9 588.1 L759.2 587.7 L759.5 588.0 L759.9 587.6 L760.2 587.6 L760.5 587.1 L760.8 587.1 L761.2 587.4 L761.5 587.6 L761.8 587.8 L762.1 587.7 L762.5 587.8 L762.8 587.8 L763.1 587.7 L763.4 587.9 L763.8 587.7 L764.1 587.5 L764.4 586.9 L764.7 587.2 L765.1 587.0 L765.4 587.1 L765.7 587.2 L766.0 587.5 L766.4 587.5 L766.7 587.1 L767.0 587.0 L767.3 587.1 L767.7 587.3 L768.0 587.3 L768.3 587.3 L768.6 587.2 L769.0 587.3 L769.3 587.5 L769.6 587.5 L769.9 587.8 L770.3 587.4 L770.6 587.5 L770.9 587.2 L771.2 587.4 L771.6 587.3 L771.9 587.4 L772.2 587.7 L772.6 587.8 L772.9 587.9 L773.2 587.9 L773.5 587.9 L773.9 587.9 L774.2 587.4 L774.5 587.8 L774.8 587.9 L775.2 588.2 L775.5 587.9 L775.8 587.7 L776.1 587.4 L776.5 587.2 L776.8 587.5 L777.1 587.8 L777.4 588.0 L777.8 587.6 L778.1 587.3 L778.4 587.3 L778.7 587.7 L779.1 588.2 L779.4 588.3 L779.7 587.9 L780.0 587.6 L780.4 587.4 L780.7 587.6 L781.0 587.8 L781.3 587.9 L781.7 587.8 L782.0 587.7 L782.3 587.8 L782.6 587.6 L783.0 587.6 L783.3 587.5 L783.6 587.9 L783.9 588.0 L784.3 588.4 L784.6 588.5 L784.9 588.7 L785.2 588.3 L785.6 588.3 L785.9 588.1 L786.2 588.0 L786.5 588.0 L786.9 587.9 L787.2 588.2 L787.5 588.2 L787.8 588.4 L788.2 588.4 L788.5 588.3 L788.8 588.1 L789.2 588.3 L789.5 588.2 L789.8 588.8 L790.1 589.0 L790.5 589.3 L790.8 589.2 L791.1 588.8 L791.4 588.5 L791.8 588.2 L792.1 588.4 L792.4 588.4 L792.7 588.3 L793.1 588.0 L793.4 588.0 L793.7 587.9 L794.0 587.6 L794.4 588.0 L794.7 588.5 L795.0 588.5 L795.3 588.0 L795.7 587.6 L796.0 587.6 L796.3 587.8 L796.6 588.0 L797.0 588.0 L797.3 587.9 L797.6 587.4 L797.9 587.5 L798.3 587.8 L798.6 587.8 L798.9 587.5 L799.2 587.1 L799.6 587.0 L799.9 587.0 L800.2 587.0 L800.5 587.4 L800.9 587.0 L801.2 586.8 L801.5 586.4 L801.8 586.5 L802.2 586.6 L802.5 586.8 L802.8 587.2 L803.1 587.3 L803.5 587.1 L803.8 586.9 L804.1 586.9 L804.4 587.2 L804.8 587.2 L805.1 587.4 L805.4 587.2 L805.8 587.1 L806.1 586.9 L806.4 586.7 L806.7 586.9 L807.1 587.0 L807.4 587.2 L807.7 587.1 L808.0 587.0 L808.4 587.3 L808.7 587.1 L809.0 587.5 L809.3 588.1 L809.7 589.0 L810.0 589.3 L810.3 589.2 L810.6 589.3 L811.0 589.4 L811.3 589.8 L811.6 590.2 L811.9 590.3 L812.3 590.6 L812.6 590.6 L812.9 591.3 L813.2 591.5 L813.6 591.9 L813.9 592.1 L814.2 592.3 L814.5 592.5 L814.9 593.0 L815.2 593.3 L815.5 593.6 L815.8 593.7 L816.2 593.7 L816.5 594.2 L816.8 594.9 L817.1 595.5 L817.5 595.8 L817.8 595.7 L818.1 595.7 L818.4 596.1 L818.8 596.7 L819.1 597.3 L819.4 597.1 L819.7 596.9 L820.1 597.7 L820.4 597.8 L820.7 598.5 L821.0 598.3 L821.4 599.1 L821.7 599.4 L822.0 599.6 L822.4 600.1 L822.7 600.6 L823.0 600.5 L823.3 600.6 L823.7 600.8 L824.0 601.3 L824.3 601.7 L824.6 602.1 L825.0 602.5 L825.3 602.6 L825.6 602.4 L825.9 602.5 L826.3 602.6 L826.6 603.1 L826.9 603.1 L827.2 603.3 L827.6 603.6 L827.9 604.3 L828.2 604.8 L828.5 605.2 L828.9 605.1 L829.2 605.2 L829.5 605.1 L829.8 605.1 L830.2 605.4 L830.5 605.7 L830.8 605.5 L831.1 605.1 L831.5 604.9 L831.8 604.9 L832.1 605.1 L832.4 605.2 L832.8 605.4 L833.1 605.4 L833.4 605.3 L833.7 605.7 L834.1 605.5 L834.4 605.4 L834.7 605.3 L835.0 605.4 L835.4 605.5 L835.7 605.5 L836.0 605.4 L836.3 605.7 L836.7 605.7 L837.0 605.8 L837.3 605.7 L837.7 605.8 L838.0 605.8 L838.3 605.8 L838.6 605.7 L839.0 605.7 L839.3 605.4 L839.6 605.2 L839.9 604.9 L840.3 604.9 L840.6 605.3 L840.9 605.0 L841.2 604.9 L841.6 604.8 L841.9 605.2 L842.2 605.2 L842.5 605.1 L842.9 605.0 L843.2 605.1 L843.5 604.9 L843.8 604.8 L844.2 604.7 L844.5 605.0 L844.8 604.8 L845.1 605.3 L845.5 604.9 L845.8 605.0 L846.1 604.3 L846.4 604.3 L846.8 604.3 L847.1 604.3 L847.4 604.4 L847.7 604.2 L848.1 604.2 L848.4 604.2 L848.7 604.2 L849.0 604.1 L849.4 604.0 L849.7 604.0 L850.0 604.0 L850.3 603.9 L850.7 603.8 L851.0 603.4 L851.3 603.1 L851.6 603.1 L852.0 603.0 L852.3 603.2 L852.6 602.8 L852.9 602.6 L853.3 602.5 L853.6 602.5 L853.9 602.7 L854.3 602.4 L854.6 602.2 L854.9 602.0 L855.2 602.0 L855.6 602.2 L855.9 602.2 L856.2 602.1 L856.5 602.0 L856.9 601.7 L857.2 601.5 L857.5 601.7 L857.8 602.0 L858.2 601.8 L858.5 601.7 L858.8 601.5 L859.1 601.5 L859.5 602.0 L859.8 601.9 L860.1 602.4 L860.4 602.0 L860.8 602.3 L861.1 602.0 L861.4 601.9 L861.7 601.8 L862.1 602.1 L862.4 602.2 L862.7 601.9 L863.0 601.4 L863.4 601.7 L863.4 606.7 L863.0 606.4 L862.7 606.9 L862.4 607.2 L862.1 607.1 L861.7 606.8 L861.4 606.9 L861.1 607.0 L860.8 607.3 L860.4 607.0 L860.1 607.4 L859.8 606.9 L859.5 607.0 L859.1 606.6 L858.8 606.5 L858.5 606.7 L858.2 606.8 L857.8 607.0 L857.5 606.7 L857.2 606.5 L856.9 606.7 L856.5 607.0 L856.2 607.2 L855.9 607.2 L855.6 607.2 L855.2 607.0 L854.9 607.0 L854.6 607.2 L854.3 607.4 L853.9 607.7 L853.6 607.5 L853.3 607.5 L852.9 607.6 L852.6 607.8 L852.3 608.2 L852.0 608.0 L851.6 608.1 L851.3 608.1 L851.0 608.5 L850.7 608.8 L850.3 608.9 L850.0 609.1 L849.7 609.0 L849.4 609.0 L849.0 609.1 L848.7 609.2 L848.4 609.2 L848.1 609.2 L847.7 609.2 L847.4 609.4 L847.1 609.3 L846.8 609.3 L846.4 609.3 L846.1 609.3 L845.8 610.0 L845.5 609.9 L845.1 610.3 L844.8 609.8 L844.5 610.0 L844.2 609.7 L843.8 609.8 L843.5 609.9 L843.2 610.1 L842.9 610.0 L842.5 610.1 L842.2 610.2 L841.9 610.2 L841.6 609.8 L841.2 609.9 L840.9 610.0 L840.6 610.3 L840.3 609.9 L839.9 609.9 L839.6 610.2 L839.3 610.4 L839.0 610.7 L838.6 610.7 L838.3 610.8 L838.0 610.8 L837.7 610.8 L837.3 610.7 L837.0 610.8 L836.7 610.7 L836.3 610.7 L836.0 610.4 L835.7 610.5 L835.4 610.5 L835.0 610.4 L834.7 610.3 L834.4 610.4 L834.1 610.5 L833.7 610.7 L833.4 610.3 L833.1 610.4 L832.8 610.4 L832.4 610.2 L832.1 610.1 L831.8 609.9 L831.5 609.9 L831.1 610.1 L830.8 610.5 L830.5 610.7 L830.2 610.4 L829.8 610.1 L829.5 610.1 L829.2 610.2 L828.9 610.1 L828.5 610.2 L828.2 609.8 L827.9 609.3 L827.6 608.6 L827.2 608.3 L826.9 608.1 L826.6 608.1 L826.3 607.6 L825.9 607.5 L825.6 607.4 L825.3 607.6 L825.0 607.5 L824.6 607.1 L824.3 606.7 L824.0 606.3 L823.7 605.8 L823.3 605.6 L823.0 605.5 L822.7 605.6 L822.4 605.1 L822.0 604.6 L821.7 604.4 L821.4 604.1 L821.0 603.3 L820.7 603.5 L820.4 602.8 L820.1 602.8 L819.7 602.0 L819.4 602.1 L819.1 602.4 L818.8 601.7 L818.4 601.1 L818.1 600.7 L817.8 600.7 L817.5 600.8 L817.1 600.5 L816.8 599.9 L816.5 599.2 L816.2 598.8 L815.8 598.7 L815.5 598.6 L815.2 598.3 L814.9 598.0 L814.5 597.5 L814.2 597.3 L813.9 597.1 L813.6 596.9 L813.2 596.5 L812.9 596.3 L812.6 595.6 L812.3 595.6 L811.9 595.3 L811.6 595.2 L811.3 594.8 L811.0 594.4 L810.6 594.3 L810.3 594.2 L810.0 594.3 L809.7 594.0 L809.3 593.1 L809.0 592.5 L808.7 592.1 L808.4 592.3 L808.0 592.0 L807.7 592.1 L807.4 592.2 L807.1 592.0 L806.7 591.9 L806.4 591.7 L806.1 591.9 L805.8 592.1 L805.4 592.2 L805.1 592.4 L804.8 592.2 L804.4 592.2 L804.1 591.9 L803.8 592.0 L803.5 592.1 L803.1 592.3 L802.8 592.3 L802.5 591.8 L802.2 591.6 L801.8 591.5 L801.5 591.4 L801.2 591.8 L800.9 592.0 L800.5 592.4 L800.2 592.0 L799.9 592.0 L799.6 592.0 L799.2 592.1 L798.9 592.5 L798.6 592.8 L798.3 592.8 L797.9 592.6 L797.6 592.4 L797.3 592.9 L797.0 593.0 L796.6 593.0 L796.3 592.8 L796.0 592.6 L795.7 592.6 L795.3 593.0 L795.0 593.5 L794.7 593.5 L794.4 593.0 L794.0 592.6 L793.7 593.0 L793.4 593.0 L793.1 593.0 L792.7 593.3 L792.4 593.4 L792.1 593.4 L791.8 593.2 L791.4 593.5 L791.1 593.8 L790.8 594.2 L790.5 594.3 L790.1 594.0 L789.8 593.8 L789.5 593.2 L789.2 593.3 L788.8 593.1 L788.5 593.3 L788.2 593.4 L787.8 593.4 L787.5 593.2 L787.2 593.2 L786.9 592.9 L786.5 593.0 L786.2 593.0 L785.9 593.1 L785.6 593.3 L785.2 593.3 L784.9 593.7 L784.6 593.5 L784.3 593.4 L783.9 593.0 L783.6 592.9 L783.3 592.5 L783.0 592.6 L782.6 592.6 L782.3 592.8 L782.0 592.7 L781.7 592.8 L781.3 592.9 L781.0 592.8 L780.7 592.6 L780.4 592.4 L780.0 592.6 L779.7 592.9 L779.4 593.3 L779.1 593.2 L778.7 592.7 L778.4 592.3 L778.1 592.3 L777.8 592.6 L777.4 593.0 L777.1 592.8 L776.8 592.5 L776.5 592.2 L776.1 592.4 L775.8 592.7 L775.5 592.9 L775.2 593.2 L774.8 593.0 L774.5 592.8 L774.2 592.4 L773.9 592.9 L773.5 592.9 L773.2 592.9 L772.9 592.9 L772.6 592.8 L772.2 592.7 L771.9 592.4 L771.6 592.3 L771.2 592.4 L770.9 592.3 L770.6 592.6 L770.3 592.4 L769.9 592.8 L769.6 592.5 L769.3 592.5 L769.0 592.3 L768.6 592.2 L768.3 592.3 L768.0 592.3 L767.7 592.3 L767.3 592.1 L767.0 592.1 L766.7 592.1 L766.4 592.5 L766.0 592.5 L765.7 592.2 L765.4 592.1 L765.1 592.0 L764.7 592.2 L764.4 591.9 L764.1 592.5 L763.8 592.7 L763.4 592.9 L763.1 592.7 L762.8 592.8 L762.5 592.8 L762.1 592.8 L761.8 592.8 L761.5 592.6 L761.2 592.4 L760.8 592.1 L760.5 592.1 L760.2 592.7 L759.9 592.6 L759.5 593.0 L759.2 592.7 L758.9 593.1 L758.6 593.1 L758.2 593.5 L757.9 593.5 L757.6 593.6 L757.3 593.1 L756.9 593.3 L756.6 593.2 L756.3 593.2 L756.0 592.7 Z" fill="#e9e9e9" stroke="none"/>
<path d="M756.0 590.2 L756.3 590.7 L756.6 590.7 L756.9 590.8 L757.3 590.6 L757.6 591.1 L757.9 591.0 L758.2 591.0 L758.6 590.6 L758.9 590.6 L759.2 590.2 L759.5 590.5 L759.9 590.1 L760.2 590.2 L760.5 589.6 L760.8 589.6 L761.2 589.9 L761.5 590.1 L761.8 590.3 L762.1 590.3 L762.5 590.3 L762.8 590.3 L763.1 590.2 L763.4 590.4 L763.8 590.2 L764.1 590.0 L764.4 589.4 L764.7 589.7 L765.1 589.5 L765.4 589.6 L765.7 589.7 L766.0 590.0 L766.4 590.0 L766.7 589.6 L767.0 589.5 L767.3 589.6 L767.7 589.8 L768.0 589.8 L768.3 589.8 L768.6 589.7 L769.0 589.8 L769.3 590.0 L769.6 590.0 L769.9 590.3 L770.3 589.9 L770.6 590.0 L770.9 589.8 L771.2 589.9 L771.6 589.8 L771.9 589.9 L772.2 590.2 L772.6 590.3 L772.9 590.4 L773.2 590.4 L773.5 590.4 L773.9 590.4 L774.2 589.9 L774.5 590.3 L774.8 590.5 L775.2 590.7 L775.5 590.4 L775.8 590.2 L776.1 589.9 L776.5 589.7 L776.8 590.0 L777.1 590.3 L777.4 590.5 L777.8 590.1 L778.1 589.8 L778.4 589.8 L778.7 590.2 L779.1 590.7 L779.4 590.8 L779.7 590.4 L780.0 590.1 L780.4 589.9 L780.7 590.1 L781.0 590.3 L781.3 590.4 L781.7 590.3 L782.0 590.2 L782.3 590.3 L782.6 590.1 L783.0 590.1 L783.3 590.0 L783.6 590.4 L783.9 590.5 L784.3 590.9 L784.6 591.0 L784.9 591.2 L785.2 590.8 L785.6 590.8 L785.9 590.6 L786.2 590.5 L786.5 590.5 L786.9 590.4 L787.2 590.7 L787.5 590.7 L787.8 590.9 L788.2 590.9 L788.5 590.8 L788.8 590.6 L789.2 590.8 L789.5 590.7 L789.8 591.3 L790.1 591.5 L790.5 591.8 L790.8 591.7 L791.1 591.3 L791.4 591.0 L791.8 590.7 L792.1 590.9 L792.4 590.9 L792.7 590.8 L793.1 590.5 L793.4 590.5 L793.7 590.5 L794.0 590.1 L794.4 590.5 L794.7 591.0 L795.0 591.0 L795.3 590.5 L795.7 590.1 L796.0 590.1 L796.3 590.3 L796.6 590.5 L797.0 590.5 L797.3 590.4 L797.6 589.9 L797.9 590.0 L798.3 590.3 L798.6 590.3 L798.9 590.0 L799.2 589.6 L799.6 589.5 L799.9 589.5 L800.2 589.5 L800.5 589.9 L800.9 589.5 L801.2 589.3 L801.5 588.9 L801.8 589.0 L802.2 589.1 L802.5 589.3 L802.8 589.7 L803.1 589.8 L803.5 589.6 L803.8 589.4 L804.1 589.4 L804.4 589.7 L804.8 589.7 L805.1 589.9 L805.4 589.7 L805.8 589.6 L806.1 589.4 L806.4 589.2 L806.7 589.4 L807.1 589.5 L807.4 589.7 L807.7 589.6 L808.0 589.5 L808.4 589.8 L808.7 589.6 L809.0 590.0 L809.3 590.6 L809.7 591.5 L810.0 591.8 L810.3 591.7 L810.6 591.8 L811.0 591.9 L811.3 592.3 L811.6 592.7 L811.9 592.8 L812.3 593.1 L812.6 593.1 L812.9 593.8 L813.2 594.0 L813.6 594.4 L813.9 594.6 L814.2 594.8 L814.5 595.0 L814.9 595.5 L815.2 595.8 L815.5 596.1 L815.8 596.2 L816.2 596.2 L816.5 596.7 L816.8 597.4 L817.1 598.0 L817.5 598.3 L817.8 598.2 L818.1 598.2 L818.4 598.6 L818.8 599.2 L819.1 599.8 L819.4 599.6 L819.7 599.5 L820.1 600.3 L820.4 600.3 L820.7 601.0 L821.0 600.8 L821.4 601.6 L821.7 601.9 L822.0 602.1 L822.4 602.6 L822.7 603.1 L823.0 603.0 L823.3 603.1 L823.7 603.3 L824.0 603.8 L824.3 604.2 L824.6 604.6 L825.0 605.0 L825.3 605.1 L825.6 604.9 L825.9 605.0 L826.3 605.1 L826.6 605.6 L826.9 605.6 L827.2 605.8 L827.6 606.1 L827.9 606.8 L828.2 607.3 L828.5 607.7 L828.9 607.6 L829.2 607.7 L829.5 607.6 L829.8 607.6 L830.2 607.9 L830.5 608.2 L830.8 608.0 L831.1 607.6 L831.5 607.4 L831.8 607.4 L832.1 607.6 L832.4 607.7 L832.8 607.9 L833.1 607.9 L833.4 607.8 L833.7 608.2 L834.1 608.0 L834.4 607.9 L834.7 607.8 L835.0 607.9 L835.4 608.0 L835.7 608.0 L836.0 607.9 L836.3 608.2 L836.7 608.2 L837.0 608.3 L837.3 608.2 L837.7 608.3 L838.0 608.3 L838.3 608.3 L838.6 608.2 L839.0 608.2 L839.3 607.9 L839.6 607.7 L839.9 607.4 L840.3 607.4 L840.6 607.8 L840.9 607.5 L841.2 607.4 L841.6 607.3 L841.9 607.7 L842.2 607.7 L842.5 607.6 L842.9 607.5 L843.2 607.6 L843.5 607.4 L843.8 607.3 L844.2 607.2 L844.5 607.5 L844.8 607.3 L845.1 607.8 L845.5 607.4 L845.8 607.5 L846.1 606.8 L846.4 606.8 L846.8 606.8 L847.1 606.8 L847.4 606.9 L847.7 606.7 L848.1 606.7 L848.4 606.7 L848.7 606.7 L849.0 606.6 L849.4 606.5 L849.7 606.5 L850.0 606.5 L850.3 606.4 L850.7 606.3 L851.0 605.9 L851.3 605.6 L851.6 605.6 L852.0 605.5 L852.3 605.7 L852.6 605.3 L852.9 605.1 L853.3 605.0 L853.6 605.0 L853.9 605.2 L854.3 604.9 L854.6 604.7 L854.9 604.5 L855.2 604.5 L855.6 604.7 L855.9 604.7 L856.2 604.6 L856.5 604.5 L856.9 604.2 L857.2 604.0 L857.5 604.2 L857.8 604.5 L858.2 604.3 L858.5 604.2 L858.8 604.0 L859.1 604.0 L859.5 604.5 L859.8 604.4 L860.1 604.9 L860.4 604.5 L860.8 604.8 L861.1 604.5 L861.4 604.4 L861.7 604.3 L862.1 604.6 L862.4 604.7 L862.7 604.4 L863.0 603.9 L863.4 604.2" stroke="#d6a3cf" stroke-width="0.9" fill="none" stroke-linejoin="round"/>
<path d="M756.0 649.3 L756.3 648.8 L756.6 648.7 L756.9 648.8 L757.3 648.9 L757.6 648.7 L757.9 649.2 L758.2 649.3 L758.6 649.4 L758.9 648.9 L759.2 648.8 L759.5 648.9 L759.9 648.5 L760.2 648.8 L760.5 648.8 L760.8 649.1 L761.2 648.9 L761.5 649.1 L761.8 649.1 L762.1 648.9 L762.5 648.8 L762.8 648.7 L763.1 648.5 L763.4 648.3 L763.8 648.2 L764.1 648.6 L764.4 648.9 L764.7 649.0 L765.1 649.3 L765.4 649.2 L765.7 649.2 L766.0 649.2 L766.4 649.0 L766.7 649.2 L767.0 649.2 L767.3 649.4 L767.7 649.2 L768.0 649.1 L768.3 649.1 L768.6 649.2 L769.0 648.9 L769.3 649.0 L769.6 648.9 L769.9 648.9 L770.3 648.6 L770.6 648.6 L770.9 648.5 L771.2 648.8 L771.6 649.1 L771.9 649.0 L772.2 648.6 L772.6 648.5 L772.9 648.3 L773.2 648.7 L773.5 649.0 L773.9 649.3 L774.2 649.0 L774.5 648.5 L774.8 647.9 L775.2 648.1 L775.5 647.9 L775.8 648.7 L776.1 648.4 L776.5 648.7 L776.8 648.6 L777.1 648.6 L777.4 648.9 L777.8 648.8 L778.1 648.9 L778.4 648.7 L778.7 648.4 L779.1 648.8 L779.4 648.8 L779.7 649.0 L780.0 648.5 L780.4 648.7 L780.7 648.2 L781.0 648.3 L781.3 648.2 L781.7 648.4 L782.0 648.2 L782.3 647.7 L782.6 648.0 L783.0 647.8 L783.3 647.8 L783.6 647.5 L783.9 647.8 L784.3 647.6 L784.6 647.5 L784.9 647.6 L785.2 648.0 L785.6 647.8 L785.9 647.8 L786.2 647.3 L786.5 647.5 L786.9 647.0 L787.2 647.5 L787.5 647.5 L787.8 647.8 L788.2 647.3 L788.5 647.2 L788.8 647.3 L789.2 647.8 L789.5 648.0 L789.8 648.0 L790.1 647.9 L790.5 648.1 L790.8 648.2 L791.1 648.1 L791.4 648.3 L791.8 648.4 L792.1 648.5 L792.4 648.3 L792.7 648.5 L793.1 648.6 L793.4 648.7 L793.7 648.7 L794.0 649.3 L794.4 649.5 L794.7 649.6 L795.0 649.9 L795.3 650.2 L795.7 650.6 L796.0 650.5 L796.3 650.6 L796.6 650.3 L797.0 650.3 L797.3 650.2 L797.6 650.3 L797.9 649.9 L798.3 649.5 L798.6 649.4 L798.9 649.3 L799.2 649.6 L799.6 649.5 L799.9 649.4 L800.2 649.4 L800.5 649.5 L800.9 649.4 L801.2 649.4 L801.5 649.2 L801.8 649.4 L802.2 649.1 L802.5 649.1 L802.8 649.4 L803.1 649.1 L803.5 649.3 L803.8 649.2 L804.1 648.7 L804.4 648.2 L804.8 647.7 L805.1 647.8 L805.4 648.3 L805.8 648.8 L806.1 648.9 L806.4 648.4 L806.7 647.8 L807.1 647.5 L807.4 647.3 L807.7 646.7 L808.0 646.6 L808.4 646.4 L808.7 646.5 L809.0 646.2 L809.3 645.8 L809.7 645.5 L810.0 645.7 L810.3 645.8 L810.6 645.7 L811.0 644.9 L811.3 644.5 L811.6 644.0 L811.9 644.1 L812.3 643.8 L812.6 643.6 L812.9 643.2 L813.2 642.8 L813.6 642.8 L813.9 643.0 L814.2 643.3 L814.5 642.9 L814.9 642.8 L815.2 642.8 L815.5 642.5 L815.8 642.7 L816.2 642.3 L816.5 642.1 L816.8 641.6 L817.1 641.3 L817.5 641.3 L817.8 641.1 L818.1 641.2 L818.4 641.2 L818.8 641.1 L819.1 640.8 L819.4 640.9 L819.7 640.5 L820.1 640.1 L820.4 639.7 L820.7 639.4 L821.0 639.1 L821.4 638.6 L821.7 638.4 L822.0 638.7 L822.4 638.6 L822.7 638.2 L823.0 637.9 L823.3 637.3 L823.7 636.9 L824.0 636.6 L824.3 636.4 L824.6 636.6 L825.0 636.2 L825.3 636.4 L825.6 636.3 L825.9 636.3 L826.3 636.7 L826.6 636.8 L826.9 637.0 L827.2 636.7 L827.6 636.7 L827.9 636.4 L828.2 636.2 L828.5 636.0 L828.9 636.0 L829.2 636.2 L829.5 636.0 L829.8 635.6 L830.2 635.2 L830.5 635.0 L830.8 635.2 L831.1 635.5 L831.5 635.6 L831.8 635.4 L832.1 635.4 L832.4 635.3 L832.8 635.3 L833.1 635.5 L833.4 635.5 L833.7 635.5 L834.1 635.2 L834.4 635.1 L834.7 635.3 L835.0 635.2 L835.4 635.0 L835.7 634.8 L836.0 634.9 L836.3 635.3 L836.7 635.2 L837.0 635.0 L837.3 635.0 L837.7 634.9 L838.0 634.9 L838.3 635.2 L838.6 635.3 L839.0 635.4 L839.3 635.5 L839.6 635.4 L839.9 635.3 L840.3 635.4 L840.6 635.4 L840.9 635.7 L841.2 635.6 L841.6 635.9 L841.9 635.9 L842.2 635.9 L842.5 635.6 L842.9 635.9 L843.2 635.7 L843.5 635.9 L843.8 636.0 L844.2 635.9 L844.5 635.9 L844.8 635.8 L845.1 636.3 L845.5 636.5 L845.8 636.4 L846.1 636.3 L846.4 636.8 L846.8 636.6 L847.1 636.5 L847.4 636.1 L847.7 636.1 L848.1 636.0 L848.4 636.1 L848.7 636.3 L849.0 636.1 L849.4 636.0 L849.7 636.1 L850.0 636.8 L850.3 636.9 L850.7 637.0 L851.0 637.2 L851.3 637.4 L851.6 637.7 L852.0 637.7 L852.3 637.8 L852.6 637.5 L852.9 637.6 L853.3 638.0 L853.6 638.2 L853.9 638.8 L854.3 638.8 L854.6 638.5 L854.9 638.4 L855.2 638.8 L855.6 639.3 L855.9 639.2 L856.2 639.2 L856.5 639.5 L856.9 639.4 L857.2 639.3 L857.5 639.0 L857.8 638.8 L858.2 638.6 L858.5 638.7 L858.8 638.9 L859.1 638.8 L859.5 638.6 L859.8 638.5 L860.1 638.3 L860.4 638.1 L860.8 637.9 L861.1 638.5 L861.4 638.6 L861.7 638.8 L862.1 638.5 L862.4 638.6 L862.7 638.3 L863.0 638.2 L863.4 638.1 L863.4 643.8 L863.0 643.9 L862.7 644.0 L862.4 644.3 L862.1 644.2 L861.7 644.5 L861.4 644.3 L861.1 644.2 L860.8 643.6 L860.4 643.8 L860.1 644.0 L859.8 644.2 L859.5 644.3 L859.1 644.5 L858.8 644.6 L858.5 644.4 L858.2 644.3 L857.8 644.5 L857.5 644.7 L857.2 645.0 L856.9 645.1 L856.5 645.2 L856.2 644.9 L855.9 644.9 L855.6 645.0 L855.2 644.5 L854.9 644.1 L854.6 644.2 L854.3 644.5 L853.9 644.5 L853.6 643.9 L853.3 643.7 L852.9 643.3 L852.6 643.2 L852.3 643.5 L852.0 643.4 L851.6 643.4 L851.3 643.1 L851.0 642.9 L850.7 642.7 L850.3 642.6 L850.0 642.5 L849.7 641.8 L849.4 641.7 L849.0 641.8 L848.7 642.0 L848.4 641.8 L848.1 641.7 L847.7 641.8 L847.4 641.8 L847.1 642.2 L846.8 642.3 L846.4 642.5 L846.1 642.0 L845.8 642.1 L845.5 642.2 L845.1 642.0 L844.8 641.5 L844.5 641.6 L844.2 641.6 L843.8 641.7 L843.5 641.6 L843.2 641.4 L842.9 641.6 L842.5 641.3 L842.2 641.6 L841.9 641.6 L841.6 641.6 L841.2 641.3 L840.9 641.4 L840.6 641.1 L840.3 641.1 L839.9 641.0 L839.6 641.1 L839.3 641.2 L839.0 641.1 L838.6 641.0 L838.3 640.9 L838.0 640.6 L837.7 640.6 L837.3 640.7 L837.0 640.7 L836.7 640.9 L836.3 641.0 L836.0 640.6 L835.7 640.5 L835.4 640.7 L835.0 640.9 L834.7 641.0 L834.4 640.8 L834.1 640.9 L833.7 641.2 L833.4 641.2 L833.1 641.2 L832.8 641.0 L832.4 641.0 L832.1 641.1 L831.8 641.1 L831.5 641.3 L831.1 641.2 L830.8 640.9 L830.5 640.7 L830.2 640.9 L829.8 641.3 L829.5 641.7 L829.2 641.9 L828.9 641.7 L828.5 641.7 L828.2 641.9 L827.9 642.1 L827.6 642.4 L827.2 642.4 L826.9 642.7 L826.6 642.5 L826.3 642.4 L825.9 642.0 L825.6 642.0 L825.3 642.1 L825.0 641.9 L824.6 642.3 L824.3 642.1 L824.0 642.3 L823.7 642.6 L823.3 643.0 L823.0 643.6 L822.7 643.9 L822.4 644.3 L822.0 644.4 L821.7 644.1 L821.4 644.3 L821.0 644.8 L820.7 645.1 L820.4 645.4 L820.1 645.8 L819.7 646.2 L819.4 646.6 L819.1 646.5 L818.8 646.8 L818.4 646.9 L818.1 646.9 L817.8 646.8 L817.5 647.0 L817.1 647.0 L816.8 647.3 L816.5 647.8 L816.2 648.0 L815.8 648.4 L815.5 648.2 L815.2 648.5 L814.9 648.5 L814.5 648.6 L814.2 649.0 L813.9 648.7 L813.6 648.5 L813.2 648.5 L812.9 648.9 L812.6 649.3 L812.3 649.5 L811.9 649.8 L811.6 649.7 L811.3 650.2 L811.0 650.6 L810.6 651.4 L810.3 651.5 L810.0 651.4 L809.7 651.2 L809.3 651.5 L809.0 651.9 L808.7 652.2 L808.4 652.1 L808.0 652.3 L807.7 652.4 L807.4 653.0 L807.1 653.2 L806.7 653.5 L806.4 654.1 L806.1 654.6 L805.8 654.5 L805.4 654.0 L805.1 653.5 L804.8 653.4 L804.4 653.9 L804.1 654.4 L803.8 654.9 L803.5 655.0 L803.1 654.8 L802.8 655.1 L802.5 654.8 L802.2 654.8 L801.8 655.1 L801.5 654.9 L801.2 655.1 L800.9 655.1 L800.5 655.2 L800.2 655.1 L799.9 655.1 L799.6 655.2 L799.2 655.3 L798.9 655.0 L798.6 655.1 L798.3 655.2 L797.9 655.6 L797.6 656.0 L797.3 655.9 L797.0 656.0 L796.6 656.0 L796.3 656.3 L796.0 656.2 L795.7 656.3 L795.3 655.9 L795.0 655.6 L794.7 655.3 L794.4 655.2 L794.0 655.0 L793.7 654.4 L793.4 654.4 L793.1 654.3 L792.7 654.2 L792.4 654.0 L792.1 654.2 L791.8 654.1 L791.4 654.0 L791.1 653.8 L790.8 653.9 L790.5 653.8 L790.1 653.6 L789.8 653.7 L789.5 653.7 L789.2 653.5 L788.8 653.0 L788.5 652.9 L788.2 653.0 L787.8 653.5 L787.5 653.2 L787.2 653.2 L786.9 652.7 L786.5 653.2 L786.2 653.0 L785.9 653.5 L785.6 653.5 L785.2 653.7 L784.9 653.3 L784.6 653.2 L784.3 653.3 L783.9 653.5 L783.6 653.2 L783.3 653.5 L783.0 653.5 L782.6 653.7 L782.3 653.4 L782.0 653.9 L781.7 654.1 L781.3 653.9 L781.0 654.0 L780.7 653.9 L780.4 654.4 L780.0 654.2 L779.7 654.7 L779.4 654.5 L779.1 654.5 L778.7 654.1 L778.4 654.4 L778.1 654.6 L777.8 654.5 L777.4 654.6 L777.1 654.3 L776.8 654.3 L776.5 654.4 L776.1 654.1 L775.8 654.4 L775.5 653.6 L775.2 653.8 L774.8 653.6 L774.5 654.2 L774.2 654.7 L773.9 655.0 L773.5 654.7 L773.2 654.4 L772.9 654.0 L772.6 654.2 L772.2 654.3 L771.9 654.7 L771.6 654.8 L771.2 654.5 L770.9 654.2 L770.6 654.3 L770.3 654.3 L769.9 654.6 L769.6 654.6 L769.3 654.7 L769.0 654.6 L768.6 654.9 L768.3 654.8 L768.0 654.8 L767.7 654.9 L767.3 655.1 L767.0 654.9 L766.7 654.9 L766.4 654.7 L766.0 654.9 L765.7 654.9 L765.4 654.9 L765.1 655.0 L764.7 654.7 L764.4 654.6 L764.1 654.3 L763.8 653.9 L763.4 654.0 L763.1 654.2 L762.8 654.4 L762.5 654.5 L762.1 654.6 L761.8 654.8 L761.5 654.8 L761.2 654.6 L760.8 654.8 L760.5 654.5 L760.2 654.5 L759.9 654.2 L759.5 654.6 L759.2 654.5 L758.9 654.6 L758.6 655.1 L758.2 655.0 L757.9 654.9 L757.6 654.4 L757.3 654.6 L756.9 654.5 L756.6 654.4 L756.3 654.5 L756.0 655.0 Z" fill="#e9e9e9" stroke="none"/>
<path d="M756.0 652.1 L756.3 651.7 L756.6 651.6 L756.9 651.6 L757.3 651.8 L757.6 651.6 L757.9 652.0 L758.2 652.1 L758.6 652.2 L758.9 651.8 L759.2 651.7 L759.5 651.8 L759.9 651.4 L760.2 651.7 L760.5 651.6 L760.8 652.0 L761.2 651.7 L761.5 651.9 L761.8 652.0 L762.1 651.7 L762.5 651.6 L762.8 651.5 L763.1 651.4 L763.4 651.2 L763.8 651.0 L764.1 651.4 L764.4 651.7 L764.7 651.9 L765.1 652.2 L765.4 652.1 L765.7 652.0 L766.0 652.0 L766.4 651.9 L766.7 652.1 L767.0 652.1 L767.3 652.3 L767.7 652.1 L768.0 651.9 L768.3 651.9 L768.6 652.0 L769.0 651.7 L769.3 651.8 L769.6 651.7 L769.9 651.8 L770.3 651.5 L770.6 651.4 L770.9 651.4 L771.2 651.6 L771.6 651.9 L771.9 651.9 L772.2 651.5 L772.6 651.3 L772.9 651.2 L773.2 651.5 L773.5 651.8 L773.9 652.1 L774.2 651.8 L774.5 651.4 L774.8 650.8 L775.2 651.0 L775.5 650.7 L775.8 651.5 L776.1 651.3 L776.5 651.6 L776.8 651.4 L777.1 651.5 L777.4 651.7 L777.8 651.7 L778.1 651.7 L778.4 651.6 L778.7 651.3 L779.1 651.7 L779.4 651.7 L779.7 651.9 L780.0 651.4 L780.4 651.5 L780.7 651.0 L781.0 651.2 L781.3 651.1 L781.7 651.2 L782.0 651.0 L782.3 650.6 L782.6 650.8 L783.0 650.6 L783.3 650.7 L783.6 650.4 L783.9 650.7 L784.3 650.5 L784.6 650.4 L784.9 650.5 L785.2 650.8 L785.6 650.7 L785.9 650.7 L786.2 650.2 L786.5 650.4 L786.9 649.9 L787.2 650.3 L787.5 650.3 L787.8 650.6 L788.2 650.1 L788.5 650.1 L788.8 650.1 L789.2 650.7 L789.5 650.9 L789.8 650.9 L790.1 650.8 L790.5 650.9 L790.8 651.1 L791.1 650.9 L791.4 651.1 L791.8 651.2 L792.1 651.4 L792.4 651.2 L792.7 651.3 L793.1 651.5 L793.4 651.6 L793.7 651.6 L794.0 652.2 L794.4 652.4 L794.7 652.5 L795.0 652.7 L795.3 653.1 L795.7 653.4 L796.0 653.3 L796.3 653.4 L796.6 653.1 L797.0 653.1 L797.3 653.0 L797.6 653.2 L797.9 652.8 L798.3 652.3 L798.6 652.2 L798.9 652.1 L799.2 652.4 L799.6 652.3 L799.9 652.2 L800.2 652.3 L800.5 652.4 L800.9 652.3 L801.2 652.2 L801.5 652.0 L801.8 652.2 L802.2 652.0 L802.5 652.0 L802.8 652.2 L803.1 651.9 L803.5 652.1 L803.8 652.1 L804.1 651.6 L804.4 651.1 L804.8 650.5 L805.1 650.7 L805.4 651.1 L805.8 651.7 L806.1 651.7 L806.4 651.2 L806.7 650.6 L807.1 650.3 L807.4 650.1 L807.7 649.6 L808.0 649.4 L808.4 649.3 L808.7 649.3 L809.0 649.1 L809.3 648.7 L809.7 648.3 L810.0 648.6 L810.3 648.6 L810.6 648.6 L811.0 647.8 L811.3 647.3 L811.6 646.9 L811.9 646.9 L812.3 646.6 L812.6 646.4 L812.9 646.1 L813.2 645.7 L813.6 645.7 L813.9 645.8 L814.2 646.1 L814.5 645.7 L814.9 645.6 L815.2 645.6 L815.5 645.4 L815.8 645.6 L816.2 645.2 L816.5 644.9 L816.8 644.5 L817.1 644.2 L817.5 644.2 L817.8 643.9 L818.1 644.0 L818.4 644.0 L818.8 643.9 L819.1 643.6 L819.4 643.8 L819.7 643.4 L820.1 643.0 L820.4 642.6 L820.7 642.2 L821.0 642.0 L821.4 641.5 L821.7 641.3 L822.0 641.6 L822.4 641.4 L822.7 641.0 L823.0 640.7 L823.3 640.2 L823.7 639.7 L824.0 639.5 L824.3 639.2 L824.6 639.4 L825.0 639.1 L825.3 639.2 L825.6 639.2 L825.9 639.2 L826.3 639.5 L826.6 639.7 L826.9 639.8 L827.2 639.6 L827.6 639.5 L827.9 639.3 L828.2 639.0 L828.5 638.9 L828.9 638.8 L829.2 639.0 L829.5 638.9 L829.8 638.4 L830.2 638.1 L830.5 637.9 L830.8 638.1 L831.1 638.4 L831.5 638.5 L831.8 638.3 L832.1 638.3 L832.4 638.1 L832.8 638.2 L833.1 638.4 L833.4 638.4 L833.7 638.3 L834.1 638.1 L834.4 638.0 L834.7 638.2 L835.0 638.0 L835.4 637.8 L835.7 637.6 L836.0 637.8 L836.3 638.1 L836.7 638.0 L837.0 637.9 L837.3 637.8 L837.7 637.8 L838.0 637.8 L838.3 638.0 L838.6 638.2 L839.0 638.2 L839.3 638.3 L839.6 638.3 L839.9 638.1 L840.3 638.3 L840.6 638.3 L840.9 638.5 L841.2 638.4 L841.6 638.8 L841.9 638.8 L842.2 638.8 L842.5 638.5 L842.9 638.7 L843.2 638.6 L843.5 638.7 L843.8 638.8 L844.2 638.7 L844.5 638.7 L844.8 638.7 L845.1 639.1 L845.5 639.3 L845.8 639.2 L846.1 639.2 L846.4 639.6 L846.8 639.5 L847.1 639.3 L847.4 638.9 L847.7 639.0 L848.1 638.9 L848.4 639.0 L848.7 639.1 L849.0 638.9 L849.4 638.8 L849.7 638.9 L850.0 639.7 L850.3 639.7 L850.7 639.9 L851.0 640.0 L851.3 640.3 L851.6 640.6 L852.0 640.6 L852.3 640.6 L852.6 640.4 L852.9 640.4 L853.3 640.8 L853.6 641.0 L853.9 641.7 L854.3 641.6 L854.6 641.4 L854.9 641.3 L855.2 641.6 L855.6 642.1 L855.9 642.1 L856.2 642.0 L856.5 642.3 L856.9 642.3 L857.2 642.2 L857.5 641.9 L857.8 641.6 L858.2 641.5 L858.5 641.6 L858.8 641.8 L859.1 641.7 L859.5 641.4 L859.8 641.3 L860.1 641.1 L860.4 640.9 L860.8 640.7 L861.1 641.4 L861.4 641.4 L861.7 641.7 L862.1 641.4 L862.4 641.5 L862.7 641.1 L863.0 641.0 L863.4 641.0" stroke="#6a3fa0" stroke-width="0.9" fill="none" stroke-linejoin="round"/>
<line x1="755.65" y1="678.70" x2="863.88" y2="678.70" stroke="#444" stroke-width="1.3"/>
<line x1="766.80" y1="678.70" x2="766.80" y2="681.60" stroke="#444" stroke-width="0.9"/>
<line x1="810.20" y1="678.70" x2="810.20" y2="681.60" stroke="#444" stroke-width="0.9"/>
<line x1="853.60" y1="678.70" x2="853.60" y2="681.60" stroke="#444" stroke-width="0.9"/>
<text x="808" y="448.2" text-anchor="middle">Abdomen bend</text>
<text x="808" y="458.2" text-anchor="middle">complete</text>
<line x1="810.20" y1="464.50" x2="810.20" y2="468.40" stroke="#5b3a9b" stroke-width="0.9"/><polygon points="810.20,472.40 808.10,468.40 810.20,468.40 812.30,468.40" fill="#5b3a9b"/>
<text x="530.8" y="690.6" text-anchor="middle">–20</text>
<text x="574.2" y="690.6" text-anchor="middle">0</text>
<text x="617.6" y="690.6" text-anchor="middle">20</text>
<text x="574.2" y="701.2" text-anchor="middle">Time (s)</text>
<text x="759" y="476.3" text-anchor="middle">Max.,</text>
<text x="759" y="485.8" text-anchor="middle">0.35</text>
<line x1="773.50" y1="478.20" x2="803.00" y2="478.20" stroke="#555" stroke-width="0.9" stroke-dasharray="1.2 6.3"/>
<line x1="803.50" y1="685.40" x2="809.80" y2="685.40" stroke="#111" stroke-width="1.6"/>
<text x="807" y="701.2" text-anchor="middle">Δ<tspan font-style="italic">T</tspan> = 3.3 s</text>
<line x1="820.00" y1="587.00" x2="816.76" y2="590.24" stroke="#d6a3cf" stroke-width="1.2"/><polygon points="814.50,592.50 815.42,588.89 816.76,590.24 818.11,591.58" fill="#d6a3cf"/>
<line x1="820.50" y1="653.50" x2="817.10" y2="650.22" stroke="#5b2d9b" stroke-width="1.2"/><polygon points="814.80,648.00 818.42,648.85 817.10,650.22 815.78,651.59" fill="#5b2d9b"/>
<line x1="770.50" y1="651.50" x2="772.96" y2="649.04" stroke="#5b2d9b" stroke-width="1.2"/><polygon points="774.80,647.20 774.09,650.17 772.96,649.04 771.83,647.91" fill="#5b2d9b"/>
</svg></body></html>
